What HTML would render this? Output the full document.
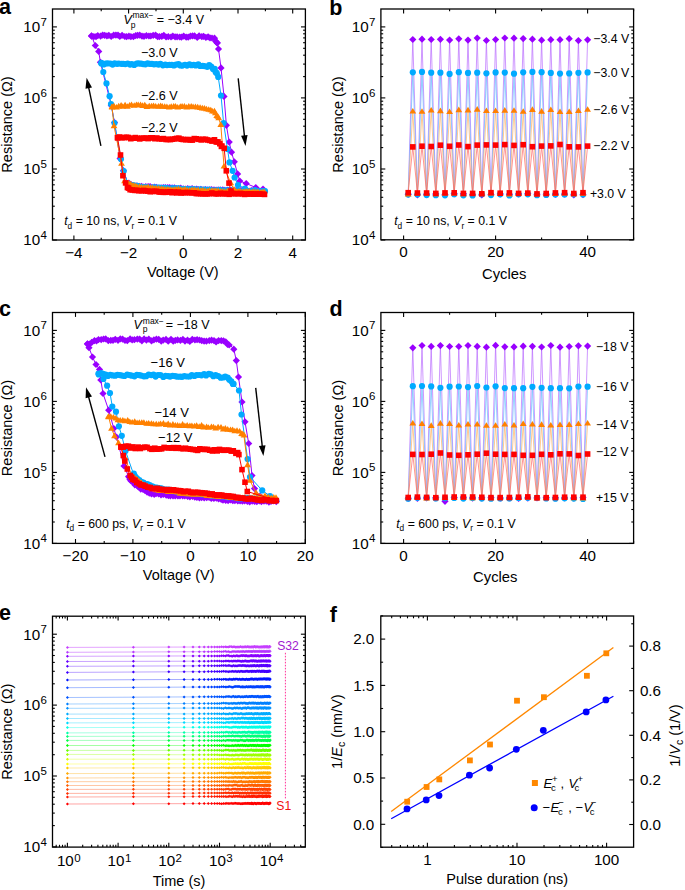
<!DOCTYPE html><html><head><meta charset="utf-8"><style>html,body{margin:0;padding:0;background:#fff;}svg{display:block;}</style></head><body>
<svg width="685" height="890" viewBox="0 0 685 890" style="font-family:'Liberation Sans', sans-serif">
<rect x="0" y="0" width="685" height="890" fill="#fff"/>
<rect x="52.5" y="9.0" width="252.9" height="231.0" fill="none" stroke="#000" stroke-width="1.3"/>
<line x1="73.9" y1="240.0" x2="73.9" y2="235.6" stroke="#000" stroke-width="1.1"/>
<line x1="73.9" y1="9.0" x2="73.9" y2="13.4" stroke="#000" stroke-width="1.1"/>
<line x1="128.6" y1="240.0" x2="128.6" y2="235.6" stroke="#000" stroke-width="1.1"/>
<line x1="128.6" y1="9.0" x2="128.6" y2="13.4" stroke="#000" stroke-width="1.1"/>
<line x1="183.3" y1="240.0" x2="183.3" y2="235.6" stroke="#000" stroke-width="1.1"/>
<line x1="183.3" y1="9.0" x2="183.3" y2="13.4" stroke="#000" stroke-width="1.1"/>
<line x1="238.0" y1="240.0" x2="238.0" y2="235.6" stroke="#000" stroke-width="1.1"/>
<line x1="238.0" y1="9.0" x2="238.0" y2="13.4" stroke="#000" stroke-width="1.1"/>
<line x1="292.7" y1="240.0" x2="292.7" y2="235.6" stroke="#000" stroke-width="1.1"/>
<line x1="292.7" y1="9.0" x2="292.7" y2="13.4" stroke="#000" stroke-width="1.1"/>
<line x1="101.2" y1="240.0" x2="101.2" y2="237.7" stroke="#000" stroke-width="1.1"/>
<line x1="101.2" y1="9.0" x2="101.2" y2="11.3" stroke="#000" stroke-width="1.1"/>
<line x1="156.0" y1="240.0" x2="156.0" y2="237.7" stroke="#000" stroke-width="1.1"/>
<line x1="156.0" y1="9.0" x2="156.0" y2="11.3" stroke="#000" stroke-width="1.1"/>
<line x1="210.7" y1="240.0" x2="210.7" y2="237.7" stroke="#000" stroke-width="1.1"/>
<line x1="210.7" y1="9.0" x2="210.7" y2="11.3" stroke="#000" stroke-width="1.1"/>
<line x1="265.4" y1="240.0" x2="265.4" y2="237.7" stroke="#000" stroke-width="1.1"/>
<line x1="265.4" y1="9.0" x2="265.4" y2="11.3" stroke="#000" stroke-width="1.1"/>
<line x1="52.5" y1="240.0" x2="56.9" y2="240.0" stroke="#000" stroke-width="1.1"/>
<line x1="305.4" y1="240.0" x2="301.0" y2="240.0" stroke="#000" stroke-width="1.1"/>
<line x1="52.5" y1="169.0" x2="56.9" y2="169.0" stroke="#000" stroke-width="1.1"/>
<line x1="305.4" y1="169.0" x2="301.0" y2="169.0" stroke="#000" stroke-width="1.1"/>
<line x1="52.5" y1="97.9" x2="56.9" y2="97.9" stroke="#000" stroke-width="1.1"/>
<line x1="305.4" y1="97.9" x2="301.0" y2="97.9" stroke="#000" stroke-width="1.1"/>
<line x1="52.5" y1="26.9" x2="56.9" y2="26.9" stroke="#000" stroke-width="1.1"/>
<line x1="305.4" y1="26.9" x2="301.0" y2="26.9" stroke="#000" stroke-width="1.1"/>
<line x1="52.5" y1="218.7" x2="54.8" y2="218.7" stroke="#000" stroke-width="1.1"/>
<line x1="305.4" y1="218.7" x2="303.1" y2="218.7" stroke="#000" stroke-width="1.1"/>
<line x1="52.5" y1="206.2" x2="54.8" y2="206.2" stroke="#000" stroke-width="1.1"/>
<line x1="305.4" y1="206.2" x2="303.1" y2="206.2" stroke="#000" stroke-width="1.1"/>
<line x1="52.5" y1="197.3" x2="54.8" y2="197.3" stroke="#000" stroke-width="1.1"/>
<line x1="305.4" y1="197.3" x2="303.1" y2="197.3" stroke="#000" stroke-width="1.1"/>
<line x1="52.5" y1="190.4" x2="54.8" y2="190.4" stroke="#000" stroke-width="1.1"/>
<line x1="305.4" y1="190.4" x2="303.1" y2="190.4" stroke="#000" stroke-width="1.1"/>
<line x1="52.5" y1="184.8" x2="54.8" y2="184.8" stroke="#000" stroke-width="1.1"/>
<line x1="305.4" y1="184.8" x2="303.1" y2="184.8" stroke="#000" stroke-width="1.1"/>
<line x1="52.5" y1="180.0" x2="54.8" y2="180.0" stroke="#000" stroke-width="1.1"/>
<line x1="305.4" y1="180.0" x2="303.1" y2="180.0" stroke="#000" stroke-width="1.1"/>
<line x1="52.5" y1="175.9" x2="54.8" y2="175.9" stroke="#000" stroke-width="1.1"/>
<line x1="305.4" y1="175.9" x2="303.1" y2="175.9" stroke="#000" stroke-width="1.1"/>
<line x1="52.5" y1="172.3" x2="54.8" y2="172.3" stroke="#000" stroke-width="1.1"/>
<line x1="305.4" y1="172.3" x2="303.1" y2="172.3" stroke="#000" stroke-width="1.1"/>
<line x1="52.5" y1="147.6" x2="54.8" y2="147.6" stroke="#000" stroke-width="1.1"/>
<line x1="305.4" y1="147.6" x2="303.1" y2="147.6" stroke="#000" stroke-width="1.1"/>
<line x1="52.5" y1="135.1" x2="54.8" y2="135.1" stroke="#000" stroke-width="1.1"/>
<line x1="305.4" y1="135.1" x2="303.1" y2="135.1" stroke="#000" stroke-width="1.1"/>
<line x1="52.5" y1="126.2" x2="54.8" y2="126.2" stroke="#000" stroke-width="1.1"/>
<line x1="305.4" y1="126.2" x2="303.1" y2="126.2" stroke="#000" stroke-width="1.1"/>
<line x1="52.5" y1="119.3" x2="54.8" y2="119.3" stroke="#000" stroke-width="1.1"/>
<line x1="305.4" y1="119.3" x2="303.1" y2="119.3" stroke="#000" stroke-width="1.1"/>
<line x1="52.5" y1="113.7" x2="54.8" y2="113.7" stroke="#000" stroke-width="1.1"/>
<line x1="305.4" y1="113.7" x2="303.1" y2="113.7" stroke="#000" stroke-width="1.1"/>
<line x1="52.5" y1="109.0" x2="54.8" y2="109.0" stroke="#000" stroke-width="1.1"/>
<line x1="305.4" y1="109.0" x2="303.1" y2="109.0" stroke="#000" stroke-width="1.1"/>
<line x1="52.5" y1="104.8" x2="54.8" y2="104.8" stroke="#000" stroke-width="1.1"/>
<line x1="305.4" y1="104.8" x2="303.1" y2="104.8" stroke="#000" stroke-width="1.1"/>
<line x1="52.5" y1="101.2" x2="54.8" y2="101.2" stroke="#000" stroke-width="1.1"/>
<line x1="305.4" y1="101.2" x2="303.1" y2="101.2" stroke="#000" stroke-width="1.1"/>
<line x1="52.5" y1="76.6" x2="54.8" y2="76.6" stroke="#000" stroke-width="1.1"/>
<line x1="305.4" y1="76.6" x2="303.1" y2="76.6" stroke="#000" stroke-width="1.1"/>
<line x1="52.5" y1="64.1" x2="54.8" y2="64.1" stroke="#000" stroke-width="1.1"/>
<line x1="305.4" y1="64.1" x2="303.1" y2="64.1" stroke="#000" stroke-width="1.1"/>
<line x1="52.5" y1="55.2" x2="54.8" y2="55.2" stroke="#000" stroke-width="1.1"/>
<line x1="305.4" y1="55.2" x2="303.1" y2="55.2" stroke="#000" stroke-width="1.1"/>
<line x1="52.5" y1="48.3" x2="54.8" y2="48.3" stroke="#000" stroke-width="1.1"/>
<line x1="305.4" y1="48.3" x2="303.1" y2="48.3" stroke="#000" stroke-width="1.1"/>
<line x1="52.5" y1="42.7" x2="54.8" y2="42.7" stroke="#000" stroke-width="1.1"/>
<line x1="305.4" y1="42.7" x2="303.1" y2="42.7" stroke="#000" stroke-width="1.1"/>
<line x1="52.5" y1="37.9" x2="54.8" y2="37.9" stroke="#000" stroke-width="1.1"/>
<line x1="305.4" y1="37.9" x2="303.1" y2="37.9" stroke="#000" stroke-width="1.1"/>
<line x1="52.5" y1="33.8" x2="54.8" y2="33.8" stroke="#000" stroke-width="1.1"/>
<line x1="305.4" y1="33.8" x2="303.1" y2="33.8" stroke="#000" stroke-width="1.1"/>
<line x1="52.5" y1="30.2" x2="54.8" y2="30.2" stroke="#000" stroke-width="1.1"/>
<line x1="305.4" y1="30.2" x2="303.1" y2="30.2" stroke="#000" stroke-width="1.1"/>
<text x="73.9" y="257.8" font-size="15.2" text-anchor="middle" fill="#000">−4</text>
<text x="128.6" y="257.8" font-size="15.2" text-anchor="middle" fill="#000">−2</text>
<text x="183.3" y="257.8" font-size="15.2" text-anchor="middle" fill="#000">0</text>
<text x="238.0" y="257.8" font-size="15.2" text-anchor="middle" fill="#000">2</text>
<text x="292.7" y="257.8" font-size="15.2" text-anchor="middle" fill="#000">4</text>
<text x="40.2" y="245.3" font-size="15.2" text-anchor="end" fill="#000">10</text>
<text x="40.6" y="238.8" font-size="11.5" text-anchor="start" fill="#000">4</text>
<text x="40.2" y="174.3" font-size="15.2" text-anchor="end" fill="#000">10</text>
<text x="40.6" y="167.8" font-size="11.5" text-anchor="start" fill="#000">5</text>
<text x="40.2" y="103.2" font-size="15.2" text-anchor="end" fill="#000">10</text>
<text x="40.6" y="96.7" font-size="11.5" text-anchor="start" fill="#000">6</text>
<text x="40.2" y="32.2" font-size="15.2" text-anchor="end" fill="#000">10</text>
<text x="40.6" y="25.7" font-size="11.5" text-anchor="start" fill="#000">7</text>
<text x="182.8" y="276.9" font-size="14.5" text-anchor="middle" fill="#000">Voltage (V)</text>
<text x="11.8" y="124.5" font-size="14.5" text-anchor="middle" fill="#000" transform="rotate(-90 11.8 124.5)">Resistance (Ω)</text>
<text x="-0.9" y="14.2" font-size="21.5" font-weight="bold">a</text>
<polyline points="91.5,35.8 120.0,35.8 160.0,36.1 200.0,36.6 210.0,37.0 214.5,39.0 217.5,43.0 218.5,49.0 221.0,67.9 224.0,96.4 226.4,125.3 229.2,142.1 231.5,152.2 234.3,161.8 237.6,173.9 239.8,181.0 246.2,183.5 255.8,187.5 263.0,189.0 264.5,191.5 240.0,190.3 200.0,189.3 160.0,187.7 135.0,186.0 128.0,183.5 123.4,170.7 120.1,158.6 114.5,122.5 111.3,105.6 100.4,62.3 98.7,51.4 95.3,45.5 91.5,35.8" fill="none" stroke="#9900ff" stroke-width="1.0" stroke-linejoin="round"/>
<path d="M91.6,32.6L95.2,36.2L91.6,39.8L88.0,36.2Z" fill="#9900ff"/>
<path d="M93.9,33.0L97.5,36.6L93.9,40.2L90.3,36.6Z" fill="#9900ff"/>
<path d="M96.0,33.0L99.6,36.6L96.0,40.2L92.4,36.6Z" fill="#9900ff"/>
<path d="M97.8,32.1L101.4,35.7L97.8,39.3L94.2,35.7Z" fill="#9900ff"/>
<path d="M100.6,32.5L104.2,36.1L100.6,39.7L97.0,36.1Z" fill="#9900ff"/>
<path d="M102.7,31.5L106.3,35.1L102.7,38.7L99.1,35.1Z" fill="#9900ff"/>
<path d="M104.7,31.7L108.3,35.3L104.7,38.9L101.1,35.3Z" fill="#9900ff"/>
<path d="M106.9,32.3L110.5,35.9L106.9,39.5L103.3,35.9Z" fill="#9900ff"/>
<path d="M108.8,31.7L112.4,35.3L108.8,38.9L105.2,35.3Z" fill="#9900ff"/>
<path d="M111.2,32.9L114.8,36.5L111.2,40.1L107.6,36.5Z" fill="#9900ff"/>
<path d="M113.7,31.6L117.3,35.2L113.7,38.8L110.1,35.2Z" fill="#9900ff"/>
<path d="M115.9,31.5L119.5,35.1L115.9,38.7L112.3,35.1Z" fill="#9900ff"/>
<path d="M118.0,31.5L121.6,35.1L118.0,38.7L114.4,35.1Z" fill="#9900ff"/>
<path d="M119.8,32.9L123.4,36.5L119.8,40.1L116.2,36.5Z" fill="#9900ff"/>
<path d="M122.1,31.7L125.7,35.3L122.1,38.9L118.5,35.3Z" fill="#9900ff"/>
<path d="M124.8,32.9L128.4,36.5L124.8,40.1L121.2,36.5Z" fill="#9900ff"/>
<path d="M126.6,33.1L130.2,36.7L126.6,40.3L123.0,36.7Z" fill="#9900ff"/>
<path d="M128.9,32.6L132.5,36.2L128.9,39.8L125.3,36.2Z" fill="#9900ff"/>
<path d="M130.9,33.1L134.5,36.7L130.9,40.3L127.3,36.7Z" fill="#9900ff"/>
<path d="M133.4,33.1L137.0,36.7L133.4,40.3L129.8,36.7Z" fill="#9900ff"/>
<path d="M135.7,32.0L139.3,35.6L135.7,39.2L132.1,35.6Z" fill="#9900ff"/>
<path d="M137.6,31.7L141.2,35.3L137.6,38.9L134.0,35.3Z" fill="#9900ff"/>
<path d="M139.7,31.6L143.3,35.2L139.7,38.8L136.1,35.2Z" fill="#9900ff"/>
<path d="M142.0,32.6L145.6,36.2L142.0,39.8L138.4,36.2Z" fill="#9900ff"/>
<path d="M144.0,32.7L147.6,36.3L144.0,39.9L140.4,36.3Z" fill="#9900ff"/>
<path d="M146.4,32.1L150.0,35.7L146.4,39.3L142.8,35.7Z" fill="#9900ff"/>
<path d="M148.9,32.4L152.5,36.0L148.9,39.6L145.3,36.0Z" fill="#9900ff"/>
<path d="M150.8,32.4L154.4,36.0L150.8,39.6L147.2,36.0Z" fill="#9900ff"/>
<path d="M153.2,31.7L156.8,35.3L153.2,38.9L149.6,35.3Z" fill="#9900ff"/>
<path d="M155.6,31.6L159.2,35.2L155.6,38.8L152.0,35.2Z" fill="#9900ff"/>
<path d="M157.6,33.1L161.2,36.7L157.6,40.3L154.0,36.7Z" fill="#9900ff"/>
<path d="M159.4,33.0L163.0,36.6L159.4,40.2L155.8,36.6Z" fill="#9900ff"/>
<path d="M161.8,32.7L165.4,36.3L161.8,39.9L158.2,36.3Z" fill="#9900ff"/>
<path d="M163.8,31.7L167.4,35.3L163.8,38.9L160.2,35.3Z" fill="#9900ff"/>
<path d="M166.1,33.4L169.7,37.0L166.1,40.6L162.5,37.0Z" fill="#9900ff"/>
<path d="M168.3,33.1L171.9,36.7L168.3,40.3L164.7,36.7Z" fill="#9900ff"/>
<path d="M171.0,33.4L174.6,37.0L171.0,40.6L167.4,37.0Z" fill="#9900ff"/>
<path d="M172.8,32.4L176.4,36.0L172.8,39.6L169.2,36.0Z" fill="#9900ff"/>
<path d="M175.1,33.2L178.7,36.8L175.1,40.4L171.5,36.8Z" fill="#9900ff"/>
<path d="M177.1,33.2L180.7,36.8L177.1,40.4L173.5,36.8Z" fill="#9900ff"/>
<path d="M179.7,33.4L183.3,37.0L179.7,40.6L176.1,37.0Z" fill="#9900ff"/>
<path d="M181.4,33.6L185.0,37.2L181.4,40.8L177.8,37.2Z" fill="#9900ff"/>
<path d="M183.7,32.5L187.3,36.1L183.7,39.7L180.1,36.1Z" fill="#9900ff"/>
<path d="M186.2,33.6L189.8,37.2L186.2,40.8L182.6,37.2Z" fill="#9900ff"/>
<path d="M188.2,33.6L191.8,37.2L188.2,40.8L184.6,37.2Z" fill="#9900ff"/>
<path d="M190.5,32.5L194.1,36.1L190.5,39.7L186.9,36.1Z" fill="#9900ff"/>
<path d="M192.6,32.3L196.2,35.9L192.6,39.5L189.0,35.9Z" fill="#9900ff"/>
<path d="M194.6,32.3L198.2,35.9L194.6,39.5L191.0,35.9Z" fill="#9900ff"/>
<path d="M197.2,33.9L200.8,37.5L197.2,41.1L193.6,37.5Z" fill="#9900ff"/>
<path d="M199.1,32.2L202.7,35.8L199.1,39.4L195.5,35.8Z" fill="#9900ff"/>
<path d="M201.8,33.1L205.4,36.7L201.8,40.3L198.2,36.7Z" fill="#9900ff"/>
<path d="M203.6,32.7L207.2,36.3L203.6,39.9L200.0,36.3Z" fill="#9900ff"/>
<path d="M205.9,33.8L209.5,37.4L205.9,41.0L202.3,37.4Z" fill="#9900ff"/>
<path d="M208.1,33.2L211.7,36.8L208.1,40.4L204.5,36.8Z" fill="#9900ff"/>
<path d="M210.0,34.3L213.6,37.9L210.0,41.5L206.4,37.9Z" fill="#9900ff"/>
<path d="M212.0,34.4L215.6,38.0L212.0,41.6L208.4,38.0Z" fill="#9900ff"/>
<path d="M214.5,34.6L218.1,38.2L214.5,41.8L210.9,38.2Z" fill="#9900ff"/>
<path d="M215.8,37.8L219.4,41.4L215.8,45.0L212.2,41.4Z" fill="#9900ff"/>
<path d="M217.1,39.2L220.7,42.8L217.1,46.4L213.5,42.8Z" fill="#9900ff"/>
<path d="M217.3,39.3L220.9,42.9L217.3,46.5L213.7,42.9Z" fill="#9900ff"/>
<path d="M218.5,45.4L222.1,49.0L218.5,52.6L214.9,49.0Z" fill="#9900ff"/>
<path d="M221.0,64.3L224.6,67.9L221.0,71.5L217.4,67.9Z" fill="#9900ff"/>
<path d="M224.0,92.8L227.6,96.4L224.0,100.0L220.4,96.4Z" fill="#9900ff"/>
<path d="M226.4,121.7L230.0,125.3L226.4,128.9L222.8,125.3Z" fill="#9900ff"/>
<path d="M229.2,138.5L232.8,142.1L229.2,145.7L225.6,142.1Z" fill="#9900ff"/>
<path d="M231.5,148.6L235.1,152.2L231.5,155.8L227.9,152.2Z" fill="#9900ff"/>
<path d="M234.3,158.2L237.9,161.8L234.3,165.4L230.7,161.8Z" fill="#9900ff"/>
<path d="M237.6,170.3L241.2,173.9L237.6,177.5L234.0,173.9Z" fill="#9900ff"/>
<path d="M239.8,177.4L243.4,181.0L239.8,184.6L236.2,181.0Z" fill="#9900ff"/>
<path d="M246.2,179.9L249.8,183.5L246.2,187.1L242.6,183.5Z" fill="#9900ff"/>
<path d="M255.8,183.9L259.4,187.5L255.8,191.1L252.2,187.5Z" fill="#9900ff"/>
<path d="M263.0,185.4L266.6,189.0L263.0,192.6L259.4,189.0Z" fill="#9900ff"/>
<path d="M264.3,188.2L267.9,191.8L264.3,195.4L260.7,191.8Z" fill="#9900ff"/>
<path d="M262.2,187.7L265.8,191.3L262.2,194.9L258.6,191.3Z" fill="#9900ff"/>
<path d="M260.4,188.0L264.0,191.6L260.4,195.2L256.8,191.6Z" fill="#9900ff"/>
<path d="M258.2,187.5L261.8,191.1L258.2,194.7L254.6,191.1Z" fill="#9900ff"/>
<path d="M255.7,187.7L259.3,191.3L255.7,194.9L252.1,191.3Z" fill="#9900ff"/>
<path d="M253.5,187.2L257.1,190.8L253.5,194.4L249.9,190.8Z" fill="#9900ff"/>
<path d="M251.3,186.9L254.9,190.5L251.3,194.1L247.7,190.5Z" fill="#9900ff"/>
<path d="M249.0,187.6L252.6,191.2L249.0,194.8L245.4,191.2Z" fill="#9900ff"/>
<path d="M247.2,187.2L250.8,190.8L247.2,194.4L243.6,190.8Z" fill="#9900ff"/>
<path d="M244.7,186.8L248.3,190.4L244.7,194.0L241.1,190.4Z" fill="#9900ff"/>
<path d="M242.3,186.6L245.9,190.2L242.3,193.8L238.7,190.2Z" fill="#9900ff"/>
<path d="M240.5,187.1L244.1,190.7L240.5,194.3L236.9,190.7Z" fill="#9900ff"/>
<path d="M238.0,186.9L241.6,190.5L238.0,194.1L234.4,190.5Z" fill="#9900ff"/>
<path d="M236.1,186.8L239.7,190.4L236.1,194.0L232.5,190.4Z" fill="#9900ff"/>
<path d="M233.8,186.8L237.4,190.4L233.8,194.0L230.2,190.4Z" fill="#9900ff"/>
<path d="M231.5,186.7L235.1,190.3L231.5,193.9L227.9,190.3Z" fill="#9900ff"/>
<path d="M229.2,186.4L232.8,190.0L229.2,193.6L225.6,190.0Z" fill="#9900ff"/>
<path d="M227.3,186.6L230.9,190.2L227.3,193.8L223.7,190.2Z" fill="#9900ff"/>
<path d="M224.8,186.8L228.4,190.4L224.8,194.0L221.2,190.4Z" fill="#9900ff"/>
<path d="M222.8,186.3L226.4,189.9L222.8,193.5L219.2,189.9Z" fill="#9900ff"/>
<path d="M220.2,186.3L223.8,189.9L220.2,193.5L216.6,189.9Z" fill="#9900ff"/>
<path d="M218.2,186.3L221.8,189.9L218.2,193.5L214.6,189.9Z" fill="#9900ff"/>
<path d="M216.1,186.4L219.7,190.0L216.1,193.6L212.5,190.0Z" fill="#9900ff"/>
<path d="M214.0,186.3L217.6,189.9L214.0,193.5L210.4,189.9Z" fill="#9900ff"/>
<path d="M211.6,186.1L215.2,189.7L211.6,193.3L208.0,189.7Z" fill="#9900ff"/>
<path d="M209.7,186.3L213.3,189.9L209.7,193.5L206.1,189.9Z" fill="#9900ff"/>
<path d="M207.2,186.2L210.8,189.8L207.2,193.4L203.6,189.8Z" fill="#9900ff"/>
<path d="M205.4,186.0L209.0,189.6L205.4,193.2L201.8,189.6Z" fill="#9900ff"/>
<path d="M203.2,186.2L206.8,189.8L203.2,193.4L199.6,189.8Z" fill="#9900ff"/>
<path d="M200.8,185.7L204.4,189.3L200.8,192.9L197.2,189.3Z" fill="#9900ff"/>
<path d="M198.3,186.0L201.9,189.6L198.3,193.2L194.7,189.6Z" fill="#9900ff"/>
<path d="M196.6,185.5L200.2,189.1L196.6,192.7L193.0,189.1Z" fill="#9900ff"/>
<path d="M194.3,185.7L197.9,189.3L194.3,192.9L190.7,189.3Z" fill="#9900ff"/>
<path d="M192.1,185.1L195.7,188.7L192.1,192.3L188.5,188.7Z" fill="#9900ff"/>
<path d="M189.9,185.4L193.5,189.0L189.9,192.6L186.3,189.0Z" fill="#9900ff"/>
<path d="M187.7,185.1L191.3,188.7L187.7,192.3L184.1,188.7Z" fill="#9900ff"/>
<path d="M185.4,185.4L189.0,189.0L185.4,192.6L181.8,189.0Z" fill="#9900ff"/>
<path d="M183.2,185.2L186.8,188.8L183.2,192.4L179.6,188.8Z" fill="#9900ff"/>
<path d="M180.7,184.6L184.3,188.2L180.7,191.8L177.1,188.2Z" fill="#9900ff"/>
<path d="M178.7,185.0L182.3,188.6L178.7,192.2L175.1,188.6Z" fill="#9900ff"/>
<path d="M176.4,184.9L180.0,188.5L176.4,192.1L172.8,188.5Z" fill="#9900ff"/>
<path d="M174.4,184.2L178.0,187.8L174.4,191.4L170.8,187.8Z" fill="#9900ff"/>
<path d="M172.1,184.3L175.7,187.9L172.1,191.5L168.5,187.9Z" fill="#9900ff"/>
<path d="M169.7,184.1L173.3,187.7L169.7,191.3L166.1,187.7Z" fill="#9900ff"/>
<path d="M167.7,184.1L171.3,187.7L167.7,191.3L164.1,187.7Z" fill="#9900ff"/>
<path d="M165.4,183.9L169.0,187.5L165.4,191.1L161.8,187.5Z" fill="#9900ff"/>
<path d="M163.4,184.1L167.0,187.7L163.4,191.3L159.8,187.7Z" fill="#9900ff"/>
<path d="M161.2,184.2L164.8,187.8L161.2,191.4L157.6,187.8Z" fill="#9900ff"/>
<path d="M158.8,184.4L162.4,188.0L158.8,191.6L155.2,188.0Z" fill="#9900ff"/>
<path d="M156.5,183.8L160.1,187.4L156.5,191.0L152.9,187.4Z" fill="#9900ff"/>
<path d="M154.5,183.6L158.1,187.2L154.5,190.8L150.9,187.2Z" fill="#9900ff"/>
<path d="M152.2,183.9L155.8,187.5L152.2,191.1L148.6,187.5Z" fill="#9900ff"/>
<path d="M150.1,183.0L153.7,186.6L150.1,190.2L146.5,186.6Z" fill="#9900ff"/>
<path d="M148.1,182.9L151.7,186.5L148.1,190.1L144.5,186.5Z" fill="#9900ff"/>
<path d="M145.8,183.0L149.4,186.6L145.8,190.2L142.2,186.6Z" fill="#9900ff"/>
<path d="M143.7,183.4L147.3,187.0L143.7,190.6L140.1,187.0Z" fill="#9900ff"/>
<path d="M141.6,182.8L145.2,186.4L141.6,190.0L138.0,186.4Z" fill="#9900ff"/>
<path d="M139.4,182.8L143.0,186.4L139.4,190.0L135.8,186.4Z" fill="#9900ff"/>
<path d="M136.9,182.2L140.5,185.8L136.9,189.4L133.3,185.8Z" fill="#9900ff"/>
<path d="M134.9,182.4L138.5,186.0L134.9,189.6L131.3,186.0Z" fill="#9900ff"/>
<path d="M133.0,182.1L136.6,185.7L133.0,189.3L129.4,185.7Z" fill="#9900ff"/>
<path d="M130.8,180.7L134.4,184.3L130.8,187.9L127.2,184.3Z" fill="#9900ff"/>
<path d="M128.9,179.6L132.5,183.2L128.9,186.8L125.3,183.2Z" fill="#9900ff"/>
<path d="M127.8,180.0L131.4,183.6L127.8,187.2L124.2,183.6Z" fill="#9900ff"/>
<path d="M123.4,167.1L127.0,170.7L123.4,174.3L119.8,170.7Z" fill="#9900ff"/>
<path d="M120.1,155.0L123.7,158.6L120.1,162.2L116.5,158.6Z" fill="#9900ff"/>
<path d="M114.5,118.9L118.1,122.5L114.5,126.1L110.9,122.5Z" fill="#9900ff"/>
<path d="M111.3,102.0L114.9,105.6L111.3,109.2L107.7,105.6Z" fill="#9900ff"/>
<path d="M100.4,58.7L104.0,62.3L100.4,65.9L96.8,62.3Z" fill="#9900ff"/>
<path d="M98.7,47.8L102.3,51.4L98.7,55.0L95.1,51.4Z" fill="#9900ff"/>
<path d="M95.3,41.9L98.9,45.5L95.3,49.1L91.7,45.5Z" fill="#9900ff"/>
<path d="M91.5,32.2L95.1,35.8L91.5,39.4L87.9,35.8Z" fill="#9900ff"/>
<polyline points="101.3,63.6 150.0,64.2 200.0,65.3 209.0,66.0 214.0,68.8 217.0,73.0 218.2,76.9 221.0,95.5 223.6,123.0 227.5,149.0 229.5,162.4 232.6,170.8 234.6,177.5 238.0,185.0 245.0,188.5 255.0,190.0 265.0,191.0 264.5,191.8 200.0,189.8 160.0,188.1 135.0,186.1 128.0,184.0 123.7,171.0 121.0,159.0 114.5,123.0 111.0,104.0 109.6,96.2 106.5,83.4 103.3,72.0 101.3,63.6" fill="none" stroke="#00aaff" stroke-width="1.0" stroke-linejoin="round"/>
<circle cx="101.4" cy="62.9" r="3.1" fill="#00aaff"/>
<circle cx="103.6" cy="64.4" r="3.1" fill="#00aaff"/>
<circle cx="105.6" cy="63.5" r="3.1" fill="#00aaff"/>
<circle cx="107.7" cy="63.3" r="3.1" fill="#00aaff"/>
<circle cx="110.4" cy="63.5" r="3.1" fill="#00aaff"/>
<circle cx="112.6" cy="64.6" r="3.1" fill="#00aaff"/>
<circle cx="114.6" cy="63.3" r="3.1" fill="#00aaff"/>
<circle cx="117.0" cy="63.8" r="3.1" fill="#00aaff"/>
<circle cx="118.8" cy="63.5" r="3.1" fill="#00aaff"/>
<circle cx="121.4" cy="63.8" r="3.1" fill="#00aaff"/>
<circle cx="123.2" cy="63.8" r="3.1" fill="#00aaff"/>
<circle cx="125.3" cy="64.1" r="3.1" fill="#00aaff"/>
<circle cx="127.7" cy="63.5" r="3.1" fill="#00aaff"/>
<circle cx="130.1" cy="64.6" r="3.1" fill="#00aaff"/>
<circle cx="131.8" cy="64.0" r="3.1" fill="#00aaff"/>
<circle cx="134.2" cy="64.9" r="3.1" fill="#00aaff"/>
<circle cx="136.7" cy="63.5" r="3.1" fill="#00aaff"/>
<circle cx="138.6" cy="63.4" r="3.1" fill="#00aaff"/>
<circle cx="141.2" cy="63.7" r="3.1" fill="#00aaff"/>
<circle cx="143.2" cy="64.1" r="3.1" fill="#00aaff"/>
<circle cx="145.4" cy="64.3" r="3.1" fill="#00aaff"/>
<circle cx="147.6" cy="63.4" r="3.1" fill="#00aaff"/>
<circle cx="149.9" cy="63.8" r="3.1" fill="#00aaff"/>
<circle cx="151.9" cy="63.9" r="3.1" fill="#00aaff"/>
<circle cx="154.0" cy="64.3" r="3.1" fill="#00aaff"/>
<circle cx="156.3" cy="64.1" r="3.1" fill="#00aaff"/>
<circle cx="158.6" cy="64.6" r="3.1" fill="#00aaff"/>
<circle cx="160.4" cy="63.9" r="3.1" fill="#00aaff"/>
<circle cx="162.9" cy="65.3" r="3.1" fill="#00aaff"/>
<circle cx="165.3" cy="64.6" r="3.1" fill="#00aaff"/>
<circle cx="167.0" cy="65.1" r="3.1" fill="#00aaff"/>
<circle cx="169.4" cy="64.8" r="3.1" fill="#00aaff"/>
<circle cx="171.8" cy="64.9" r="3.1" fill="#00aaff"/>
<circle cx="173.9" cy="65.5" r="3.1" fill="#00aaff"/>
<circle cx="176.0" cy="64.6" r="3.1" fill="#00aaff"/>
<circle cx="178.5" cy="64.2" r="3.1" fill="#00aaff"/>
<circle cx="180.4" cy="65.5" r="3.1" fill="#00aaff"/>
<circle cx="182.4" cy="65.6" r="3.1" fill="#00aaff"/>
<circle cx="185.0" cy="64.8" r="3.1" fill="#00aaff"/>
<circle cx="187.0" cy="65.6" r="3.1" fill="#00aaff"/>
<circle cx="189.5" cy="64.3" r="3.1" fill="#00aaff"/>
<circle cx="191.5" cy="65.2" r="3.1" fill="#00aaff"/>
<circle cx="193.7" cy="64.8" r="3.1" fill="#00aaff"/>
<circle cx="195.7" cy="65.4" r="3.1" fill="#00aaff"/>
<circle cx="198.3" cy="64.4" r="3.1" fill="#00aaff"/>
<circle cx="200.1" cy="66.0" r="3.1" fill="#00aaff"/>
<circle cx="202.7" cy="65.8" r="3.1" fill="#00aaff"/>
<circle cx="204.4" cy="66.1" r="3.1" fill="#00aaff"/>
<circle cx="207.2" cy="66.8" r="3.1" fill="#00aaff"/>
<circle cx="209.2" cy="65.1" r="3.1" fill="#00aaff"/>
<circle cx="211.2" cy="66.5" r="3.1" fill="#00aaff"/>
<circle cx="213.0" cy="69.1" r="3.1" fill="#00aaff"/>
<circle cx="214.7" cy="68.8" r="3.1" fill="#00aaff"/>
<circle cx="215.7" cy="72.2" r="3.1" fill="#00aaff"/>
<circle cx="216.8" cy="73.2" r="3.1" fill="#00aaff"/>
<circle cx="218.2" cy="76.9" r="3.1" fill="#00aaff"/>
<circle cx="221.0" cy="95.5" r="3.1" fill="#00aaff"/>
<circle cx="223.6" cy="123.0" r="3.1" fill="#00aaff"/>
<circle cx="227.5" cy="149.0" r="3.1" fill="#00aaff"/>
<circle cx="229.5" cy="162.4" r="3.1" fill="#00aaff"/>
<circle cx="232.6" cy="170.8" r="3.1" fill="#00aaff"/>
<circle cx="234.6" cy="177.5" r="3.1" fill="#00aaff"/>
<circle cx="238.0" cy="185.0" r="3.1" fill="#00aaff"/>
<circle cx="245.0" cy="188.5" r="3.1" fill="#00aaff"/>
<circle cx="255.0" cy="190.0" r="3.1" fill="#00aaff"/>
<circle cx="265.0" cy="191.0" r="3.1" fill="#00aaff"/>
<circle cx="264.4" cy="191.4" r="3.1" fill="#00aaff"/>
<circle cx="262.4" cy="191.2" r="3.1" fill="#00aaff"/>
<circle cx="259.9" cy="191.5" r="3.1" fill="#00aaff"/>
<circle cx="257.6" cy="191.1" r="3.1" fill="#00aaff"/>
<circle cx="255.7" cy="191.8" r="3.1" fill="#00aaff"/>
<circle cx="253.7" cy="191.1" r="3.1" fill="#00aaff"/>
<circle cx="251.3" cy="191.2" r="3.1" fill="#00aaff"/>
<circle cx="249.2" cy="191.3" r="3.1" fill="#00aaff"/>
<circle cx="247.2" cy="191.1" r="3.1" fill="#00aaff"/>
<circle cx="244.4" cy="191.4" r="3.1" fill="#00aaff"/>
<circle cx="242.3" cy="191.3" r="3.1" fill="#00aaff"/>
<circle cx="240.3" cy="191.5" r="3.1" fill="#00aaff"/>
<circle cx="238.1" cy="191.1" r="3.1" fill="#00aaff"/>
<circle cx="235.8" cy="191.0" r="3.1" fill="#00aaff"/>
<circle cx="233.6" cy="191.1" r="3.1" fill="#00aaff"/>
<circle cx="231.5" cy="190.4" r="3.1" fill="#00aaff"/>
<circle cx="229.2" cy="190.6" r="3.1" fill="#00aaff"/>
<circle cx="227.3" cy="190.3" r="3.1" fill="#00aaff"/>
<circle cx="225.0" cy="190.7" r="3.1" fill="#00aaff"/>
<circle cx="222.5" cy="190.7" r="3.1" fill="#00aaff"/>
<circle cx="220.3" cy="190.0" r="3.1" fill="#00aaff"/>
<circle cx="218.4" cy="190.1" r="3.1" fill="#00aaff"/>
<circle cx="216.3" cy="190.3" r="3.1" fill="#00aaff"/>
<circle cx="213.8" cy="190.6" r="3.1" fill="#00aaff"/>
<circle cx="211.4" cy="190.4" r="3.1" fill="#00aaff"/>
<circle cx="209.3" cy="189.7" r="3.1" fill="#00aaff"/>
<circle cx="207.6" cy="190.2" r="3.1" fill="#00aaff"/>
<circle cx="205.0" cy="189.5" r="3.1" fill="#00aaff"/>
<circle cx="203.2" cy="190.1" r="3.1" fill="#00aaff"/>
<circle cx="200.9" cy="189.4" r="3.1" fill="#00aaff"/>
<circle cx="198.6" cy="189.6" r="3.1" fill="#00aaff"/>
<circle cx="196.2" cy="189.5" r="3.1" fill="#00aaff"/>
<circle cx="194.2" cy="189.4" r="3.1" fill="#00aaff"/>
<circle cx="191.9" cy="189.1" r="3.1" fill="#00aaff"/>
<circle cx="189.9" cy="189.5" r="3.1" fill="#00aaff"/>
<circle cx="187.7" cy="189.2" r="3.1" fill="#00aaff"/>
<circle cx="185.6" cy="189.2" r="3.1" fill="#00aaff"/>
<circle cx="183.2" cy="189.2" r="3.1" fill="#00aaff"/>
<circle cx="181.1" cy="188.9" r="3.1" fill="#00aaff"/>
<circle cx="178.5" cy="188.4" r="3.1" fill="#00aaff"/>
<circle cx="176.4" cy="188.3" r="3.1" fill="#00aaff"/>
<circle cx="174.6" cy="188.7" r="3.1" fill="#00aaff"/>
<circle cx="172.3" cy="188.1" r="3.1" fill="#00aaff"/>
<circle cx="169.9" cy="189.0" r="3.1" fill="#00aaff"/>
<circle cx="167.8" cy="188.4" r="3.1" fill="#00aaff"/>
<circle cx="165.5" cy="187.9" r="3.1" fill="#00aaff"/>
<circle cx="163.2" cy="187.9" r="3.1" fill="#00aaff"/>
<circle cx="161.1" cy="188.0" r="3.1" fill="#00aaff"/>
<circle cx="159.2" cy="187.6" r="3.1" fill="#00aaff"/>
<circle cx="156.6" cy="187.6" r="3.1" fill="#00aaff"/>
<circle cx="154.4" cy="187.4" r="3.1" fill="#00aaff"/>
<circle cx="152.2" cy="187.5" r="3.1" fill="#00aaff"/>
<circle cx="149.9" cy="187.8" r="3.1" fill="#00aaff"/>
<circle cx="147.9" cy="187.6" r="3.1" fill="#00aaff"/>
<circle cx="145.9" cy="187.2" r="3.1" fill="#00aaff"/>
<circle cx="143.6" cy="187.3" r="3.1" fill="#00aaff"/>
<circle cx="141.2" cy="186.8" r="3.1" fill="#00aaff"/>
<circle cx="139.1" cy="186.6" r="3.1" fill="#00aaff"/>
<circle cx="137.2" cy="185.9" r="3.1" fill="#00aaff"/>
<circle cx="134.7" cy="185.5" r="3.1" fill="#00aaff"/>
<circle cx="132.6" cy="185.0" r="3.1" fill="#00aaff"/>
<circle cx="130.6" cy="185.3" r="3.1" fill="#00aaff"/>
<circle cx="128.5" cy="184.0" r="3.1" fill="#00aaff"/>
<circle cx="128.0" cy="183.8" r="3.1" fill="#00aaff"/>
<circle cx="123.7" cy="171.0" r="3.1" fill="#00aaff"/>
<circle cx="121.0" cy="159.0" r="3.1" fill="#00aaff"/>
<circle cx="114.5" cy="123.0" r="3.1" fill="#00aaff"/>
<circle cx="111.0" cy="104.0" r="3.1" fill="#00aaff"/>
<circle cx="109.6" cy="96.2" r="3.1" fill="#00aaff"/>
<circle cx="106.5" cy="83.4" r="3.1" fill="#00aaff"/>
<circle cx="103.3" cy="72.0" r="3.1" fill="#00aaff"/>
<circle cx="101.3" cy="63.6" r="3.1" fill="#00aaff"/>
<polyline points="112.0,106.8 130.0,105.5 160.0,106.3 200.0,107.6 209.0,108.8 214.5,111.8 218.5,118.0 220.8,124.7 224.0,166.3 230.7,183.0 234.0,189.5 264.5,192.3 200.0,190.5 160.0,188.8 135.0,186.3 128.0,183.5 124.6,181.0 121.5,163.6 114.0,126.0 112.0,106.8" fill="none" stroke="#ff8000" stroke-width="1.0" stroke-linejoin="round"/>
<path d="M112.1,103.8L115.5,109.4L108.7,109.4Z" fill="#ff8000"/>
<path d="M114.0,102.8L117.4,108.4L110.6,108.4Z" fill="#ff8000"/>
<path d="M116.5,103.9L119.9,109.5L113.1,109.5Z" fill="#ff8000"/>
<path d="M118.7,102.8L122.1,108.4L115.3,108.4Z" fill="#ff8000"/>
<path d="M121.1,101.9L124.5,107.5L117.7,107.5Z" fill="#ff8000"/>
<path d="M122.7,103.2L126.1,108.8L119.3,108.8Z" fill="#ff8000"/>
<path d="M125.1,101.7L128.5,107.3L121.7,107.3Z" fill="#ff8000"/>
<path d="M127.4,103.2L130.8,108.8L124.0,108.8Z" fill="#ff8000"/>
<path d="M129.6,101.9L133.0,107.5L126.2,107.5Z" fill="#ff8000"/>
<path d="M131.5,101.4L134.9,107.0L128.1,107.0Z" fill="#ff8000"/>
<path d="M134.2,102.2L137.6,107.8L130.8,107.8Z" fill="#ff8000"/>
<path d="M136.4,101.5L139.8,107.1L133.0,107.1Z" fill="#ff8000"/>
<path d="M138.2,101.6L141.6,107.2L134.8,107.2Z" fill="#ff8000"/>
<path d="M140.5,101.6L143.9,107.2L137.1,107.2Z" fill="#ff8000"/>
<path d="M142.6,102.3L146.0,107.9L139.2,107.9Z" fill="#ff8000"/>
<path d="M144.8,101.7L148.2,107.3L141.4,107.3Z" fill="#ff8000"/>
<path d="M146.9,103.4L150.3,109.0L143.5,109.0Z" fill="#ff8000"/>
<path d="M149.2,102.7L152.6,108.3L145.8,108.3Z" fill="#ff8000"/>
<path d="M151.5,102.8L154.9,108.4L148.1,108.4Z" fill="#ff8000"/>
<path d="M153.5,102.4L156.9,108.0L150.1,108.0Z" fill="#ff8000"/>
<path d="M155.7,102.9L159.1,108.5L152.3,108.5Z" fill="#ff8000"/>
<path d="M158.4,103.1L161.8,108.7L155.0,108.7Z" fill="#ff8000"/>
<path d="M160.6,102.4L164.0,108.0L157.2,108.0Z" fill="#ff8000"/>
<path d="M162.3,103.1L165.7,108.7L158.9,108.7Z" fill="#ff8000"/>
<path d="M164.7,103.2L168.1,108.8L161.3,108.8Z" fill="#ff8000"/>
<path d="M166.9,103.4L170.3,109.0L163.5,109.0Z" fill="#ff8000"/>
<path d="M169.3,104.0L172.7,109.6L165.9,109.6Z" fill="#ff8000"/>
<path d="M171.2,103.2L174.6,108.8L167.8,108.8Z" fill="#ff8000"/>
<path d="M173.7,102.9L177.1,108.5L170.3,108.5Z" fill="#ff8000"/>
<path d="M175.5,103.1L178.9,108.7L172.1,108.7Z" fill="#ff8000"/>
<path d="M177.7,104.0L181.1,109.6L174.3,109.6Z" fill="#ff8000"/>
<path d="M180.3,103.3L183.7,108.9L176.9,108.9Z" fill="#ff8000"/>
<path d="M182.1,102.9L185.5,108.5L178.7,108.5Z" fill="#ff8000"/>
<path d="M184.4,103.0L187.8,108.6L181.0,108.6Z" fill="#ff8000"/>
<path d="M186.7,103.9L190.1,109.5L183.3,109.5Z" fill="#ff8000"/>
<path d="M188.8,103.1L192.2,108.7L185.4,108.7Z" fill="#ff8000"/>
<path d="M191.2,103.1L194.6,108.7L187.8,108.7Z" fill="#ff8000"/>
<path d="M193.1,103.6L196.5,109.2L189.7,109.2Z" fill="#ff8000"/>
<path d="M195.4,103.4L198.8,109.0L192.0,109.0Z" fill="#ff8000"/>
<path d="M197.7,103.8L201.1,109.4L194.3,109.4Z" fill="#ff8000"/>
<path d="M200.1,104.3L203.5,109.9L196.7,109.9Z" fill="#ff8000"/>
<path d="M202.3,104.8L205.7,110.4L198.9,110.4Z" fill="#ff8000"/>
<path d="M204.4,104.9L207.8,110.5L201.0,110.5Z" fill="#ff8000"/>
<path d="M206.4,105.7L209.8,111.3L203.0,111.3Z" fill="#ff8000"/>
<path d="M208.7,106.2L212.1,111.8L205.3,111.8Z" fill="#ff8000"/>
<path d="M210.8,106.7L214.2,112.3L207.4,112.3Z" fill="#ff8000"/>
<path d="M212.4,107.9L215.8,113.5L209.0,113.5Z" fill="#ff8000"/>
<path d="M214.4,107.8L217.8,113.4L211.0,113.4Z" fill="#ff8000"/>
<path d="M215.4,109.7L218.8,115.3L212.0,115.3Z" fill="#ff8000"/>
<path d="M216.7,112.4L220.1,118.0L213.3,118.0Z" fill="#ff8000"/>
<path d="M217.9,113.2L221.3,118.8L214.5,118.8Z" fill="#ff8000"/>
<path d="M218.7,114.7L222.1,120.3L215.3,120.3Z" fill="#ff8000"/>
<path d="M220.8,121.3L224.2,126.9L217.4,126.9Z" fill="#ff8000"/>
<path d="M224.0,162.9L227.4,168.5L220.6,168.5Z" fill="#ff8000"/>
<path d="M230.7,179.6L234.1,185.2L227.3,185.2Z" fill="#ff8000"/>
<path d="M234.0,186.1L237.4,191.7L230.6,191.7Z" fill="#ff8000"/>
<path d="M264.2,188.5L267.6,194.1L260.8,194.1Z" fill="#ff8000"/>
<path d="M262.1,188.7L265.5,194.3L258.7,194.3Z" fill="#ff8000"/>
<path d="M260.3,189.3L263.7,194.9L256.9,194.9Z" fill="#ff8000"/>
<path d="M258.0,188.5L261.4,194.1L254.6,194.1Z" fill="#ff8000"/>
<path d="M255.7,188.6L259.1,194.2L252.3,194.2Z" fill="#ff8000"/>
<path d="M253.4,188.2L256.8,193.8L250.0,193.8Z" fill="#ff8000"/>
<path d="M251.4,188.9L254.8,194.5L248.0,194.5Z" fill="#ff8000"/>
<path d="M249.2,188.1L252.6,193.7L245.8,193.7Z" fill="#ff8000"/>
<path d="M246.9,188.1L250.3,193.7L243.5,193.7Z" fill="#ff8000"/>
<path d="M244.8,188.3L248.2,193.9L241.4,193.9Z" fill="#ff8000"/>
<path d="M242.8,188.6L246.2,194.2L239.4,194.2Z" fill="#ff8000"/>
<path d="M240.1,188.1L243.5,193.7L236.7,193.7Z" fill="#ff8000"/>
<path d="M238.4,188.2L241.8,193.8L235.0,193.8Z" fill="#ff8000"/>
<path d="M235.9,188.1L239.3,193.7L232.5,193.7Z" fill="#ff8000"/>
<path d="M233.9,188.5L237.3,194.1L230.5,194.1Z" fill="#ff8000"/>
<path d="M231.5,188.5L234.9,194.1L228.1,194.1Z" fill="#ff8000"/>
<path d="M229.4,187.6L232.8,193.2L226.0,193.2Z" fill="#ff8000"/>
<path d="M227.3,187.8L230.7,193.4L223.9,193.4Z" fill="#ff8000"/>
<path d="M224.6,188.3L228.0,193.9L221.2,193.9Z" fill="#ff8000"/>
<path d="M222.4,187.9L225.8,193.5L219.0,193.5Z" fill="#ff8000"/>
<path d="M220.5,188.1L223.9,193.7L217.1,193.7Z" fill="#ff8000"/>
<path d="M218.3,187.4L221.7,193.0L214.9,193.0Z" fill="#ff8000"/>
<path d="M216.0,187.3L219.4,192.9L212.6,192.9Z" fill="#ff8000"/>
<path d="M214.0,187.4L217.4,193.0L210.6,193.0Z" fill="#ff8000"/>
<path d="M211.9,187.2L215.3,192.8L208.5,192.8Z" fill="#ff8000"/>
<path d="M209.4,187.2L212.8,192.8L206.0,192.8Z" fill="#ff8000"/>
<path d="M207.6,187.7L211.0,193.3L204.2,193.3Z" fill="#ff8000"/>
<path d="M205.3,187.4L208.7,193.0L201.9,193.0Z" fill="#ff8000"/>
<path d="M202.9,186.9L206.3,192.5L199.5,192.5Z" fill="#ff8000"/>
<path d="M200.9,187.2L204.3,192.8L197.5,192.8Z" fill="#ff8000"/>
<path d="M198.2,186.8L201.6,192.4L194.8,192.4Z" fill="#ff8000"/>
<path d="M196.1,187.2L199.5,192.8L192.7,192.8Z" fill="#ff8000"/>
<path d="M194.4,186.6L197.8,192.2L191.0,192.2Z" fill="#ff8000"/>
<path d="M192.1,186.6L195.5,192.2L188.7,192.2Z" fill="#ff8000"/>
<path d="M189.8,187.1L193.2,192.7L186.4,192.7Z" fill="#ff8000"/>
<path d="M187.6,186.9L191.0,192.5L184.2,192.5Z" fill="#ff8000"/>
<path d="M185.3,186.0L188.7,191.6L181.9,191.6Z" fill="#ff8000"/>
<path d="M183.1,186.5L186.5,192.1L179.7,192.1Z" fill="#ff8000"/>
<path d="M180.8,186.2L184.2,191.8L177.4,191.8Z" fill="#ff8000"/>
<path d="M178.6,185.8L182.0,191.4L175.2,191.4Z" fill="#ff8000"/>
<path d="M176.4,186.0L179.8,191.6L173.0,191.6Z" fill="#ff8000"/>
<path d="M174.3,186.3L177.7,191.9L170.9,191.9Z" fill="#ff8000"/>
<path d="M172.1,186.4L175.5,192.0L168.7,192.0Z" fill="#ff8000"/>
<path d="M170.1,186.3L173.5,191.9L166.7,191.9Z" fill="#ff8000"/>
<path d="M167.9,185.9L171.3,191.5L164.5,191.5Z" fill="#ff8000"/>
<path d="M165.6,186.0L169.0,191.6L162.2,191.6Z" fill="#ff8000"/>
<path d="M163.3,185.7L166.7,191.3L159.9,191.3Z" fill="#ff8000"/>
<path d="M161.3,185.5L164.7,191.1L157.9,191.1Z" fill="#ff8000"/>
<path d="M158.8,184.9L162.2,190.5L155.4,190.5Z" fill="#ff8000"/>
<path d="M156.5,185.0L159.9,190.6L153.1,190.6Z" fill="#ff8000"/>
<path d="M154.6,185.2L158.0,190.8L151.2,190.8Z" fill="#ff8000"/>
<path d="M152.5,184.5L155.9,190.1L149.1,190.1Z" fill="#ff8000"/>
<path d="M150.5,184.2L153.9,189.8L147.1,189.8Z" fill="#ff8000"/>
<path d="M148.2,183.8L151.6,189.4L144.8,189.4Z" fill="#ff8000"/>
<path d="M146.0,184.2L149.4,189.8L142.6,189.8Z" fill="#ff8000"/>
<path d="M143.9,184.2L147.3,189.8L140.5,189.8Z" fill="#ff8000"/>
<path d="M141.6,183.9L145.0,189.5L138.2,189.5Z" fill="#ff8000"/>
<path d="M139.4,183.5L142.8,189.1L136.0,189.1Z" fill="#ff8000"/>
<path d="M136.9,183.2L140.3,188.8L133.5,188.8Z" fill="#ff8000"/>
<path d="M135.1,182.6L138.5,188.2L131.7,188.2Z" fill="#ff8000"/>
<path d="M133.1,182.1L136.5,187.7L129.7,187.7Z" fill="#ff8000"/>
<path d="M130.7,180.8L134.1,186.4L127.3,186.4Z" fill="#ff8000"/>
<path d="M128.7,180.1L132.1,185.7L125.3,185.7Z" fill="#ff8000"/>
<path d="M128.1,180.5L131.5,186.1L124.7,186.1Z" fill="#ff8000"/>
<path d="M124.6,177.6L128.0,183.2L121.2,183.2Z" fill="#ff8000"/>
<path d="M121.5,160.2L124.9,165.8L118.1,165.8Z" fill="#ff8000"/>
<path d="M114.0,122.6L117.4,128.2L110.6,128.2Z" fill="#ff8000"/>
<path d="M112.0,103.4L115.4,109.0L108.6,109.0Z" fill="#ff8000"/>
<polyline points="117.5,137.6 140.0,138.2 180.0,139.0 205.0,139.5 214.0,140.5 219.0,143.0 222.0,146.5 224.2,148.3 226.3,170.8 229.0,183.1 231.0,191.0 264.5,194.2 230.0,193.8 200.0,193.3 160.0,191.9 130.0,189.8 127.5,187.5 125.6,182.9 122.9,175.7 120.5,155.0 117.5,137.6" fill="none" stroke="#ff0000" stroke-width="1.0" stroke-linejoin="round"/>
<rect x="114.9" y="135.0" width="5.6" height="5.6" fill="#ff0000"/>
<rect x="116.8" y="134.2" width="5.6" height="5.6" fill="#ff0000"/>
<rect x="119.2" y="135.0" width="5.6" height="5.6" fill="#ff0000"/>
<rect x="121.4" y="134.7" width="5.6" height="5.6" fill="#ff0000"/>
<rect x="123.7" y="134.5" width="5.6" height="5.6" fill="#ff0000"/>
<rect x="125.6" y="134.7" width="5.6" height="5.6" fill="#ff0000"/>
<rect x="128.0" y="135.9" width="5.6" height="5.6" fill="#ff0000"/>
<rect x="129.9" y="135.4" width="5.6" height="5.6" fill="#ff0000"/>
<rect x="132.5" y="134.8" width="5.6" height="5.6" fill="#ff0000"/>
<rect x="134.2" y="135.4" width="5.6" height="5.6" fill="#ff0000"/>
<rect x="136.9" y="136.1" width="5.6" height="5.6" fill="#ff0000"/>
<rect x="139.0" y="135.3" width="5.6" height="5.6" fill="#ff0000"/>
<rect x="141.0" y="135.5" width="5.6" height="5.6" fill="#ff0000"/>
<rect x="143.5" y="135.2" width="5.6" height="5.6" fill="#ff0000"/>
<rect x="145.4" y="135.8" width="5.6" height="5.6" fill="#ff0000"/>
<rect x="148.0" y="135.0" width="5.6" height="5.6" fill="#ff0000"/>
<rect x="149.6" y="135.0" width="5.6" height="5.6" fill="#ff0000"/>
<rect x="152.1" y="135.9" width="5.6" height="5.6" fill="#ff0000"/>
<rect x="154.1" y="135.2" width="5.6" height="5.6" fill="#ff0000"/>
<rect x="156.5" y="136.0" width="5.6" height="5.6" fill="#ff0000"/>
<rect x="158.8" y="136.2" width="5.6" height="5.6" fill="#ff0000"/>
<rect x="160.6" y="135.8" width="5.6" height="5.6" fill="#ff0000"/>
<rect x="163.3" y="136.7" width="5.6" height="5.6" fill="#ff0000"/>
<rect x="165.2" y="136.6" width="5.6" height="5.6" fill="#ff0000"/>
<rect x="167.6" y="136.8" width="5.6" height="5.6" fill="#ff0000"/>
<rect x="169.5" y="136.4" width="5.6" height="5.6" fill="#ff0000"/>
<rect x="172.1" y="136.1" width="5.6" height="5.6" fill="#ff0000"/>
<rect x="173.8" y="135.6" width="5.6" height="5.6" fill="#ff0000"/>
<rect x="176.1" y="135.4" width="5.6" height="5.6" fill="#ff0000"/>
<rect x="178.3" y="136.4" width="5.6" height="5.6" fill="#ff0000"/>
<rect x="180.4" y="136.7" width="5.6" height="5.6" fill="#ff0000"/>
<rect x="183.0" y="136.9" width="5.6" height="5.6" fill="#ff0000"/>
<rect x="185.3" y="136.7" width="5.6" height="5.6" fill="#ff0000"/>
<rect x="187.5" y="137.2" width="5.6" height="5.6" fill="#ff0000"/>
<rect x="189.6" y="137.3" width="5.6" height="5.6" fill="#ff0000"/>
<rect x="191.4" y="135.8" width="5.6" height="5.6" fill="#ff0000"/>
<rect x="193.6" y="136.0" width="5.6" height="5.6" fill="#ff0000"/>
<rect x="196.0" y="136.5" width="5.6" height="5.6" fill="#ff0000"/>
<rect x="198.4" y="137.1" width="5.6" height="5.6" fill="#ff0000"/>
<rect x="200.2" y="136.5" width="5.6" height="5.6" fill="#ff0000"/>
<rect x="202.7" y="136.5" width="5.6" height="5.6" fill="#ff0000"/>
<rect x="204.6" y="137.2" width="5.6" height="5.6" fill="#ff0000"/>
<rect x="207.0" y="137.6" width="5.6" height="5.6" fill="#ff0000"/>
<rect x="209.2" y="138.3" width="5.6" height="5.6" fill="#ff0000"/>
<rect x="211.7" y="137.0" width="5.6" height="5.6" fill="#ff0000"/>
<rect x="213.5" y="139.2" width="5.6" height="5.6" fill="#ff0000"/>
<rect x="215.2" y="139.1" width="5.6" height="5.6" fill="#ff0000"/>
<rect x="217.0" y="140.9" width="5.6" height="5.6" fill="#ff0000"/>
<rect x="218.6" y="143.6" width="5.6" height="5.6" fill="#ff0000"/>
<rect x="219.1" y="143.3" width="5.6" height="5.6" fill="#ff0000"/>
<rect x="221.4" y="145.5" width="5.6" height="5.6" fill="#ff0000"/>
<rect x="223.5" y="168.0" width="5.6" height="5.6" fill="#ff0000"/>
<rect x="226.2" y="180.3" width="5.6" height="5.6" fill="#ff0000"/>
<rect x="228.2" y="188.2" width="5.6" height="5.6" fill="#ff0000"/>
<rect x="261.7" y="191.6" width="5.6" height="5.6" fill="#ff0000"/>
<rect x="259.7" y="191.4" width="5.6" height="5.6" fill="#ff0000"/>
<rect x="257.2" y="191.2" width="5.6" height="5.6" fill="#ff0000"/>
<rect x="255.3" y="191.3" width="5.6" height="5.6" fill="#ff0000"/>
<rect x="252.6" y="191.2" width="5.6" height="5.6" fill="#ff0000"/>
<rect x="250.5" y="191.4" width="5.6" height="5.6" fill="#ff0000"/>
<rect x="248.2" y="191.0" width="5.6" height="5.6" fill="#ff0000"/>
<rect x="246.1" y="191.2" width="5.6" height="5.6" fill="#ff0000"/>
<rect x="244.4" y="191.2" width="5.6" height="5.6" fill="#ff0000"/>
<rect x="241.8" y="191.6" width="5.6" height="5.6" fill="#ff0000"/>
<rect x="239.5" y="191.0" width="5.6" height="5.6" fill="#ff0000"/>
<rect x="237.7" y="190.6" width="5.6" height="5.6" fill="#ff0000"/>
<rect x="235.5" y="191.0" width="5.6" height="5.6" fill="#ff0000"/>
<rect x="232.8" y="190.8" width="5.6" height="5.6" fill="#ff0000"/>
<rect x="230.9" y="190.9" width="5.6" height="5.6" fill="#ff0000"/>
<rect x="228.7" y="190.6" width="5.6" height="5.6" fill="#ff0000"/>
<rect x="226.3" y="191.5" width="5.6" height="5.6" fill="#ff0000"/>
<rect x="224.3" y="190.9" width="5.6" height="5.6" fill="#ff0000"/>
<rect x="221.9" y="190.7" width="5.6" height="5.6" fill="#ff0000"/>
<rect x="220.2" y="191.1" width="5.6" height="5.6" fill="#ff0000"/>
<rect x="217.7" y="190.4" width="5.6" height="5.6" fill="#ff0000"/>
<rect x="215.4" y="191.1" width="5.6" height="5.6" fill="#ff0000"/>
<rect x="213.3" y="190.9" width="5.6" height="5.6" fill="#ff0000"/>
<rect x="211.3" y="190.9" width="5.6" height="5.6" fill="#ff0000"/>
<rect x="209.0" y="190.2" width="5.6" height="5.6" fill="#ff0000"/>
<rect x="206.4" y="190.9" width="5.6" height="5.6" fill="#ff0000"/>
<rect x="204.5" y="191.0" width="5.6" height="5.6" fill="#ff0000"/>
<rect x="202.5" y="191.0" width="5.6" height="5.6" fill="#ff0000"/>
<rect x="200.0" y="191.0" width="5.6" height="5.6" fill="#ff0000"/>
<rect x="198.1" y="190.9" width="5.6" height="5.6" fill="#ff0000"/>
<rect x="195.5" y="190.7" width="5.6" height="5.6" fill="#ff0000"/>
<rect x="193.5" y="190.8" width="5.6" height="5.6" fill="#ff0000"/>
<rect x="191.6" y="190.0" width="5.6" height="5.6" fill="#ff0000"/>
<rect x="189.1" y="190.0" width="5.6" height="5.6" fill="#ff0000"/>
<rect x="186.9" y="189.9" width="5.6" height="5.6" fill="#ff0000"/>
<rect x="184.8" y="189.7" width="5.6" height="5.6" fill="#ff0000"/>
<rect x="182.3" y="189.9" width="5.6" height="5.6" fill="#ff0000"/>
<rect x="180.1" y="189.8" width="5.6" height="5.6" fill="#ff0000"/>
<rect x="178.4" y="190.2" width="5.6" height="5.6" fill="#ff0000"/>
<rect x="175.7" y="189.3" width="5.6" height="5.6" fill="#ff0000"/>
<rect x="173.9" y="190.1" width="5.6" height="5.6" fill="#ff0000"/>
<rect x="171.6" y="189.2" width="5.6" height="5.6" fill="#ff0000"/>
<rect x="169.2" y="189.9" width="5.6" height="5.6" fill="#ff0000"/>
<rect x="167.4" y="189.0" width="5.6" height="5.6" fill="#ff0000"/>
<rect x="164.7" y="189.3" width="5.6" height="5.6" fill="#ff0000"/>
<rect x="162.6" y="189.5" width="5.6" height="5.6" fill="#ff0000"/>
<rect x="160.5" y="189.5" width="5.6" height="5.6" fill="#ff0000"/>
<rect x="158.1" y="189.2" width="5.6" height="5.6" fill="#ff0000"/>
<rect x="156.4" y="189.2" width="5.6" height="5.6" fill="#ff0000"/>
<rect x="153.7" y="188.5" width="5.6" height="5.6" fill="#ff0000"/>
<rect x="151.8" y="188.6" width="5.6" height="5.6" fill="#ff0000"/>
<rect x="149.5" y="188.5" width="5.6" height="5.6" fill="#ff0000"/>
<rect x="147.4" y="188.9" width="5.6" height="5.6" fill="#ff0000"/>
<rect x="145.0" y="188.3" width="5.6" height="5.6" fill="#ff0000"/>
<rect x="142.8" y="188.1" width="5.6" height="5.6" fill="#ff0000"/>
<rect x="140.9" y="187.6" width="5.6" height="5.6" fill="#ff0000"/>
<rect x="138.6" y="188.0" width="5.6" height="5.6" fill="#ff0000"/>
<rect x="136.1" y="187.9" width="5.6" height="5.6" fill="#ff0000"/>
<rect x="134.1" y="187.5" width="5.6" height="5.6" fill="#ff0000"/>
<rect x="132.1" y="187.6" width="5.6" height="5.6" fill="#ff0000"/>
<rect x="129.5" y="187.2" width="5.6" height="5.6" fill="#ff0000"/>
<rect x="127.3" y="186.9" width="5.6" height="5.6" fill="#ff0000"/>
<rect x="125.8" y="185.3" width="5.6" height="5.6" fill="#ff0000"/>
<rect x="124.6" y="184.7" width="5.6" height="5.6" fill="#ff0000"/>
<rect x="122.8" y="180.1" width="5.6" height="5.6" fill="#ff0000"/>
<rect x="120.1" y="172.9" width="5.6" height="5.6" fill="#ff0000"/>
<rect x="117.7" y="152.2" width="5.6" height="5.6" fill="#ff0000"/>
<rect x="114.7" y="134.8" width="5.6" height="5.6" fill="#ff0000"/>
<line x1="100.9" y1="145.8" x2="88.6" y2="87.1" stroke="#000" stroke-width="1.4"/>
<path d="M86.6,77.7L92.0,87.4L85.5,88.8Z" fill="#000"/>
<line x1="238.2" y1="78.4" x2="244.5" y2="136.5" stroke="#000" stroke-width="1.4"/>
<path d="M245.5,146.0L241.1,135.8L247.6,135.1Z" fill="#000"/>
<text x="141.0" y="56.5" font-size="12.6" text-anchor="start" fill="#000">−3.0 V</text>
<text x="141.0" y="99.6" font-size="12.6" text-anchor="start" fill="#000">−2.6 V</text>
<text x="141.0" y="131.8" font-size="12.6" text-anchor="start" fill="#000">−2.2 V</text>
<text x="123.6" y="23.8" font-size="12.5" text-anchor="start" fill="#000" style="font-style:italic;">V</text>
<text x="130.8" y="28.2" font-size="8.5" text-anchor="start" fill="#000">p</text>
<text x="132.5" y="18.1" font-size="8.5" text-anchor="start" fill="#000">max−</text>
<text x="156.8" y="23.8" font-size="12.5" text-anchor="start" fill="#000">= −3.4 V</text>
<text x="64.2" y="225.4" font-size="12.3"><tspan font-style="italic">t</tspan><tspan font-size="8.3" dy="3.3">d</tspan><tspan dy="-3.3"> = 10 ns, </tspan><tspan font-style="italic">V</tspan><tspan font-size="8.3" dy="3.3">r</tspan><tspan dy="-3.3"> = 0.1 V</tspan></text>
<rect x="380.9" y="9.0" width="252.7" height="230.8" fill="none" stroke="#000" stroke-width="1.3"/>
<line x1="403.6" y1="239.8" x2="403.6" y2="235.4" stroke="#000" stroke-width="1.1"/>
<line x1="403.6" y1="9.0" x2="403.6" y2="13.4" stroke="#000" stroke-width="1.1"/>
<line x1="495.6" y1="239.8" x2="495.6" y2="235.4" stroke="#000" stroke-width="1.1"/>
<line x1="495.6" y1="9.0" x2="495.6" y2="13.4" stroke="#000" stroke-width="1.1"/>
<line x1="587.6" y1="239.8" x2="587.6" y2="235.4" stroke="#000" stroke-width="1.1"/>
<line x1="587.6" y1="9.0" x2="587.6" y2="13.4" stroke="#000" stroke-width="1.1"/>
<line x1="449.6" y1="239.8" x2="449.6" y2="237.5" stroke="#000" stroke-width="1.1"/>
<line x1="449.6" y1="9.0" x2="449.6" y2="11.3" stroke="#000" stroke-width="1.1"/>
<line x1="541.6" y1="239.8" x2="541.6" y2="237.5" stroke="#000" stroke-width="1.1"/>
<line x1="541.6" y1="9.0" x2="541.6" y2="11.3" stroke="#000" stroke-width="1.1"/>
<line x1="633.6" y1="239.8" x2="633.6" y2="237.5" stroke="#000" stroke-width="1.1"/>
<line x1="633.6" y1="9.0" x2="633.6" y2="11.3" stroke="#000" stroke-width="1.1"/>
<line x1="380.9" y1="240.0" x2="385.3" y2="240.0" stroke="#000" stroke-width="1.1"/>
<line x1="633.6" y1="240.0" x2="629.2" y2="240.0" stroke="#000" stroke-width="1.1"/>
<line x1="380.9" y1="169.0" x2="385.3" y2="169.0" stroke="#000" stroke-width="1.1"/>
<line x1="633.6" y1="169.0" x2="629.2" y2="169.0" stroke="#000" stroke-width="1.1"/>
<line x1="380.9" y1="97.9" x2="385.3" y2="97.9" stroke="#000" stroke-width="1.1"/>
<line x1="633.6" y1="97.9" x2="629.2" y2="97.9" stroke="#000" stroke-width="1.1"/>
<line x1="380.9" y1="26.9" x2="385.3" y2="26.9" stroke="#000" stroke-width="1.1"/>
<line x1="633.6" y1="26.9" x2="629.2" y2="26.9" stroke="#000" stroke-width="1.1"/>
<line x1="380.9" y1="218.7" x2="383.2" y2="218.7" stroke="#000" stroke-width="1.1"/>
<line x1="633.6" y1="218.7" x2="631.3" y2="218.7" stroke="#000" stroke-width="1.1"/>
<line x1="380.9" y1="206.2" x2="383.2" y2="206.2" stroke="#000" stroke-width="1.1"/>
<line x1="633.6" y1="206.2" x2="631.3" y2="206.2" stroke="#000" stroke-width="1.1"/>
<line x1="380.9" y1="197.3" x2="383.2" y2="197.3" stroke="#000" stroke-width="1.1"/>
<line x1="633.6" y1="197.3" x2="631.3" y2="197.3" stroke="#000" stroke-width="1.1"/>
<line x1="380.9" y1="190.4" x2="383.2" y2="190.4" stroke="#000" stroke-width="1.1"/>
<line x1="633.6" y1="190.4" x2="631.3" y2="190.4" stroke="#000" stroke-width="1.1"/>
<line x1="380.9" y1="184.8" x2="383.2" y2="184.8" stroke="#000" stroke-width="1.1"/>
<line x1="633.6" y1="184.8" x2="631.3" y2="184.8" stroke="#000" stroke-width="1.1"/>
<line x1="380.9" y1="180.0" x2="383.2" y2="180.0" stroke="#000" stroke-width="1.1"/>
<line x1="633.6" y1="180.0" x2="631.3" y2="180.0" stroke="#000" stroke-width="1.1"/>
<line x1="380.9" y1="175.9" x2="383.2" y2="175.9" stroke="#000" stroke-width="1.1"/>
<line x1="633.6" y1="175.9" x2="631.3" y2="175.9" stroke="#000" stroke-width="1.1"/>
<line x1="380.9" y1="172.3" x2="383.2" y2="172.3" stroke="#000" stroke-width="1.1"/>
<line x1="633.6" y1="172.3" x2="631.3" y2="172.3" stroke="#000" stroke-width="1.1"/>
<line x1="380.9" y1="147.6" x2="383.2" y2="147.6" stroke="#000" stroke-width="1.1"/>
<line x1="633.6" y1="147.6" x2="631.3" y2="147.6" stroke="#000" stroke-width="1.1"/>
<line x1="380.9" y1="135.1" x2="383.2" y2="135.1" stroke="#000" stroke-width="1.1"/>
<line x1="633.6" y1="135.1" x2="631.3" y2="135.1" stroke="#000" stroke-width="1.1"/>
<line x1="380.9" y1="126.2" x2="383.2" y2="126.2" stroke="#000" stroke-width="1.1"/>
<line x1="633.6" y1="126.2" x2="631.3" y2="126.2" stroke="#000" stroke-width="1.1"/>
<line x1="380.9" y1="119.3" x2="383.2" y2="119.3" stroke="#000" stroke-width="1.1"/>
<line x1="633.6" y1="119.3" x2="631.3" y2="119.3" stroke="#000" stroke-width="1.1"/>
<line x1="380.9" y1="113.7" x2="383.2" y2="113.7" stroke="#000" stroke-width="1.1"/>
<line x1="633.6" y1="113.7" x2="631.3" y2="113.7" stroke="#000" stroke-width="1.1"/>
<line x1="380.9" y1="109.0" x2="383.2" y2="109.0" stroke="#000" stroke-width="1.1"/>
<line x1="633.6" y1="109.0" x2="631.3" y2="109.0" stroke="#000" stroke-width="1.1"/>
<line x1="380.9" y1="104.8" x2="383.2" y2="104.8" stroke="#000" stroke-width="1.1"/>
<line x1="633.6" y1="104.8" x2="631.3" y2="104.8" stroke="#000" stroke-width="1.1"/>
<line x1="380.9" y1="101.2" x2="383.2" y2="101.2" stroke="#000" stroke-width="1.1"/>
<line x1="633.6" y1="101.2" x2="631.3" y2="101.2" stroke="#000" stroke-width="1.1"/>
<line x1="380.9" y1="76.6" x2="383.2" y2="76.6" stroke="#000" stroke-width="1.1"/>
<line x1="633.6" y1="76.6" x2="631.3" y2="76.6" stroke="#000" stroke-width="1.1"/>
<line x1="380.9" y1="64.1" x2="383.2" y2="64.1" stroke="#000" stroke-width="1.1"/>
<line x1="633.6" y1="64.1" x2="631.3" y2="64.1" stroke="#000" stroke-width="1.1"/>
<line x1="380.9" y1="55.2" x2="383.2" y2="55.2" stroke="#000" stroke-width="1.1"/>
<line x1="633.6" y1="55.2" x2="631.3" y2="55.2" stroke="#000" stroke-width="1.1"/>
<line x1="380.9" y1="48.3" x2="383.2" y2="48.3" stroke="#000" stroke-width="1.1"/>
<line x1="633.6" y1="48.3" x2="631.3" y2="48.3" stroke="#000" stroke-width="1.1"/>
<line x1="380.9" y1="42.7" x2="383.2" y2="42.7" stroke="#000" stroke-width="1.1"/>
<line x1="633.6" y1="42.7" x2="631.3" y2="42.7" stroke="#000" stroke-width="1.1"/>
<line x1="380.9" y1="37.9" x2="383.2" y2="37.9" stroke="#000" stroke-width="1.1"/>
<line x1="633.6" y1="37.9" x2="631.3" y2="37.9" stroke="#000" stroke-width="1.1"/>
<line x1="380.9" y1="33.8" x2="383.2" y2="33.8" stroke="#000" stroke-width="1.1"/>
<line x1="633.6" y1="33.8" x2="631.3" y2="33.8" stroke="#000" stroke-width="1.1"/>
<line x1="380.9" y1="30.2" x2="383.2" y2="30.2" stroke="#000" stroke-width="1.1"/>
<line x1="633.6" y1="30.2" x2="631.3" y2="30.2" stroke="#000" stroke-width="1.1"/>
<text x="403.6" y="257.2" font-size="15.2" text-anchor="middle" fill="#000">0</text>
<text x="495.6" y="257.2" font-size="15.2" text-anchor="middle" fill="#000">20</text>
<text x="587.6" y="257.2" font-size="15.2" text-anchor="middle" fill="#000">40</text>
<text x="368.6" y="245.3" font-size="15.2" text-anchor="end" fill="#000">10</text>
<text x="369.0" y="238.8" font-size="11.5" text-anchor="start" fill="#000">4</text>
<text x="368.6" y="174.3" font-size="15.2" text-anchor="end" fill="#000">10</text>
<text x="369.0" y="167.8" font-size="11.5" text-anchor="start" fill="#000">5</text>
<text x="368.6" y="103.2" font-size="15.2" text-anchor="end" fill="#000">10</text>
<text x="369.0" y="96.7" font-size="11.5" text-anchor="start" fill="#000">6</text>
<text x="368.6" y="32.2" font-size="15.2" text-anchor="end" fill="#000">10</text>
<text x="369.0" y="25.7" font-size="11.5" text-anchor="start" fill="#000">7</text>
<text x="504.2" y="279.4" font-size="14.8" text-anchor="middle" fill="#000">Cycles</text>
<text x="342.7" y="124.5" font-size="14.5" text-anchor="middle" fill="#000" transform="rotate(-90 342.7 124.5)">Resistance (Ω)</text>
<text x="329.3" y="15.0" font-size="21.5" font-weight="bold">b</text>
<polyline points="408.2,194.2 412.8,39.5 417.4,194.8 422.0,39.2 426.6,194.3 431.2,39.5 435.8,193.9 440.4,39.3 445.0,194.5 449.6,40.1 454.2,193.8 458.8,38.8 463.4,193.8 468.0,40.1 472.6,194.5 477.2,38.1 481.8,194.9 486.4,40.5 491.0,194.5 495.6,39.6 500.2,193.9 504.8,38.0 509.4,194.3 514.0,38.2 518.6,193.9 523.2,38.6 527.8,193.7 532.4,39.2 537.0,194.2 541.6,40.2 546.2,194.3 550.8,39.7 555.4,194.3 560.0,39.7 564.6,194.2 569.2,38.7 573.8,194.9 578.4,40.6 583.0,194.7 587.6,39.8" fill="none" stroke="#b766ff" stroke-width="0.8" stroke-linejoin="round" stroke-opacity="0.85"/>
<path d="M408.2,190.6L411.8,194.2L408.2,197.8L404.6,194.2Z" fill="#9900ff"/>
<path d="M412.8,35.9L416.4,39.5L412.8,43.1L409.2,39.5Z" fill="#9900ff"/>
<path d="M417.4,191.2L421.0,194.8L417.4,198.4L413.8,194.8Z" fill="#9900ff"/>
<path d="M422.0,35.6L425.6,39.2L422.0,42.8L418.4,39.2Z" fill="#9900ff"/>
<path d="M426.6,190.7L430.2,194.3L426.6,197.9L423.0,194.3Z" fill="#9900ff"/>
<path d="M431.2,35.9L434.8,39.5L431.2,43.1L427.6,39.5Z" fill="#9900ff"/>
<path d="M435.8,190.3L439.4,193.9L435.8,197.5L432.2,193.9Z" fill="#9900ff"/>
<path d="M440.4,35.7L444.0,39.3L440.4,42.9L436.8,39.3Z" fill="#9900ff"/>
<path d="M445.0,190.9L448.6,194.5L445.0,198.1L441.4,194.5Z" fill="#9900ff"/>
<path d="M449.6,36.5L453.2,40.1L449.6,43.7L446.0,40.1Z" fill="#9900ff"/>
<path d="M454.2,190.2L457.8,193.8L454.2,197.4L450.6,193.8Z" fill="#9900ff"/>
<path d="M458.8,35.2L462.4,38.8L458.8,42.4L455.2,38.8Z" fill="#9900ff"/>
<path d="M463.4,190.2L467.0,193.8L463.4,197.4L459.8,193.8Z" fill="#9900ff"/>
<path d="M468.0,36.5L471.6,40.1L468.0,43.7L464.4,40.1Z" fill="#9900ff"/>
<path d="M472.6,190.9L476.2,194.5L472.6,198.1L469.0,194.5Z" fill="#9900ff"/>
<path d="M477.2,34.5L480.8,38.1L477.2,41.7L473.6,38.1Z" fill="#9900ff"/>
<path d="M481.8,191.3L485.4,194.9L481.8,198.5L478.2,194.9Z" fill="#9900ff"/>
<path d="M486.4,36.9L490.0,40.5L486.4,44.1L482.8,40.5Z" fill="#9900ff"/>
<path d="M491.0,190.9L494.6,194.5L491.0,198.1L487.4,194.5Z" fill="#9900ff"/>
<path d="M495.6,36.0L499.2,39.6L495.6,43.2L492.0,39.6Z" fill="#9900ff"/>
<path d="M500.2,190.3L503.8,193.9L500.2,197.5L496.6,193.9Z" fill="#9900ff"/>
<path d="M504.8,34.4L508.4,38.0L504.8,41.6L501.2,38.0Z" fill="#9900ff"/>
<path d="M509.4,190.7L513.0,194.3L509.4,197.9L505.8,194.3Z" fill="#9900ff"/>
<path d="M514.0,34.6L517.6,38.2L514.0,41.8L510.4,38.2Z" fill="#9900ff"/>
<path d="M518.6,190.3L522.2,193.9L518.6,197.5L515.0,193.9Z" fill="#9900ff"/>
<path d="M523.2,35.0L526.8,38.6L523.2,42.2L519.6,38.6Z" fill="#9900ff"/>
<path d="M527.8,190.1L531.4,193.7L527.8,197.3L524.2,193.7Z" fill="#9900ff"/>
<path d="M532.4,35.6L536.0,39.2L532.4,42.8L528.8,39.2Z" fill="#9900ff"/>
<path d="M537.0,190.6L540.6,194.2L537.0,197.8L533.4,194.2Z" fill="#9900ff"/>
<path d="M541.6,36.6L545.2,40.2L541.6,43.8L538.0,40.2Z" fill="#9900ff"/>
<path d="M546.2,190.7L549.8,194.3L546.2,197.9L542.6,194.3Z" fill="#9900ff"/>
<path d="M550.8,36.1L554.4,39.7L550.8,43.3L547.2,39.7Z" fill="#9900ff"/>
<path d="M555.4,190.7L559.0,194.3L555.4,197.9L551.8,194.3Z" fill="#9900ff"/>
<path d="M560.0,36.1L563.6,39.7L560.0,43.3L556.4,39.7Z" fill="#9900ff"/>
<path d="M564.6,190.6L568.2,194.2L564.6,197.8L561.0,194.2Z" fill="#9900ff"/>
<path d="M569.2,35.1L572.8,38.7L569.2,42.3L565.6,38.7Z" fill="#9900ff"/>
<path d="M573.8,191.3L577.4,194.9L573.8,198.5L570.2,194.9Z" fill="#9900ff"/>
<path d="M578.4,37.0L582.0,40.6L578.4,44.2L574.8,40.6Z" fill="#9900ff"/>
<path d="M583.0,191.1L586.6,194.7L583.0,198.3L579.4,194.7Z" fill="#9900ff"/>
<path d="M587.6,36.2L591.2,39.8L587.6,43.4L584.0,39.8Z" fill="#9900ff"/>
<polyline points="408.2,194.6 412.8,72.3 417.4,194.5 422.0,71.9 426.6,195.1 431.2,72.7 435.8,195.2 440.4,72.7 445.0,195.3 449.6,73.9 454.2,194.2 458.8,72.2 463.4,195.3 468.0,72.9 472.6,195.4 477.2,72.7 481.8,194.3 486.4,73.3 491.0,195.1 495.6,72.4 500.2,194.3 504.8,72.6 509.4,195.4 514.0,73.7 518.6,194.3 523.2,72.3 527.8,194.3 532.4,71.9 537.0,195.2 541.6,72.2 546.2,194.9 550.8,72.9 555.4,194.4 560.0,73.6 564.6,194.4 569.2,73.4 573.8,194.3 578.4,72.8 583.0,194.5 587.6,72.4" fill="none" stroke="#66bbff" stroke-width="0.8" stroke-linejoin="round" stroke-opacity="0.85"/>
<circle cx="408.2" cy="194.6" r="3.1" fill="#00aaff"/>
<circle cx="412.8" cy="72.3" r="3.1" fill="#00aaff"/>
<circle cx="417.4" cy="194.5" r="3.1" fill="#00aaff"/>
<circle cx="422.0" cy="71.9" r="3.1" fill="#00aaff"/>
<circle cx="426.6" cy="195.1" r="3.1" fill="#00aaff"/>
<circle cx="431.2" cy="72.7" r="3.1" fill="#00aaff"/>
<circle cx="435.8" cy="195.2" r="3.1" fill="#00aaff"/>
<circle cx="440.4" cy="72.7" r="3.1" fill="#00aaff"/>
<circle cx="445.0" cy="195.3" r="3.1" fill="#00aaff"/>
<circle cx="449.6" cy="73.9" r="3.1" fill="#00aaff"/>
<circle cx="454.2" cy="194.2" r="3.1" fill="#00aaff"/>
<circle cx="458.8" cy="72.2" r="3.1" fill="#00aaff"/>
<circle cx="463.4" cy="195.3" r="3.1" fill="#00aaff"/>
<circle cx="468.0" cy="72.9" r="3.1" fill="#00aaff"/>
<circle cx="472.6" cy="195.4" r="3.1" fill="#00aaff"/>
<circle cx="477.2" cy="72.7" r="3.1" fill="#00aaff"/>
<circle cx="481.8" cy="194.3" r="3.1" fill="#00aaff"/>
<circle cx="486.4" cy="73.3" r="3.1" fill="#00aaff"/>
<circle cx="491.0" cy="195.1" r="3.1" fill="#00aaff"/>
<circle cx="495.6" cy="72.4" r="3.1" fill="#00aaff"/>
<circle cx="500.2" cy="194.3" r="3.1" fill="#00aaff"/>
<circle cx="504.8" cy="72.6" r="3.1" fill="#00aaff"/>
<circle cx="509.4" cy="195.4" r="3.1" fill="#00aaff"/>
<circle cx="514.0" cy="73.7" r="3.1" fill="#00aaff"/>
<circle cx="518.6" cy="194.3" r="3.1" fill="#00aaff"/>
<circle cx="523.2" cy="72.3" r="3.1" fill="#00aaff"/>
<circle cx="527.8" cy="194.3" r="3.1" fill="#00aaff"/>
<circle cx="532.4" cy="71.9" r="3.1" fill="#00aaff"/>
<circle cx="537.0" cy="195.2" r="3.1" fill="#00aaff"/>
<circle cx="541.6" cy="72.2" r="3.1" fill="#00aaff"/>
<circle cx="546.2" cy="194.9" r="3.1" fill="#00aaff"/>
<circle cx="550.8" cy="72.9" r="3.1" fill="#00aaff"/>
<circle cx="555.4" cy="194.4" r="3.1" fill="#00aaff"/>
<circle cx="560.0" cy="73.6" r="3.1" fill="#00aaff"/>
<circle cx="564.6" cy="194.4" r="3.1" fill="#00aaff"/>
<circle cx="569.2" cy="73.4" r="3.1" fill="#00aaff"/>
<circle cx="573.8" cy="194.3" r="3.1" fill="#00aaff"/>
<circle cx="578.4" cy="72.8" r="3.1" fill="#00aaff"/>
<circle cx="583.0" cy="194.5" r="3.1" fill="#00aaff"/>
<circle cx="587.6" cy="72.4" r="3.1" fill="#00aaff"/>
<polyline points="408.2,194.2 412.8,111.4 417.4,193.4 422.0,111.6 426.6,193.3 431.2,110.3 435.8,194.0 440.4,111.0 445.0,193.1 449.6,111.9 454.2,193.3 458.8,110.0 463.4,193.9 468.0,110.2 472.6,193.4 477.2,109.5 481.8,193.1 486.4,110.8 491.0,193.3 495.6,110.9 500.2,193.4 504.8,110.5 509.4,194.2 514.0,110.6 518.6,193.7 523.2,111.6 527.8,193.2 532.4,109.7 537.0,194.1 541.6,111.4 546.2,193.3 550.8,109.8 555.4,193.9 560.0,111.7 564.6,193.2 569.2,111.8 573.8,194.1 578.4,110.9 583.0,193.5 587.6,109.6" fill="none" stroke="#ffb060" stroke-width="0.8" stroke-linejoin="round" stroke-opacity="0.85"/>
<path d="M408.2,190.8L411.6,196.4L404.8,196.4Z" fill="#ff8000"/>
<path d="M412.8,108.0L416.2,113.6L409.4,113.6Z" fill="#ff8000"/>
<path d="M417.4,190.0L420.8,195.6L414.0,195.6Z" fill="#ff8000"/>
<path d="M422.0,108.2L425.4,113.8L418.6,113.8Z" fill="#ff8000"/>
<path d="M426.6,189.9L430.0,195.5L423.2,195.5Z" fill="#ff8000"/>
<path d="M431.2,107.0L434.6,112.6L427.8,112.6Z" fill="#ff8000"/>
<path d="M435.8,190.7L439.2,196.3L432.4,196.3Z" fill="#ff8000"/>
<path d="M440.4,107.6L443.8,113.2L437.0,113.2Z" fill="#ff8000"/>
<path d="M445.0,189.8L448.4,195.4L441.6,195.4Z" fill="#ff8000"/>
<path d="M449.6,108.5L453.0,114.1L446.2,114.1Z" fill="#ff8000"/>
<path d="M454.2,189.9L457.6,195.5L450.8,195.5Z" fill="#ff8000"/>
<path d="M458.8,106.6L462.2,112.2L455.4,112.2Z" fill="#ff8000"/>
<path d="M463.4,190.6L466.8,196.2L460.0,196.2Z" fill="#ff8000"/>
<path d="M468.0,106.8L471.4,112.4L464.6,112.4Z" fill="#ff8000"/>
<path d="M472.6,190.0L476.0,195.6L469.2,195.6Z" fill="#ff8000"/>
<path d="M477.2,106.1L480.6,111.7L473.8,111.7Z" fill="#ff8000"/>
<path d="M481.8,189.7L485.2,195.3L478.4,195.3Z" fill="#ff8000"/>
<path d="M486.4,107.5L489.8,113.1L483.0,113.1Z" fill="#ff8000"/>
<path d="M491.0,189.9L494.4,195.5L487.6,195.5Z" fill="#ff8000"/>
<path d="M495.6,107.5L499.0,113.1L492.2,113.1Z" fill="#ff8000"/>
<path d="M500.2,190.1L503.6,195.7L496.8,195.7Z" fill="#ff8000"/>
<path d="M504.8,107.1L508.2,112.7L501.4,112.7Z" fill="#ff8000"/>
<path d="M509.4,190.8L512.8,196.4L506.0,196.4Z" fill="#ff8000"/>
<path d="M514.0,107.2L517.4,112.8L510.6,112.8Z" fill="#ff8000"/>
<path d="M518.6,190.3L522.0,195.9L515.2,195.9Z" fill="#ff8000"/>
<path d="M523.2,108.2L526.6,113.8L519.8,113.8Z" fill="#ff8000"/>
<path d="M527.8,189.9L531.2,195.5L524.4,195.5Z" fill="#ff8000"/>
<path d="M532.4,106.3L535.8,111.9L529.0,111.9Z" fill="#ff8000"/>
<path d="M537.0,190.7L540.4,196.3L533.6,196.3Z" fill="#ff8000"/>
<path d="M541.6,108.1L545.0,113.7L538.2,113.7Z" fill="#ff8000"/>
<path d="M546.2,189.9L549.6,195.5L542.8,195.5Z" fill="#ff8000"/>
<path d="M550.8,106.4L554.2,112.0L547.4,112.0Z" fill="#ff8000"/>
<path d="M555.4,190.5L558.8,196.1L552.0,196.1Z" fill="#ff8000"/>
<path d="M560.0,108.4L563.4,114.0L556.6,114.0Z" fill="#ff8000"/>
<path d="M564.6,189.9L568.0,195.5L561.2,195.5Z" fill="#ff8000"/>
<path d="M569.2,108.4L572.6,114.0L565.8,114.0Z" fill="#ff8000"/>
<path d="M573.8,190.7L577.2,196.3L570.4,196.3Z" fill="#ff8000"/>
<path d="M578.4,107.5L581.8,113.1L575.0,113.1Z" fill="#ff8000"/>
<path d="M583.0,190.1L586.4,195.7L579.6,195.7Z" fill="#ff8000"/>
<path d="M587.6,106.2L591.0,111.8L584.2,111.8Z" fill="#ff8000"/>
<polyline points="408.2,192.7 412.8,146.9 417.4,193.0 422.0,146.2 426.6,193.0 431.2,146.5 435.8,193.4 440.4,145.2 445.0,192.9 449.6,146.3 454.2,192.8 458.8,145.0 463.4,193.4 468.0,146.6 472.6,193.4 477.2,145.1 481.8,193.8 486.4,144.9 491.0,192.7 495.6,145.1 500.2,193.2 504.8,144.6 509.4,192.9 514.0,145.4 518.6,193.4 523.2,144.7 527.8,193.1 532.4,146.7 537.0,193.9 541.6,146.1 546.2,193.5 550.8,145.9 555.4,192.9 560.0,144.5 564.6,192.7 569.2,146.8 573.8,193.5 578.4,146.9 583.0,192.7 587.6,146.1" fill="none" stroke="#ff6060" stroke-width="0.8" stroke-linejoin="round" stroke-opacity="0.85"/>
<rect x="405.4" y="189.9" width="5.6" height="5.6" fill="#ff0000"/>
<rect x="410.0" y="144.1" width="5.6" height="5.6" fill="#ff0000"/>
<rect x="414.6" y="190.2" width="5.6" height="5.6" fill="#ff0000"/>
<rect x="419.2" y="143.4" width="5.6" height="5.6" fill="#ff0000"/>
<rect x="423.8" y="190.2" width="5.6" height="5.6" fill="#ff0000"/>
<rect x="428.4" y="143.7" width="5.6" height="5.6" fill="#ff0000"/>
<rect x="433.0" y="190.6" width="5.6" height="5.6" fill="#ff0000"/>
<rect x="437.6" y="142.4" width="5.6" height="5.6" fill="#ff0000"/>
<rect x="442.2" y="190.1" width="5.6" height="5.6" fill="#ff0000"/>
<rect x="446.8" y="143.5" width="5.6" height="5.6" fill="#ff0000"/>
<rect x="451.4" y="190.0" width="5.6" height="5.6" fill="#ff0000"/>
<rect x="456.0" y="142.2" width="5.6" height="5.6" fill="#ff0000"/>
<rect x="460.6" y="190.6" width="5.6" height="5.6" fill="#ff0000"/>
<rect x="465.2" y="143.8" width="5.6" height="5.6" fill="#ff0000"/>
<rect x="469.8" y="190.6" width="5.6" height="5.6" fill="#ff0000"/>
<rect x="474.4" y="142.3" width="5.6" height="5.6" fill="#ff0000"/>
<rect x="479.0" y="191.0" width="5.6" height="5.6" fill="#ff0000"/>
<rect x="483.6" y="142.1" width="5.6" height="5.6" fill="#ff0000"/>
<rect x="488.2" y="189.9" width="5.6" height="5.6" fill="#ff0000"/>
<rect x="492.8" y="142.3" width="5.6" height="5.6" fill="#ff0000"/>
<rect x="497.4" y="190.4" width="5.6" height="5.6" fill="#ff0000"/>
<rect x="502.0" y="141.8" width="5.6" height="5.6" fill="#ff0000"/>
<rect x="506.6" y="190.1" width="5.6" height="5.6" fill="#ff0000"/>
<rect x="511.2" y="142.6" width="5.6" height="5.6" fill="#ff0000"/>
<rect x="515.8" y="190.6" width="5.6" height="5.6" fill="#ff0000"/>
<rect x="520.4" y="141.9" width="5.6" height="5.6" fill="#ff0000"/>
<rect x="525.0" y="190.3" width="5.6" height="5.6" fill="#ff0000"/>
<rect x="529.6" y="143.9" width="5.6" height="5.6" fill="#ff0000"/>
<rect x="534.2" y="191.1" width="5.6" height="5.6" fill="#ff0000"/>
<rect x="538.8" y="143.3" width="5.6" height="5.6" fill="#ff0000"/>
<rect x="543.4" y="190.7" width="5.6" height="5.6" fill="#ff0000"/>
<rect x="548.0" y="143.1" width="5.6" height="5.6" fill="#ff0000"/>
<rect x="552.6" y="190.1" width="5.6" height="5.6" fill="#ff0000"/>
<rect x="557.2" y="141.7" width="5.6" height="5.6" fill="#ff0000"/>
<rect x="561.8" y="189.9" width="5.6" height="5.6" fill="#ff0000"/>
<rect x="566.4" y="144.0" width="5.6" height="5.6" fill="#ff0000"/>
<rect x="571.0" y="190.7" width="5.6" height="5.6" fill="#ff0000"/>
<rect x="575.6" y="144.1" width="5.6" height="5.6" fill="#ff0000"/>
<rect x="580.2" y="189.9" width="5.6" height="5.6" fill="#ff0000"/>
<rect x="584.8" y="143.3" width="5.6" height="5.6" fill="#ff0000"/>
<text x="593.3" y="42.8" font-size="12.3" text-anchor="start" fill="#000">−3.4 V</text>
<text x="593.3" y="76.6" font-size="12.3" text-anchor="start" fill="#000">−3.0 V</text>
<text x="593.3" y="114.3" font-size="12.3" text-anchor="start" fill="#000">−2.6 V</text>
<text x="593.3" y="149.7" font-size="12.3" text-anchor="start" fill="#000">−2.2 V</text>
<text x="589.9" y="197.9" font-size="12.3" text-anchor="start" fill="#000">+3.0 V</text>
<text x="394.2" y="225.4" font-size="12.3"><tspan font-style="italic">t</tspan><tspan font-size="8.3" dy="3.3">d</tspan><tspan dy="-3.3"> = 10 ns, </tspan><tspan font-style="italic">V</tspan><tspan font-size="8.3" dy="3.3">r</tspan><tspan dy="-3.3"> = 0.1 V</tspan></text>
<rect x="52.5" y="312.5" width="252.8" height="230.9" fill="none" stroke="#000" stroke-width="1.3"/>
<line x1="75.5" y1="543.4" x2="75.5" y2="539.0" stroke="#000" stroke-width="1.1"/>
<line x1="75.5" y1="312.5" x2="75.5" y2="316.9" stroke="#000" stroke-width="1.1"/>
<line x1="132.9" y1="543.4" x2="132.9" y2="539.0" stroke="#000" stroke-width="1.1"/>
<line x1="132.9" y1="312.5" x2="132.9" y2="316.9" stroke="#000" stroke-width="1.1"/>
<line x1="190.4" y1="543.4" x2="190.4" y2="539.0" stroke="#000" stroke-width="1.1"/>
<line x1="190.4" y1="312.5" x2="190.4" y2="316.9" stroke="#000" stroke-width="1.1"/>
<line x1="247.9" y1="543.4" x2="247.9" y2="539.0" stroke="#000" stroke-width="1.1"/>
<line x1="247.9" y1="312.5" x2="247.9" y2="316.9" stroke="#000" stroke-width="1.1"/>
<line x1="305.3" y1="543.4" x2="305.3" y2="539.0" stroke="#000" stroke-width="1.1"/>
<line x1="305.3" y1="312.5" x2="305.3" y2="316.9" stroke="#000" stroke-width="1.1"/>
<line x1="104.2" y1="543.4" x2="104.2" y2="541.1" stroke="#000" stroke-width="1.1"/>
<line x1="104.2" y1="312.5" x2="104.2" y2="314.8" stroke="#000" stroke-width="1.1"/>
<line x1="161.7" y1="543.4" x2="161.7" y2="541.1" stroke="#000" stroke-width="1.1"/>
<line x1="161.7" y1="312.5" x2="161.7" y2="314.8" stroke="#000" stroke-width="1.1"/>
<line x1="219.1" y1="543.4" x2="219.1" y2="541.1" stroke="#000" stroke-width="1.1"/>
<line x1="219.1" y1="312.5" x2="219.1" y2="314.8" stroke="#000" stroke-width="1.1"/>
<line x1="276.6" y1="543.4" x2="276.6" y2="541.1" stroke="#000" stroke-width="1.1"/>
<line x1="276.6" y1="312.5" x2="276.6" y2="314.8" stroke="#000" stroke-width="1.1"/>
<line x1="52.5" y1="543.4" x2="56.9" y2="543.4" stroke="#000" stroke-width="1.1"/>
<line x1="305.3" y1="543.4" x2="300.9" y2="543.4" stroke="#000" stroke-width="1.1"/>
<line x1="52.5" y1="472.4" x2="56.9" y2="472.4" stroke="#000" stroke-width="1.1"/>
<line x1="305.3" y1="472.4" x2="300.9" y2="472.4" stroke="#000" stroke-width="1.1"/>
<line x1="52.5" y1="401.4" x2="56.9" y2="401.4" stroke="#000" stroke-width="1.1"/>
<line x1="305.3" y1="401.4" x2="300.9" y2="401.4" stroke="#000" stroke-width="1.1"/>
<line x1="52.5" y1="330.4" x2="56.9" y2="330.4" stroke="#000" stroke-width="1.1"/>
<line x1="305.3" y1="330.4" x2="300.9" y2="330.4" stroke="#000" stroke-width="1.1"/>
<line x1="52.5" y1="522.0" x2="54.8" y2="522.0" stroke="#000" stroke-width="1.1"/>
<line x1="305.3" y1="522.0" x2="303.0" y2="522.0" stroke="#000" stroke-width="1.1"/>
<line x1="52.5" y1="509.5" x2="54.8" y2="509.5" stroke="#000" stroke-width="1.1"/>
<line x1="305.3" y1="509.5" x2="303.0" y2="509.5" stroke="#000" stroke-width="1.1"/>
<line x1="52.5" y1="500.7" x2="54.8" y2="500.7" stroke="#000" stroke-width="1.1"/>
<line x1="305.3" y1="500.7" x2="303.0" y2="500.7" stroke="#000" stroke-width="1.1"/>
<line x1="52.5" y1="493.8" x2="54.8" y2="493.8" stroke="#000" stroke-width="1.1"/>
<line x1="305.3" y1="493.8" x2="303.0" y2="493.8" stroke="#000" stroke-width="1.1"/>
<line x1="52.5" y1="488.2" x2="54.8" y2="488.2" stroke="#000" stroke-width="1.1"/>
<line x1="305.3" y1="488.2" x2="303.0" y2="488.2" stroke="#000" stroke-width="1.1"/>
<line x1="52.5" y1="483.4" x2="54.8" y2="483.4" stroke="#000" stroke-width="1.1"/>
<line x1="305.3" y1="483.4" x2="303.0" y2="483.4" stroke="#000" stroke-width="1.1"/>
<line x1="52.5" y1="479.3" x2="54.8" y2="479.3" stroke="#000" stroke-width="1.1"/>
<line x1="305.3" y1="479.3" x2="303.0" y2="479.3" stroke="#000" stroke-width="1.1"/>
<line x1="52.5" y1="475.6" x2="54.8" y2="475.6" stroke="#000" stroke-width="1.1"/>
<line x1="305.3" y1="475.6" x2="303.0" y2="475.6" stroke="#000" stroke-width="1.1"/>
<line x1="52.5" y1="451.0" x2="54.8" y2="451.0" stroke="#000" stroke-width="1.1"/>
<line x1="305.3" y1="451.0" x2="303.0" y2="451.0" stroke="#000" stroke-width="1.1"/>
<line x1="52.5" y1="438.5" x2="54.8" y2="438.5" stroke="#000" stroke-width="1.1"/>
<line x1="305.3" y1="438.5" x2="303.0" y2="438.5" stroke="#000" stroke-width="1.1"/>
<line x1="52.5" y1="429.7" x2="54.8" y2="429.7" stroke="#000" stroke-width="1.1"/>
<line x1="305.3" y1="429.7" x2="303.0" y2="429.7" stroke="#000" stroke-width="1.1"/>
<line x1="52.5" y1="422.8" x2="54.8" y2="422.8" stroke="#000" stroke-width="1.1"/>
<line x1="305.3" y1="422.8" x2="303.0" y2="422.8" stroke="#000" stroke-width="1.1"/>
<line x1="52.5" y1="417.2" x2="54.8" y2="417.2" stroke="#000" stroke-width="1.1"/>
<line x1="305.3" y1="417.2" x2="303.0" y2="417.2" stroke="#000" stroke-width="1.1"/>
<line x1="52.5" y1="412.4" x2="54.8" y2="412.4" stroke="#000" stroke-width="1.1"/>
<line x1="305.3" y1="412.4" x2="303.0" y2="412.4" stroke="#000" stroke-width="1.1"/>
<line x1="52.5" y1="408.3" x2="54.8" y2="408.3" stroke="#000" stroke-width="1.1"/>
<line x1="305.3" y1="408.3" x2="303.0" y2="408.3" stroke="#000" stroke-width="1.1"/>
<line x1="52.5" y1="404.6" x2="54.8" y2="404.6" stroke="#000" stroke-width="1.1"/>
<line x1="305.3" y1="404.6" x2="303.0" y2="404.6" stroke="#000" stroke-width="1.1"/>
<line x1="52.5" y1="380.0" x2="54.8" y2="380.0" stroke="#000" stroke-width="1.1"/>
<line x1="305.3" y1="380.0" x2="303.0" y2="380.0" stroke="#000" stroke-width="1.1"/>
<line x1="52.5" y1="367.5" x2="54.8" y2="367.5" stroke="#000" stroke-width="1.1"/>
<line x1="305.3" y1="367.5" x2="303.0" y2="367.5" stroke="#000" stroke-width="1.1"/>
<line x1="52.5" y1="358.7" x2="54.8" y2="358.7" stroke="#000" stroke-width="1.1"/>
<line x1="305.3" y1="358.7" x2="303.0" y2="358.7" stroke="#000" stroke-width="1.1"/>
<line x1="52.5" y1="351.8" x2="54.8" y2="351.8" stroke="#000" stroke-width="1.1"/>
<line x1="305.3" y1="351.8" x2="303.0" y2="351.8" stroke="#000" stroke-width="1.1"/>
<line x1="52.5" y1="346.2" x2="54.8" y2="346.2" stroke="#000" stroke-width="1.1"/>
<line x1="305.3" y1="346.2" x2="303.0" y2="346.2" stroke="#000" stroke-width="1.1"/>
<line x1="52.5" y1="341.4" x2="54.8" y2="341.4" stroke="#000" stroke-width="1.1"/>
<line x1="305.3" y1="341.4" x2="303.0" y2="341.4" stroke="#000" stroke-width="1.1"/>
<line x1="52.5" y1="337.3" x2="54.8" y2="337.3" stroke="#000" stroke-width="1.1"/>
<line x1="305.3" y1="337.3" x2="303.0" y2="337.3" stroke="#000" stroke-width="1.1"/>
<line x1="52.5" y1="333.6" x2="54.8" y2="333.6" stroke="#000" stroke-width="1.1"/>
<line x1="305.3" y1="333.6" x2="303.0" y2="333.6" stroke="#000" stroke-width="1.1"/>
<text x="75.5" y="561.2" font-size="15.2" text-anchor="middle" fill="#000">−20</text>
<text x="132.9" y="561.2" font-size="15.2" text-anchor="middle" fill="#000">−10</text>
<text x="190.4" y="561.2" font-size="15.2" text-anchor="middle" fill="#000">0</text>
<text x="247.9" y="561.2" font-size="15.2" text-anchor="middle" fill="#000">10</text>
<text x="305.3" y="561.2" font-size="15.2" text-anchor="middle" fill="#000">20</text>
<text x="40.2" y="548.7" font-size="15.2" text-anchor="end" fill="#000">10</text>
<text x="40.6" y="542.2" font-size="11.5" text-anchor="start" fill="#000">4</text>
<text x="40.2" y="477.7" font-size="15.2" text-anchor="end" fill="#000">10</text>
<text x="40.6" y="471.2" font-size="11.5" text-anchor="start" fill="#000">5</text>
<text x="40.2" y="406.7" font-size="15.2" text-anchor="end" fill="#000">10</text>
<text x="40.6" y="400.2" font-size="11.5" text-anchor="start" fill="#000">6</text>
<text x="40.2" y="335.7" font-size="15.2" text-anchor="end" fill="#000">10</text>
<text x="40.6" y="329.2" font-size="11.5" text-anchor="start" fill="#000">7</text>
<text x="178.7" y="580.4" font-size="14.5" text-anchor="middle" fill="#000">Voltage (V)</text>
<text x="11.8" y="428.0" font-size="14.5" text-anchor="middle" fill="#000" transform="rotate(-90 11.8 428.0)">Resistance (Ω)</text>
<text x="-0.9" y="316.4" font-size="21.5" font-weight="bold">c</text>
<polyline points="87.5,344.1 99.2,339.7 150.0,340.0 200.0,340.4 222.0,341.0 229.4,344.0 233.8,349.2 236.3,360.6 238.5,377.0 242.0,402.0 245.0,421.8 248.7,443.5 252.0,475.6 254.5,488.6 260.0,496.0 270.0,500.0 276.0,501.0 276.0,501.5 240.0,501.5 210.0,498.0 180.0,496.0 150.0,493.5 138.0,487.0 131.0,481.0 128.4,476.0 124.0,466.0 116.5,437.0 113.8,428.5 108.7,410.2 103.0,393.5 100.8,380.0 99.5,369.4 96.0,364.5 92.5,357.0 89.0,347.7 87.5,344.1" fill="none" stroke="#9900ff" stroke-width="1.0" stroke-linejoin="round"/>
<path d="M87.5,340.2L91.1,343.8L87.5,347.4L83.9,343.8Z" fill="#9900ff"/>
<path d="M89.5,340.5L93.1,344.1L89.5,347.7L85.9,344.1Z" fill="#9900ff"/>
<path d="M91.7,338.8L95.3,342.4L91.7,346.0L88.1,342.4Z" fill="#9900ff"/>
<path d="M94.5,337.0L98.1,340.6L94.5,344.2L90.9,340.6Z" fill="#9900ff"/>
<path d="M96.5,337.4L100.1,341.0L96.5,344.6L92.9,341.0Z" fill="#9900ff"/>
<path d="M98.5,336.0L102.1,339.6L98.5,343.2L94.9,339.6Z" fill="#9900ff"/>
<path d="M101.2,336.0L104.8,339.6L101.2,343.2L97.6,339.6Z" fill="#9900ff"/>
<path d="M103.6,335.4L107.2,339.0L103.6,342.6L100.0,339.0Z" fill="#9900ff"/>
<path d="M105.7,335.3L109.3,338.9L105.7,342.5L102.1,338.9Z" fill="#9900ff"/>
<path d="M108.3,337.1L111.9,340.7L108.3,344.3L104.7,340.7Z" fill="#9900ff"/>
<path d="M110.8,336.8L114.4,340.4L110.8,344.0L107.2,340.4Z" fill="#9900ff"/>
<path d="M113.0,336.7L116.6,340.3L113.0,343.9L109.4,340.3Z" fill="#9900ff"/>
<path d="M115.3,335.7L118.9,339.3L115.3,342.9L111.7,339.3Z" fill="#9900ff"/>
<path d="M118.0,336.7L121.6,340.3L118.0,343.9L114.4,340.3Z" fill="#9900ff"/>
<path d="M120.3,335.3L123.9,338.9L120.3,342.5L116.7,338.9Z" fill="#9900ff"/>
<path d="M122.6,335.6L126.2,339.2L122.6,342.8L119.0,339.2Z" fill="#9900ff"/>
<path d="M125.0,336.9L128.6,340.5L125.0,344.1L121.4,340.5Z" fill="#9900ff"/>
<path d="M127.3,337.1L130.9,340.7L127.3,344.3L123.7,340.7Z" fill="#9900ff"/>
<path d="M130.1,335.3L133.7,338.9L130.1,342.5L126.5,338.9Z" fill="#9900ff"/>
<path d="M132.2,336.3L135.8,339.9L132.2,343.5L128.6,339.9Z" fill="#9900ff"/>
<path d="M134.4,336.1L138.0,339.7L134.4,343.3L130.8,339.7Z" fill="#9900ff"/>
<path d="M137.3,335.5L140.9,339.1L137.3,342.7L133.7,339.1Z" fill="#9900ff"/>
<path d="M139.6,335.5L143.2,339.1L139.6,342.7L136.0,339.1Z" fill="#9900ff"/>
<path d="M141.9,337.2L145.5,340.8L141.9,344.4L138.3,340.8Z" fill="#9900ff"/>
<path d="M144.1,335.3L147.7,338.9L144.1,342.5L140.5,338.9Z" fill="#9900ff"/>
<path d="M146.4,336.5L150.0,340.1L146.4,343.7L142.8,340.1Z" fill="#9900ff"/>
<path d="M148.8,335.5L152.4,339.1L148.8,342.7L145.2,339.1Z" fill="#9900ff"/>
<path d="M151.5,337.3L155.1,340.9L151.5,344.5L147.9,340.9Z" fill="#9900ff"/>
<path d="M153.9,336.2L157.5,339.8L153.9,343.4L150.3,339.8Z" fill="#9900ff"/>
<path d="M156.4,335.6L160.0,339.2L156.4,342.8L152.8,339.2Z" fill="#9900ff"/>
<path d="M158.7,335.7L162.3,339.3L158.7,342.9L155.1,339.3Z" fill="#9900ff"/>
<path d="M161.2,337.5L164.8,341.1L161.2,344.7L157.6,341.1Z" fill="#9900ff"/>
<path d="M163.2,336.6L166.8,340.2L163.2,343.8L159.6,340.2Z" fill="#9900ff"/>
<path d="M166.0,335.8L169.6,339.4L166.0,343.0L162.4,339.4Z" fill="#9900ff"/>
<path d="M168.2,337.6L171.8,341.2L168.2,344.8L164.6,341.2Z" fill="#9900ff"/>
<path d="M171.0,335.7L174.6,339.3L171.0,342.9L167.4,339.3Z" fill="#9900ff"/>
<path d="M173.2,337.6L176.8,341.2L173.2,344.8L169.6,341.2Z" fill="#9900ff"/>
<path d="M175.3,336.8L178.9,340.4L175.3,344.0L171.7,340.4Z" fill="#9900ff"/>
<path d="M177.6,336.3L181.2,339.9L177.6,343.5L174.0,339.9Z" fill="#9900ff"/>
<path d="M180.4,336.8L184.0,340.4L180.4,344.0L176.8,340.4Z" fill="#9900ff"/>
<path d="M182.9,335.8L186.5,339.4L182.9,343.0L179.3,339.4Z" fill="#9900ff"/>
<path d="M185.0,337.5L188.6,341.1L185.0,344.7L181.4,341.1Z" fill="#9900ff"/>
<path d="M187.5,336.6L191.1,340.2L187.5,343.8L183.9,340.2Z" fill="#9900ff"/>
<path d="M189.8,337.8L193.4,341.4L189.8,345.0L186.2,341.4Z" fill="#9900ff"/>
<path d="M192.3,335.7L195.9,339.3L192.3,342.9L188.7,339.3Z" fill="#9900ff"/>
<path d="M194.9,336.4L198.5,340.0L194.9,343.6L191.3,340.0Z" fill="#9900ff"/>
<path d="M197.1,336.1L200.7,339.7L197.1,343.3L193.5,339.7Z" fill="#9900ff"/>
<path d="M199.5,336.4L203.1,340.0L199.5,343.6L195.9,340.0Z" fill="#9900ff"/>
<path d="M201.7,337.1L205.3,340.7L201.7,344.3L198.1,340.7Z" fill="#9900ff"/>
<path d="M204.1,337.5L207.7,341.1L204.1,344.7L200.5,341.1Z" fill="#9900ff"/>
<path d="M206.4,337.6L210.0,341.2L206.4,344.8L202.8,341.2Z" fill="#9900ff"/>
<path d="M209.3,337.0L212.9,340.6L209.3,344.2L205.7,340.6Z" fill="#9900ff"/>
<path d="M211.6,336.6L215.2,340.2L211.6,343.8L208.0,340.2Z" fill="#9900ff"/>
<path d="M214.0,337.0L217.6,340.6L214.0,344.2L210.4,340.6Z" fill="#9900ff"/>
<path d="M216.1,338.3L219.7,341.9L216.1,345.5L212.5,341.9Z" fill="#9900ff"/>
<path d="M218.6,337.0L222.2,340.6L218.6,344.2L215.0,340.6Z" fill="#9900ff"/>
<path d="M221.3,337.1L224.9,340.7L221.3,344.3L217.7,340.7Z" fill="#9900ff"/>
<path d="M223.5,337.2L227.1,340.8L223.5,344.4L219.9,340.8Z" fill="#9900ff"/>
<path d="M225.8,338.3L229.4,341.9L225.8,345.5L222.2,341.9Z" fill="#9900ff"/>
<path d="M227.6,340.8L231.2,344.4L227.6,348.0L224.0,344.4Z" fill="#9900ff"/>
<path d="M229.2,341.4L232.8,345.0L229.2,348.6L225.6,345.0Z" fill="#9900ff"/>
<path d="M233.8,345.6L237.4,349.2L233.8,352.8L230.2,349.2Z" fill="#9900ff"/>
<path d="M236.3,357.0L239.9,360.6L236.3,364.2L232.7,360.6Z" fill="#9900ff"/>
<path d="M238.5,373.4L242.1,377.0L238.5,380.6L234.9,377.0Z" fill="#9900ff"/>
<path d="M242.0,398.4L245.6,402.0L242.0,405.6L238.4,402.0Z" fill="#9900ff"/>
<path d="M245.0,418.2L248.6,421.8L245.0,425.4L241.4,421.8Z" fill="#9900ff"/>
<path d="M248.7,439.9L252.3,443.5L248.7,447.1L245.1,443.5Z" fill="#9900ff"/>
<path d="M252.0,472.0L255.6,475.6L252.0,479.2L248.4,475.6Z" fill="#9900ff"/>
<path d="M254.5,485.0L258.1,488.6L254.5,492.2L250.9,488.6Z" fill="#9900ff"/>
<path d="M260.0,492.4L263.6,496.0L260.0,499.6L256.4,496.0Z" fill="#9900ff"/>
<path d="M270.0,496.4L273.6,500.0L270.0,503.6L266.4,500.0Z" fill="#9900ff"/>
<path d="M276.0,497.4L279.6,501.0L276.0,504.6L272.4,501.0Z" fill="#9900ff"/>
<path d="M276.3,498.0L279.9,501.6L276.3,505.2L272.7,501.6Z" fill="#9900ff"/>
<path d="M273.3,497.4L276.9,501.0L273.3,504.6L269.7,501.0Z" fill="#9900ff"/>
<path d="M271.0,497.8L274.6,501.4L271.0,505.0L267.4,501.4Z" fill="#9900ff"/>
<path d="M268.9,498.5L272.5,502.1L268.9,505.7L265.3,502.1Z" fill="#9900ff"/>
<path d="M266.3,497.5L269.9,501.1L266.3,504.7L262.7,501.1Z" fill="#9900ff"/>
<path d="M264.0,497.5L267.6,501.1L264.0,504.7L260.4,501.1Z" fill="#9900ff"/>
<path d="M261.4,498.0L265.0,501.6L261.4,505.2L257.8,501.6Z" fill="#9900ff"/>
<path d="M259.3,497.4L262.9,501.0L259.3,504.6L255.7,501.0Z" fill="#9900ff"/>
<path d="M256.8,498.1L260.4,501.7L256.8,505.3L253.2,501.7Z" fill="#9900ff"/>
<path d="M254.6,497.8L258.2,501.4L254.6,505.0L251.0,501.4Z" fill="#9900ff"/>
<path d="M252.2,497.5L255.8,501.1L252.2,504.7L248.6,501.1Z" fill="#9900ff"/>
<path d="M249.7,498.2L253.3,501.8L249.7,505.4L246.1,501.8Z" fill="#9900ff"/>
<path d="M247.4,497.9L251.0,501.5L247.4,505.1L243.8,501.5Z" fill="#9900ff"/>
<path d="M244.6,497.4L248.2,501.0L244.6,504.6L241.0,501.0Z" fill="#9900ff"/>
<path d="M242.4,497.5L246.0,501.1L242.4,504.7L238.8,501.1Z" fill="#9900ff"/>
<path d="M240.1,497.4L243.7,501.0L240.1,504.6L236.5,501.0Z" fill="#9900ff"/>
<path d="M237.8,497.3L241.4,500.9L237.8,504.5L234.2,500.9Z" fill="#9900ff"/>
<path d="M234.9,497.0L238.5,500.6L234.9,504.2L231.3,500.6Z" fill="#9900ff"/>
<path d="M232.8,497.1L236.4,500.7L232.8,504.3L229.2,500.7Z" fill="#9900ff"/>
<path d="M230.4,496.4L234.0,500.0L230.4,503.6L226.8,500.0Z" fill="#9900ff"/>
<path d="M228.1,497.0L231.7,500.6L228.1,504.2L224.5,500.6Z" fill="#9900ff"/>
<path d="M225.7,496.8L229.3,500.4L225.7,504.0L222.1,500.4Z" fill="#9900ff"/>
<path d="M223.0,496.5L226.6,500.1L223.0,503.7L219.4,500.1Z" fill="#9900ff"/>
<path d="M221.2,495.7L224.8,499.3L221.2,502.9L217.6,499.3Z" fill="#9900ff"/>
<path d="M218.6,495.4L222.2,499.0L218.6,502.6L215.0,499.0Z" fill="#9900ff"/>
<path d="M216.4,494.6L220.0,498.2L216.4,501.8L212.8,498.2Z" fill="#9900ff"/>
<path d="M213.9,494.9L217.5,498.5L213.9,502.1L210.3,498.5Z" fill="#9900ff"/>
<path d="M211.3,494.8L214.9,498.4L211.3,502.0L207.7,498.4Z" fill="#9900ff"/>
<path d="M209.1,493.9L212.7,497.5L209.1,501.1L205.5,497.5Z" fill="#9900ff"/>
<path d="M206.7,494.1L210.3,497.7L206.7,501.3L203.1,497.7Z" fill="#9900ff"/>
<path d="M204.2,494.2L207.8,497.8L204.2,501.4L200.6,497.8Z" fill="#9900ff"/>
<path d="M201.6,494.0L205.2,497.6L201.6,501.2L198.0,497.6Z" fill="#9900ff"/>
<path d="M199.4,494.2L203.0,497.8L199.4,501.4L195.8,497.8Z" fill="#9900ff"/>
<path d="M196.9,493.9L200.5,497.5L196.9,501.1L193.3,497.5Z" fill="#9900ff"/>
<path d="M194.8,493.5L198.4,497.1L194.8,500.7L191.2,497.1Z" fill="#9900ff"/>
<path d="M192.5,492.7L196.1,496.3L192.5,499.9L188.9,496.3Z" fill="#9900ff"/>
<path d="M189.9,493.2L193.5,496.8L189.9,500.4L186.3,496.8Z" fill="#9900ff"/>
<path d="M187.6,492.8L191.2,496.4L187.6,500.0L184.0,496.4Z" fill="#9900ff"/>
<path d="M184.8,492.4L188.4,496.0L184.8,499.6L181.2,496.0Z" fill="#9900ff"/>
<path d="M182.7,492.2L186.3,495.8L182.7,499.4L179.1,495.8Z" fill="#9900ff"/>
<path d="M180.0,492.2L183.6,495.8L180.0,499.4L176.4,495.8Z" fill="#9900ff"/>
<path d="M177.9,492.3L181.5,495.9L177.9,499.5L174.3,495.9Z" fill="#9900ff"/>
<path d="M175.2,492.4L178.8,496.0L175.2,499.6L171.6,496.0Z" fill="#9900ff"/>
<path d="M173.0,492.2L176.6,495.8L173.0,499.4L169.4,495.8Z" fill="#9900ff"/>
<path d="M170.4,492.2L174.0,495.8L170.4,499.4L166.8,495.8Z" fill="#9900ff"/>
<path d="M168.4,492.0L172.0,495.6L168.4,499.2L164.8,495.6Z" fill="#9900ff"/>
<path d="M166.2,491.6L169.8,495.2L166.2,498.8L162.6,495.2Z" fill="#9900ff"/>
<path d="M163.3,490.8L166.9,494.4L163.3,498.0L159.7,494.4Z" fill="#9900ff"/>
<path d="M161.0,491.2L164.6,494.8L161.0,498.4L157.4,494.8Z" fill="#9900ff"/>
<path d="M158.6,490.3L162.2,493.9L158.6,497.5L155.0,493.9Z" fill="#9900ff"/>
<path d="M156.1,490.0L159.7,493.6L156.1,497.2L152.5,493.6Z" fill="#9900ff"/>
<path d="M154.2,490.8L157.8,494.4L154.2,498.0L150.6,494.4Z" fill="#9900ff"/>
<path d="M151.5,490.3L155.1,493.9L151.5,497.5L147.9,493.9Z" fill="#9900ff"/>
<path d="M149.3,489.5L152.9,493.1L149.3,496.7L145.7,493.1Z" fill="#9900ff"/>
<path d="M147.1,488.5L150.7,492.1L147.1,495.7L143.5,492.1Z" fill="#9900ff"/>
<path d="M144.9,486.9L148.5,490.5L144.9,494.1L141.3,490.5Z" fill="#9900ff"/>
<path d="M143.0,485.7L146.6,489.3L143.0,492.9L139.4,489.3Z" fill="#9900ff"/>
<path d="M140.8,485.5L144.4,489.1L140.8,492.7L137.2,489.1Z" fill="#9900ff"/>
<path d="M138.4,483.3L142.0,486.9L138.4,490.5L134.8,486.9Z" fill="#9900ff"/>
<path d="M137.0,481.8L140.6,485.4L137.0,489.0L133.4,485.4Z" fill="#9900ff"/>
<path d="M134.8,481.2L138.4,484.8L134.8,488.4L131.2,484.8Z" fill="#9900ff"/>
<path d="M133.2,478.9L136.8,482.5L133.2,486.1L129.6,482.5Z" fill="#9900ff"/>
<path d="M131.1,477.4L134.7,481.0L131.1,484.6L127.5,481.0Z" fill="#9900ff"/>
<path d="M130.0,476.0L133.6,479.6L130.0,483.2L126.4,479.6Z" fill="#9900ff"/>
<path d="M129.3,473.9L132.9,477.5L129.3,481.1L125.7,477.5Z" fill="#9900ff"/>
<path d="M128.6,472.9L132.2,476.5L128.6,480.1L125.0,476.5Z" fill="#9900ff"/>
<path d="M124.0,462.4L127.6,466.0L124.0,469.6L120.4,466.0Z" fill="#9900ff"/>
<path d="M116.5,433.4L120.1,437.0L116.5,440.6L112.9,437.0Z" fill="#9900ff"/>
<path d="M113.8,424.9L117.4,428.5L113.8,432.1L110.2,428.5Z" fill="#9900ff"/>
<path d="M108.7,406.6L112.3,410.2L108.7,413.8L105.1,410.2Z" fill="#9900ff"/>
<path d="M103.0,389.9L106.6,393.5L103.0,397.1L99.4,393.5Z" fill="#9900ff"/>
<path d="M100.8,376.4L104.4,380.0L100.8,383.6L97.2,380.0Z" fill="#9900ff"/>
<path d="M99.5,365.8L103.1,369.4L99.5,373.0L95.9,369.4Z" fill="#9900ff"/>
<path d="M96.0,360.9L99.6,364.5L96.0,368.1L92.4,364.5Z" fill="#9900ff"/>
<path d="M92.5,353.4L96.1,357.0L92.5,360.6L88.9,357.0Z" fill="#9900ff"/>
<path d="M89.0,344.1L92.6,347.7L89.0,351.3L85.4,347.7Z" fill="#9900ff"/>
<path d="M87.5,340.5L91.1,344.1L87.5,347.7L83.9,344.1Z" fill="#9900ff"/>
<polyline points="98.5,373.5 110.0,375.5 150.0,375.5 180.0,376.5 210.0,374.7 228.0,378.0 233.8,384.2 239.0,390.5 241.5,414.5 247.6,459.0 250.0,477.0 262.2,490.4 270.0,496.0 276.0,500.0 240.0,498.0 210.0,495.0 180.0,492.0 155.0,487.0 145.0,484.0 138.0,479.5 133.5,474.0 125.5,451.0 121.8,435.8 118.9,426.3 116.0,411.7 112.3,406.6 110.0,393.0 107.1,385.7 103.4,379.0 98.5,373.5" fill="none" stroke="#00aaff" stroke-width="1.0" stroke-linejoin="round"/>
<circle cx="98.7" cy="374.4" r="3.1" fill="#00aaff"/>
<circle cx="101.1" cy="373.0" r="3.1" fill="#00aaff"/>
<circle cx="103.1" cy="373.8" r="3.1" fill="#00aaff"/>
<circle cx="105.7" cy="374.7" r="3.1" fill="#00aaff"/>
<circle cx="107.9" cy="375.9" r="3.1" fill="#00aaff"/>
<circle cx="110.3" cy="374.9" r="3.1" fill="#00aaff"/>
<circle cx="112.6" cy="375.4" r="3.1" fill="#00aaff"/>
<circle cx="115.2" cy="375.7" r="3.1" fill="#00aaff"/>
<circle cx="117.5" cy="374.8" r="3.1" fill="#00aaff"/>
<circle cx="119.9" cy="375.1" r="3.1" fill="#00aaff"/>
<circle cx="122.1" cy="375.6" r="3.1" fill="#00aaff"/>
<circle cx="124.5" cy="376.0" r="3.1" fill="#00aaff"/>
<circle cx="127.2" cy="374.7" r="3.1" fill="#00aaff"/>
<circle cx="129.6" cy="375.1" r="3.1" fill="#00aaff"/>
<circle cx="131.9" cy="375.7" r="3.1" fill="#00aaff"/>
<circle cx="134.5" cy="376.3" r="3.1" fill="#00aaff"/>
<circle cx="136.9" cy="374.9" r="3.1" fill="#00aaff"/>
<circle cx="139.2" cy="375.1" r="3.1" fill="#00aaff"/>
<circle cx="141.2" cy="375.6" r="3.1" fill="#00aaff"/>
<circle cx="143.9" cy="376.3" r="3.1" fill="#00aaff"/>
<circle cx="146.2" cy="376.2" r="3.1" fill="#00aaff"/>
<circle cx="148.7" cy="374.6" r="3.1" fill="#00aaff"/>
<circle cx="151.3" cy="375.1" r="3.1" fill="#00aaff"/>
<circle cx="153.5" cy="374.7" r="3.1" fill="#00aaff"/>
<circle cx="155.6" cy="376.6" r="3.1" fill="#00aaff"/>
<circle cx="158.0" cy="375.0" r="3.1" fill="#00aaff"/>
<circle cx="160.5" cy="375.0" r="3.1" fill="#00aaff"/>
<circle cx="163.3" cy="377.0" r="3.1" fill="#00aaff"/>
<circle cx="165.6" cy="375.8" r="3.1" fill="#00aaff"/>
<circle cx="168.2" cy="376.1" r="3.1" fill="#00aaff"/>
<circle cx="170.1" cy="376.6" r="3.1" fill="#00aaff"/>
<circle cx="172.6" cy="375.8" r="3.1" fill="#00aaff"/>
<circle cx="175.0" cy="376.1" r="3.1" fill="#00aaff"/>
<circle cx="177.3" cy="376.7" r="3.1" fill="#00aaff"/>
<circle cx="180.1" cy="376.7" r="3.1" fill="#00aaff"/>
<circle cx="182.0" cy="376.8" r="3.1" fill="#00aaff"/>
<circle cx="184.4" cy="376.2" r="3.1" fill="#00aaff"/>
<circle cx="187.3" cy="376.5" r="3.1" fill="#00aaff"/>
<circle cx="189.7" cy="376.5" r="3.1" fill="#00aaff"/>
<circle cx="191.8" cy="375.0" r="3.1" fill="#00aaff"/>
<circle cx="194.3" cy="376.0" r="3.1" fill="#00aaff"/>
<circle cx="196.5" cy="375.1" r="3.1" fill="#00aaff"/>
<circle cx="199.2" cy="375.0" r="3.1" fill="#00aaff"/>
<circle cx="201.5" cy="375.3" r="3.1" fill="#00aaff"/>
<circle cx="204.1" cy="374.0" r="3.1" fill="#00aaff"/>
<circle cx="206.1" cy="375.5" r="3.1" fill="#00aaff"/>
<circle cx="208.8" cy="373.9" r="3.1" fill="#00aaff"/>
<circle cx="210.8" cy="374.3" r="3.1" fill="#00aaff"/>
<circle cx="213.4" cy="376.2" r="3.1" fill="#00aaff"/>
<circle cx="215.6" cy="375.1" r="3.1" fill="#00aaff"/>
<circle cx="218.2" cy="376.0" r="3.1" fill="#00aaff"/>
<circle cx="220.7" cy="377.7" r="3.1" fill="#00aaff"/>
<circle cx="223.1" cy="377.5" r="3.1" fill="#00aaff"/>
<circle cx="225.2" cy="376.5" r="3.1" fill="#00aaff"/>
<circle cx="227.7" cy="377.7" r="3.1" fill="#00aaff"/>
<circle cx="229.3" cy="379.7" r="3.1" fill="#00aaff"/>
<circle cx="231.3" cy="381.3" r="3.1" fill="#00aaff"/>
<circle cx="232.9" cy="384.0" r="3.1" fill="#00aaff"/>
<circle cx="233.6" cy="383.9" r="3.1" fill="#00aaff"/>
<circle cx="239.0" cy="390.5" r="3.1" fill="#00aaff"/>
<circle cx="241.5" cy="414.5" r="3.1" fill="#00aaff"/>
<circle cx="247.6" cy="459.0" r="3.1" fill="#00aaff"/>
<circle cx="250.0" cy="477.0" r="3.1" fill="#00aaff"/>
<circle cx="262.2" cy="490.4" r="3.1" fill="#00aaff"/>
<circle cx="270.0" cy="496.0" r="3.1" fill="#00aaff"/>
<circle cx="276.2" cy="500.3" r="3.1" fill="#00aaff"/>
<circle cx="273.9" cy="499.5" r="3.1" fill="#00aaff"/>
<circle cx="271.2" cy="500.3" r="3.1" fill="#00aaff"/>
<circle cx="268.8" cy="499.8" r="3.1" fill="#00aaff"/>
<circle cx="266.7" cy="499.1" r="3.1" fill="#00aaff"/>
<circle cx="263.8" cy="499.8" r="3.1" fill="#00aaff"/>
<circle cx="261.7" cy="498.8" r="3.1" fill="#00aaff"/>
<circle cx="259.4" cy="498.8" r="3.1" fill="#00aaff"/>
<circle cx="256.6" cy="498.7" r="3.1" fill="#00aaff"/>
<circle cx="254.2" cy="498.7" r="3.1" fill="#00aaff"/>
<circle cx="252.2" cy="498.6" r="3.1" fill="#00aaff"/>
<circle cx="249.9" cy="498.0" r="3.1" fill="#00aaff"/>
<circle cx="247.0" cy="498.0" r="3.1" fill="#00aaff"/>
<circle cx="244.9" cy="497.9" r="3.1" fill="#00aaff"/>
<circle cx="242.6" cy="498.2" r="3.1" fill="#00aaff"/>
<circle cx="240.1" cy="498.4" r="3.1" fill="#00aaff"/>
<circle cx="237.8" cy="498.3" r="3.1" fill="#00aaff"/>
<circle cx="235.1" cy="497.4" r="3.1" fill="#00aaff"/>
<circle cx="233.2" cy="497.2" r="3.1" fill="#00aaff"/>
<circle cx="230.4" cy="497.0" r="3.1" fill="#00aaff"/>
<circle cx="227.9" cy="497.2" r="3.1" fill="#00aaff"/>
<circle cx="225.8" cy="496.1" r="3.1" fill="#00aaff"/>
<circle cx="223.6" cy="496.4" r="3.1" fill="#00aaff"/>
<circle cx="220.8" cy="496.2" r="3.1" fill="#00aaff"/>
<circle cx="218.8" cy="495.7" r="3.1" fill="#00aaff"/>
<circle cx="215.9" cy="495.3" r="3.1" fill="#00aaff"/>
<circle cx="213.5" cy="495.4" r="3.1" fill="#00aaff"/>
<circle cx="211.3" cy="495.6" r="3.1" fill="#00aaff"/>
<circle cx="208.8" cy="494.3" r="3.1" fill="#00aaff"/>
<circle cx="206.6" cy="494.2" r="3.1" fill="#00aaff"/>
<circle cx="204.1" cy="494.1" r="3.1" fill="#00aaff"/>
<circle cx="201.7" cy="494.3" r="3.1" fill="#00aaff"/>
<circle cx="199.7" cy="493.8" r="3.1" fill="#00aaff"/>
<circle cx="197.2" cy="493.5" r="3.1" fill="#00aaff"/>
<circle cx="194.9" cy="493.5" r="3.1" fill="#00aaff"/>
<circle cx="192.0" cy="493.5" r="3.1" fill="#00aaff"/>
<circle cx="189.7" cy="492.4" r="3.1" fill="#00aaff"/>
<circle cx="187.2" cy="493.2" r="3.1" fill="#00aaff"/>
<circle cx="185.3" cy="492.3" r="3.1" fill="#00aaff"/>
<circle cx="182.8" cy="492.5" r="3.1" fill="#00aaff"/>
<circle cx="180.1" cy="492.3" r="3.1" fill="#00aaff"/>
<circle cx="178.1" cy="492.1" r="3.1" fill="#00aaff"/>
<circle cx="175.4" cy="491.2" r="3.1" fill="#00aaff"/>
<circle cx="173.3" cy="491.1" r="3.1" fill="#00aaff"/>
<circle cx="170.9" cy="490.4" r="3.1" fill="#00aaff"/>
<circle cx="168.8" cy="489.5" r="3.1" fill="#00aaff"/>
<circle cx="166.2" cy="489.7" r="3.1" fill="#00aaff"/>
<circle cx="163.6" cy="489.3" r="3.1" fill="#00aaff"/>
<circle cx="161.4" cy="488.3" r="3.1" fill="#00aaff"/>
<circle cx="159.0" cy="488.2" r="3.1" fill="#00aaff"/>
<circle cx="156.8" cy="487.7" r="3.1" fill="#00aaff"/>
<circle cx="154.2" cy="487.3" r="3.1" fill="#00aaff"/>
<circle cx="152.4" cy="486.4" r="3.1" fill="#00aaff"/>
<circle cx="149.7" cy="485.2" r="3.1" fill="#00aaff"/>
<circle cx="147.5" cy="484.2" r="3.1" fill="#00aaff"/>
<circle cx="145.6" cy="484.0" r="3.1" fill="#00aaff"/>
<circle cx="143.5" cy="482.5" r="3.1" fill="#00aaff"/>
<circle cx="141.3" cy="481.9" r="3.1" fill="#00aaff"/>
<circle cx="139.3" cy="480.2" r="3.1" fill="#00aaff"/>
<circle cx="137.1" cy="478.7" r="3.1" fill="#00aaff"/>
<circle cx="135.8" cy="477.4" r="3.1" fill="#00aaff"/>
<circle cx="134.6" cy="475.6" r="3.1" fill="#00aaff"/>
<circle cx="133.8" cy="473.6" r="3.1" fill="#00aaff"/>
<circle cx="125.5" cy="451.0" r="3.1" fill="#00aaff"/>
<circle cx="121.8" cy="435.8" r="3.1" fill="#00aaff"/>
<circle cx="118.9" cy="426.3" r="3.1" fill="#00aaff"/>
<circle cx="116.0" cy="411.7" r="3.1" fill="#00aaff"/>
<circle cx="112.3" cy="406.6" r="3.1" fill="#00aaff"/>
<circle cx="110.0" cy="393.0" r="3.1" fill="#00aaff"/>
<circle cx="107.1" cy="385.7" r="3.1" fill="#00aaff"/>
<circle cx="103.4" cy="379.0" r="3.1" fill="#00aaff"/>
<circle cx="98.5" cy="373.5" r="3.1" fill="#00aaff"/>
<polyline points="108.7,417.0 130.0,421.6 160.0,424.3 190.0,425.0 230.0,429.2 240.0,432.0 244.0,436.0 247.6,465.0 250.0,480.6 256.0,493.0 265.0,496.0 276.0,497.5 240.0,498.5 210.0,495.5 180.0,493.0 160.0,490.5 145.0,486.0 132.0,476.0 125.0,458.0 118.5,443.0 114.5,436.0 111.5,428.5 108.7,417.0" fill="none" stroke="#ff8000" stroke-width="1.0" stroke-linejoin="round"/>
<path d="M108.4,413.2L111.8,418.8L105.0,418.8Z" fill="#ff8000"/>
<path d="M110.8,413.3L114.2,418.9L107.4,418.9Z" fill="#ff8000"/>
<path d="M113.4,414.0L116.8,419.6L110.0,419.6Z" fill="#ff8000"/>
<path d="M115.8,414.9L119.2,420.5L112.4,420.5Z" fill="#ff8000"/>
<path d="M117.9,416.7L121.3,422.3L114.5,422.3Z" fill="#ff8000"/>
<path d="M120.2,417.0L123.6,422.6L116.8,422.6Z" fill="#ff8000"/>
<path d="M122.8,417.0L126.2,422.6L119.4,422.6Z" fill="#ff8000"/>
<path d="M124.9,417.7L128.3,423.3L121.5,423.3Z" fill="#ff8000"/>
<path d="M127.7,417.0L131.1,422.6L124.3,422.6Z" fill="#ff8000"/>
<path d="M129.8,418.5L133.2,424.1L126.4,424.1Z" fill="#ff8000"/>
<path d="M132.2,419.0L135.6,424.6L128.8,424.6Z" fill="#ff8000"/>
<path d="M134.7,418.2L138.1,423.8L131.3,423.8Z" fill="#ff8000"/>
<path d="M137.1,419.5L140.5,425.1L133.7,425.1Z" fill="#ff8000"/>
<path d="M139.3,419.3L142.7,424.9L135.9,424.9Z" fill="#ff8000"/>
<path d="M141.8,419.2L145.2,424.8L138.4,424.8Z" fill="#ff8000"/>
<path d="M143.9,419.3L147.3,424.9L140.5,424.9Z" fill="#ff8000"/>
<path d="M146.7,420.2L150.1,425.8L143.3,425.8Z" fill="#ff8000"/>
<path d="M148.7,419.9L152.1,425.5L145.3,425.5Z" fill="#ff8000"/>
<path d="M151.4,420.2L154.8,425.8L148.0,425.8Z" fill="#ff8000"/>
<path d="M153.5,420.7L156.9,426.3L150.1,426.3Z" fill="#ff8000"/>
<path d="M156.2,420.7L159.6,426.3L152.8,426.3Z" fill="#ff8000"/>
<path d="M158.8,421.0L162.2,426.6L155.4,426.6Z" fill="#ff8000"/>
<path d="M160.6,420.5L164.0,426.1L157.2,426.1Z" fill="#ff8000"/>
<path d="M163.4,420.1L166.8,425.7L160.0,425.7Z" fill="#ff8000"/>
<path d="M166.0,421.5L169.4,427.1L162.6,427.1Z" fill="#ff8000"/>
<path d="M168.2,420.4L171.6,426.0L164.8,426.0Z" fill="#ff8000"/>
<path d="M170.2,422.0L173.6,427.6L166.8,427.6Z" fill="#ff8000"/>
<path d="M172.9,421.1L176.3,426.7L169.5,426.7Z" fill="#ff8000"/>
<path d="M175.3,421.9L178.7,427.5L171.9,427.5Z" fill="#ff8000"/>
<path d="M177.6,422.0L181.0,427.6L174.2,427.6Z" fill="#ff8000"/>
<path d="M179.9,422.5L183.3,428.1L176.5,428.1Z" fill="#ff8000"/>
<path d="M182.6,421.1L186.0,426.7L179.2,426.7Z" fill="#ff8000"/>
<path d="M184.9,422.4L188.3,428.0L181.5,428.0Z" fill="#ff8000"/>
<path d="M187.2,422.0L190.6,427.6L183.8,427.6Z" fill="#ff8000"/>
<path d="M189.9,422.6L193.3,428.2L186.5,428.2Z" fill="#ff8000"/>
<path d="M191.9,422.5L195.3,428.1L188.5,428.1Z" fill="#ff8000"/>
<path d="M194.5,422.8L197.9,428.4L191.1,428.4Z" fill="#ff8000"/>
<path d="M196.6,422.2L200.0,427.8L193.2,427.8Z" fill="#ff8000"/>
<path d="M199.2,423.3L202.6,428.9L195.8,428.9Z" fill="#ff8000"/>
<path d="M201.6,421.9L205.0,427.5L198.2,427.5Z" fill="#ff8000"/>
<path d="M203.8,423.8L207.2,429.4L200.4,429.4Z" fill="#ff8000"/>
<path d="M206.6,423.5L210.0,429.1L203.2,429.1Z" fill="#ff8000"/>
<path d="M208.5,424.2L211.9,429.8L205.1,429.8Z" fill="#ff8000"/>
<path d="M211.4,423.4L214.8,429.0L208.0,429.0Z" fill="#ff8000"/>
<path d="M213.5,423.7L216.9,429.3L210.1,429.3Z" fill="#ff8000"/>
<path d="M215.7,424.9L219.1,430.5L212.3,430.5Z" fill="#ff8000"/>
<path d="M218.1,423.7L221.5,429.3L214.7,429.3Z" fill="#ff8000"/>
<path d="M221.0,424.0L224.4,429.6L217.6,429.6Z" fill="#ff8000"/>
<path d="M223.3,425.8L226.7,431.4L219.9,431.4Z" fill="#ff8000"/>
<path d="M225.3,425.1L228.7,430.7L221.9,430.7Z" fill="#ff8000"/>
<path d="M227.7,426.1L231.1,431.7L224.3,431.7Z" fill="#ff8000"/>
<path d="M230.5,426.4L233.9,432.0L227.1,432.0Z" fill="#ff8000"/>
<path d="M232.6,426.6L236.0,432.2L229.2,432.2Z" fill="#ff8000"/>
<path d="M234.8,427.7L238.2,433.3L231.4,433.3Z" fill="#ff8000"/>
<path d="M237.0,427.3L240.4,432.9L233.6,432.9Z" fill="#ff8000"/>
<path d="M239.6,428.0L243.0,433.6L236.2,433.6Z" fill="#ff8000"/>
<path d="M241.6,430.5L245.0,436.1L238.2,436.1Z" fill="#ff8000"/>
<path d="M242.8,430.6L246.2,436.2L239.4,436.2Z" fill="#ff8000"/>
<path d="M244.1,431.8L247.5,437.4L240.7,437.4Z" fill="#ff8000"/>
<path d="M247.6,461.6L251.0,467.2L244.2,467.2Z" fill="#ff8000"/>
<path d="M250.0,477.2L253.4,482.8L246.6,482.8Z" fill="#ff8000"/>
<path d="M256.0,489.6L259.4,495.2L252.6,495.2Z" fill="#ff8000"/>
<path d="M265.0,492.6L268.4,498.2L261.6,498.2Z" fill="#ff8000"/>
<path d="M276.0,494.3L279.4,499.9L272.6,499.9Z" fill="#ff8000"/>
<path d="M273.8,494.1L277.2,499.7L270.4,499.7Z" fill="#ff8000"/>
<path d="M271.2,494.7L274.6,500.3L267.8,500.3Z" fill="#ff8000"/>
<path d="M268.6,494.1L272.0,499.7L265.2,499.7Z" fill="#ff8000"/>
<path d="M266.6,494.2L270.0,499.8L263.2,499.8Z" fill="#ff8000"/>
<path d="M264.3,494.0L267.7,499.6L260.9,499.6Z" fill="#ff8000"/>
<path d="M261.4,494.4L264.8,500.0L258.0,500.0Z" fill="#ff8000"/>
<path d="M259.2,494.4L262.6,500.0L255.8,500.0Z" fill="#ff8000"/>
<path d="M256.6,494.6L260.0,500.2L253.2,500.2Z" fill="#ff8000"/>
<path d="M254.6,495.3L258.0,500.9L251.2,500.9Z" fill="#ff8000"/>
<path d="M252.1,494.5L255.5,500.1L248.7,500.1Z" fill="#ff8000"/>
<path d="M249.7,494.5L253.1,500.1L246.3,500.1Z" fill="#ff8000"/>
<path d="M246.9,495.3L250.3,500.9L243.5,500.9Z" fill="#ff8000"/>
<path d="M244.7,494.6L248.1,500.2L241.3,500.2Z" fill="#ff8000"/>
<path d="M242.6,494.6L246.0,500.2L239.2,500.2Z" fill="#ff8000"/>
<path d="M239.9,494.7L243.3,500.3L236.5,500.3Z" fill="#ff8000"/>
<path d="M237.9,495.1L241.3,500.7L234.5,500.7Z" fill="#ff8000"/>
<path d="M235.0,494.1L238.4,499.7L231.6,499.7Z" fill="#ff8000"/>
<path d="M233.1,494.0L236.5,499.6L229.7,499.6Z" fill="#ff8000"/>
<path d="M230.6,494.4L234.0,500.0L227.2,500.0Z" fill="#ff8000"/>
<path d="M228.1,493.9L231.5,499.5L224.7,499.5Z" fill="#ff8000"/>
<path d="M225.6,493.4L229.0,499.0L222.2,499.0Z" fill="#ff8000"/>
<path d="M223.4,493.0L226.8,498.6L220.0,498.6Z" fill="#ff8000"/>
<path d="M220.9,492.9L224.3,498.5L217.5,498.5Z" fill="#ff8000"/>
<path d="M218.4,493.5L221.8,499.1L215.0,499.1Z" fill="#ff8000"/>
<path d="M216.2,492.9L219.6,498.5L212.8,498.5Z" fill="#ff8000"/>
<path d="M213.8,491.9L217.2,497.5L210.4,497.5Z" fill="#ff8000"/>
<path d="M211.5,492.7L214.9,498.3L208.1,498.3Z" fill="#ff8000"/>
<path d="M209.1,492.1L212.5,497.7L205.7,497.7Z" fill="#ff8000"/>
<path d="M206.8,492.4L210.2,498.0L203.4,498.0Z" fill="#ff8000"/>
<path d="M204.0,491.2L207.4,496.8L200.6,496.8Z" fill="#ff8000"/>
<path d="M201.7,490.9L205.1,496.5L198.3,496.5Z" fill="#ff8000"/>
<path d="M199.2,490.8L202.6,496.4L195.8,496.4Z" fill="#ff8000"/>
<path d="M196.7,490.9L200.1,496.5L193.3,496.5Z" fill="#ff8000"/>
<path d="M194.3,490.8L197.7,496.4L190.9,496.4Z" fill="#ff8000"/>
<path d="M192.4,490.9L195.8,496.5L189.0,496.5Z" fill="#ff8000"/>
<path d="M189.6,490.7L193.0,496.3L186.2,496.3Z" fill="#ff8000"/>
<path d="M187.3,490.6L190.7,496.2L183.9,496.2Z" fill="#ff8000"/>
<path d="M185.1,490.1L188.5,495.7L181.7,495.7Z" fill="#ff8000"/>
<path d="M182.6,490.4L186.0,496.0L179.2,496.0Z" fill="#ff8000"/>
<path d="M180.1,490.1L183.5,495.7L176.7,495.7Z" fill="#ff8000"/>
<path d="M177.7,488.9L181.1,494.5L174.3,494.5Z" fill="#ff8000"/>
<path d="M175.3,488.5L178.7,494.1L171.9,494.1Z" fill="#ff8000"/>
<path d="M173.3,488.4L176.7,494.0L169.9,494.0Z" fill="#ff8000"/>
<path d="M170.8,488.2L174.2,493.8L167.4,493.8Z" fill="#ff8000"/>
<path d="M168.3,488.5L171.7,494.1L164.9,494.1Z" fill="#ff8000"/>
<path d="M166.0,487.6L169.4,493.2L162.6,493.2Z" fill="#ff8000"/>
<path d="M163.7,487.2L167.1,492.8L160.3,492.8Z" fill="#ff8000"/>
<path d="M160.9,487.5L164.3,493.1L157.5,493.1Z" fill="#ff8000"/>
<path d="M159.1,487.1L162.5,492.7L155.7,492.7Z" fill="#ff8000"/>
<path d="M156.7,486.6L160.1,492.2L153.3,492.2Z" fill="#ff8000"/>
<path d="M154.5,485.5L157.9,491.1L151.1,491.1Z" fill="#ff8000"/>
<path d="M151.8,484.8L155.2,490.4L148.4,490.4Z" fill="#ff8000"/>
<path d="M149.6,484.3L153.0,489.9L146.2,489.9Z" fill="#ff8000"/>
<path d="M147.3,482.8L150.7,488.4L143.9,488.4Z" fill="#ff8000"/>
<path d="M144.9,482.2L148.3,487.8L141.5,487.8Z" fill="#ff8000"/>
<path d="M143.3,481.5L146.7,487.1L139.9,487.1Z" fill="#ff8000"/>
<path d="M141.3,479.5L144.7,485.1L137.9,485.1Z" fill="#ff8000"/>
<path d="M139.5,478.2L142.9,483.8L136.1,483.8Z" fill="#ff8000"/>
<path d="M137.5,476.5L140.9,482.1L134.1,482.1Z" fill="#ff8000"/>
<path d="M135.9,475.3L139.3,480.9L132.5,480.9Z" fill="#ff8000"/>
<path d="M133.6,473.6L137.0,479.2L130.2,479.2Z" fill="#ff8000"/>
<path d="M132.0,472.6L135.4,478.2L128.6,478.2Z" fill="#ff8000"/>
<path d="M125.0,454.6L128.4,460.2L121.6,460.2Z" fill="#ff8000"/>
<path d="M118.5,439.6L121.9,445.2L115.1,445.2Z" fill="#ff8000"/>
<path d="M114.5,432.6L117.9,438.2L111.1,438.2Z" fill="#ff8000"/>
<path d="M111.5,425.1L114.9,430.7L108.1,430.7Z" fill="#ff8000"/>
<path d="M108.7,413.6L112.1,419.2L105.3,419.2Z" fill="#ff8000"/>
<polyline points="121.0,446.7 150.0,448.4 170.0,448.3 200.0,449.5 230.0,450.6 237.8,453.3 238.9,454.6 242.0,469.6 245.0,482.2 247.3,491.5 276.5,500.5 260.0,500.0 240.0,497.8 210.0,494.2 180.0,491.0 150.0,488.0 140.0,484.0 133.0,479.0 130.2,475.5 127.3,469.0 124.8,461.0 123.3,455.5 121.0,446.7" fill="none" stroke="#ff0000" stroke-width="1.0" stroke-linejoin="round"/>
<rect x="118.2" y="444.4" width="5.6" height="5.6" fill="#ff0000"/>
<rect x="120.5" y="444.3" width="5.6" height="5.6" fill="#ff0000"/>
<rect x="123.1" y="443.4" width="5.6" height="5.6" fill="#ff0000"/>
<rect x="125.6" y="443.4" width="5.6" height="5.6" fill="#ff0000"/>
<rect x="127.6" y="445.2" width="5.6" height="5.6" fill="#ff0000"/>
<rect x="130.0" y="444.1" width="5.6" height="5.6" fill="#ff0000"/>
<rect x="132.5" y="445.7" width="5.6" height="5.6" fill="#ff0000"/>
<rect x="135.3" y="444.3" width="5.6" height="5.6" fill="#ff0000"/>
<rect x="137.5" y="445.7" width="5.6" height="5.6" fill="#ff0000"/>
<rect x="139.8" y="444.8" width="5.6" height="5.6" fill="#ff0000"/>
<rect x="142.0" y="444.4" width="5.6" height="5.6" fill="#ff0000"/>
<rect x="144.3" y="444.5" width="5.6" height="5.6" fill="#ff0000"/>
<rect x="147.1" y="445.8" width="5.6" height="5.6" fill="#ff0000"/>
<rect x="149.1" y="446.5" width="5.6" height="5.6" fill="#ff0000"/>
<rect x="152.0" y="445.4" width="5.6" height="5.6" fill="#ff0000"/>
<rect x="154.1" y="446.4" width="5.6" height="5.6" fill="#ff0000"/>
<rect x="156.6" y="446.1" width="5.6" height="5.6" fill="#ff0000"/>
<rect x="158.8" y="446.0" width="5.6" height="5.6" fill="#ff0000"/>
<rect x="161.3" y="444.6" width="5.6" height="5.6" fill="#ff0000"/>
<rect x="163.5" y="445.0" width="5.6" height="5.6" fill="#ff0000"/>
<rect x="166.0" y="445.0" width="5.6" height="5.6" fill="#ff0000"/>
<rect x="168.8" y="445.3" width="5.6" height="5.6" fill="#ff0000"/>
<rect x="170.8" y="444.8" width="5.6" height="5.6" fill="#ff0000"/>
<rect x="173.1" y="445.5" width="5.6" height="5.6" fill="#ff0000"/>
<rect x="175.7" y="444.9" width="5.6" height="5.6" fill="#ff0000"/>
<rect x="178.2" y="445.6" width="5.6" height="5.6" fill="#ff0000"/>
<rect x="180.3" y="446.0" width="5.6" height="5.6" fill="#ff0000"/>
<rect x="182.7" y="445.4" width="5.6" height="5.6" fill="#ff0000"/>
<rect x="185.5" y="446.1" width="5.6" height="5.6" fill="#ff0000"/>
<rect x="187.6" y="446.4" width="5.6" height="5.6" fill="#ff0000"/>
<rect x="190.3" y="446.7" width="5.6" height="5.6" fill="#ff0000"/>
<rect x="192.8" y="447.0" width="5.6" height="5.6" fill="#ff0000"/>
<rect x="194.8" y="447.6" width="5.6" height="5.6" fill="#ff0000"/>
<rect x="197.0" y="446.0" width="5.6" height="5.6" fill="#ff0000"/>
<rect x="199.5" y="446.5" width="5.6" height="5.6" fill="#ff0000"/>
<rect x="202.0" y="446.6" width="5.6" height="5.6" fill="#ff0000"/>
<rect x="204.6" y="446.6" width="5.6" height="5.6" fill="#ff0000"/>
<rect x="206.9" y="447.4" width="5.6" height="5.6" fill="#ff0000"/>
<rect x="209.6" y="448.2" width="5.6" height="5.6" fill="#ff0000"/>
<rect x="211.6" y="447.0" width="5.6" height="5.6" fill="#ff0000"/>
<rect x="214.4" y="448.1" width="5.6" height="5.6" fill="#ff0000"/>
<rect x="216.7" y="446.6" width="5.6" height="5.6" fill="#ff0000"/>
<rect x="218.8" y="447.3" width="5.6" height="5.6" fill="#ff0000"/>
<rect x="221.2" y="447.5" width="5.6" height="5.6" fill="#ff0000"/>
<rect x="224.0" y="447.4" width="5.6" height="5.6" fill="#ff0000"/>
<rect x="226.1" y="447.4" width="5.6" height="5.6" fill="#ff0000"/>
<rect x="228.5" y="448.3" width="5.6" height="5.6" fill="#ff0000"/>
<rect x="230.5" y="448.0" width="5.6" height="5.6" fill="#ff0000"/>
<rect x="233.1" y="450.5" width="5.6" height="5.6" fill="#ff0000"/>
<rect x="234.9" y="449.8" width="5.6" height="5.6" fill="#ff0000"/>
<rect x="236.1" y="451.8" width="5.6" height="5.6" fill="#ff0000"/>
<rect x="239.2" y="466.8" width="5.6" height="5.6" fill="#ff0000"/>
<rect x="242.2" y="479.4" width="5.6" height="5.6" fill="#ff0000"/>
<rect x="244.5" y="488.7" width="5.6" height="5.6" fill="#ff0000"/>
<rect x="273.5" y="497.8" width="5.6" height="5.6" fill="#ff0000"/>
<rect x="271.3" y="498.2" width="5.6" height="5.6" fill="#ff0000"/>
<rect x="269.0" y="497.6" width="5.6" height="5.6" fill="#ff0000"/>
<rect x="266.6" y="498.0" width="5.6" height="5.6" fill="#ff0000"/>
<rect x="264.4" y="497.0" width="5.6" height="5.6" fill="#ff0000"/>
<rect x="261.5" y="496.9" width="5.6" height="5.6" fill="#ff0000"/>
<rect x="259.0" y="497.7" width="5.6" height="5.6" fill="#ff0000"/>
<rect x="257.2" y="497.2" width="5.6" height="5.6" fill="#ff0000"/>
<rect x="254.7" y="497.1" width="5.6" height="5.6" fill="#ff0000"/>
<rect x="252.2" y="496.5" width="5.6" height="5.6" fill="#ff0000"/>
<rect x="250.0" y="496.1" width="5.6" height="5.6" fill="#ff0000"/>
<rect x="247.1" y="495.6" width="5.6" height="5.6" fill="#ff0000"/>
<rect x="245.2" y="496.2" width="5.6" height="5.6" fill="#ff0000"/>
<rect x="242.8" y="496.0" width="5.6" height="5.6" fill="#ff0000"/>
<rect x="240.0" y="495.2" width="5.6" height="5.6" fill="#ff0000"/>
<rect x="237.7" y="495.5" width="5.6" height="5.6" fill="#ff0000"/>
<rect x="235.1" y="494.6" width="5.6" height="5.6" fill="#ff0000"/>
<rect x="233.1" y="494.7" width="5.6" height="5.6" fill="#ff0000"/>
<rect x="230.4" y="493.7" width="5.6" height="5.6" fill="#ff0000"/>
<rect x="228.1" y="493.6" width="5.6" height="5.6" fill="#ff0000"/>
<rect x="225.9" y="493.1" width="5.6" height="5.6" fill="#ff0000"/>
<rect x="223.7" y="493.3" width="5.6" height="5.6" fill="#ff0000"/>
<rect x="221.2" y="492.9" width="5.6" height="5.6" fill="#ff0000"/>
<rect x="219.0" y="492.3" width="5.6" height="5.6" fill="#ff0000"/>
<rect x="216.6" y="492.2" width="5.6" height="5.6" fill="#ff0000"/>
<rect x="214.0" y="492.3" width="5.6" height="5.6" fill="#ff0000"/>
<rect x="211.7" y="492.0" width="5.6" height="5.6" fill="#ff0000"/>
<rect x="209.4" y="491.1" width="5.6" height="5.6" fill="#ff0000"/>
<rect x="206.9" y="491.4" width="5.6" height="5.6" fill="#ff0000"/>
<rect x="204.5" y="490.6" width="5.6" height="5.6" fill="#ff0000"/>
<rect x="202.2" y="490.3" width="5.6" height="5.6" fill="#ff0000"/>
<rect x="199.4" y="490.1" width="5.6" height="5.6" fill="#ff0000"/>
<rect x="197.6" y="489.9" width="5.6" height="5.6" fill="#ff0000"/>
<rect x="195.0" y="489.6" width="5.6" height="5.6" fill="#ff0000"/>
<rect x="192.6" y="489.5" width="5.6" height="5.6" fill="#ff0000"/>
<rect x="190.2" y="489.9" width="5.6" height="5.6" fill="#ff0000"/>
<rect x="187.9" y="489.4" width="5.6" height="5.6" fill="#ff0000"/>
<rect x="185.5" y="488.5" width="5.6" height="5.6" fill="#ff0000"/>
<rect x="182.7" y="488.5" width="5.6" height="5.6" fill="#ff0000"/>
<rect x="180.6" y="488.9" width="5.6" height="5.6" fill="#ff0000"/>
<rect x="177.9" y="488.0" width="5.6" height="5.6" fill="#ff0000"/>
<rect x="175.8" y="487.8" width="5.6" height="5.6" fill="#ff0000"/>
<rect x="173.2" y="487.6" width="5.6" height="5.6" fill="#ff0000"/>
<rect x="170.8" y="487.0" width="5.6" height="5.6" fill="#ff0000"/>
<rect x="168.9" y="487.1" width="5.6" height="5.6" fill="#ff0000"/>
<rect x="166.4" y="486.8" width="5.6" height="5.6" fill="#ff0000"/>
<rect x="164.0" y="487.3" width="5.6" height="5.6" fill="#ff0000"/>
<rect x="161.2" y="486.8" width="5.6" height="5.6" fill="#ff0000"/>
<rect x="159.3" y="486.7" width="5.6" height="5.6" fill="#ff0000"/>
<rect x="156.5" y="486.4" width="5.6" height="5.6" fill="#ff0000"/>
<rect x="154.5" y="485.5" width="5.6" height="5.6" fill="#ff0000"/>
<rect x="152.0" y="485.8" width="5.6" height="5.6" fill="#ff0000"/>
<rect x="149.4" y="485.8" width="5.6" height="5.6" fill="#ff0000"/>
<rect x="147.4" y="484.7" width="5.6" height="5.6" fill="#ff0000"/>
<rect x="144.9" y="484.4" width="5.6" height="5.6" fill="#ff0000"/>
<rect x="142.4" y="483.4" width="5.6" height="5.6" fill="#ff0000"/>
<rect x="140.7" y="482.3" width="5.6" height="5.6" fill="#ff0000"/>
<rect x="138.2" y="482.2" width="5.6" height="5.6" fill="#ff0000"/>
<rect x="136.4" y="481.0" width="5.6" height="5.6" fill="#ff0000"/>
<rect x="134.0" y="479.7" width="5.6" height="5.6" fill="#ff0000"/>
<rect x="132.2" y="477.5" width="5.6" height="5.6" fill="#ff0000"/>
<rect x="130.1" y="476.6" width="5.6" height="5.6" fill="#ff0000"/>
<rect x="128.8" y="474.4" width="5.6" height="5.6" fill="#ff0000"/>
<rect x="127.4" y="472.7" width="5.6" height="5.6" fill="#ff0000"/>
<rect x="124.5" y="466.2" width="5.6" height="5.6" fill="#ff0000"/>
<rect x="122.0" y="458.2" width="5.6" height="5.6" fill="#ff0000"/>
<rect x="120.5" y="452.7" width="5.6" height="5.6" fill="#ff0000"/>
<rect x="118.2" y="443.9" width="5.6" height="5.6" fill="#ff0000"/>
<line x1="105.0" y1="456.9" x2="88.5" y2="396.5" stroke="#000" stroke-width="1.4"/>
<path d="M86.0,387.2L92.0,396.6L85.6,398.3Z" fill="#000"/>
<line x1="255.7" y1="387.9" x2="262.3" y2="446.6" stroke="#000" stroke-width="1.4"/>
<path d="M263.4,456.1L258.9,445.9L265.5,445.2Z" fill="#000"/>
<text x="133.6" y="328.8" font-size="12.5" text-anchor="start" fill="#000" style="font-style:italic;">V</text>
<text x="142.8" y="331.9" font-size="8.5" text-anchor="start" fill="#000">p</text>
<text x="142.8" y="323.5" font-size="8.5" text-anchor="start" fill="#000">max−</text>
<text x="165.8" y="328.8" font-size="12.5" text-anchor="start" fill="#000">= −18 V</text>
<text x="150.6" y="366.8" font-size="13.0" text-anchor="start" fill="#000">−16 V</text>
<text x="154.5" y="416.9" font-size="13.0" text-anchor="start" fill="#000">−14 V</text>
<text x="158.1" y="441.9" font-size="13.0" text-anchor="start" fill="#000">−12 V</text>
<text x="66.2" y="527.5" font-size="12.3"><tspan font-style="italic">t</tspan><tspan font-size="8.3" dy="3.3">d</tspan><tspan dy="-3.3"> = 600 ps, </tspan><tspan font-style="italic">V</tspan><tspan font-size="8.3" dy="3.3">r</tspan><tspan dy="-3.3"> = 0.1 V</tspan></text>
<text x="396.2" y="527.5" font-size="12.3"><tspan font-style="italic">t</tspan><tspan font-size="8.3" dy="3.3">d</tspan><tspan dy="-3.3"> = 600 ps, </tspan><tspan font-style="italic">V</tspan><tspan font-size="8.3" dy="3.3">r</tspan><tspan dy="-3.3"> = 0.1 V</tspan></text>
<rect x="380.9" y="312.5" width="252.7" height="230.9" fill="none" stroke="#000" stroke-width="1.3"/>
<line x1="403.6" y1="543.4" x2="403.6" y2="539.0" stroke="#000" stroke-width="1.1"/>
<line x1="403.6" y1="312.5" x2="403.6" y2="316.9" stroke="#000" stroke-width="1.1"/>
<line x1="495.6" y1="543.4" x2="495.6" y2="539.0" stroke="#000" stroke-width="1.1"/>
<line x1="495.6" y1="312.5" x2="495.6" y2="316.9" stroke="#000" stroke-width="1.1"/>
<line x1="587.6" y1="543.4" x2="587.6" y2="539.0" stroke="#000" stroke-width="1.1"/>
<line x1="587.6" y1="312.5" x2="587.6" y2="316.9" stroke="#000" stroke-width="1.1"/>
<line x1="449.6" y1="543.4" x2="449.6" y2="541.1" stroke="#000" stroke-width="1.1"/>
<line x1="449.6" y1="312.5" x2="449.6" y2="314.8" stroke="#000" stroke-width="1.1"/>
<line x1="541.6" y1="543.4" x2="541.6" y2="541.1" stroke="#000" stroke-width="1.1"/>
<line x1="541.6" y1="312.5" x2="541.6" y2="314.8" stroke="#000" stroke-width="1.1"/>
<line x1="633.6" y1="543.4" x2="633.6" y2="541.1" stroke="#000" stroke-width="1.1"/>
<line x1="633.6" y1="312.5" x2="633.6" y2="314.8" stroke="#000" stroke-width="1.1"/>
<line x1="380.9" y1="543.4" x2="385.3" y2="543.4" stroke="#000" stroke-width="1.1"/>
<line x1="633.6" y1="543.4" x2="629.2" y2="543.4" stroke="#000" stroke-width="1.1"/>
<line x1="380.9" y1="472.4" x2="385.3" y2="472.4" stroke="#000" stroke-width="1.1"/>
<line x1="633.6" y1="472.4" x2="629.2" y2="472.4" stroke="#000" stroke-width="1.1"/>
<line x1="380.9" y1="401.4" x2="385.3" y2="401.4" stroke="#000" stroke-width="1.1"/>
<line x1="633.6" y1="401.4" x2="629.2" y2="401.4" stroke="#000" stroke-width="1.1"/>
<line x1="380.9" y1="330.4" x2="385.3" y2="330.4" stroke="#000" stroke-width="1.1"/>
<line x1="633.6" y1="330.4" x2="629.2" y2="330.4" stroke="#000" stroke-width="1.1"/>
<line x1="380.9" y1="522.0" x2="383.2" y2="522.0" stroke="#000" stroke-width="1.1"/>
<line x1="633.6" y1="522.0" x2="631.3" y2="522.0" stroke="#000" stroke-width="1.1"/>
<line x1="380.9" y1="509.5" x2="383.2" y2="509.5" stroke="#000" stroke-width="1.1"/>
<line x1="633.6" y1="509.5" x2="631.3" y2="509.5" stroke="#000" stroke-width="1.1"/>
<line x1="380.9" y1="500.7" x2="383.2" y2="500.7" stroke="#000" stroke-width="1.1"/>
<line x1="633.6" y1="500.7" x2="631.3" y2="500.7" stroke="#000" stroke-width="1.1"/>
<line x1="380.9" y1="493.8" x2="383.2" y2="493.8" stroke="#000" stroke-width="1.1"/>
<line x1="633.6" y1="493.8" x2="631.3" y2="493.8" stroke="#000" stroke-width="1.1"/>
<line x1="380.9" y1="488.2" x2="383.2" y2="488.2" stroke="#000" stroke-width="1.1"/>
<line x1="633.6" y1="488.2" x2="631.3" y2="488.2" stroke="#000" stroke-width="1.1"/>
<line x1="380.9" y1="483.4" x2="383.2" y2="483.4" stroke="#000" stroke-width="1.1"/>
<line x1="633.6" y1="483.4" x2="631.3" y2="483.4" stroke="#000" stroke-width="1.1"/>
<line x1="380.9" y1="479.3" x2="383.2" y2="479.3" stroke="#000" stroke-width="1.1"/>
<line x1="633.6" y1="479.3" x2="631.3" y2="479.3" stroke="#000" stroke-width="1.1"/>
<line x1="380.9" y1="475.6" x2="383.2" y2="475.6" stroke="#000" stroke-width="1.1"/>
<line x1="633.6" y1="475.6" x2="631.3" y2="475.6" stroke="#000" stroke-width="1.1"/>
<line x1="380.9" y1="451.0" x2="383.2" y2="451.0" stroke="#000" stroke-width="1.1"/>
<line x1="633.6" y1="451.0" x2="631.3" y2="451.0" stroke="#000" stroke-width="1.1"/>
<line x1="380.9" y1="438.5" x2="383.2" y2="438.5" stroke="#000" stroke-width="1.1"/>
<line x1="633.6" y1="438.5" x2="631.3" y2="438.5" stroke="#000" stroke-width="1.1"/>
<line x1="380.9" y1="429.7" x2="383.2" y2="429.7" stroke="#000" stroke-width="1.1"/>
<line x1="633.6" y1="429.7" x2="631.3" y2="429.7" stroke="#000" stroke-width="1.1"/>
<line x1="380.9" y1="422.8" x2="383.2" y2="422.8" stroke="#000" stroke-width="1.1"/>
<line x1="633.6" y1="422.8" x2="631.3" y2="422.8" stroke="#000" stroke-width="1.1"/>
<line x1="380.9" y1="417.2" x2="383.2" y2="417.2" stroke="#000" stroke-width="1.1"/>
<line x1="633.6" y1="417.2" x2="631.3" y2="417.2" stroke="#000" stroke-width="1.1"/>
<line x1="380.9" y1="412.4" x2="383.2" y2="412.4" stroke="#000" stroke-width="1.1"/>
<line x1="633.6" y1="412.4" x2="631.3" y2="412.4" stroke="#000" stroke-width="1.1"/>
<line x1="380.9" y1="408.3" x2="383.2" y2="408.3" stroke="#000" stroke-width="1.1"/>
<line x1="633.6" y1="408.3" x2="631.3" y2="408.3" stroke="#000" stroke-width="1.1"/>
<line x1="380.9" y1="404.6" x2="383.2" y2="404.6" stroke="#000" stroke-width="1.1"/>
<line x1="633.6" y1="404.6" x2="631.3" y2="404.6" stroke="#000" stroke-width="1.1"/>
<line x1="380.9" y1="380.0" x2="383.2" y2="380.0" stroke="#000" stroke-width="1.1"/>
<line x1="633.6" y1="380.0" x2="631.3" y2="380.0" stroke="#000" stroke-width="1.1"/>
<line x1="380.9" y1="367.5" x2="383.2" y2="367.5" stroke="#000" stroke-width="1.1"/>
<line x1="633.6" y1="367.5" x2="631.3" y2="367.5" stroke="#000" stroke-width="1.1"/>
<line x1="380.9" y1="358.7" x2="383.2" y2="358.7" stroke="#000" stroke-width="1.1"/>
<line x1="633.6" y1="358.7" x2="631.3" y2="358.7" stroke="#000" stroke-width="1.1"/>
<line x1="380.9" y1="351.8" x2="383.2" y2="351.8" stroke="#000" stroke-width="1.1"/>
<line x1="633.6" y1="351.8" x2="631.3" y2="351.8" stroke="#000" stroke-width="1.1"/>
<line x1="380.9" y1="346.2" x2="383.2" y2="346.2" stroke="#000" stroke-width="1.1"/>
<line x1="633.6" y1="346.2" x2="631.3" y2="346.2" stroke="#000" stroke-width="1.1"/>
<line x1="380.9" y1="341.4" x2="383.2" y2="341.4" stroke="#000" stroke-width="1.1"/>
<line x1="633.6" y1="341.4" x2="631.3" y2="341.4" stroke="#000" stroke-width="1.1"/>
<line x1="380.9" y1="337.3" x2="383.2" y2="337.3" stroke="#000" stroke-width="1.1"/>
<line x1="633.6" y1="337.3" x2="631.3" y2="337.3" stroke="#000" stroke-width="1.1"/>
<line x1="380.9" y1="333.6" x2="383.2" y2="333.6" stroke="#000" stroke-width="1.1"/>
<line x1="633.6" y1="333.6" x2="631.3" y2="333.6" stroke="#000" stroke-width="1.1"/>
<text x="403.6" y="560.8" font-size="15.2" text-anchor="middle" fill="#000">0</text>
<text x="495.6" y="560.8" font-size="15.2" text-anchor="middle" fill="#000">20</text>
<text x="587.6" y="560.8" font-size="15.2" text-anchor="middle" fill="#000">40</text>
<text x="368.6" y="548.7" font-size="15.2" text-anchor="end" fill="#000">10</text>
<text x="369.0" y="542.2" font-size="11.5" text-anchor="start" fill="#000">4</text>
<text x="368.6" y="477.7" font-size="15.2" text-anchor="end" fill="#000">10</text>
<text x="369.0" y="471.2" font-size="11.5" text-anchor="start" fill="#000">5</text>
<text x="368.6" y="406.7" font-size="15.2" text-anchor="end" fill="#000">10</text>
<text x="369.0" y="400.2" font-size="11.5" text-anchor="start" fill="#000">6</text>
<text x="368.6" y="335.7" font-size="15.2" text-anchor="end" fill="#000">10</text>
<text x="369.0" y="329.2" font-size="11.5" text-anchor="start" fill="#000">7</text>
<text x="495.3" y="582.3" font-size="14.8" text-anchor="middle" fill="#000">Cycles</text>
<text x="342.7" y="428.0" font-size="14.5" text-anchor="middle" fill="#000" transform="rotate(-90 342.7 428.0)">Resistance (Ω)</text>
<text x="329.4" y="316.0" font-size="21.5" font-weight="bold">d</text>
<polyline points="408.2,498.3 412.8,347.8 417.4,498.3 422.0,345.5 426.6,497.9 431.2,346.4 435.8,497.8 440.4,345.6 445.0,501.3 449.6,346.5 454.2,497.5 458.8,346.5 463.4,497.2 468.0,345.5 472.6,498.1 477.2,346.4 481.8,497.8 486.4,347.2 491.0,497.6 495.6,345.4 500.2,498.1 504.8,346.8 509.4,498.0 514.0,346.9 518.6,498.4 523.2,346.2 527.8,498.1 532.4,346.3 537.0,497.9 541.6,347.0 546.2,497.6 550.8,345.5 555.4,497.8 560.0,347.2 564.6,497.9 569.2,346.5 573.8,498.0 578.4,345.8 583.0,497.4 587.6,346.1" fill="none" stroke="#b766ff" stroke-width="0.8" stroke-linejoin="round" stroke-opacity="0.85"/>
<path d="M408.2,494.7L411.8,498.3L408.2,501.9L404.6,498.3Z" fill="#9900ff"/>
<path d="M412.8,344.2L416.4,347.8L412.8,351.4L409.2,347.8Z" fill="#9900ff"/>
<path d="M417.4,494.7L421.0,498.3L417.4,501.9L413.8,498.3Z" fill="#9900ff"/>
<path d="M422.0,341.9L425.6,345.5L422.0,349.1L418.4,345.5Z" fill="#9900ff"/>
<path d="M426.6,494.3L430.2,497.9L426.6,501.5L423.0,497.9Z" fill="#9900ff"/>
<path d="M431.2,342.8L434.8,346.4L431.2,350.0L427.6,346.4Z" fill="#9900ff"/>
<path d="M435.8,494.2L439.4,497.8L435.8,501.4L432.2,497.8Z" fill="#9900ff"/>
<path d="M440.4,342.0L444.0,345.6L440.4,349.2L436.8,345.6Z" fill="#9900ff"/>
<path d="M445.0,497.7L448.6,501.3L445.0,504.9L441.4,501.3Z" fill="#9900ff"/>
<path d="M449.6,342.9L453.2,346.5L449.6,350.1L446.0,346.5Z" fill="#9900ff"/>
<path d="M454.2,493.9L457.8,497.5L454.2,501.1L450.6,497.5Z" fill="#9900ff"/>
<path d="M458.8,342.9L462.4,346.5L458.8,350.1L455.2,346.5Z" fill="#9900ff"/>
<path d="M463.4,493.6L467.0,497.2L463.4,500.8L459.8,497.2Z" fill="#9900ff"/>
<path d="M468.0,341.9L471.6,345.5L468.0,349.1L464.4,345.5Z" fill="#9900ff"/>
<path d="M472.6,494.5L476.2,498.1L472.6,501.7L469.0,498.1Z" fill="#9900ff"/>
<path d="M477.2,342.8L480.8,346.4L477.2,350.0L473.6,346.4Z" fill="#9900ff"/>
<path d="M481.8,494.2L485.4,497.8L481.8,501.4L478.2,497.8Z" fill="#9900ff"/>
<path d="M486.4,343.6L490.0,347.2L486.4,350.8L482.8,347.2Z" fill="#9900ff"/>
<path d="M491.0,494.0L494.6,497.6L491.0,501.2L487.4,497.6Z" fill="#9900ff"/>
<path d="M495.6,341.8L499.2,345.4L495.6,349.0L492.0,345.4Z" fill="#9900ff"/>
<path d="M500.2,494.5L503.8,498.1L500.2,501.7L496.6,498.1Z" fill="#9900ff"/>
<path d="M504.8,343.2L508.4,346.8L504.8,350.4L501.2,346.8Z" fill="#9900ff"/>
<path d="M509.4,494.4L513.0,498.0L509.4,501.6L505.8,498.0Z" fill="#9900ff"/>
<path d="M514.0,343.3L517.6,346.9L514.0,350.5L510.4,346.9Z" fill="#9900ff"/>
<path d="M518.6,494.8L522.2,498.4L518.6,502.0L515.0,498.4Z" fill="#9900ff"/>
<path d="M523.2,342.6L526.8,346.2L523.2,349.8L519.6,346.2Z" fill="#9900ff"/>
<path d="M527.8,494.5L531.4,498.1L527.8,501.7L524.2,498.1Z" fill="#9900ff"/>
<path d="M532.4,342.7L536.0,346.3L532.4,349.9L528.8,346.3Z" fill="#9900ff"/>
<path d="M537.0,494.3L540.6,497.9L537.0,501.5L533.4,497.9Z" fill="#9900ff"/>
<path d="M541.6,343.4L545.2,347.0L541.6,350.6L538.0,347.0Z" fill="#9900ff"/>
<path d="M546.2,494.0L549.8,497.6L546.2,501.2L542.6,497.6Z" fill="#9900ff"/>
<path d="M550.8,341.9L554.4,345.5L550.8,349.1L547.2,345.5Z" fill="#9900ff"/>
<path d="M555.4,494.2L559.0,497.8L555.4,501.4L551.8,497.8Z" fill="#9900ff"/>
<path d="M560.0,343.6L563.6,347.2L560.0,350.8L556.4,347.2Z" fill="#9900ff"/>
<path d="M564.6,494.3L568.2,497.9L564.6,501.5L561.0,497.9Z" fill="#9900ff"/>
<path d="M569.2,342.9L572.8,346.5L569.2,350.1L565.6,346.5Z" fill="#9900ff"/>
<path d="M573.8,494.4L577.4,498.0L573.8,501.6L570.2,498.0Z" fill="#9900ff"/>
<path d="M578.4,342.2L582.0,345.8L578.4,349.4L574.8,345.8Z" fill="#9900ff"/>
<path d="M583.0,493.8L586.6,497.4L583.0,501.0L579.4,497.4Z" fill="#9900ff"/>
<path d="M587.6,342.5L591.2,346.1L587.6,349.7L584.0,346.1Z" fill="#9900ff"/>
<polyline points="408.2,498.7 412.8,386.2 417.4,497.8 422.0,386.0 426.6,497.7 431.2,386.4 435.8,498.4 440.4,387.8 445.0,498.1 449.6,386.7 454.2,498.0 458.8,386.5 463.4,498.6 468.0,387.1 472.6,498.0 477.2,386.0 481.8,498.6 486.4,387.5 491.0,498.7 495.6,386.3 500.2,498.4 504.8,388.1 509.4,498.4 514.0,388.2 518.6,497.9 523.2,388.2 527.8,497.8 532.4,386.8 537.0,497.7 541.6,387.8 546.2,498.5 550.8,388.2 555.4,498.7 560.0,388.2 564.6,498.3 569.2,388.3 573.8,498.6 578.4,386.6 583.0,498.9 587.6,386.7" fill="none" stroke="#66bbff" stroke-width="0.8" stroke-linejoin="round" stroke-opacity="0.85"/>
<circle cx="408.2" cy="498.7" r="3.1" fill="#00aaff"/>
<circle cx="412.8" cy="386.2" r="3.1" fill="#00aaff"/>
<circle cx="417.4" cy="497.8" r="3.1" fill="#00aaff"/>
<circle cx="422.0" cy="386.0" r="3.1" fill="#00aaff"/>
<circle cx="426.6" cy="497.7" r="3.1" fill="#00aaff"/>
<circle cx="431.2" cy="386.4" r="3.1" fill="#00aaff"/>
<circle cx="435.8" cy="498.4" r="3.1" fill="#00aaff"/>
<circle cx="440.4" cy="387.8" r="3.1" fill="#00aaff"/>
<circle cx="445.0" cy="498.1" r="3.1" fill="#00aaff"/>
<circle cx="449.6" cy="386.7" r="3.1" fill="#00aaff"/>
<circle cx="454.2" cy="498.0" r="3.1" fill="#00aaff"/>
<circle cx="458.8" cy="386.5" r="3.1" fill="#00aaff"/>
<circle cx="463.4" cy="498.6" r="3.1" fill="#00aaff"/>
<circle cx="468.0" cy="387.1" r="3.1" fill="#00aaff"/>
<circle cx="472.6" cy="498.0" r="3.1" fill="#00aaff"/>
<circle cx="477.2" cy="386.0" r="3.1" fill="#00aaff"/>
<circle cx="481.8" cy="498.6" r="3.1" fill="#00aaff"/>
<circle cx="486.4" cy="387.5" r="3.1" fill="#00aaff"/>
<circle cx="491.0" cy="498.7" r="3.1" fill="#00aaff"/>
<circle cx="495.6" cy="386.3" r="3.1" fill="#00aaff"/>
<circle cx="500.2" cy="498.4" r="3.1" fill="#00aaff"/>
<circle cx="504.8" cy="388.1" r="3.1" fill="#00aaff"/>
<circle cx="509.4" cy="498.4" r="3.1" fill="#00aaff"/>
<circle cx="514.0" cy="388.2" r="3.1" fill="#00aaff"/>
<circle cx="518.6" cy="497.9" r="3.1" fill="#00aaff"/>
<circle cx="523.2" cy="388.2" r="3.1" fill="#00aaff"/>
<circle cx="527.8" cy="497.8" r="3.1" fill="#00aaff"/>
<circle cx="532.4" cy="386.8" r="3.1" fill="#00aaff"/>
<circle cx="537.0" cy="497.7" r="3.1" fill="#00aaff"/>
<circle cx="541.6" cy="387.8" r="3.1" fill="#00aaff"/>
<circle cx="546.2" cy="498.5" r="3.1" fill="#00aaff"/>
<circle cx="550.8" cy="388.2" r="3.1" fill="#00aaff"/>
<circle cx="555.4" cy="498.7" r="3.1" fill="#00aaff"/>
<circle cx="560.0" cy="388.2" r="3.1" fill="#00aaff"/>
<circle cx="564.6" cy="498.3" r="3.1" fill="#00aaff"/>
<circle cx="569.2" cy="388.3" r="3.1" fill="#00aaff"/>
<circle cx="573.8" cy="498.6" r="3.1" fill="#00aaff"/>
<circle cx="578.4" cy="386.6" r="3.1" fill="#00aaff"/>
<circle cx="583.0" cy="498.9" r="3.1" fill="#00aaff"/>
<circle cx="587.6" cy="386.7" r="3.1" fill="#00aaff"/>
<polyline points="408.2,497.2 412.8,423.4 417.4,497.6 422.0,423.7 426.6,498.1 431.2,425.7 435.8,497.3 440.4,423.5 445.0,497.6 449.6,423.6 454.2,497.7 458.8,425.3 463.4,497.3 468.0,424.3 472.6,498.1 477.2,424.4 481.8,497.4 486.4,425.5 491.0,498.0 495.6,425.5 500.2,497.8 504.8,424.3 509.4,497.8 514.0,425.4 518.6,497.8 523.2,423.8 527.8,497.4 532.4,424.3 537.0,497.9 541.6,424.6 546.2,497.7 550.8,425.3 555.4,497.1 560.0,424.8 564.6,497.4 569.2,424.7 573.8,498.0 578.4,423.8 583.0,498.1 587.6,423.4" fill="none" stroke="#ffb060" stroke-width="0.8" stroke-linejoin="round" stroke-opacity="0.85"/>
<path d="M408.2,493.9L411.6,499.5L404.8,499.5Z" fill="#ff8000"/>
<path d="M412.8,420.0L416.2,425.6L409.4,425.6Z" fill="#ff8000"/>
<path d="M417.4,494.2L420.8,499.8L414.0,499.8Z" fill="#ff8000"/>
<path d="M422.0,420.4L425.4,426.0L418.6,426.0Z" fill="#ff8000"/>
<path d="M426.6,494.8L430.0,500.4L423.2,500.4Z" fill="#ff8000"/>
<path d="M431.2,422.3L434.6,427.9L427.8,427.9Z" fill="#ff8000"/>
<path d="M435.8,493.9L439.2,499.5L432.4,499.5Z" fill="#ff8000"/>
<path d="M440.4,420.1L443.8,425.7L437.0,425.7Z" fill="#ff8000"/>
<path d="M445.0,494.3L448.4,499.9L441.6,499.9Z" fill="#ff8000"/>
<path d="M449.6,420.3L453.0,425.9L446.2,425.9Z" fill="#ff8000"/>
<path d="M454.2,494.3L457.6,499.9L450.8,499.9Z" fill="#ff8000"/>
<path d="M458.8,422.0L462.2,427.6L455.4,427.6Z" fill="#ff8000"/>
<path d="M463.4,493.9L466.8,499.5L460.0,499.5Z" fill="#ff8000"/>
<path d="M468.0,420.9L471.4,426.5L464.6,426.5Z" fill="#ff8000"/>
<path d="M472.6,494.7L476.0,500.3L469.2,500.3Z" fill="#ff8000"/>
<path d="M477.2,421.0L480.6,426.6L473.8,426.6Z" fill="#ff8000"/>
<path d="M481.8,494.1L485.2,499.7L478.4,499.7Z" fill="#ff8000"/>
<path d="M486.4,422.2L489.8,427.8L483.0,427.8Z" fill="#ff8000"/>
<path d="M491.0,494.6L494.4,500.2L487.6,500.2Z" fill="#ff8000"/>
<path d="M495.6,422.2L499.0,427.8L492.2,427.8Z" fill="#ff8000"/>
<path d="M500.2,494.5L503.6,500.1L496.8,500.1Z" fill="#ff8000"/>
<path d="M504.8,420.9L508.2,426.5L501.4,426.5Z" fill="#ff8000"/>
<path d="M509.4,494.5L512.8,500.1L506.0,500.1Z" fill="#ff8000"/>
<path d="M514.0,422.0L517.4,427.6L510.6,427.6Z" fill="#ff8000"/>
<path d="M518.6,494.4L522.0,500.0L515.2,500.0Z" fill="#ff8000"/>
<path d="M523.2,420.5L526.6,426.1L519.8,426.1Z" fill="#ff8000"/>
<path d="M527.8,494.0L531.2,499.6L524.4,499.6Z" fill="#ff8000"/>
<path d="M532.4,420.9L535.8,426.5L529.0,426.5Z" fill="#ff8000"/>
<path d="M537.0,494.6L540.4,500.2L533.6,500.2Z" fill="#ff8000"/>
<path d="M541.6,421.3L545.0,426.9L538.2,426.9Z" fill="#ff8000"/>
<path d="M546.2,494.3L549.6,499.9L542.8,499.9Z" fill="#ff8000"/>
<path d="M550.8,422.0L554.2,427.6L547.4,427.6Z" fill="#ff8000"/>
<path d="M555.4,493.8L558.8,499.4L552.0,499.4Z" fill="#ff8000"/>
<path d="M560.0,421.5L563.4,427.1L556.6,427.1Z" fill="#ff8000"/>
<path d="M564.6,494.0L568.0,499.6L561.2,499.6Z" fill="#ff8000"/>
<path d="M569.2,421.3L572.6,426.9L565.8,426.9Z" fill="#ff8000"/>
<path d="M573.8,494.6L577.2,500.2L570.4,500.2Z" fill="#ff8000"/>
<path d="M578.4,420.5L581.8,426.1L575.0,426.1Z" fill="#ff8000"/>
<path d="M583.0,494.8L586.4,500.4L579.6,500.4Z" fill="#ff8000"/>
<path d="M587.6,420.0L591.0,425.6L584.2,425.6Z" fill="#ff8000"/>
<polyline points="408.2,497.5 412.8,454.4 417.4,497.1 422.0,454.5 426.6,497.4 431.2,454.2 435.8,497.7 440.4,453.0 445.0,497.3 449.6,455.0 454.2,497.0 458.8,455.3 463.4,497.0 468.0,454.8 472.6,497.0 477.2,454.2 481.8,497.3 486.4,453.2 491.0,497.6 495.6,454.2 500.2,497.6 504.8,454.4 509.4,497.5 514.0,454.4 518.6,497.2 523.2,455.3 527.8,496.9 532.4,455.3 537.0,497.8 541.6,454.3 546.2,497.7 550.8,454.8 555.4,497.5 560.0,453.8 564.6,497.2 569.2,453.9 573.8,497.2 578.4,455.5 583.0,497.2 587.6,454.0" fill="none" stroke="#ff6060" stroke-width="0.8" stroke-linejoin="round" stroke-opacity="0.85"/>
<rect x="405.4" y="494.7" width="5.6" height="5.6" fill="#ff0000"/>
<rect x="410.0" y="451.6" width="5.6" height="5.6" fill="#ff0000"/>
<rect x="414.6" y="494.3" width="5.6" height="5.6" fill="#ff0000"/>
<rect x="419.2" y="451.7" width="5.6" height="5.6" fill="#ff0000"/>
<rect x="423.8" y="494.6" width="5.6" height="5.6" fill="#ff0000"/>
<rect x="428.4" y="451.4" width="5.6" height="5.6" fill="#ff0000"/>
<rect x="433.0" y="494.9" width="5.6" height="5.6" fill="#ff0000"/>
<rect x="437.6" y="450.2" width="5.6" height="5.6" fill="#ff0000"/>
<rect x="442.2" y="494.5" width="5.6" height="5.6" fill="#ff0000"/>
<rect x="446.8" y="452.2" width="5.6" height="5.6" fill="#ff0000"/>
<rect x="451.4" y="494.2" width="5.6" height="5.6" fill="#ff0000"/>
<rect x="456.0" y="452.5" width="5.6" height="5.6" fill="#ff0000"/>
<rect x="460.6" y="494.2" width="5.6" height="5.6" fill="#ff0000"/>
<rect x="465.2" y="452.0" width="5.6" height="5.6" fill="#ff0000"/>
<rect x="469.8" y="494.2" width="5.6" height="5.6" fill="#ff0000"/>
<rect x="474.4" y="451.4" width="5.6" height="5.6" fill="#ff0000"/>
<rect x="479.0" y="494.5" width="5.6" height="5.6" fill="#ff0000"/>
<rect x="483.6" y="450.4" width="5.6" height="5.6" fill="#ff0000"/>
<rect x="488.2" y="494.8" width="5.6" height="5.6" fill="#ff0000"/>
<rect x="492.8" y="451.4" width="5.6" height="5.6" fill="#ff0000"/>
<rect x="497.4" y="494.8" width="5.6" height="5.6" fill="#ff0000"/>
<rect x="502.0" y="451.6" width="5.6" height="5.6" fill="#ff0000"/>
<rect x="506.6" y="494.7" width="5.6" height="5.6" fill="#ff0000"/>
<rect x="511.2" y="451.6" width="5.6" height="5.6" fill="#ff0000"/>
<rect x="515.8" y="494.4" width="5.6" height="5.6" fill="#ff0000"/>
<rect x="520.4" y="452.5" width="5.6" height="5.6" fill="#ff0000"/>
<rect x="525.0" y="494.1" width="5.6" height="5.6" fill="#ff0000"/>
<rect x="529.6" y="452.5" width="5.6" height="5.6" fill="#ff0000"/>
<rect x="534.2" y="495.0" width="5.6" height="5.6" fill="#ff0000"/>
<rect x="538.8" y="451.5" width="5.6" height="5.6" fill="#ff0000"/>
<rect x="543.4" y="494.9" width="5.6" height="5.6" fill="#ff0000"/>
<rect x="548.0" y="452.0" width="5.6" height="5.6" fill="#ff0000"/>
<rect x="552.6" y="494.7" width="5.6" height="5.6" fill="#ff0000"/>
<rect x="557.2" y="451.0" width="5.6" height="5.6" fill="#ff0000"/>
<rect x="561.8" y="494.4" width="5.6" height="5.6" fill="#ff0000"/>
<rect x="566.4" y="451.1" width="5.6" height="5.6" fill="#ff0000"/>
<rect x="571.0" y="494.4" width="5.6" height="5.6" fill="#ff0000"/>
<rect x="575.6" y="452.7" width="5.6" height="5.6" fill="#ff0000"/>
<rect x="580.2" y="494.4" width="5.6" height="5.6" fill="#ff0000"/>
<rect x="584.8" y="451.2" width="5.6" height="5.6" fill="#ff0000"/>
<text x="595.9" y="350.7" font-size="12.3" text-anchor="start" fill="#000">−18 V</text>
<text x="595.9" y="390.8" font-size="12.3" text-anchor="start" fill="#000">−16 V</text>
<text x="595.9" y="429.2" font-size="12.3" text-anchor="start" fill="#000">−14 V</text>
<text x="595.9" y="456.2" font-size="12.3" text-anchor="start" fill="#000">−12 V</text>
<text x="595.9" y="502.3" font-size="12.3" text-anchor="start" fill="#000">+15 V</text>
<rect x="52.5" y="616.2" width="252.8" height="230.9" fill="none" stroke="#000" stroke-width="1.3"/>
<line x1="67.4" y1="847.1" x2="67.4" y2="842.7" stroke="#000" stroke-width="1.1"/>
<line x1="67.4" y1="616.2" x2="67.4" y2="620.6" stroke="#000" stroke-width="1.1"/>
<line x1="118.1" y1="847.1" x2="118.1" y2="842.7" stroke="#000" stroke-width="1.1"/>
<line x1="118.1" y1="616.2" x2="118.1" y2="620.6" stroke="#000" stroke-width="1.1"/>
<line x1="168.8" y1="847.1" x2="168.8" y2="842.7" stroke="#000" stroke-width="1.1"/>
<line x1="168.8" y1="616.2" x2="168.8" y2="620.6" stroke="#000" stroke-width="1.1"/>
<line x1="219.5" y1="847.1" x2="219.5" y2="842.7" stroke="#000" stroke-width="1.1"/>
<line x1="219.5" y1="616.2" x2="219.5" y2="620.6" stroke="#000" stroke-width="1.1"/>
<line x1="270.2" y1="847.1" x2="270.2" y2="842.7" stroke="#000" stroke-width="1.1"/>
<line x1="270.2" y1="616.2" x2="270.2" y2="620.6" stroke="#000" stroke-width="1.1"/>
<line x1="56.2" y1="847.1" x2="56.2" y2="844.8" stroke="#000" stroke-width="1.1"/>
<line x1="56.2" y1="616.2" x2="56.2" y2="618.5" stroke="#000" stroke-width="1.1"/>
<line x1="59.5" y1="847.1" x2="59.5" y2="844.8" stroke="#000" stroke-width="1.1"/>
<line x1="59.5" y1="616.2" x2="59.5" y2="618.5" stroke="#000" stroke-width="1.1"/>
<line x1="62.5" y1="847.1" x2="62.5" y2="844.8" stroke="#000" stroke-width="1.1"/>
<line x1="62.5" y1="616.2" x2="62.5" y2="618.5" stroke="#000" stroke-width="1.1"/>
<line x1="65.1" y1="847.1" x2="65.1" y2="844.8" stroke="#000" stroke-width="1.1"/>
<line x1="65.1" y1="616.2" x2="65.1" y2="618.5" stroke="#000" stroke-width="1.1"/>
<line x1="82.7" y1="847.1" x2="82.7" y2="844.8" stroke="#000" stroke-width="1.1"/>
<line x1="82.7" y1="616.2" x2="82.7" y2="618.5" stroke="#000" stroke-width="1.1"/>
<line x1="91.6" y1="847.1" x2="91.6" y2="844.8" stroke="#000" stroke-width="1.1"/>
<line x1="91.6" y1="616.2" x2="91.6" y2="618.5" stroke="#000" stroke-width="1.1"/>
<line x1="97.9" y1="847.1" x2="97.9" y2="844.8" stroke="#000" stroke-width="1.1"/>
<line x1="97.9" y1="616.2" x2="97.9" y2="618.5" stroke="#000" stroke-width="1.1"/>
<line x1="102.8" y1="847.1" x2="102.8" y2="844.8" stroke="#000" stroke-width="1.1"/>
<line x1="102.8" y1="616.2" x2="102.8" y2="618.5" stroke="#000" stroke-width="1.1"/>
<line x1="106.9" y1="847.1" x2="106.9" y2="844.8" stroke="#000" stroke-width="1.1"/>
<line x1="106.9" y1="616.2" x2="106.9" y2="618.5" stroke="#000" stroke-width="1.1"/>
<line x1="110.2" y1="847.1" x2="110.2" y2="844.8" stroke="#000" stroke-width="1.1"/>
<line x1="110.2" y1="616.2" x2="110.2" y2="618.5" stroke="#000" stroke-width="1.1"/>
<line x1="113.2" y1="847.1" x2="113.2" y2="844.8" stroke="#000" stroke-width="1.1"/>
<line x1="113.2" y1="616.2" x2="113.2" y2="618.5" stroke="#000" stroke-width="1.1"/>
<line x1="115.8" y1="847.1" x2="115.8" y2="844.8" stroke="#000" stroke-width="1.1"/>
<line x1="115.8" y1="616.2" x2="115.8" y2="618.5" stroke="#000" stroke-width="1.1"/>
<line x1="133.4" y1="847.1" x2="133.4" y2="844.8" stroke="#000" stroke-width="1.1"/>
<line x1="133.4" y1="616.2" x2="133.4" y2="618.5" stroke="#000" stroke-width="1.1"/>
<line x1="142.3" y1="847.1" x2="142.3" y2="844.8" stroke="#000" stroke-width="1.1"/>
<line x1="142.3" y1="616.2" x2="142.3" y2="618.5" stroke="#000" stroke-width="1.1"/>
<line x1="148.6" y1="847.1" x2="148.6" y2="844.8" stroke="#000" stroke-width="1.1"/>
<line x1="148.6" y1="616.2" x2="148.6" y2="618.5" stroke="#000" stroke-width="1.1"/>
<line x1="153.5" y1="847.1" x2="153.5" y2="844.8" stroke="#000" stroke-width="1.1"/>
<line x1="153.5" y1="616.2" x2="153.5" y2="618.5" stroke="#000" stroke-width="1.1"/>
<line x1="157.6" y1="847.1" x2="157.6" y2="844.8" stroke="#000" stroke-width="1.1"/>
<line x1="157.6" y1="616.2" x2="157.6" y2="618.5" stroke="#000" stroke-width="1.1"/>
<line x1="160.9" y1="847.1" x2="160.9" y2="844.8" stroke="#000" stroke-width="1.1"/>
<line x1="160.9" y1="616.2" x2="160.9" y2="618.5" stroke="#000" stroke-width="1.1"/>
<line x1="163.9" y1="847.1" x2="163.9" y2="844.8" stroke="#000" stroke-width="1.1"/>
<line x1="163.9" y1="616.2" x2="163.9" y2="618.5" stroke="#000" stroke-width="1.1"/>
<line x1="166.5" y1="847.1" x2="166.5" y2="844.8" stroke="#000" stroke-width="1.1"/>
<line x1="166.5" y1="616.2" x2="166.5" y2="618.5" stroke="#000" stroke-width="1.1"/>
<line x1="184.1" y1="847.1" x2="184.1" y2="844.8" stroke="#000" stroke-width="1.1"/>
<line x1="184.1" y1="616.2" x2="184.1" y2="618.5" stroke="#000" stroke-width="1.1"/>
<line x1="193.0" y1="847.1" x2="193.0" y2="844.8" stroke="#000" stroke-width="1.1"/>
<line x1="193.0" y1="616.2" x2="193.0" y2="618.5" stroke="#000" stroke-width="1.1"/>
<line x1="199.3" y1="847.1" x2="199.3" y2="844.8" stroke="#000" stroke-width="1.1"/>
<line x1="199.3" y1="616.2" x2="199.3" y2="618.5" stroke="#000" stroke-width="1.1"/>
<line x1="204.2" y1="847.1" x2="204.2" y2="844.8" stroke="#000" stroke-width="1.1"/>
<line x1="204.2" y1="616.2" x2="204.2" y2="618.5" stroke="#000" stroke-width="1.1"/>
<line x1="208.3" y1="847.1" x2="208.3" y2="844.8" stroke="#000" stroke-width="1.1"/>
<line x1="208.3" y1="616.2" x2="208.3" y2="618.5" stroke="#000" stroke-width="1.1"/>
<line x1="211.6" y1="847.1" x2="211.6" y2="844.8" stroke="#000" stroke-width="1.1"/>
<line x1="211.6" y1="616.2" x2="211.6" y2="618.5" stroke="#000" stroke-width="1.1"/>
<line x1="214.6" y1="847.1" x2="214.6" y2="844.8" stroke="#000" stroke-width="1.1"/>
<line x1="214.6" y1="616.2" x2="214.6" y2="618.5" stroke="#000" stroke-width="1.1"/>
<line x1="217.2" y1="847.1" x2="217.2" y2="844.8" stroke="#000" stroke-width="1.1"/>
<line x1="217.2" y1="616.2" x2="217.2" y2="618.5" stroke="#000" stroke-width="1.1"/>
<line x1="234.8" y1="847.1" x2="234.8" y2="844.8" stroke="#000" stroke-width="1.1"/>
<line x1="234.8" y1="616.2" x2="234.8" y2="618.5" stroke="#000" stroke-width="1.1"/>
<line x1="243.7" y1="847.1" x2="243.7" y2="844.8" stroke="#000" stroke-width="1.1"/>
<line x1="243.7" y1="616.2" x2="243.7" y2="618.5" stroke="#000" stroke-width="1.1"/>
<line x1="250.0" y1="847.1" x2="250.0" y2="844.8" stroke="#000" stroke-width="1.1"/>
<line x1="250.0" y1="616.2" x2="250.0" y2="618.5" stroke="#000" stroke-width="1.1"/>
<line x1="254.9" y1="847.1" x2="254.9" y2="844.8" stroke="#000" stroke-width="1.1"/>
<line x1="254.9" y1="616.2" x2="254.9" y2="618.5" stroke="#000" stroke-width="1.1"/>
<line x1="259.0" y1="847.1" x2="259.0" y2="844.8" stroke="#000" stroke-width="1.1"/>
<line x1="259.0" y1="616.2" x2="259.0" y2="618.5" stroke="#000" stroke-width="1.1"/>
<line x1="262.3" y1="847.1" x2="262.3" y2="844.8" stroke="#000" stroke-width="1.1"/>
<line x1="262.3" y1="616.2" x2="262.3" y2="618.5" stroke="#000" stroke-width="1.1"/>
<line x1="265.3" y1="847.1" x2="265.3" y2="844.8" stroke="#000" stroke-width="1.1"/>
<line x1="265.3" y1="616.2" x2="265.3" y2="618.5" stroke="#000" stroke-width="1.1"/>
<line x1="267.9" y1="847.1" x2="267.9" y2="844.8" stroke="#000" stroke-width="1.1"/>
<line x1="267.9" y1="616.2" x2="267.9" y2="618.5" stroke="#000" stroke-width="1.1"/>
<line x1="285.5" y1="847.1" x2="285.5" y2="844.8" stroke="#000" stroke-width="1.1"/>
<line x1="285.5" y1="616.2" x2="285.5" y2="618.5" stroke="#000" stroke-width="1.1"/>
<line x1="294.4" y1="847.1" x2="294.4" y2="844.8" stroke="#000" stroke-width="1.1"/>
<line x1="294.4" y1="616.2" x2="294.4" y2="618.5" stroke="#000" stroke-width="1.1"/>
<line x1="300.7" y1="847.1" x2="300.7" y2="844.8" stroke="#000" stroke-width="1.1"/>
<line x1="300.7" y1="616.2" x2="300.7" y2="618.5" stroke="#000" stroke-width="1.1"/>
<line x1="52.5" y1="846.9" x2="56.9" y2="846.9" stroke="#000" stroke-width="1.1"/>
<line x1="305.3" y1="846.9" x2="300.9" y2="846.9" stroke="#000" stroke-width="1.1"/>
<line x1="52.5" y1="776.0" x2="56.9" y2="776.0" stroke="#000" stroke-width="1.1"/>
<line x1="305.3" y1="776.0" x2="300.9" y2="776.0" stroke="#000" stroke-width="1.1"/>
<line x1="52.5" y1="705.1" x2="56.9" y2="705.1" stroke="#000" stroke-width="1.1"/>
<line x1="305.3" y1="705.1" x2="300.9" y2="705.1" stroke="#000" stroke-width="1.1"/>
<line x1="52.5" y1="634.2" x2="56.9" y2="634.2" stroke="#000" stroke-width="1.1"/>
<line x1="305.3" y1="634.2" x2="300.9" y2="634.2" stroke="#000" stroke-width="1.1"/>
<line x1="52.5" y1="825.6" x2="54.8" y2="825.6" stroke="#000" stroke-width="1.1"/>
<line x1="305.3" y1="825.6" x2="303.0" y2="825.6" stroke="#000" stroke-width="1.1"/>
<line x1="52.5" y1="813.1" x2="54.8" y2="813.1" stroke="#000" stroke-width="1.1"/>
<line x1="305.3" y1="813.1" x2="303.0" y2="813.1" stroke="#000" stroke-width="1.1"/>
<line x1="52.5" y1="804.2" x2="54.8" y2="804.2" stroke="#000" stroke-width="1.1"/>
<line x1="305.3" y1="804.2" x2="303.0" y2="804.2" stroke="#000" stroke-width="1.1"/>
<line x1="52.5" y1="797.3" x2="54.8" y2="797.3" stroke="#000" stroke-width="1.1"/>
<line x1="305.3" y1="797.3" x2="303.0" y2="797.3" stroke="#000" stroke-width="1.1"/>
<line x1="52.5" y1="791.7" x2="54.8" y2="791.7" stroke="#000" stroke-width="1.1"/>
<line x1="305.3" y1="791.7" x2="303.0" y2="791.7" stroke="#000" stroke-width="1.1"/>
<line x1="52.5" y1="787.0" x2="54.8" y2="787.0" stroke="#000" stroke-width="1.1"/>
<line x1="305.3" y1="787.0" x2="303.0" y2="787.0" stroke="#000" stroke-width="1.1"/>
<line x1="52.5" y1="782.9" x2="54.8" y2="782.9" stroke="#000" stroke-width="1.1"/>
<line x1="305.3" y1="782.9" x2="303.0" y2="782.9" stroke="#000" stroke-width="1.1"/>
<line x1="52.5" y1="779.2" x2="54.8" y2="779.2" stroke="#000" stroke-width="1.1"/>
<line x1="305.3" y1="779.2" x2="303.0" y2="779.2" stroke="#000" stroke-width="1.1"/>
<line x1="52.5" y1="754.7" x2="54.8" y2="754.7" stroke="#000" stroke-width="1.1"/>
<line x1="305.3" y1="754.7" x2="303.0" y2="754.7" stroke="#000" stroke-width="1.1"/>
<line x1="52.5" y1="742.2" x2="54.8" y2="742.2" stroke="#000" stroke-width="1.1"/>
<line x1="305.3" y1="742.2" x2="303.0" y2="742.2" stroke="#000" stroke-width="1.1"/>
<line x1="52.5" y1="733.3" x2="54.8" y2="733.3" stroke="#000" stroke-width="1.1"/>
<line x1="305.3" y1="733.3" x2="303.0" y2="733.3" stroke="#000" stroke-width="1.1"/>
<line x1="52.5" y1="726.4" x2="54.8" y2="726.4" stroke="#000" stroke-width="1.1"/>
<line x1="305.3" y1="726.4" x2="303.0" y2="726.4" stroke="#000" stroke-width="1.1"/>
<line x1="52.5" y1="720.8" x2="54.8" y2="720.8" stroke="#000" stroke-width="1.1"/>
<line x1="305.3" y1="720.8" x2="303.0" y2="720.8" stroke="#000" stroke-width="1.1"/>
<line x1="52.5" y1="716.1" x2="54.8" y2="716.1" stroke="#000" stroke-width="1.1"/>
<line x1="305.3" y1="716.1" x2="303.0" y2="716.1" stroke="#000" stroke-width="1.1"/>
<line x1="52.5" y1="712.0" x2="54.8" y2="712.0" stroke="#000" stroke-width="1.1"/>
<line x1="305.3" y1="712.0" x2="303.0" y2="712.0" stroke="#000" stroke-width="1.1"/>
<line x1="52.5" y1="708.3" x2="54.8" y2="708.3" stroke="#000" stroke-width="1.1"/>
<line x1="305.3" y1="708.3" x2="303.0" y2="708.3" stroke="#000" stroke-width="1.1"/>
<line x1="52.5" y1="683.8" x2="54.8" y2="683.8" stroke="#000" stroke-width="1.1"/>
<line x1="305.3" y1="683.8" x2="303.0" y2="683.8" stroke="#000" stroke-width="1.1"/>
<line x1="52.5" y1="671.3" x2="54.8" y2="671.3" stroke="#000" stroke-width="1.1"/>
<line x1="305.3" y1="671.3" x2="303.0" y2="671.3" stroke="#000" stroke-width="1.1"/>
<line x1="52.5" y1="662.4" x2="54.8" y2="662.4" stroke="#000" stroke-width="1.1"/>
<line x1="305.3" y1="662.4" x2="303.0" y2="662.4" stroke="#000" stroke-width="1.1"/>
<line x1="52.5" y1="655.5" x2="54.8" y2="655.5" stroke="#000" stroke-width="1.1"/>
<line x1="305.3" y1="655.5" x2="303.0" y2="655.5" stroke="#000" stroke-width="1.1"/>
<line x1="52.5" y1="649.9" x2="54.8" y2="649.9" stroke="#000" stroke-width="1.1"/>
<line x1="305.3" y1="649.9" x2="303.0" y2="649.9" stroke="#000" stroke-width="1.1"/>
<line x1="52.5" y1="645.2" x2="54.8" y2="645.2" stroke="#000" stroke-width="1.1"/>
<line x1="305.3" y1="645.2" x2="303.0" y2="645.2" stroke="#000" stroke-width="1.1"/>
<line x1="52.5" y1="641.1" x2="54.8" y2="641.1" stroke="#000" stroke-width="1.1"/>
<line x1="305.3" y1="641.1" x2="303.0" y2="641.1" stroke="#000" stroke-width="1.1"/>
<line x1="52.5" y1="637.4" x2="54.8" y2="637.4" stroke="#000" stroke-width="1.1"/>
<line x1="305.3" y1="637.4" x2="303.0" y2="637.4" stroke="#000" stroke-width="1.1"/>
<text x="40.2" y="852.2" font-size="15.2" text-anchor="end" fill="#000">10</text>
<text x="40.6" y="845.7" font-size="11.5" text-anchor="start" fill="#000">4</text>
<text x="40.2" y="781.3" font-size="15.2" text-anchor="end" fill="#000">10</text>
<text x="40.6" y="774.8" font-size="11.5" text-anchor="start" fill="#000">5</text>
<text x="40.2" y="710.4" font-size="15.2" text-anchor="end" fill="#000">10</text>
<text x="40.6" y="703.9" font-size="11.5" text-anchor="start" fill="#000">6</text>
<text x="40.2" y="639.5" font-size="15.2" text-anchor="end" fill="#000">10</text>
<text x="40.6" y="633.0" font-size="11.5" text-anchor="start" fill="#000">7</text>
<text x="73.8" y="866.4" font-size="15.2" text-anchor="end" fill="#000">10</text>
<text x="74.2" y="862.1" font-size="11.5" text-anchor="start" fill="#000">0</text>
<text x="124.5" y="866.4" font-size="15.2" text-anchor="end" fill="#000">10</text>
<text x="124.9" y="862.1" font-size="11.5" text-anchor="start" fill="#000">1</text>
<text x="175.2" y="866.4" font-size="15.2" text-anchor="end" fill="#000">10</text>
<text x="175.6" y="862.1" font-size="11.5" text-anchor="start" fill="#000">2</text>
<text x="225.9" y="866.4" font-size="15.2" text-anchor="end" fill="#000">10</text>
<text x="226.3" y="862.1" font-size="11.5" text-anchor="start" fill="#000">3</text>
<text x="276.6" y="866.4" font-size="15.2" text-anchor="end" fill="#000">10</text>
<text x="277.0" y="862.1" font-size="11.5" text-anchor="start" fill="#000">4</text>
<text x="179.0" y="885.8" font-size="14.5" text-anchor="middle" fill="#000">Time (s)</text>
<text x="11.8" y="731.7" font-size="14.5" text-anchor="middle" fill="#000" transform="rotate(-90 11.8 731.7)">Resistance (Ω)</text>
<text x="-0.9" y="620.3" font-size="21.5" font-weight="bold">e</text>
<line x1="67.4" y1="647.4" x2="270.2" y2="646.8" stroke="#b300ff" stroke-width="0.9" stroke-opacity="0.4"/>
<path d="M65.9 647.4l1.5-1.5 1.5 1.5-1.5 1.5zM131.9 647.2l1.5-1.5 1.5 1.5-1.5 1.5zM167.3 647.1l1.5-1.5 1.5 1.5-1.5 1.5zM182.6 647.1l1.5-1.5 1.5 1.5-1.5 1.5zM191.5 647.0l1.5-1.5 1.5 1.5-1.5 1.5zM197.8 647.0l1.5-1.5 1.5 1.5-1.5 1.5zM202.7 647.0l1.5-1.5 1.5 1.5-1.5 1.5zM206.8 647.0l1.5-1.5 1.5 1.5-1.5 1.5zM210.1 647.0l1.5-1.5 1.5 1.5-1.5 1.5zM213.1 647.0l1.5-1.5 1.5 1.5-1.5 1.5zM215.7 647.0l1.5-1.5 1.5 1.5-1.5 1.5zM218.0 646.9l1.5-1.5 1.5 1.5-1.5 1.5zM220.1 646.8l1.5-1.5 1.5 1.5-1.5 1.5zM222.0 647.0l1.5-1.5 1.5 1.5-1.5 1.5zM223.8 646.8l1.5-1.5 1.5 1.5-1.5 1.5zM225.4 647.0l1.5-1.5 1.5 1.5-1.5 1.5zM226.9 647.0l1.5-1.5 1.5 1.5-1.5 1.5zM228.3 646.6l1.5-1.5 1.5 1.5-1.5 1.5zM229.7 646.6l1.5-1.5 1.5 1.5-1.5 1.5zM230.9 647.1l1.5-1.5 1.5 1.5-1.5 1.5zM232.1 646.7l1.5-1.5 1.5 1.5-1.5 1.5zM233.3 646.7l1.5-1.5 1.5 1.5-1.5 1.5zM234.3 647.2l1.5-1.5 1.5 1.5-1.5 1.5zM235.4 646.9l1.5-1.5 1.5 1.5-1.5 1.5zM236.3 647.1l1.5-1.5 1.5 1.5-1.5 1.5zM237.3 646.9l1.5-1.5 1.5 1.5-1.5 1.5zM238.2 647.0l1.5-1.5 1.5 1.5-1.5 1.5zM239.0 646.6l1.5-1.5 1.5 1.5-1.5 1.5zM239.9 647.0l1.5-1.5 1.5 1.5-1.5 1.5zM240.7 647.1l1.5-1.5 1.5 1.5-1.5 1.5zM241.4 646.9l1.5-1.5 1.5 1.5-1.5 1.5zM242.2 647.0l1.5-1.5 1.5 1.5-1.5 1.5zM242.9 647.0l1.5-1.5 1.5 1.5-1.5 1.5zM243.6 646.6l1.5-1.5 1.5 1.5-1.5 1.5zM244.3 647.1l1.5-1.5 1.5 1.5-1.5 1.5zM244.9 646.9l1.5-1.5 1.5 1.5-1.5 1.5zM245.6 646.7l1.5-1.5 1.5 1.5-1.5 1.5zM246.2 646.5l1.5-1.5 1.5 1.5-1.5 1.5zM246.8 647.1l1.5-1.5 1.5 1.5-1.5 1.5zM247.4 646.8l1.5-1.5 1.5 1.5-1.5 1.5zM248.0 647.0l1.5-1.5 1.5 1.5-1.5 1.5zM248.5 647.1l1.5-1.5 1.5 1.5-1.5 1.5zM249.1 647.0l1.5-1.5 1.5 1.5-1.5 1.5zM249.6 647.2l1.5-1.5 1.5 1.5-1.5 1.5zM250.1 646.8l1.5-1.5 1.5 1.5-1.5 1.5zM250.6 647.1l1.5-1.5 1.5 1.5-1.5 1.5zM251.1 646.8l1.5-1.5 1.5 1.5-1.5 1.5zM251.6 647.2l1.5-1.5 1.5 1.5-1.5 1.5zM252.1 647.1l1.5-1.5 1.5 1.5-1.5 1.5zM252.5 646.6l1.5-1.5 1.5 1.5-1.5 1.5zM253.0 646.6l1.5-1.5 1.5 1.5-1.5 1.5zM253.4 646.6l1.5-1.5 1.5 1.5-1.5 1.5zM253.9 647.2l1.5-1.5 1.5 1.5-1.5 1.5zM254.3 646.8l1.5-1.5 1.5 1.5-1.5 1.5zM254.7 646.9l1.5-1.5 1.5 1.5-1.5 1.5zM255.1 646.7l1.5-1.5 1.5 1.5-1.5 1.5zM255.5 646.8l1.5-1.5 1.5 1.5-1.5 1.5zM255.9 646.8l1.5-1.5 1.5 1.5-1.5 1.5zM256.3 646.7l1.5-1.5 1.5 1.5-1.5 1.5zM256.7 646.9l1.5-1.5 1.5 1.5-1.5 1.5zM257.1 646.9l1.5-1.5 1.5 1.5-1.5 1.5zM257.5 647.1l1.5-1.5 1.5 1.5-1.5 1.5zM257.8 647.0l1.5-1.5 1.5 1.5-1.5 1.5zM258.2 647.1l1.5-1.5 1.5 1.5-1.5 1.5zM258.5 647.1l1.5-1.5 1.5 1.5-1.5 1.5zM258.9 647.2l1.5-1.5 1.5 1.5-1.5 1.5zM259.2 646.9l1.5-1.5 1.5 1.5-1.5 1.5zM259.6 646.6l1.5-1.5 1.5 1.5-1.5 1.5zM259.9 647.1l1.5-1.5 1.5 1.5-1.5 1.5zM260.2 647.2l1.5-1.5 1.5 1.5-1.5 1.5zM260.5 647.1l1.5-1.5 1.5 1.5-1.5 1.5zM260.8 646.9l1.5-1.5 1.5 1.5-1.5 1.5zM261.2 647.0l1.5-1.5 1.5 1.5-1.5 1.5zM261.5 646.6l1.5-1.5 1.5 1.5-1.5 1.5zM261.8 647.1l1.5-1.5 1.5 1.5-1.5 1.5zM262.1 646.9l1.5-1.5 1.5 1.5-1.5 1.5zM262.4 646.7l1.5-1.5 1.5 1.5-1.5 1.5zM262.7 646.5l1.5-1.5 1.5 1.5-1.5 1.5zM262.9 647.1l1.5-1.5 1.5 1.5-1.5 1.5zM263.2 647.2l1.5-1.5 1.5 1.5-1.5 1.5zM263.5 646.5l1.5-1.5 1.5 1.5-1.5 1.5zM263.8 647.0l1.5-1.5 1.5 1.5-1.5 1.5zM264.1 646.8l1.5-1.5 1.5 1.5-1.5 1.5zM264.3 646.6l1.5-1.5 1.5 1.5-1.5 1.5zM264.6 646.7l1.5-1.5 1.5 1.5-1.5 1.5zM264.9 647.0l1.5-1.5 1.5 1.5-1.5 1.5zM265.1 647.1l1.5-1.5 1.5 1.5-1.5 1.5zM265.4 646.5l1.5-1.5 1.5 1.5-1.5 1.5zM265.6 646.9l1.5-1.5 1.5 1.5-1.5 1.5zM265.9 646.5l1.5-1.5 1.5 1.5-1.5 1.5zM266.1 647.0l1.5-1.5 1.5 1.5-1.5 1.5zM266.4 646.7l1.5-1.5 1.5 1.5-1.5 1.5zM266.6 647.1l1.5-1.5 1.5 1.5-1.5 1.5zM266.9 647.1l1.5-1.5 1.5 1.5-1.5 1.5zM267.1 646.8l1.5-1.5 1.5 1.5-1.5 1.5zM267.3 647.2l1.5-1.5 1.5 1.5-1.5 1.5zM267.6 646.7l1.5-1.5 1.5 1.5-1.5 1.5zM267.8 646.5l1.5-1.5 1.5 1.5-1.5 1.5zM268.0 646.9l1.5-1.5 1.5 1.5-1.5 1.5zM268.3 646.5l1.5-1.5 1.5 1.5-1.5 1.5zM268.5 646.6l1.5-1.5 1.5 1.5-1.5 1.5zM268.7 646.7l1.5-1.5 1.5 1.5-1.5 1.5z" fill="#b300ff" fill-opacity="0.7"/>
<line x1="67.4" y1="652.3" x2="270.2" y2="651.4" stroke="#a200ff" stroke-width="0.9" stroke-opacity="0.4"/>
<path d="M65.9 652.3l1.5-1.5 1.5 1.5-1.5 1.5zM131.9 652.0l1.5-1.5 1.5 1.5-1.5 1.5zM167.3 651.8l1.5-1.5 1.5 1.5-1.5 1.5zM182.6 651.8l1.5-1.5 1.5 1.5-1.5 1.5zM191.5 651.7l1.5-1.5 1.5 1.5-1.5 1.5zM197.8 651.7l1.5-1.5 1.5 1.5-1.5 1.5zM202.7 651.7l1.5-1.5 1.5 1.5-1.5 1.5zM206.8 651.7l1.5-1.5 1.5 1.5-1.5 1.5zM210.1 651.7l1.5-1.5 1.5 1.5-1.5 1.5zM213.1 651.6l1.5-1.5 1.5 1.5-1.5 1.5zM215.7 651.6l1.5-1.5 1.5 1.5-1.5 1.5zM218.0 651.6l1.5-1.5 1.5 1.5-1.5 1.5zM220.1 651.7l1.5-1.5 1.5 1.5-1.5 1.5zM222.0 651.4l1.5-1.5 1.5 1.5-1.5 1.5zM223.8 651.3l1.5-1.5 1.5 1.5-1.5 1.5zM225.4 651.8l1.5-1.5 1.5 1.5-1.5 1.5zM226.9 651.5l1.5-1.5 1.5 1.5-1.5 1.5zM228.3 651.9l1.5-1.5 1.5 1.5-1.5 1.5zM229.7 651.9l1.5-1.5 1.5 1.5-1.5 1.5zM230.9 651.5l1.5-1.5 1.5 1.5-1.5 1.5zM232.1 651.5l1.5-1.5 1.5 1.5-1.5 1.5zM233.3 651.6l1.5-1.5 1.5 1.5-1.5 1.5zM234.3 651.7l1.5-1.5 1.5 1.5-1.5 1.5zM235.4 651.6l1.5-1.5 1.5 1.5-1.5 1.5zM236.3 651.6l1.5-1.5 1.5 1.5-1.5 1.5zM237.3 651.6l1.5-1.5 1.5 1.5-1.5 1.5zM238.2 651.8l1.5-1.5 1.5 1.5-1.5 1.5zM239.0 651.5l1.5-1.5 1.5 1.5-1.5 1.5zM239.9 651.5l1.5-1.5 1.5 1.5-1.5 1.5zM240.7 651.7l1.5-1.5 1.5 1.5-1.5 1.5zM241.4 651.3l1.5-1.5 1.5 1.5-1.5 1.5zM242.2 651.4l1.5-1.5 1.5 1.5-1.5 1.5zM242.9 651.8l1.5-1.5 1.5 1.5-1.5 1.5zM243.6 651.5l1.5-1.5 1.5 1.5-1.5 1.5zM244.3 651.5l1.5-1.5 1.5 1.5-1.5 1.5zM244.9 651.2l1.5-1.5 1.5 1.5-1.5 1.5zM245.6 651.4l1.5-1.5 1.5 1.5-1.5 1.5zM246.2 651.6l1.5-1.5 1.5 1.5-1.5 1.5zM246.8 651.2l1.5-1.5 1.5 1.5-1.5 1.5zM247.4 651.6l1.5-1.5 1.5 1.5-1.5 1.5zM248.0 651.6l1.5-1.5 1.5 1.5-1.5 1.5zM248.5 651.2l1.5-1.5 1.5 1.5-1.5 1.5zM249.1 651.6l1.5-1.5 1.5 1.5-1.5 1.5zM249.6 651.5l1.5-1.5 1.5 1.5-1.5 1.5zM250.1 651.6l1.5-1.5 1.5 1.5-1.5 1.5zM250.6 651.4l1.5-1.5 1.5 1.5-1.5 1.5zM251.1 651.6l1.5-1.5 1.5 1.5-1.5 1.5zM251.6 651.6l1.5-1.5 1.5 1.5-1.5 1.5zM252.1 651.1l1.5-1.5 1.5 1.5-1.5 1.5zM252.5 651.2l1.5-1.5 1.5 1.5-1.5 1.5zM253.0 651.6l1.5-1.5 1.5 1.5-1.5 1.5zM253.4 651.8l1.5-1.5 1.5 1.5-1.5 1.5zM253.9 651.3l1.5-1.5 1.5 1.5-1.5 1.5zM254.3 651.4l1.5-1.5 1.5 1.5-1.5 1.5zM254.7 651.5l1.5-1.5 1.5 1.5-1.5 1.5zM255.1 651.3l1.5-1.5 1.5 1.5-1.5 1.5zM255.5 651.4l1.5-1.5 1.5 1.5-1.5 1.5zM255.9 651.3l1.5-1.5 1.5 1.5-1.5 1.5zM256.3 651.4l1.5-1.5 1.5 1.5-1.5 1.5zM256.7 651.5l1.5-1.5 1.5 1.5-1.5 1.5zM257.1 651.3l1.5-1.5 1.5 1.5-1.5 1.5zM257.5 651.4l1.5-1.5 1.5 1.5-1.5 1.5zM257.8 651.6l1.5-1.5 1.5 1.5-1.5 1.5zM258.2 651.1l1.5-1.5 1.5 1.5-1.5 1.5zM258.5 651.5l1.5-1.5 1.5 1.5-1.5 1.5zM258.9 651.6l1.5-1.5 1.5 1.5-1.5 1.5zM259.2 651.3l1.5-1.5 1.5 1.5-1.5 1.5zM259.6 651.2l1.5-1.5 1.5 1.5-1.5 1.5zM259.9 651.7l1.5-1.5 1.5 1.5-1.5 1.5zM260.2 651.3l1.5-1.5 1.5 1.5-1.5 1.5zM260.5 651.2l1.5-1.5 1.5 1.5-1.5 1.5zM260.8 651.4l1.5-1.5 1.5 1.5-1.5 1.5zM261.2 651.6l1.5-1.5 1.5 1.5-1.5 1.5zM261.5 651.2l1.5-1.5 1.5 1.5-1.5 1.5zM261.8 651.3l1.5-1.5 1.5 1.5-1.5 1.5zM262.1 651.3l1.5-1.5 1.5 1.5-1.5 1.5zM262.4 651.7l1.5-1.5 1.5 1.5-1.5 1.5zM262.7 651.4l1.5-1.5 1.5 1.5-1.5 1.5zM262.9 651.7l1.5-1.5 1.5 1.5-1.5 1.5zM263.2 651.2l1.5-1.5 1.5 1.5-1.5 1.5zM263.5 651.3l1.5-1.5 1.5 1.5-1.5 1.5zM263.8 651.5l1.5-1.5 1.5 1.5-1.5 1.5zM264.1 651.7l1.5-1.5 1.5 1.5-1.5 1.5zM264.3 651.4l1.5-1.5 1.5 1.5-1.5 1.5zM264.6 651.2l1.5-1.5 1.5 1.5-1.5 1.5zM264.9 651.2l1.5-1.5 1.5 1.5-1.5 1.5zM265.1 651.4l1.5-1.5 1.5 1.5-1.5 1.5zM265.4 651.2l1.5-1.5 1.5 1.5-1.5 1.5zM265.6 651.6l1.5-1.5 1.5 1.5-1.5 1.5zM265.9 651.6l1.5-1.5 1.5 1.5-1.5 1.5zM266.1 651.2l1.5-1.5 1.5 1.5-1.5 1.5zM266.4 651.3l1.5-1.5 1.5 1.5-1.5 1.5zM266.6 651.6l1.5-1.5 1.5 1.5-1.5 1.5zM266.9 651.5l1.5-1.5 1.5 1.5-1.5 1.5zM267.1 651.6l1.5-1.5 1.5 1.5-1.5 1.5zM267.3 651.3l1.5-1.5 1.5 1.5-1.5 1.5zM267.6 651.1l1.5-1.5 1.5 1.5-1.5 1.5zM267.8 651.3l1.5-1.5 1.5 1.5-1.5 1.5zM268.0 651.6l1.5-1.5 1.5 1.5-1.5 1.5zM268.3 651.2l1.5-1.5 1.5 1.5-1.5 1.5zM268.5 651.3l1.5-1.5 1.5 1.5-1.5 1.5zM268.7 651.3l1.5-1.5 1.5 1.5-1.5 1.5z" fill="#a200ff" fill-opacity="0.7"/>
<line x1="67.4" y1="656.3" x2="270.2" y2="655.7" stroke="#8800ff" stroke-width="0.9" stroke-opacity="0.4"/>
<path d="M65.9 656.3l1.5-1.5 1.5 1.5-1.5 1.5zM131.9 656.1l1.5-1.5 1.5 1.5-1.5 1.5zM167.3 656.0l1.5-1.5 1.5 1.5-1.5 1.5zM182.6 656.0l1.5-1.5 1.5 1.5-1.5 1.5zM191.5 655.9l1.5-1.5 1.5 1.5-1.5 1.5zM197.8 655.9l1.5-1.5 1.5 1.5-1.5 1.5zM202.7 655.9l1.5-1.5 1.5 1.5-1.5 1.5zM206.8 655.9l1.5-1.5 1.5 1.5-1.5 1.5zM210.1 655.9l1.5-1.5 1.5 1.5-1.5 1.5zM213.1 655.9l1.5-1.5 1.5 1.5-1.5 1.5zM215.7 655.9l1.5-1.5 1.5 1.5-1.5 1.5zM218.0 655.9l1.5-1.5 1.5 1.5-1.5 1.5zM220.1 655.8l1.5-1.5 1.5 1.5-1.5 1.5zM222.0 655.8l1.5-1.5 1.5 1.5-1.5 1.5zM223.8 656.1l1.5-1.5 1.5 1.5-1.5 1.5zM225.4 655.6l1.5-1.5 1.5 1.5-1.5 1.5zM226.9 655.5l1.5-1.5 1.5 1.5-1.5 1.5zM228.3 656.1l1.5-1.5 1.5 1.5-1.5 1.5zM229.7 656.1l1.5-1.5 1.5 1.5-1.5 1.5zM230.9 656.2l1.5-1.5 1.5 1.5-1.5 1.5zM232.1 655.8l1.5-1.5 1.5 1.5-1.5 1.5zM233.3 656.1l1.5-1.5 1.5 1.5-1.5 1.5zM234.3 656.1l1.5-1.5 1.5 1.5-1.5 1.5zM235.4 655.6l1.5-1.5 1.5 1.5-1.5 1.5zM236.3 656.0l1.5-1.5 1.5 1.5-1.5 1.5zM237.3 656.0l1.5-1.5 1.5 1.5-1.5 1.5zM238.2 655.9l1.5-1.5 1.5 1.5-1.5 1.5zM239.0 655.8l1.5-1.5 1.5 1.5-1.5 1.5zM239.9 655.6l1.5-1.5 1.5 1.5-1.5 1.5zM240.7 655.7l1.5-1.5 1.5 1.5-1.5 1.5zM241.4 655.6l1.5-1.5 1.5 1.5-1.5 1.5zM242.2 655.5l1.5-1.5 1.5 1.5-1.5 1.5zM242.9 655.8l1.5-1.5 1.5 1.5-1.5 1.5zM243.6 655.6l1.5-1.5 1.5 1.5-1.5 1.5zM244.3 656.0l1.5-1.5 1.5 1.5-1.5 1.5zM244.9 655.5l1.5-1.5 1.5 1.5-1.5 1.5zM245.6 656.1l1.5-1.5 1.5 1.5-1.5 1.5zM246.2 655.9l1.5-1.5 1.5 1.5-1.5 1.5zM246.8 656.1l1.5-1.5 1.5 1.5-1.5 1.5zM247.4 656.0l1.5-1.5 1.5 1.5-1.5 1.5zM248.0 656.0l1.5-1.5 1.5 1.5-1.5 1.5zM248.5 655.8l1.5-1.5 1.5 1.5-1.5 1.5zM249.1 655.4l1.5-1.5 1.5 1.5-1.5 1.5zM249.6 655.9l1.5-1.5 1.5 1.5-1.5 1.5zM250.1 655.5l1.5-1.5 1.5 1.5-1.5 1.5zM250.6 655.6l1.5-1.5 1.5 1.5-1.5 1.5zM251.1 655.9l1.5-1.5 1.5 1.5-1.5 1.5zM251.6 655.8l1.5-1.5 1.5 1.5-1.5 1.5zM252.1 655.7l1.5-1.5 1.5 1.5-1.5 1.5zM252.5 656.1l1.5-1.5 1.5 1.5-1.5 1.5zM253.0 655.8l1.5-1.5 1.5 1.5-1.5 1.5zM253.4 655.6l1.5-1.5 1.5 1.5-1.5 1.5zM253.9 655.6l1.5-1.5 1.5 1.5-1.5 1.5zM254.3 656.0l1.5-1.5 1.5 1.5-1.5 1.5zM254.7 655.7l1.5-1.5 1.5 1.5-1.5 1.5zM255.1 655.9l1.5-1.5 1.5 1.5-1.5 1.5zM255.5 655.6l1.5-1.5 1.5 1.5-1.5 1.5zM255.9 655.5l1.5-1.5 1.5 1.5-1.5 1.5zM256.3 655.8l1.5-1.5 1.5 1.5-1.5 1.5zM256.7 656.0l1.5-1.5 1.5 1.5-1.5 1.5zM257.1 655.5l1.5-1.5 1.5 1.5-1.5 1.5zM257.5 655.9l1.5-1.5 1.5 1.5-1.5 1.5zM257.8 656.0l1.5-1.5 1.5 1.5-1.5 1.5zM258.2 655.9l1.5-1.5 1.5 1.5-1.5 1.5zM258.5 656.0l1.5-1.5 1.5 1.5-1.5 1.5zM258.9 655.4l1.5-1.5 1.5 1.5-1.5 1.5zM259.2 655.8l1.5-1.5 1.5 1.5-1.5 1.5zM259.6 656.0l1.5-1.5 1.5 1.5-1.5 1.5zM259.9 655.4l1.5-1.5 1.5 1.5-1.5 1.5zM260.2 655.6l1.5-1.5 1.5 1.5-1.5 1.5zM260.5 655.6l1.5-1.5 1.5 1.5-1.5 1.5zM260.8 655.7l1.5-1.5 1.5 1.5-1.5 1.5zM261.2 655.7l1.5-1.5 1.5 1.5-1.5 1.5zM261.5 655.7l1.5-1.5 1.5 1.5-1.5 1.5zM261.8 655.9l1.5-1.5 1.5 1.5-1.5 1.5zM262.1 655.4l1.5-1.5 1.5 1.5-1.5 1.5zM262.4 655.4l1.5-1.5 1.5 1.5-1.5 1.5zM262.7 655.5l1.5-1.5 1.5 1.5-1.5 1.5zM262.9 655.5l1.5-1.5 1.5 1.5-1.5 1.5zM263.2 655.4l1.5-1.5 1.5 1.5-1.5 1.5zM263.5 656.0l1.5-1.5 1.5 1.5-1.5 1.5zM263.8 656.0l1.5-1.5 1.5 1.5-1.5 1.5zM264.1 655.4l1.5-1.5 1.5 1.5-1.5 1.5zM264.3 655.7l1.5-1.5 1.5 1.5-1.5 1.5zM264.6 655.6l1.5-1.5 1.5 1.5-1.5 1.5zM264.9 655.6l1.5-1.5 1.5 1.5-1.5 1.5zM265.1 655.6l1.5-1.5 1.5 1.5-1.5 1.5zM265.4 655.8l1.5-1.5 1.5 1.5-1.5 1.5zM265.6 655.8l1.5-1.5 1.5 1.5-1.5 1.5zM265.9 655.6l1.5-1.5 1.5 1.5-1.5 1.5zM266.1 655.5l1.5-1.5 1.5 1.5-1.5 1.5zM266.4 655.6l1.5-1.5 1.5 1.5-1.5 1.5zM266.6 655.4l1.5-1.5 1.5 1.5-1.5 1.5zM266.9 655.7l1.5-1.5 1.5 1.5-1.5 1.5zM267.1 655.9l1.5-1.5 1.5 1.5-1.5 1.5zM267.3 655.6l1.5-1.5 1.5 1.5-1.5 1.5zM267.6 655.4l1.5-1.5 1.5 1.5-1.5 1.5zM267.8 655.5l1.5-1.5 1.5 1.5-1.5 1.5zM268.0 655.6l1.5-1.5 1.5 1.5-1.5 1.5zM268.3 655.8l1.5-1.5 1.5 1.5-1.5 1.5zM268.5 655.9l1.5-1.5 1.5 1.5-1.5 1.5zM268.7 655.6l1.5-1.5 1.5 1.5-1.5 1.5z" fill="#8800ff"/>
<line x1="67.4" y1="661.5" x2="270.2" y2="661.0" stroke="#6a00ff" stroke-width="0.9" stroke-opacity="0.4"/>
<path d="M65.9 661.5l1.5-1.5 1.5 1.5-1.5 1.5zM131.9 661.3l1.5-1.5 1.5 1.5-1.5 1.5zM167.3 661.2l1.5-1.5 1.5 1.5-1.5 1.5zM182.6 661.2l1.5-1.5 1.5 1.5-1.5 1.5zM191.5 661.2l1.5-1.5 1.5 1.5-1.5 1.5zM197.8 661.2l1.5-1.5 1.5 1.5-1.5 1.5zM202.7 661.2l1.5-1.5 1.5 1.5-1.5 1.5zM206.8 661.2l1.5-1.5 1.5 1.5-1.5 1.5zM210.1 661.1l1.5-1.5 1.5 1.5-1.5 1.5zM213.1 661.1l1.5-1.5 1.5 1.5-1.5 1.5zM215.7 661.1l1.5-1.5 1.5 1.5-1.5 1.5zM218.0 661.1l1.5-1.5 1.5 1.5-1.5 1.5zM220.1 661.3l1.5-1.5 1.5 1.5-1.5 1.5zM222.0 661.2l1.5-1.5 1.5 1.5-1.5 1.5zM223.8 661.1l1.5-1.5 1.5 1.5-1.5 1.5zM225.4 661.0l1.5-1.5 1.5 1.5-1.5 1.5zM226.9 661.1l1.5-1.5 1.5 1.5-1.5 1.5zM228.3 661.2l1.5-1.5 1.5 1.5-1.5 1.5zM229.7 661.0l1.5-1.5 1.5 1.5-1.5 1.5zM230.9 661.2l1.5-1.5 1.5 1.5-1.5 1.5zM232.1 661.1l1.5-1.5 1.5 1.5-1.5 1.5zM233.3 660.9l1.5-1.5 1.5 1.5-1.5 1.5zM234.3 661.1l1.5-1.5 1.5 1.5-1.5 1.5zM235.4 661.2l1.5-1.5 1.5 1.5-1.5 1.5zM236.3 660.8l1.5-1.5 1.5 1.5-1.5 1.5zM237.3 661.0l1.5-1.5 1.5 1.5-1.5 1.5zM238.2 661.0l1.5-1.5 1.5 1.5-1.5 1.5zM239.0 661.3l1.5-1.5 1.5 1.5-1.5 1.5zM239.9 661.4l1.5-1.5 1.5 1.5-1.5 1.5zM240.7 661.0l1.5-1.5 1.5 1.5-1.5 1.5zM241.4 661.3l1.5-1.5 1.5 1.5-1.5 1.5zM242.2 661.3l1.5-1.5 1.5 1.5-1.5 1.5zM242.9 660.9l1.5-1.5 1.5 1.5-1.5 1.5zM243.6 661.0l1.5-1.5 1.5 1.5-1.5 1.5zM244.3 660.8l1.5-1.5 1.5 1.5-1.5 1.5zM244.9 661.3l1.5-1.5 1.5 1.5-1.5 1.5zM245.6 661.2l1.5-1.5 1.5 1.5-1.5 1.5zM246.2 661.3l1.5-1.5 1.5 1.5-1.5 1.5zM246.8 661.3l1.5-1.5 1.5 1.5-1.5 1.5zM247.4 661.2l1.5-1.5 1.5 1.5-1.5 1.5zM248.0 661.2l1.5-1.5 1.5 1.5-1.5 1.5zM248.5 661.1l1.5-1.5 1.5 1.5-1.5 1.5zM249.1 660.8l1.5-1.5 1.5 1.5-1.5 1.5zM249.6 661.1l1.5-1.5 1.5 1.5-1.5 1.5zM250.1 660.7l1.5-1.5 1.5 1.5-1.5 1.5zM250.6 660.8l1.5-1.5 1.5 1.5-1.5 1.5zM251.1 661.2l1.5-1.5 1.5 1.5-1.5 1.5zM251.6 660.7l1.5-1.5 1.5 1.5-1.5 1.5zM252.1 660.8l1.5-1.5 1.5 1.5-1.5 1.5zM252.5 660.8l1.5-1.5 1.5 1.5-1.5 1.5zM253.0 661.3l1.5-1.5 1.5 1.5-1.5 1.5zM253.4 660.8l1.5-1.5 1.5 1.5-1.5 1.5zM253.9 660.7l1.5-1.5 1.5 1.5-1.5 1.5zM254.3 661.3l1.5-1.5 1.5 1.5-1.5 1.5zM254.7 660.8l1.5-1.5 1.5 1.5-1.5 1.5zM255.1 661.3l1.5-1.5 1.5 1.5-1.5 1.5zM255.5 661.2l1.5-1.5 1.5 1.5-1.5 1.5zM255.9 661.3l1.5-1.5 1.5 1.5-1.5 1.5zM256.3 661.3l1.5-1.5 1.5 1.5-1.5 1.5zM256.7 661.1l1.5-1.5 1.5 1.5-1.5 1.5zM257.1 661.2l1.5-1.5 1.5 1.5-1.5 1.5zM257.5 660.7l1.5-1.5 1.5 1.5-1.5 1.5zM257.8 661.2l1.5-1.5 1.5 1.5-1.5 1.5zM258.2 661.0l1.5-1.5 1.5 1.5-1.5 1.5zM258.5 661.2l1.5-1.5 1.5 1.5-1.5 1.5zM258.9 660.7l1.5-1.5 1.5 1.5-1.5 1.5zM259.2 661.2l1.5-1.5 1.5 1.5-1.5 1.5zM259.6 661.3l1.5-1.5 1.5 1.5-1.5 1.5zM259.9 660.7l1.5-1.5 1.5 1.5-1.5 1.5zM260.2 660.9l1.5-1.5 1.5 1.5-1.5 1.5zM260.5 661.1l1.5-1.5 1.5 1.5-1.5 1.5zM260.8 661.2l1.5-1.5 1.5 1.5-1.5 1.5zM261.2 660.8l1.5-1.5 1.5 1.5-1.5 1.5zM261.5 660.8l1.5-1.5 1.5 1.5-1.5 1.5zM261.8 660.8l1.5-1.5 1.5 1.5-1.5 1.5zM262.1 661.1l1.5-1.5 1.5 1.5-1.5 1.5zM262.4 661.2l1.5-1.5 1.5 1.5-1.5 1.5zM262.7 660.9l1.5-1.5 1.5 1.5-1.5 1.5zM262.9 660.9l1.5-1.5 1.5 1.5-1.5 1.5zM263.2 660.9l1.5-1.5 1.5 1.5-1.5 1.5zM263.5 660.9l1.5-1.5 1.5 1.5-1.5 1.5zM263.8 661.0l1.5-1.5 1.5 1.5-1.5 1.5zM264.1 660.7l1.5-1.5 1.5 1.5-1.5 1.5zM264.3 661.0l1.5-1.5 1.5 1.5-1.5 1.5zM264.6 661.3l1.5-1.5 1.5 1.5-1.5 1.5zM264.9 660.9l1.5-1.5 1.5 1.5-1.5 1.5zM265.1 661.2l1.5-1.5 1.5 1.5-1.5 1.5zM265.4 660.8l1.5-1.5 1.5 1.5-1.5 1.5zM265.6 661.1l1.5-1.5 1.5 1.5-1.5 1.5zM265.9 661.2l1.5-1.5 1.5 1.5-1.5 1.5zM266.1 661.1l1.5-1.5 1.5 1.5-1.5 1.5zM266.4 661.0l1.5-1.5 1.5 1.5-1.5 1.5zM266.6 661.0l1.5-1.5 1.5 1.5-1.5 1.5zM266.9 661.1l1.5-1.5 1.5 1.5-1.5 1.5zM267.1 661.3l1.5-1.5 1.5 1.5-1.5 1.5zM267.3 660.8l1.5-1.5 1.5 1.5-1.5 1.5zM267.6 660.7l1.5-1.5 1.5 1.5-1.5 1.5zM267.8 661.2l1.5-1.5 1.5 1.5-1.5 1.5zM268.0 661.3l1.5-1.5 1.5 1.5-1.5 1.5zM268.3 661.0l1.5-1.5 1.5 1.5-1.5 1.5zM268.5 661.0l1.5-1.5 1.5 1.5-1.5 1.5zM268.7 661.2l1.5-1.5 1.5 1.5-1.5 1.5z" fill="#6a00ff"/>
<line x1="67.4" y1="666.3" x2="270.2" y2="665.6" stroke="#5500ff" stroke-width="0.9" stroke-opacity="0.4"/>
<path d="M65.9 666.3l1.5-1.5 1.5 1.5-1.5 1.5zM131.9 666.1l1.5-1.5 1.5 1.5-1.5 1.5zM167.3 666.0l1.5-1.5 1.5 1.5-1.5 1.5zM182.6 665.9l1.5-1.5 1.5 1.5-1.5 1.5zM191.5 665.9l1.5-1.5 1.5 1.5-1.5 1.5zM197.8 665.8l1.5-1.5 1.5 1.5-1.5 1.5zM202.7 665.8l1.5-1.5 1.5 1.5-1.5 1.5zM206.8 665.8l1.5-1.5 1.5 1.5-1.5 1.5zM210.1 665.8l1.5-1.5 1.5 1.5-1.5 1.5zM213.1 665.8l1.5-1.5 1.5 1.5-1.5 1.5zM215.7 665.8l1.5-1.5 1.5 1.5-1.5 1.5zM218.0 665.8l1.5-1.5 1.5 1.5-1.5 1.5zM220.1 665.5l1.5-1.5 1.5 1.5-1.5 1.5zM222.0 665.6l1.5-1.5 1.5 1.5-1.5 1.5zM223.8 665.5l1.5-1.5 1.5 1.5-1.5 1.5zM225.4 665.8l1.5-1.5 1.5 1.5-1.5 1.5zM226.9 665.6l1.5-1.5 1.5 1.5-1.5 1.5zM228.3 665.6l1.5-1.5 1.5 1.5-1.5 1.5zM229.7 665.9l1.5-1.5 1.5 1.5-1.5 1.5zM230.9 666.0l1.5-1.5 1.5 1.5-1.5 1.5zM232.1 665.6l1.5-1.5 1.5 1.5-1.5 1.5zM233.3 665.9l1.5-1.5 1.5 1.5-1.5 1.5zM234.3 665.7l1.5-1.5 1.5 1.5-1.5 1.5zM235.4 666.0l1.5-1.5 1.5 1.5-1.5 1.5zM236.3 665.8l1.5-1.5 1.5 1.5-1.5 1.5zM237.3 665.5l1.5-1.5 1.5 1.5-1.5 1.5zM238.2 665.5l1.5-1.5 1.5 1.5-1.5 1.5zM239.0 665.4l1.5-1.5 1.5 1.5-1.5 1.5zM239.9 665.7l1.5-1.5 1.5 1.5-1.5 1.5zM240.7 665.6l1.5-1.5 1.5 1.5-1.5 1.5zM241.4 665.5l1.5-1.5 1.5 1.5-1.5 1.5zM242.2 665.6l1.5-1.5 1.5 1.5-1.5 1.5zM242.9 665.6l1.5-1.5 1.5 1.5-1.5 1.5zM243.6 665.9l1.5-1.5 1.5 1.5-1.5 1.5zM244.3 665.4l1.5-1.5 1.5 1.5-1.5 1.5zM244.9 666.0l1.5-1.5 1.5 1.5-1.5 1.5zM245.6 665.7l1.5-1.5 1.5 1.5-1.5 1.5zM246.2 665.7l1.5-1.5 1.5 1.5-1.5 1.5zM246.8 665.7l1.5-1.5 1.5 1.5-1.5 1.5zM247.4 665.9l1.5-1.5 1.5 1.5-1.5 1.5zM248.0 665.9l1.5-1.5 1.5 1.5-1.5 1.5zM248.5 665.7l1.5-1.5 1.5 1.5-1.5 1.5zM249.1 665.7l1.5-1.5 1.5 1.5-1.5 1.5zM249.6 665.8l1.5-1.5 1.5 1.5-1.5 1.5zM250.1 665.9l1.5-1.5 1.5 1.5-1.5 1.5zM250.6 665.6l1.5-1.5 1.5 1.5-1.5 1.5zM251.1 665.8l1.5-1.5 1.5 1.5-1.5 1.5zM251.6 666.0l1.5-1.5 1.5 1.5-1.5 1.5zM252.1 665.6l1.5-1.5 1.5 1.5-1.5 1.5zM252.5 665.5l1.5-1.5 1.5 1.5-1.5 1.5zM253.0 665.5l1.5-1.5 1.5 1.5-1.5 1.5zM253.4 665.8l1.5-1.5 1.5 1.5-1.5 1.5zM253.9 665.8l1.5-1.5 1.5 1.5-1.5 1.5zM254.3 666.0l1.5-1.5 1.5 1.5-1.5 1.5zM254.7 665.9l1.5-1.5 1.5 1.5-1.5 1.5zM255.1 665.5l1.5-1.5 1.5 1.5-1.5 1.5zM255.5 665.4l1.5-1.5 1.5 1.5-1.5 1.5zM255.9 665.5l1.5-1.5 1.5 1.5-1.5 1.5zM256.3 665.4l1.5-1.5 1.5 1.5-1.5 1.5zM256.7 665.8l1.5-1.5 1.5 1.5-1.5 1.5zM257.1 665.9l1.5-1.5 1.5 1.5-1.5 1.5zM257.5 665.9l1.5-1.5 1.5 1.5-1.5 1.5zM257.8 665.5l1.5-1.5 1.5 1.5-1.5 1.5zM258.2 665.9l1.5-1.5 1.5 1.5-1.5 1.5zM258.5 665.5l1.5-1.5 1.5 1.5-1.5 1.5zM258.9 665.6l1.5-1.5 1.5 1.5-1.5 1.5zM259.2 665.8l1.5-1.5 1.5 1.5-1.5 1.5zM259.6 665.3l1.5-1.5 1.5 1.5-1.5 1.5zM259.9 665.3l1.5-1.5 1.5 1.5-1.5 1.5zM260.2 665.9l1.5-1.5 1.5 1.5-1.5 1.5zM260.5 665.5l1.5-1.5 1.5 1.5-1.5 1.5zM260.8 665.5l1.5-1.5 1.5 1.5-1.5 1.5zM261.2 665.7l1.5-1.5 1.5 1.5-1.5 1.5zM261.5 665.7l1.5-1.5 1.5 1.5-1.5 1.5zM261.8 665.3l1.5-1.5 1.5 1.5-1.5 1.5zM262.1 665.5l1.5-1.5 1.5 1.5-1.5 1.5zM262.4 665.6l1.5-1.5 1.5 1.5-1.5 1.5zM262.7 665.6l1.5-1.5 1.5 1.5-1.5 1.5zM262.9 665.4l1.5-1.5 1.5 1.5-1.5 1.5zM263.2 665.7l1.5-1.5 1.5 1.5-1.5 1.5zM263.5 665.9l1.5-1.5 1.5 1.5-1.5 1.5zM263.8 665.5l1.5-1.5 1.5 1.5-1.5 1.5zM264.1 665.6l1.5-1.5 1.5 1.5-1.5 1.5zM264.3 665.3l1.5-1.5 1.5 1.5-1.5 1.5zM264.6 665.5l1.5-1.5 1.5 1.5-1.5 1.5zM264.9 665.7l1.5-1.5 1.5 1.5-1.5 1.5zM265.1 665.3l1.5-1.5 1.5 1.5-1.5 1.5zM265.4 665.9l1.5-1.5 1.5 1.5-1.5 1.5zM265.6 665.9l1.5-1.5 1.5 1.5-1.5 1.5zM265.9 665.3l1.5-1.5 1.5 1.5-1.5 1.5zM266.1 665.9l1.5-1.5 1.5 1.5-1.5 1.5zM266.4 665.5l1.5-1.5 1.5 1.5-1.5 1.5zM266.6 665.8l1.5-1.5 1.5 1.5-1.5 1.5zM266.9 665.8l1.5-1.5 1.5 1.5-1.5 1.5zM267.1 665.5l1.5-1.5 1.5 1.5-1.5 1.5zM267.3 665.7l1.5-1.5 1.5 1.5-1.5 1.5zM267.6 665.7l1.5-1.5 1.5 1.5-1.5 1.5zM267.8 665.8l1.5-1.5 1.5 1.5-1.5 1.5zM268.0 665.4l1.5-1.5 1.5 1.5-1.5 1.5zM268.3 665.8l1.5-1.5 1.5 1.5-1.5 1.5zM268.5 665.9l1.5-1.5 1.5 1.5-1.5 1.5zM268.7 665.7l1.5-1.5 1.5 1.5-1.5 1.5z" fill="#5500ff"/>
<line x1="67.4" y1="672.4" x2="270.2" y2="671.3" stroke="#4000ff" stroke-width="0.9" stroke-opacity="0.4"/>
<path d="M65.9 672.4l1.5-1.5 1.5 1.5-1.5 1.5zM131.9 672.0l1.5-1.5 1.5 1.5-1.5 1.5zM167.3 671.8l1.5-1.5 1.5 1.5-1.5 1.5zM182.6 671.8l1.5-1.5 1.5 1.5-1.5 1.5zM191.5 671.7l1.5-1.5 1.5 1.5-1.5 1.5zM197.8 671.7l1.5-1.5 1.5 1.5-1.5 1.5zM202.7 671.7l1.5-1.5 1.5 1.5-1.5 1.5zM206.8 671.6l1.5-1.5 1.5 1.5-1.5 1.5zM210.1 671.6l1.5-1.5 1.5 1.5-1.5 1.5zM213.1 671.6l1.5-1.5 1.5 1.5-1.5 1.5zM215.7 671.6l1.5-1.5 1.5 1.5-1.5 1.5zM218.0 671.6l1.5-1.5 1.5 1.5-1.5 1.5zM220.1 671.6l1.5-1.5 1.5 1.5-1.5 1.5zM222.0 671.3l1.5-1.5 1.5 1.5-1.5 1.5zM223.8 671.5l1.5-1.5 1.5 1.5-1.5 1.5zM225.4 671.4l1.5-1.5 1.5 1.5-1.5 1.5zM226.9 671.7l1.5-1.5 1.5 1.5-1.5 1.5zM228.3 671.6l1.5-1.5 1.5 1.5-1.5 1.5zM229.7 671.6l1.5-1.5 1.5 1.5-1.5 1.5zM230.9 671.3l1.5-1.5 1.5 1.5-1.5 1.5zM232.1 671.6l1.5-1.5 1.5 1.5-1.5 1.5zM233.3 671.6l1.5-1.5 1.5 1.5-1.5 1.5zM234.3 671.3l1.5-1.5 1.5 1.5-1.5 1.5zM235.4 671.8l1.5-1.5 1.5 1.5-1.5 1.5zM236.3 671.6l1.5-1.5 1.5 1.5-1.5 1.5zM237.3 671.2l1.5-1.5 1.5 1.5-1.5 1.5zM238.2 671.8l1.5-1.5 1.5 1.5-1.5 1.5zM239.0 671.2l1.5-1.5 1.5 1.5-1.5 1.5zM239.9 671.3l1.5-1.5 1.5 1.5-1.5 1.5zM240.7 671.6l1.5-1.5 1.5 1.5-1.5 1.5zM241.4 671.5l1.5-1.5 1.5 1.5-1.5 1.5zM242.2 671.5l1.5-1.5 1.5 1.5-1.5 1.5zM242.9 671.5l1.5-1.5 1.5 1.5-1.5 1.5zM243.6 671.4l1.5-1.5 1.5 1.5-1.5 1.5zM244.3 671.3l1.5-1.5 1.5 1.5-1.5 1.5zM244.9 671.2l1.5-1.5 1.5 1.5-1.5 1.5zM245.6 671.1l1.5-1.5 1.5 1.5-1.5 1.5zM246.2 671.6l1.5-1.5 1.5 1.5-1.5 1.5zM246.8 671.6l1.5-1.5 1.5 1.5-1.5 1.5zM247.4 671.4l1.5-1.5 1.5 1.5-1.5 1.5zM248.0 671.6l1.5-1.5 1.5 1.5-1.5 1.5zM248.5 671.3l1.5-1.5 1.5 1.5-1.5 1.5zM249.1 671.2l1.5-1.5 1.5 1.5-1.5 1.5zM249.6 671.3l1.5-1.5 1.5 1.5-1.5 1.5zM250.1 671.7l1.5-1.5 1.5 1.5-1.5 1.5zM250.6 671.1l1.5-1.5 1.5 1.5-1.5 1.5zM251.1 671.4l1.5-1.5 1.5 1.5-1.5 1.5zM251.6 671.2l1.5-1.5 1.5 1.5-1.5 1.5zM252.1 671.6l1.5-1.5 1.5 1.5-1.5 1.5zM252.5 671.3l1.5-1.5 1.5 1.5-1.5 1.5zM253.0 671.3l1.5-1.5 1.5 1.5-1.5 1.5zM253.4 671.3l1.5-1.5 1.5 1.5-1.5 1.5zM253.9 671.4l1.5-1.5 1.5 1.5-1.5 1.5zM254.3 671.6l1.5-1.5 1.5 1.5-1.5 1.5zM254.7 671.3l1.5-1.5 1.5 1.5-1.5 1.5zM255.1 671.6l1.5-1.5 1.5 1.5-1.5 1.5zM255.5 671.1l1.5-1.5 1.5 1.5-1.5 1.5zM255.9 671.2l1.5-1.5 1.5 1.5-1.5 1.5zM256.3 671.1l1.5-1.5 1.5 1.5-1.5 1.5zM256.7 671.1l1.5-1.5 1.5 1.5-1.5 1.5zM257.1 671.6l1.5-1.5 1.5 1.5-1.5 1.5zM257.5 671.5l1.5-1.5 1.5 1.5-1.5 1.5zM257.8 671.1l1.5-1.5 1.5 1.5-1.5 1.5zM258.2 671.1l1.5-1.5 1.5 1.5-1.5 1.5zM258.5 671.3l1.5-1.5 1.5 1.5-1.5 1.5zM258.9 671.5l1.5-1.5 1.5 1.5-1.5 1.5zM259.2 671.6l1.5-1.5 1.5 1.5-1.5 1.5zM259.6 671.5l1.5-1.5 1.5 1.5-1.5 1.5zM259.9 671.4l1.5-1.5 1.5 1.5-1.5 1.5zM260.2 671.1l1.5-1.5 1.5 1.5-1.5 1.5zM260.5 671.3l1.5-1.5 1.5 1.5-1.5 1.5zM260.8 671.1l1.5-1.5 1.5 1.5-1.5 1.5zM261.2 671.4l1.5-1.5 1.5 1.5-1.5 1.5zM261.5 671.4l1.5-1.5 1.5 1.5-1.5 1.5zM261.8 671.1l1.5-1.5 1.5 1.5-1.5 1.5zM262.1 671.2l1.5-1.5 1.5 1.5-1.5 1.5zM262.4 671.5l1.5-1.5 1.5 1.5-1.5 1.5zM262.7 671.0l1.5-1.5 1.5 1.5-1.5 1.5zM262.9 671.5l1.5-1.5 1.5 1.5-1.5 1.5zM263.2 671.6l1.5-1.5 1.5 1.5-1.5 1.5zM263.5 671.6l1.5-1.5 1.5 1.5-1.5 1.5zM263.8 671.2l1.5-1.5 1.5 1.5-1.5 1.5zM264.1 671.4l1.5-1.5 1.5 1.5-1.5 1.5zM264.3 671.4l1.5-1.5 1.5 1.5-1.5 1.5zM264.6 671.4l1.5-1.5 1.5 1.5-1.5 1.5zM264.9 671.7l1.5-1.5 1.5 1.5-1.5 1.5zM265.1 671.5l1.5-1.5 1.5 1.5-1.5 1.5zM265.4 671.2l1.5-1.5 1.5 1.5-1.5 1.5zM265.6 671.6l1.5-1.5 1.5 1.5-1.5 1.5zM265.9 671.3l1.5-1.5 1.5 1.5-1.5 1.5zM266.1 671.4l1.5-1.5 1.5 1.5-1.5 1.5zM266.4 671.5l1.5-1.5 1.5 1.5-1.5 1.5zM266.6 671.0l1.5-1.5 1.5 1.5-1.5 1.5zM266.9 671.5l1.5-1.5 1.5 1.5-1.5 1.5zM267.1 671.4l1.5-1.5 1.5 1.5-1.5 1.5zM267.3 671.3l1.5-1.5 1.5 1.5-1.5 1.5zM267.6 671.3l1.5-1.5 1.5 1.5-1.5 1.5zM267.8 671.3l1.5-1.5 1.5 1.5-1.5 1.5zM268.0 671.1l1.5-1.5 1.5 1.5-1.5 1.5zM268.3 671.3l1.5-1.5 1.5 1.5-1.5 1.5zM268.5 671.0l1.5-1.5 1.5 1.5-1.5 1.5zM268.7 671.3l1.5-1.5 1.5 1.5-1.5 1.5z" fill="#4000ff"/>
<line x1="67.4" y1="680.0" x2="270.2" y2="679.1" stroke="#0015ff" stroke-width="0.9" stroke-opacity="0.4"/>
<path d="M65.9 680.0l1.5-1.5 1.5 1.5-1.5 1.5zM131.9 679.7l1.5-1.5 1.5 1.5-1.5 1.5zM167.3 679.5l1.5-1.5 1.5 1.5-1.5 1.5zM182.6 679.5l1.5-1.5 1.5 1.5-1.5 1.5zM191.5 679.4l1.5-1.5 1.5 1.5-1.5 1.5zM197.8 679.4l1.5-1.5 1.5 1.5-1.5 1.5zM202.7 679.4l1.5-1.5 1.5 1.5-1.5 1.5zM206.8 679.4l1.5-1.5 1.5 1.5-1.5 1.5zM210.1 679.4l1.5-1.5 1.5 1.5-1.5 1.5zM213.1 679.3l1.5-1.5 1.5 1.5-1.5 1.5zM215.7 679.3l1.5-1.5 1.5 1.5-1.5 1.5zM218.0 679.3l1.5-1.5 1.5 1.5-1.5 1.5zM220.1 679.4l1.5-1.5 1.5 1.5-1.5 1.5zM222.0 679.3l1.5-1.5 1.5 1.5-1.5 1.5zM223.8 679.3l1.5-1.5 1.5 1.5-1.5 1.5zM225.4 679.6l1.5-1.5 1.5 1.5-1.5 1.5zM226.9 679.6l1.5-1.5 1.5 1.5-1.5 1.5zM228.3 679.0l1.5-1.5 1.5 1.5-1.5 1.5zM229.7 679.5l1.5-1.5 1.5 1.5-1.5 1.5zM230.9 679.4l1.5-1.5 1.5 1.5-1.5 1.5zM232.1 678.9l1.5-1.5 1.5 1.5-1.5 1.5zM233.3 679.2l1.5-1.5 1.5 1.5-1.5 1.5zM234.3 679.1l1.5-1.5 1.5 1.5-1.5 1.5zM235.4 679.0l1.5-1.5 1.5 1.5-1.5 1.5zM236.3 679.3l1.5-1.5 1.5 1.5-1.5 1.5zM237.3 679.5l1.5-1.5 1.5 1.5-1.5 1.5zM238.2 679.1l1.5-1.5 1.5 1.5-1.5 1.5zM239.0 679.5l1.5-1.5 1.5 1.5-1.5 1.5zM239.9 679.4l1.5-1.5 1.5 1.5-1.5 1.5zM240.7 679.0l1.5-1.5 1.5 1.5-1.5 1.5zM241.4 679.5l1.5-1.5 1.5 1.5-1.5 1.5zM242.2 679.3l1.5-1.5 1.5 1.5-1.5 1.5zM242.9 679.5l1.5-1.5 1.5 1.5-1.5 1.5zM243.6 679.4l1.5-1.5 1.5 1.5-1.5 1.5zM244.3 679.4l1.5-1.5 1.5 1.5-1.5 1.5zM244.9 679.1l1.5-1.5 1.5 1.5-1.5 1.5zM245.6 679.4l1.5-1.5 1.5 1.5-1.5 1.5zM246.2 679.5l1.5-1.5 1.5 1.5-1.5 1.5zM246.8 679.5l1.5-1.5 1.5 1.5-1.5 1.5zM247.4 679.2l1.5-1.5 1.5 1.5-1.5 1.5zM248.0 679.4l1.5-1.5 1.5 1.5-1.5 1.5zM248.5 679.2l1.5-1.5 1.5 1.5-1.5 1.5zM249.1 678.9l1.5-1.5 1.5 1.5-1.5 1.5zM249.6 678.9l1.5-1.5 1.5 1.5-1.5 1.5zM250.1 678.9l1.5-1.5 1.5 1.5-1.5 1.5zM250.6 679.0l1.5-1.5 1.5 1.5-1.5 1.5zM251.1 678.9l1.5-1.5 1.5 1.5-1.5 1.5zM251.6 679.2l1.5-1.5 1.5 1.5-1.5 1.5zM252.1 679.3l1.5-1.5 1.5 1.5-1.5 1.5zM252.5 679.2l1.5-1.5 1.5 1.5-1.5 1.5zM253.0 679.1l1.5-1.5 1.5 1.5-1.5 1.5zM253.4 679.3l1.5-1.5 1.5 1.5-1.5 1.5zM253.9 679.0l1.5-1.5 1.5 1.5-1.5 1.5zM254.3 679.1l1.5-1.5 1.5 1.5-1.5 1.5zM254.7 679.3l1.5-1.5 1.5 1.5-1.5 1.5zM255.1 679.1l1.5-1.5 1.5 1.5-1.5 1.5zM255.5 678.9l1.5-1.5 1.5 1.5-1.5 1.5zM255.9 679.4l1.5-1.5 1.5 1.5-1.5 1.5zM256.3 679.3l1.5-1.5 1.5 1.5-1.5 1.5zM256.7 679.1l1.5-1.5 1.5 1.5-1.5 1.5zM257.1 679.1l1.5-1.5 1.5 1.5-1.5 1.5zM257.5 679.2l1.5-1.5 1.5 1.5-1.5 1.5zM257.8 679.2l1.5-1.5 1.5 1.5-1.5 1.5zM258.2 679.0l1.5-1.5 1.5 1.5-1.5 1.5zM258.5 678.8l1.5-1.5 1.5 1.5-1.5 1.5zM258.9 678.9l1.5-1.5 1.5 1.5-1.5 1.5zM259.2 679.3l1.5-1.5 1.5 1.5-1.5 1.5zM259.6 678.9l1.5-1.5 1.5 1.5-1.5 1.5zM259.9 679.1l1.5-1.5 1.5 1.5-1.5 1.5zM260.2 678.9l1.5-1.5 1.5 1.5-1.5 1.5zM260.5 678.9l1.5-1.5 1.5 1.5-1.5 1.5zM260.8 678.9l1.5-1.5 1.5 1.5-1.5 1.5zM261.2 679.1l1.5-1.5 1.5 1.5-1.5 1.5zM261.5 678.9l1.5-1.5 1.5 1.5-1.5 1.5zM261.8 678.8l1.5-1.5 1.5 1.5-1.5 1.5zM262.1 678.9l1.5-1.5 1.5 1.5-1.5 1.5zM262.4 678.9l1.5-1.5 1.5 1.5-1.5 1.5zM262.7 679.1l1.5-1.5 1.5 1.5-1.5 1.5zM262.9 678.8l1.5-1.5 1.5 1.5-1.5 1.5zM263.2 678.8l1.5-1.5 1.5 1.5-1.5 1.5zM263.5 679.1l1.5-1.5 1.5 1.5-1.5 1.5zM263.8 679.1l1.5-1.5 1.5 1.5-1.5 1.5zM264.1 679.3l1.5-1.5 1.5 1.5-1.5 1.5zM264.3 678.8l1.5-1.5 1.5 1.5-1.5 1.5zM264.6 679.1l1.5-1.5 1.5 1.5-1.5 1.5zM264.9 679.0l1.5-1.5 1.5 1.5-1.5 1.5zM265.1 678.8l1.5-1.5 1.5 1.5-1.5 1.5zM265.4 679.4l1.5-1.5 1.5 1.5-1.5 1.5zM265.6 678.9l1.5-1.5 1.5 1.5-1.5 1.5zM265.9 678.8l1.5-1.5 1.5 1.5-1.5 1.5zM266.1 679.1l1.5-1.5 1.5 1.5-1.5 1.5zM266.4 678.9l1.5-1.5 1.5 1.5-1.5 1.5zM266.6 679.2l1.5-1.5 1.5 1.5-1.5 1.5zM266.9 679.0l1.5-1.5 1.5 1.5-1.5 1.5zM267.1 678.8l1.5-1.5 1.5 1.5-1.5 1.5zM267.3 678.8l1.5-1.5 1.5 1.5-1.5 1.5zM267.6 679.3l1.5-1.5 1.5 1.5-1.5 1.5zM267.8 678.9l1.5-1.5 1.5 1.5-1.5 1.5zM268.0 679.3l1.5-1.5 1.5 1.5-1.5 1.5zM268.3 679.1l1.5-1.5 1.5 1.5-1.5 1.5zM268.5 679.4l1.5-1.5 1.5 1.5-1.5 1.5zM268.7 679.0l1.5-1.5 1.5 1.5-1.5 1.5z" fill="#0015ff"/>
<line x1="67.4" y1="687.7" x2="270.2" y2="686.7" stroke="#0040ff" stroke-width="0.9" stroke-opacity="0.4"/>
<path d="M65.9 687.7l1.5-1.5 1.5 1.5-1.5 1.5zM131.9 687.4l1.5-1.5 1.5 1.5-1.5 1.5zM167.3 687.2l1.5-1.5 1.5 1.5-1.5 1.5zM182.6 687.1l1.5-1.5 1.5 1.5-1.5 1.5zM191.5 687.1l1.5-1.5 1.5 1.5-1.5 1.5zM197.8 687.0l1.5-1.5 1.5 1.5-1.5 1.5zM202.7 687.0l1.5-1.5 1.5 1.5-1.5 1.5zM206.8 687.0l1.5-1.5 1.5 1.5-1.5 1.5zM210.1 687.0l1.5-1.5 1.5 1.5-1.5 1.5zM213.1 687.0l1.5-1.5 1.5 1.5-1.5 1.5zM215.7 687.0l1.5-1.5 1.5 1.5-1.5 1.5zM218.0 687.0l1.5-1.5 1.5 1.5-1.5 1.5zM220.1 686.8l1.5-1.5 1.5 1.5-1.5 1.5zM222.0 686.8l1.5-1.5 1.5 1.5-1.5 1.5zM223.8 687.1l1.5-1.5 1.5 1.5-1.5 1.5zM225.4 687.0l1.5-1.5 1.5 1.5-1.5 1.5zM226.9 686.8l1.5-1.5 1.5 1.5-1.5 1.5zM228.3 686.6l1.5-1.5 1.5 1.5-1.5 1.5zM229.7 687.0l1.5-1.5 1.5 1.5-1.5 1.5zM230.9 687.2l1.5-1.5 1.5 1.5-1.5 1.5zM232.1 686.9l1.5-1.5 1.5 1.5-1.5 1.5zM233.3 686.5l1.5-1.5 1.5 1.5-1.5 1.5zM234.3 686.5l1.5-1.5 1.5 1.5-1.5 1.5zM235.4 686.6l1.5-1.5 1.5 1.5-1.5 1.5zM236.3 686.6l1.5-1.5 1.5 1.5-1.5 1.5zM237.3 686.5l1.5-1.5 1.5 1.5-1.5 1.5zM238.2 686.5l1.5-1.5 1.5 1.5-1.5 1.5zM239.0 687.0l1.5-1.5 1.5 1.5-1.5 1.5zM239.9 687.1l1.5-1.5 1.5 1.5-1.5 1.5zM240.7 686.6l1.5-1.5 1.5 1.5-1.5 1.5zM241.4 687.2l1.5-1.5 1.5 1.5-1.5 1.5zM242.2 686.8l1.5-1.5 1.5 1.5-1.5 1.5zM242.9 687.0l1.5-1.5 1.5 1.5-1.5 1.5zM243.6 687.1l1.5-1.5 1.5 1.5-1.5 1.5zM244.3 687.1l1.5-1.5 1.5 1.5-1.5 1.5zM244.9 686.5l1.5-1.5 1.5 1.5-1.5 1.5zM245.6 686.7l1.5-1.5 1.5 1.5-1.5 1.5zM246.2 686.9l1.5-1.5 1.5 1.5-1.5 1.5zM246.8 687.1l1.5-1.5 1.5 1.5-1.5 1.5zM247.4 686.5l1.5-1.5 1.5 1.5-1.5 1.5zM248.0 686.7l1.5-1.5 1.5 1.5-1.5 1.5zM248.5 687.0l1.5-1.5 1.5 1.5-1.5 1.5zM249.1 686.5l1.5-1.5 1.5 1.5-1.5 1.5zM249.6 686.7l1.5-1.5 1.5 1.5-1.5 1.5zM250.1 686.7l1.5-1.5 1.5 1.5-1.5 1.5zM250.6 686.9l1.5-1.5 1.5 1.5-1.5 1.5zM251.1 687.1l1.5-1.5 1.5 1.5-1.5 1.5zM251.6 686.6l1.5-1.5 1.5 1.5-1.5 1.5zM252.1 686.9l1.5-1.5 1.5 1.5-1.5 1.5zM252.5 686.9l1.5-1.5 1.5 1.5-1.5 1.5zM253.0 687.0l1.5-1.5 1.5 1.5-1.5 1.5zM253.4 686.8l1.5-1.5 1.5 1.5-1.5 1.5zM253.9 687.1l1.5-1.5 1.5 1.5-1.5 1.5zM254.3 686.7l1.5-1.5 1.5 1.5-1.5 1.5zM254.7 686.7l1.5-1.5 1.5 1.5-1.5 1.5zM255.1 686.6l1.5-1.5 1.5 1.5-1.5 1.5zM255.5 687.0l1.5-1.5 1.5 1.5-1.5 1.5zM255.9 686.7l1.5-1.5 1.5 1.5-1.5 1.5zM256.3 686.6l1.5-1.5 1.5 1.5-1.5 1.5zM256.7 686.5l1.5-1.5 1.5 1.5-1.5 1.5zM257.1 686.9l1.5-1.5 1.5 1.5-1.5 1.5zM257.5 686.8l1.5-1.5 1.5 1.5-1.5 1.5zM257.8 686.9l1.5-1.5 1.5 1.5-1.5 1.5zM258.2 686.7l1.5-1.5 1.5 1.5-1.5 1.5zM258.5 686.7l1.5-1.5 1.5 1.5-1.5 1.5zM258.9 686.5l1.5-1.5 1.5 1.5-1.5 1.5zM259.2 686.9l1.5-1.5 1.5 1.5-1.5 1.5zM259.6 686.4l1.5-1.5 1.5 1.5-1.5 1.5zM259.9 686.7l1.5-1.5 1.5 1.5-1.5 1.5zM260.2 686.9l1.5-1.5 1.5 1.5-1.5 1.5zM260.5 686.9l1.5-1.5 1.5 1.5-1.5 1.5zM260.8 686.5l1.5-1.5 1.5 1.5-1.5 1.5zM261.2 686.6l1.5-1.5 1.5 1.5-1.5 1.5zM261.5 687.0l1.5-1.5 1.5 1.5-1.5 1.5zM261.8 686.8l1.5-1.5 1.5 1.5-1.5 1.5zM262.1 687.0l1.5-1.5 1.5 1.5-1.5 1.5zM262.4 687.0l1.5-1.5 1.5 1.5-1.5 1.5zM262.7 686.7l1.5-1.5 1.5 1.5-1.5 1.5zM262.9 687.0l1.5-1.5 1.5 1.5-1.5 1.5zM263.2 686.9l1.5-1.5 1.5 1.5-1.5 1.5zM263.5 686.6l1.5-1.5 1.5 1.5-1.5 1.5zM263.8 686.6l1.5-1.5 1.5 1.5-1.5 1.5zM264.1 686.4l1.5-1.5 1.5 1.5-1.5 1.5zM264.3 686.7l1.5-1.5 1.5 1.5-1.5 1.5zM264.6 687.0l1.5-1.5 1.5 1.5-1.5 1.5zM264.9 686.4l1.5-1.5 1.5 1.5-1.5 1.5zM265.1 686.8l1.5-1.5 1.5 1.5-1.5 1.5zM265.4 686.4l1.5-1.5 1.5 1.5-1.5 1.5zM265.6 686.4l1.5-1.5 1.5 1.5-1.5 1.5zM265.9 686.8l1.5-1.5 1.5 1.5-1.5 1.5zM266.1 686.5l1.5-1.5 1.5 1.5-1.5 1.5zM266.4 686.4l1.5-1.5 1.5 1.5-1.5 1.5zM266.6 686.5l1.5-1.5 1.5 1.5-1.5 1.5zM266.9 686.8l1.5-1.5 1.5 1.5-1.5 1.5zM267.1 686.8l1.5-1.5 1.5 1.5-1.5 1.5zM267.3 686.4l1.5-1.5 1.5 1.5-1.5 1.5zM267.6 686.5l1.5-1.5 1.5 1.5-1.5 1.5zM267.8 687.0l1.5-1.5 1.5 1.5-1.5 1.5zM268.0 686.5l1.5-1.5 1.5 1.5-1.5 1.5zM268.3 686.7l1.5-1.5 1.5 1.5-1.5 1.5zM268.5 686.6l1.5-1.5 1.5 1.5-1.5 1.5zM268.7 686.9l1.5-1.5 1.5 1.5-1.5 1.5z" fill="#0040ff"/>
<line x1="67.4" y1="697.5" x2="270.2" y2="696.5" stroke="#0055ff" stroke-width="0.9" stroke-opacity="0.4"/>
<path d="M65.9 697.5l1.5-1.5 1.5 1.5-1.5 1.5zM131.9 697.2l1.5-1.5 1.5 1.5-1.5 1.5zM167.3 697.0l1.5-1.5 1.5 1.5-1.5 1.5zM182.6 696.9l1.5-1.5 1.5 1.5-1.5 1.5zM191.5 696.9l1.5-1.5 1.5 1.5-1.5 1.5zM197.8 696.8l1.5-1.5 1.5 1.5-1.5 1.5zM202.7 696.8l1.5-1.5 1.5 1.5-1.5 1.5zM206.8 696.8l1.5-1.5 1.5 1.5-1.5 1.5zM210.1 696.8l1.5-1.5 1.5 1.5-1.5 1.5zM213.1 696.8l1.5-1.5 1.5 1.5-1.5 1.5zM215.7 696.8l1.5-1.5 1.5 1.5-1.5 1.5zM218.0 696.8l1.5-1.5 1.5 1.5-1.5 1.5zM220.1 696.8l1.5-1.5 1.5 1.5-1.5 1.5zM222.0 696.9l1.5-1.5 1.5 1.5-1.5 1.5zM223.8 696.7l1.5-1.5 1.5 1.5-1.5 1.5zM225.4 696.5l1.5-1.5 1.5 1.5-1.5 1.5zM226.9 696.5l1.5-1.5 1.5 1.5-1.5 1.5zM228.3 696.4l1.5-1.5 1.5 1.5-1.5 1.5zM229.7 696.9l1.5-1.5 1.5 1.5-1.5 1.5zM230.9 696.4l1.5-1.5 1.5 1.5-1.5 1.5zM232.1 696.3l1.5-1.5 1.5 1.5-1.5 1.5zM233.3 697.0l1.5-1.5 1.5 1.5-1.5 1.5zM234.3 696.5l1.5-1.5 1.5 1.5-1.5 1.5zM235.4 696.9l1.5-1.5 1.5 1.5-1.5 1.5zM236.3 696.4l1.5-1.5 1.5 1.5-1.5 1.5zM237.3 696.6l1.5-1.5 1.5 1.5-1.5 1.5zM238.2 696.5l1.5-1.5 1.5 1.5-1.5 1.5zM239.0 696.9l1.5-1.5 1.5 1.5-1.5 1.5zM239.9 696.7l1.5-1.5 1.5 1.5-1.5 1.5zM240.7 696.7l1.5-1.5 1.5 1.5-1.5 1.5zM241.4 696.8l1.5-1.5 1.5 1.5-1.5 1.5zM242.2 696.9l1.5-1.5 1.5 1.5-1.5 1.5zM242.9 696.5l1.5-1.5 1.5 1.5-1.5 1.5zM243.6 696.7l1.5-1.5 1.5 1.5-1.5 1.5zM244.3 696.6l1.5-1.5 1.5 1.5-1.5 1.5zM244.9 696.3l1.5-1.5 1.5 1.5-1.5 1.5zM245.6 696.8l1.5-1.5 1.5 1.5-1.5 1.5zM246.2 696.7l1.5-1.5 1.5 1.5-1.5 1.5zM246.8 696.8l1.5-1.5 1.5 1.5-1.5 1.5zM247.4 696.4l1.5-1.5 1.5 1.5-1.5 1.5zM248.0 696.6l1.5-1.5 1.5 1.5-1.5 1.5zM248.5 696.6l1.5-1.5 1.5 1.5-1.5 1.5zM249.1 696.8l1.5-1.5 1.5 1.5-1.5 1.5zM249.6 696.3l1.5-1.5 1.5 1.5-1.5 1.5zM250.1 696.5l1.5-1.5 1.5 1.5-1.5 1.5zM250.6 696.6l1.5-1.5 1.5 1.5-1.5 1.5zM251.1 696.3l1.5-1.5 1.5 1.5-1.5 1.5zM251.6 696.6l1.5-1.5 1.5 1.5-1.5 1.5zM252.1 696.7l1.5-1.5 1.5 1.5-1.5 1.5zM252.5 696.5l1.5-1.5 1.5 1.5-1.5 1.5zM253.0 696.7l1.5-1.5 1.5 1.5-1.5 1.5zM253.4 696.6l1.5-1.5 1.5 1.5-1.5 1.5zM253.9 696.4l1.5-1.5 1.5 1.5-1.5 1.5zM254.3 696.5l1.5-1.5 1.5 1.5-1.5 1.5zM254.7 696.9l1.5-1.5 1.5 1.5-1.5 1.5zM255.1 696.5l1.5-1.5 1.5 1.5-1.5 1.5zM255.5 696.5l1.5-1.5 1.5 1.5-1.5 1.5zM255.9 696.3l1.5-1.5 1.5 1.5-1.5 1.5zM256.3 696.4l1.5-1.5 1.5 1.5-1.5 1.5zM256.7 696.3l1.5-1.5 1.5 1.5-1.5 1.5zM257.1 696.9l1.5-1.5 1.5 1.5-1.5 1.5zM257.5 696.7l1.5-1.5 1.5 1.5-1.5 1.5zM257.8 696.8l1.5-1.5 1.5 1.5-1.5 1.5zM258.2 696.9l1.5-1.5 1.5 1.5-1.5 1.5zM258.5 696.6l1.5-1.5 1.5 1.5-1.5 1.5zM258.9 696.9l1.5-1.5 1.5 1.5-1.5 1.5zM259.2 696.6l1.5-1.5 1.5 1.5-1.5 1.5zM259.6 696.5l1.5-1.5 1.5 1.5-1.5 1.5zM259.9 696.9l1.5-1.5 1.5 1.5-1.5 1.5zM260.2 696.8l1.5-1.5 1.5 1.5-1.5 1.5zM260.5 696.9l1.5-1.5 1.5 1.5-1.5 1.5zM260.8 696.5l1.5-1.5 1.5 1.5-1.5 1.5zM261.2 696.7l1.5-1.5 1.5 1.5-1.5 1.5zM261.5 696.5l1.5-1.5 1.5 1.5-1.5 1.5zM261.8 696.9l1.5-1.5 1.5 1.5-1.5 1.5zM262.1 696.8l1.5-1.5 1.5 1.5-1.5 1.5zM262.4 696.4l1.5-1.5 1.5 1.5-1.5 1.5zM262.7 696.8l1.5-1.5 1.5 1.5-1.5 1.5zM262.9 696.3l1.5-1.5 1.5 1.5-1.5 1.5zM263.2 696.2l1.5-1.5 1.5 1.5-1.5 1.5zM263.5 696.7l1.5-1.5 1.5 1.5-1.5 1.5zM263.8 696.4l1.5-1.5 1.5 1.5-1.5 1.5zM264.1 696.5l1.5-1.5 1.5 1.5-1.5 1.5zM264.3 696.6l1.5-1.5 1.5 1.5-1.5 1.5zM264.6 696.2l1.5-1.5 1.5 1.5-1.5 1.5zM264.9 696.7l1.5-1.5 1.5 1.5-1.5 1.5zM265.1 696.4l1.5-1.5 1.5 1.5-1.5 1.5zM265.4 696.5l1.5-1.5 1.5 1.5-1.5 1.5zM265.6 696.4l1.5-1.5 1.5 1.5-1.5 1.5zM265.9 696.7l1.5-1.5 1.5 1.5-1.5 1.5zM266.1 696.7l1.5-1.5 1.5 1.5-1.5 1.5zM266.4 696.4l1.5-1.5 1.5 1.5-1.5 1.5zM266.6 696.2l1.5-1.5 1.5 1.5-1.5 1.5zM266.9 696.4l1.5-1.5 1.5 1.5-1.5 1.5zM267.1 696.4l1.5-1.5 1.5 1.5-1.5 1.5zM267.3 696.2l1.5-1.5 1.5 1.5-1.5 1.5zM267.6 696.3l1.5-1.5 1.5 1.5-1.5 1.5zM267.8 696.7l1.5-1.5 1.5 1.5-1.5 1.5zM268.0 696.6l1.5-1.5 1.5 1.5-1.5 1.5zM268.3 696.8l1.5-1.5 1.5 1.5-1.5 1.5zM268.5 696.8l1.5-1.5 1.5 1.5-1.5 1.5zM268.7 696.8l1.5-1.5 1.5 1.5-1.5 1.5z" fill="#0055ff"/>
<line x1="67.4" y1="704.0" x2="270.2" y2="703.2" stroke="#0080ff" stroke-width="0.9" stroke-opacity="0.4"/>
<path d="M65.9 704.0l1.5-1.5 1.5 1.5-1.5 1.5zM131.9 703.7l1.5-1.5 1.5 1.5-1.5 1.5zM167.3 703.6l1.5-1.5 1.5 1.5-1.5 1.5zM182.6 703.5l1.5-1.5 1.5 1.5-1.5 1.5zM191.5 703.5l1.5-1.5 1.5 1.5-1.5 1.5zM197.8 703.5l1.5-1.5 1.5 1.5-1.5 1.5zM202.7 703.5l1.5-1.5 1.5 1.5-1.5 1.5zM206.8 703.4l1.5-1.5 1.5 1.5-1.5 1.5zM210.1 703.4l1.5-1.5 1.5 1.5-1.5 1.5zM213.1 703.4l1.5-1.5 1.5 1.5-1.5 1.5zM215.7 703.4l1.5-1.5 1.5 1.5-1.5 1.5zM218.0 703.4l1.5-1.5 1.5 1.5-1.5 1.5zM220.1 703.3l1.5-1.5 1.5 1.5-1.5 1.5zM222.0 703.1l1.5-1.5 1.5 1.5-1.5 1.5zM223.8 703.2l1.5-1.5 1.5 1.5-1.5 1.5zM225.4 703.3l1.5-1.5 1.5 1.5-1.5 1.5zM226.9 703.4l1.5-1.5 1.5 1.5-1.5 1.5zM228.3 703.4l1.5-1.5 1.5 1.5-1.5 1.5zM229.7 703.3l1.5-1.5 1.5 1.5-1.5 1.5zM230.9 703.6l1.5-1.5 1.5 1.5-1.5 1.5zM232.1 703.2l1.5-1.5 1.5 1.5-1.5 1.5zM233.3 703.3l1.5-1.5 1.5 1.5-1.5 1.5zM234.3 703.6l1.5-1.5 1.5 1.5-1.5 1.5zM235.4 703.5l1.5-1.5 1.5 1.5-1.5 1.5zM236.3 703.2l1.5-1.5 1.5 1.5-1.5 1.5zM237.3 703.1l1.5-1.5 1.5 1.5-1.5 1.5zM238.2 703.5l1.5-1.5 1.5 1.5-1.5 1.5zM239.0 703.0l1.5-1.5 1.5 1.5-1.5 1.5zM239.9 703.1l1.5-1.5 1.5 1.5-1.5 1.5zM240.7 703.3l1.5-1.5 1.5 1.5-1.5 1.5zM241.4 703.3l1.5-1.5 1.5 1.5-1.5 1.5zM242.2 703.1l1.5-1.5 1.5 1.5-1.5 1.5zM242.9 703.0l1.5-1.5 1.5 1.5-1.5 1.5zM243.6 703.1l1.5-1.5 1.5 1.5-1.5 1.5zM244.3 703.5l1.5-1.5 1.5 1.5-1.5 1.5zM244.9 703.3l1.5-1.5 1.5 1.5-1.5 1.5zM245.6 703.6l1.5-1.5 1.5 1.5-1.5 1.5zM246.2 703.5l1.5-1.5 1.5 1.5-1.5 1.5zM246.8 703.6l1.5-1.5 1.5 1.5-1.5 1.5zM247.4 703.0l1.5-1.5 1.5 1.5-1.5 1.5zM248.0 703.1l1.5-1.5 1.5 1.5-1.5 1.5zM248.5 702.9l1.5-1.5 1.5 1.5-1.5 1.5zM249.1 703.2l1.5-1.5 1.5 1.5-1.5 1.5zM249.6 703.2l1.5-1.5 1.5 1.5-1.5 1.5zM250.1 703.0l1.5-1.5 1.5 1.5-1.5 1.5zM250.6 703.3l1.5-1.5 1.5 1.5-1.5 1.5zM251.1 703.0l1.5-1.5 1.5 1.5-1.5 1.5zM251.6 703.1l1.5-1.5 1.5 1.5-1.5 1.5zM252.1 703.1l1.5-1.5 1.5 1.5-1.5 1.5zM252.5 703.5l1.5-1.5 1.5 1.5-1.5 1.5zM253.0 703.2l1.5-1.5 1.5 1.5-1.5 1.5zM253.4 703.1l1.5-1.5 1.5 1.5-1.5 1.5zM253.9 702.9l1.5-1.5 1.5 1.5-1.5 1.5zM254.3 703.2l1.5-1.5 1.5 1.5-1.5 1.5zM254.7 703.3l1.5-1.5 1.5 1.5-1.5 1.5zM255.1 703.4l1.5-1.5 1.5 1.5-1.5 1.5zM255.5 703.5l1.5-1.5 1.5 1.5-1.5 1.5zM255.9 703.5l1.5-1.5 1.5 1.5-1.5 1.5zM256.3 703.1l1.5-1.5 1.5 1.5-1.5 1.5zM256.7 703.0l1.5-1.5 1.5 1.5-1.5 1.5zM257.1 703.4l1.5-1.5 1.5 1.5-1.5 1.5zM257.5 703.4l1.5-1.5 1.5 1.5-1.5 1.5zM257.8 703.2l1.5-1.5 1.5 1.5-1.5 1.5zM258.2 703.5l1.5-1.5 1.5 1.5-1.5 1.5zM258.5 703.3l1.5-1.5 1.5 1.5-1.5 1.5zM258.9 703.1l1.5-1.5 1.5 1.5-1.5 1.5zM259.2 703.0l1.5-1.5 1.5 1.5-1.5 1.5zM259.6 702.9l1.5-1.5 1.5 1.5-1.5 1.5zM259.9 703.3l1.5-1.5 1.5 1.5-1.5 1.5zM260.2 703.5l1.5-1.5 1.5 1.5-1.5 1.5zM260.5 703.5l1.5-1.5 1.5 1.5-1.5 1.5zM260.8 703.2l1.5-1.5 1.5 1.5-1.5 1.5zM261.2 703.3l1.5-1.5 1.5 1.5-1.5 1.5zM261.5 703.5l1.5-1.5 1.5 1.5-1.5 1.5zM261.8 703.4l1.5-1.5 1.5 1.5-1.5 1.5zM262.1 703.3l1.5-1.5 1.5 1.5-1.5 1.5zM262.4 703.2l1.5-1.5 1.5 1.5-1.5 1.5zM262.7 703.2l1.5-1.5 1.5 1.5-1.5 1.5zM262.9 703.0l1.5-1.5 1.5 1.5-1.5 1.5zM263.2 703.0l1.5-1.5 1.5 1.5-1.5 1.5zM263.5 703.3l1.5-1.5 1.5 1.5-1.5 1.5zM263.8 703.6l1.5-1.5 1.5 1.5-1.5 1.5zM264.1 703.3l1.5-1.5 1.5 1.5-1.5 1.5zM264.3 703.2l1.5-1.5 1.5 1.5-1.5 1.5zM264.6 703.1l1.5-1.5 1.5 1.5-1.5 1.5zM264.9 703.2l1.5-1.5 1.5 1.5-1.5 1.5zM265.1 703.4l1.5-1.5 1.5 1.5-1.5 1.5zM265.4 703.2l1.5-1.5 1.5 1.5-1.5 1.5zM265.6 703.5l1.5-1.5 1.5 1.5-1.5 1.5zM265.9 703.0l1.5-1.5 1.5 1.5-1.5 1.5zM266.1 703.1l1.5-1.5 1.5 1.5-1.5 1.5zM266.4 703.2l1.5-1.5 1.5 1.5-1.5 1.5zM266.6 703.1l1.5-1.5 1.5 1.5-1.5 1.5zM266.9 703.5l1.5-1.5 1.5 1.5-1.5 1.5zM267.1 703.4l1.5-1.5 1.5 1.5-1.5 1.5zM267.3 703.5l1.5-1.5 1.5 1.5-1.5 1.5zM267.6 703.3l1.5-1.5 1.5 1.5-1.5 1.5zM267.8 702.9l1.5-1.5 1.5 1.5-1.5 1.5zM268.0 703.3l1.5-1.5 1.5 1.5-1.5 1.5zM268.3 703.2l1.5-1.5 1.5 1.5-1.5 1.5zM268.5 703.2l1.5-1.5 1.5 1.5-1.5 1.5zM268.7 703.0l1.5-1.5 1.5 1.5-1.5 1.5z" fill="#0080ff"/>
<line x1="67.4" y1="708.3" x2="270.2" y2="708.0" stroke="#0091ff" stroke-width="0.9" stroke-opacity="0.4"/>
<path d="M65.9 708.3l1.5-1.5 1.5 1.5-1.5 1.5zM131.9 708.2l1.5-1.5 1.5 1.5-1.5 1.5zM167.3 708.1l1.5-1.5 1.5 1.5-1.5 1.5zM182.6 708.1l1.5-1.5 1.5 1.5-1.5 1.5zM191.5 708.1l1.5-1.5 1.5 1.5-1.5 1.5zM197.8 708.1l1.5-1.5 1.5 1.5-1.5 1.5zM202.7 708.1l1.5-1.5 1.5 1.5-1.5 1.5zM206.8 708.1l1.5-1.5 1.5 1.5-1.5 1.5zM210.1 708.1l1.5-1.5 1.5 1.5-1.5 1.5zM213.1 708.1l1.5-1.5 1.5 1.5-1.5 1.5zM215.7 708.1l1.5-1.5 1.5 1.5-1.5 1.5zM218.0 708.1l1.5-1.5 1.5 1.5-1.5 1.5zM220.1 708.2l1.5-1.5 1.5 1.5-1.5 1.5zM222.0 708.4l1.5-1.5 1.5 1.5-1.5 1.5zM223.8 707.8l1.5-1.5 1.5 1.5-1.5 1.5zM225.4 708.2l1.5-1.5 1.5 1.5-1.5 1.5zM226.9 708.0l1.5-1.5 1.5 1.5-1.5 1.5zM228.3 708.1l1.5-1.5 1.5 1.5-1.5 1.5zM229.7 708.3l1.5-1.5 1.5 1.5-1.5 1.5zM230.9 708.4l1.5-1.5 1.5 1.5-1.5 1.5zM232.1 708.2l1.5-1.5 1.5 1.5-1.5 1.5zM233.3 707.8l1.5-1.5 1.5 1.5-1.5 1.5zM234.3 708.3l1.5-1.5 1.5 1.5-1.5 1.5zM235.4 707.8l1.5-1.5 1.5 1.5-1.5 1.5zM236.3 708.0l1.5-1.5 1.5 1.5-1.5 1.5zM237.3 708.3l1.5-1.5 1.5 1.5-1.5 1.5zM238.2 707.9l1.5-1.5 1.5 1.5-1.5 1.5zM239.0 707.9l1.5-1.5 1.5 1.5-1.5 1.5zM239.9 708.4l1.5-1.5 1.5 1.5-1.5 1.5zM240.7 708.4l1.5-1.5 1.5 1.5-1.5 1.5zM241.4 707.9l1.5-1.5 1.5 1.5-1.5 1.5zM242.2 708.0l1.5-1.5 1.5 1.5-1.5 1.5zM242.9 707.9l1.5-1.5 1.5 1.5-1.5 1.5zM243.6 707.8l1.5-1.5 1.5 1.5-1.5 1.5zM244.3 707.9l1.5-1.5 1.5 1.5-1.5 1.5zM244.9 708.4l1.5-1.5 1.5 1.5-1.5 1.5zM245.6 707.7l1.5-1.5 1.5 1.5-1.5 1.5zM246.2 707.8l1.5-1.5 1.5 1.5-1.5 1.5zM246.8 707.8l1.5-1.5 1.5 1.5-1.5 1.5zM247.4 707.7l1.5-1.5 1.5 1.5-1.5 1.5zM248.0 708.0l1.5-1.5 1.5 1.5-1.5 1.5zM248.5 708.2l1.5-1.5 1.5 1.5-1.5 1.5zM249.1 708.3l1.5-1.5 1.5 1.5-1.5 1.5zM249.6 708.1l1.5-1.5 1.5 1.5-1.5 1.5zM250.1 708.2l1.5-1.5 1.5 1.5-1.5 1.5zM250.6 707.7l1.5-1.5 1.5 1.5-1.5 1.5zM251.1 707.9l1.5-1.5 1.5 1.5-1.5 1.5zM251.6 708.3l1.5-1.5 1.5 1.5-1.5 1.5zM252.1 707.7l1.5-1.5 1.5 1.5-1.5 1.5zM252.5 707.9l1.5-1.5 1.5 1.5-1.5 1.5zM253.0 708.0l1.5-1.5 1.5 1.5-1.5 1.5zM253.4 707.9l1.5-1.5 1.5 1.5-1.5 1.5zM253.9 708.1l1.5-1.5 1.5 1.5-1.5 1.5zM254.3 707.7l1.5-1.5 1.5 1.5-1.5 1.5zM254.7 707.8l1.5-1.5 1.5 1.5-1.5 1.5zM255.1 708.3l1.5-1.5 1.5 1.5-1.5 1.5zM255.5 707.8l1.5-1.5 1.5 1.5-1.5 1.5zM255.9 708.3l1.5-1.5 1.5 1.5-1.5 1.5zM256.3 707.8l1.5-1.5 1.5 1.5-1.5 1.5zM256.7 708.4l1.5-1.5 1.5 1.5-1.5 1.5zM257.1 708.1l1.5-1.5 1.5 1.5-1.5 1.5zM257.5 708.1l1.5-1.5 1.5 1.5-1.5 1.5zM257.8 707.8l1.5-1.5 1.5 1.5-1.5 1.5zM258.2 707.7l1.5-1.5 1.5 1.5-1.5 1.5zM258.5 708.2l1.5-1.5 1.5 1.5-1.5 1.5zM258.9 707.8l1.5-1.5 1.5 1.5-1.5 1.5zM259.2 707.8l1.5-1.5 1.5 1.5-1.5 1.5zM259.6 708.2l1.5-1.5 1.5 1.5-1.5 1.5zM259.9 708.3l1.5-1.5 1.5 1.5-1.5 1.5zM260.2 707.7l1.5-1.5 1.5 1.5-1.5 1.5zM260.5 708.3l1.5-1.5 1.5 1.5-1.5 1.5zM260.8 708.0l1.5-1.5 1.5 1.5-1.5 1.5zM261.2 707.9l1.5-1.5 1.5 1.5-1.5 1.5zM261.5 707.7l1.5-1.5 1.5 1.5-1.5 1.5zM261.8 707.9l1.5-1.5 1.5 1.5-1.5 1.5zM262.1 708.4l1.5-1.5 1.5 1.5-1.5 1.5zM262.4 707.9l1.5-1.5 1.5 1.5-1.5 1.5zM262.7 707.8l1.5-1.5 1.5 1.5-1.5 1.5zM262.9 707.8l1.5-1.5 1.5 1.5-1.5 1.5zM263.2 707.7l1.5-1.5 1.5 1.5-1.5 1.5zM263.5 707.9l1.5-1.5 1.5 1.5-1.5 1.5zM263.8 708.3l1.5-1.5 1.5 1.5-1.5 1.5zM264.1 707.7l1.5-1.5 1.5 1.5-1.5 1.5zM264.3 707.8l1.5-1.5 1.5 1.5-1.5 1.5zM264.6 708.3l1.5-1.5 1.5 1.5-1.5 1.5zM264.9 708.4l1.5-1.5 1.5 1.5-1.5 1.5zM265.1 708.3l1.5-1.5 1.5 1.5-1.5 1.5zM265.4 707.8l1.5-1.5 1.5 1.5-1.5 1.5zM265.6 707.9l1.5-1.5 1.5 1.5-1.5 1.5zM265.9 708.3l1.5-1.5 1.5 1.5-1.5 1.5zM266.1 708.0l1.5-1.5 1.5 1.5-1.5 1.5zM266.4 708.1l1.5-1.5 1.5 1.5-1.5 1.5zM266.6 707.9l1.5-1.5 1.5 1.5-1.5 1.5zM266.9 707.7l1.5-1.5 1.5 1.5-1.5 1.5zM267.1 707.9l1.5-1.5 1.5 1.5-1.5 1.5zM267.3 708.2l1.5-1.5 1.5 1.5-1.5 1.5zM267.6 708.2l1.5-1.5 1.5 1.5-1.5 1.5zM267.8 708.0l1.5-1.5 1.5 1.5-1.5 1.5zM268.0 708.0l1.5-1.5 1.5 1.5-1.5 1.5zM268.3 708.0l1.5-1.5 1.5 1.5-1.5 1.5zM268.5 708.0l1.5-1.5 1.5 1.5-1.5 1.5zM268.7 708.0l1.5-1.5 1.5 1.5-1.5 1.5z" fill="#0091ff"/>
<line x1="67.4" y1="714.1" x2="270.2" y2="713.7" stroke="#00aaff" stroke-width="0.9" stroke-opacity="0.4"/>
<path d="M65.9 714.1l1.5-1.5 1.5 1.5-1.5 1.5zM131.9 714.0l1.5-1.5 1.5 1.5-1.5 1.5zM167.3 713.9l1.5-1.5 1.5 1.5-1.5 1.5zM182.6 713.9l1.5-1.5 1.5 1.5-1.5 1.5zM191.5 713.9l1.5-1.5 1.5 1.5-1.5 1.5zM197.8 713.8l1.5-1.5 1.5 1.5-1.5 1.5zM202.7 713.8l1.5-1.5 1.5 1.5-1.5 1.5zM206.8 713.8l1.5-1.5 1.5 1.5-1.5 1.5zM210.1 713.8l1.5-1.5 1.5 1.5-1.5 1.5zM213.1 713.8l1.5-1.5 1.5 1.5-1.5 1.5zM215.7 713.8l1.5-1.5 1.5 1.5-1.5 1.5zM218.0 713.8l1.5-1.5 1.5 1.5-1.5 1.5zM220.1 714.0l1.5-1.5 1.5 1.5-1.5 1.5zM222.0 713.6l1.5-1.5 1.5 1.5-1.5 1.5zM223.8 713.9l1.5-1.5 1.5 1.5-1.5 1.5zM225.4 714.1l1.5-1.5 1.5 1.5-1.5 1.5zM226.9 714.0l1.5-1.5 1.5 1.5-1.5 1.5zM228.3 713.6l1.5-1.5 1.5 1.5-1.5 1.5zM229.7 714.1l1.5-1.5 1.5 1.5-1.5 1.5zM230.9 714.0l1.5-1.5 1.5 1.5-1.5 1.5zM232.1 713.5l1.5-1.5 1.5 1.5-1.5 1.5zM233.3 713.6l1.5-1.5 1.5 1.5-1.5 1.5zM234.3 713.6l1.5-1.5 1.5 1.5-1.5 1.5zM235.4 713.5l1.5-1.5 1.5 1.5-1.5 1.5zM236.3 714.1l1.5-1.5 1.5 1.5-1.5 1.5zM237.3 713.7l1.5-1.5 1.5 1.5-1.5 1.5zM238.2 714.0l1.5-1.5 1.5 1.5-1.5 1.5zM239.0 713.5l1.5-1.5 1.5 1.5-1.5 1.5zM239.9 713.4l1.5-1.5 1.5 1.5-1.5 1.5zM240.7 714.0l1.5-1.5 1.5 1.5-1.5 1.5zM241.4 714.0l1.5-1.5 1.5 1.5-1.5 1.5zM242.2 714.1l1.5-1.5 1.5 1.5-1.5 1.5zM242.9 713.9l1.5-1.5 1.5 1.5-1.5 1.5zM243.6 713.8l1.5-1.5 1.5 1.5-1.5 1.5zM244.3 713.9l1.5-1.5 1.5 1.5-1.5 1.5zM244.9 713.5l1.5-1.5 1.5 1.5-1.5 1.5zM245.6 713.8l1.5-1.5 1.5 1.5-1.5 1.5zM246.2 713.7l1.5-1.5 1.5 1.5-1.5 1.5zM246.8 713.5l1.5-1.5 1.5 1.5-1.5 1.5zM247.4 713.8l1.5-1.5 1.5 1.5-1.5 1.5zM248.0 713.6l1.5-1.5 1.5 1.5-1.5 1.5zM248.5 713.7l1.5-1.5 1.5 1.5-1.5 1.5zM249.1 713.7l1.5-1.5 1.5 1.5-1.5 1.5zM249.6 713.6l1.5-1.5 1.5 1.5-1.5 1.5zM250.1 713.6l1.5-1.5 1.5 1.5-1.5 1.5zM250.6 713.8l1.5-1.5 1.5 1.5-1.5 1.5zM251.1 714.1l1.5-1.5 1.5 1.5-1.5 1.5zM251.6 714.0l1.5-1.5 1.5 1.5-1.5 1.5zM252.1 714.0l1.5-1.5 1.5 1.5-1.5 1.5zM252.5 714.0l1.5-1.5 1.5 1.5-1.5 1.5zM253.0 713.6l1.5-1.5 1.5 1.5-1.5 1.5zM253.4 714.1l1.5-1.5 1.5 1.5-1.5 1.5zM253.9 713.6l1.5-1.5 1.5 1.5-1.5 1.5zM254.3 713.5l1.5-1.5 1.5 1.5-1.5 1.5zM254.7 713.7l1.5-1.5 1.5 1.5-1.5 1.5zM255.1 713.9l1.5-1.5 1.5 1.5-1.5 1.5zM255.5 713.6l1.5-1.5 1.5 1.5-1.5 1.5zM255.9 713.8l1.5-1.5 1.5 1.5-1.5 1.5zM256.3 713.6l1.5-1.5 1.5 1.5-1.5 1.5zM256.7 714.1l1.5-1.5 1.5 1.5-1.5 1.5zM257.1 713.7l1.5-1.5 1.5 1.5-1.5 1.5zM257.5 713.7l1.5-1.5 1.5 1.5-1.5 1.5zM257.8 713.7l1.5-1.5 1.5 1.5-1.5 1.5zM258.2 714.0l1.5-1.5 1.5 1.5-1.5 1.5zM258.5 714.1l1.5-1.5 1.5 1.5-1.5 1.5zM258.9 713.7l1.5-1.5 1.5 1.5-1.5 1.5zM259.2 713.7l1.5-1.5 1.5 1.5-1.5 1.5zM259.6 713.8l1.5-1.5 1.5 1.5-1.5 1.5zM259.9 713.4l1.5-1.5 1.5 1.5-1.5 1.5zM260.2 713.7l1.5-1.5 1.5 1.5-1.5 1.5zM260.5 714.0l1.5-1.5 1.5 1.5-1.5 1.5zM260.8 713.9l1.5-1.5 1.5 1.5-1.5 1.5zM261.2 713.4l1.5-1.5 1.5 1.5-1.5 1.5zM261.5 714.0l1.5-1.5 1.5 1.5-1.5 1.5zM261.8 713.6l1.5-1.5 1.5 1.5-1.5 1.5zM262.1 714.0l1.5-1.5 1.5 1.5-1.5 1.5zM262.4 713.6l1.5-1.5 1.5 1.5-1.5 1.5zM262.7 713.5l1.5-1.5 1.5 1.5-1.5 1.5zM262.9 713.7l1.5-1.5 1.5 1.5-1.5 1.5zM263.2 714.0l1.5-1.5 1.5 1.5-1.5 1.5zM263.5 713.7l1.5-1.5 1.5 1.5-1.5 1.5zM263.8 714.0l1.5-1.5 1.5 1.5-1.5 1.5zM264.1 713.9l1.5-1.5 1.5 1.5-1.5 1.5zM264.3 713.6l1.5-1.5 1.5 1.5-1.5 1.5zM264.6 713.6l1.5-1.5 1.5 1.5-1.5 1.5zM264.9 713.7l1.5-1.5 1.5 1.5-1.5 1.5zM265.1 713.6l1.5-1.5 1.5 1.5-1.5 1.5zM265.4 713.6l1.5-1.5 1.5 1.5-1.5 1.5zM265.6 713.8l1.5-1.5 1.5 1.5-1.5 1.5zM265.9 714.0l1.5-1.5 1.5 1.5-1.5 1.5zM266.1 713.8l1.5-1.5 1.5 1.5-1.5 1.5zM266.4 713.5l1.5-1.5 1.5 1.5-1.5 1.5zM266.6 713.5l1.5-1.5 1.5 1.5-1.5 1.5zM266.9 713.6l1.5-1.5 1.5 1.5-1.5 1.5zM267.1 713.8l1.5-1.5 1.5 1.5-1.5 1.5zM267.3 713.5l1.5-1.5 1.5 1.5-1.5 1.5zM267.6 713.4l1.5-1.5 1.5 1.5-1.5 1.5zM267.8 713.6l1.5-1.5 1.5 1.5-1.5 1.5zM268.0 713.5l1.5-1.5 1.5 1.5-1.5 1.5zM268.3 713.4l1.5-1.5 1.5 1.5-1.5 1.5zM268.5 713.7l1.5-1.5 1.5 1.5-1.5 1.5zM268.7 714.0l1.5-1.5 1.5 1.5-1.5 1.5z" fill="#00aaff"/>
<line x1="67.4" y1="718.5" x2="270.2" y2="718.4" stroke="#00bfff" stroke-width="0.9" stroke-opacity="0.4"/>
<path d="M65.9 718.5l1.5-1.5 1.5 1.5-1.5 1.5zM131.9 718.5l1.5-1.5 1.5 1.5-1.5 1.5zM167.3 718.5l1.5-1.5 1.5 1.5-1.5 1.5zM182.6 718.4l1.5-1.5 1.5 1.5-1.5 1.5zM191.5 718.4l1.5-1.5 1.5 1.5-1.5 1.5zM197.8 718.4l1.5-1.5 1.5 1.5-1.5 1.5zM202.7 718.4l1.5-1.5 1.5 1.5-1.5 1.5zM206.8 718.4l1.5-1.5 1.5 1.5-1.5 1.5zM210.1 718.4l1.5-1.5 1.5 1.5-1.5 1.5zM213.1 718.4l1.5-1.5 1.5 1.5-1.5 1.5zM215.7 718.4l1.5-1.5 1.5 1.5-1.5 1.5zM218.0 718.4l1.5-1.5 1.5 1.5-1.5 1.5zM220.1 718.4l1.5-1.5 1.5 1.5-1.5 1.5zM222.0 718.6l1.5-1.5 1.5 1.5-1.5 1.5zM223.8 718.7l1.5-1.5 1.5 1.5-1.5 1.5zM225.4 718.7l1.5-1.5 1.5 1.5-1.5 1.5zM226.9 718.7l1.5-1.5 1.5 1.5-1.5 1.5zM228.3 718.4l1.5-1.5 1.5 1.5-1.5 1.5zM229.7 718.5l1.5-1.5 1.5 1.5-1.5 1.5zM230.9 718.2l1.5-1.5 1.5 1.5-1.5 1.5zM232.1 718.7l1.5-1.5 1.5 1.5-1.5 1.5zM233.3 718.3l1.5-1.5 1.5 1.5-1.5 1.5zM234.3 718.4l1.5-1.5 1.5 1.5-1.5 1.5zM235.4 718.7l1.5-1.5 1.5 1.5-1.5 1.5zM236.3 718.3l1.5-1.5 1.5 1.5-1.5 1.5zM237.3 718.2l1.5-1.5 1.5 1.5-1.5 1.5zM238.2 718.6l1.5-1.5 1.5 1.5-1.5 1.5zM239.0 718.5l1.5-1.5 1.5 1.5-1.5 1.5zM239.9 718.1l1.5-1.5 1.5 1.5-1.5 1.5zM240.7 718.1l1.5-1.5 1.5 1.5-1.5 1.5zM241.4 718.3l1.5-1.5 1.5 1.5-1.5 1.5zM242.2 718.1l1.5-1.5 1.5 1.5-1.5 1.5zM242.9 718.6l1.5-1.5 1.5 1.5-1.5 1.5zM243.6 718.2l1.5-1.5 1.5 1.5-1.5 1.5zM244.3 718.3l1.5-1.5 1.5 1.5-1.5 1.5zM244.9 718.3l1.5-1.5 1.5 1.5-1.5 1.5zM245.6 718.4l1.5-1.5 1.5 1.5-1.5 1.5zM246.2 718.4l1.5-1.5 1.5 1.5-1.5 1.5zM246.8 718.5l1.5-1.5 1.5 1.5-1.5 1.5zM247.4 718.5l1.5-1.5 1.5 1.5-1.5 1.5zM248.0 718.4l1.5-1.5 1.5 1.5-1.5 1.5zM248.5 718.1l1.5-1.5 1.5 1.5-1.5 1.5zM249.1 718.7l1.5-1.5 1.5 1.5-1.5 1.5zM249.6 718.5l1.5-1.5 1.5 1.5-1.5 1.5zM250.1 718.1l1.5-1.5 1.5 1.5-1.5 1.5zM250.6 718.4l1.5-1.5 1.5 1.5-1.5 1.5zM251.1 718.6l1.5-1.5 1.5 1.5-1.5 1.5zM251.6 718.8l1.5-1.5 1.5 1.5-1.5 1.5zM252.1 718.1l1.5-1.5 1.5 1.5-1.5 1.5zM252.5 718.1l1.5-1.5 1.5 1.5-1.5 1.5zM253.0 718.4l1.5-1.5 1.5 1.5-1.5 1.5zM253.4 718.4l1.5-1.5 1.5 1.5-1.5 1.5zM253.9 718.7l1.5-1.5 1.5 1.5-1.5 1.5zM254.3 718.6l1.5-1.5 1.5 1.5-1.5 1.5zM254.7 718.3l1.5-1.5 1.5 1.5-1.5 1.5zM255.1 718.3l1.5-1.5 1.5 1.5-1.5 1.5zM255.5 718.5l1.5-1.5 1.5 1.5-1.5 1.5zM255.9 718.7l1.5-1.5 1.5 1.5-1.5 1.5zM256.3 718.2l1.5-1.5 1.5 1.5-1.5 1.5zM256.7 718.3l1.5-1.5 1.5 1.5-1.5 1.5zM257.1 718.1l1.5-1.5 1.5 1.5-1.5 1.5zM257.5 718.5l1.5-1.5 1.5 1.5-1.5 1.5zM257.8 718.1l1.5-1.5 1.5 1.5-1.5 1.5zM258.2 718.7l1.5-1.5 1.5 1.5-1.5 1.5zM258.5 718.4l1.5-1.5 1.5 1.5-1.5 1.5zM258.9 718.5l1.5-1.5 1.5 1.5-1.5 1.5zM259.2 718.1l1.5-1.5 1.5 1.5-1.5 1.5zM259.6 718.2l1.5-1.5 1.5 1.5-1.5 1.5zM259.9 718.4l1.5-1.5 1.5 1.5-1.5 1.5zM260.2 718.7l1.5-1.5 1.5 1.5-1.5 1.5zM260.5 718.4l1.5-1.5 1.5 1.5-1.5 1.5zM260.8 718.3l1.5-1.5 1.5 1.5-1.5 1.5zM261.2 718.7l1.5-1.5 1.5 1.5-1.5 1.5zM261.5 718.5l1.5-1.5 1.5 1.5-1.5 1.5zM261.8 718.4l1.5-1.5 1.5 1.5-1.5 1.5zM262.1 718.2l1.5-1.5 1.5 1.5-1.5 1.5zM262.4 718.3l1.5-1.5 1.5 1.5-1.5 1.5zM262.7 718.7l1.5-1.5 1.5 1.5-1.5 1.5zM262.9 718.1l1.5-1.5 1.5 1.5-1.5 1.5zM263.2 718.4l1.5-1.5 1.5 1.5-1.5 1.5zM263.5 718.5l1.5-1.5 1.5 1.5-1.5 1.5zM263.8 718.3l1.5-1.5 1.5 1.5-1.5 1.5zM264.1 718.6l1.5-1.5 1.5 1.5-1.5 1.5zM264.3 718.7l1.5-1.5 1.5 1.5-1.5 1.5zM264.6 718.7l1.5-1.5 1.5 1.5-1.5 1.5zM264.9 718.6l1.5-1.5 1.5 1.5-1.5 1.5zM265.1 718.2l1.5-1.5 1.5 1.5-1.5 1.5zM265.4 718.1l1.5-1.5 1.5 1.5-1.5 1.5zM265.6 718.4l1.5-1.5 1.5 1.5-1.5 1.5zM265.9 718.3l1.5-1.5 1.5 1.5-1.5 1.5zM266.1 718.2l1.5-1.5 1.5 1.5-1.5 1.5zM266.4 718.7l1.5-1.5 1.5 1.5-1.5 1.5zM266.6 718.2l1.5-1.5 1.5 1.5-1.5 1.5zM266.9 718.6l1.5-1.5 1.5 1.5-1.5 1.5zM267.1 718.7l1.5-1.5 1.5 1.5-1.5 1.5zM267.3 718.1l1.5-1.5 1.5 1.5-1.5 1.5zM267.6 718.7l1.5-1.5 1.5 1.5-1.5 1.5zM267.8 718.3l1.5-1.5 1.5 1.5-1.5 1.5zM268.0 718.2l1.5-1.5 1.5 1.5-1.5 1.5zM268.3 718.2l1.5-1.5 1.5 1.5-1.5 1.5zM268.5 718.1l1.5-1.5 1.5 1.5-1.5 1.5zM268.7 718.4l1.5-1.5 1.5 1.5-1.5 1.5z" fill="#00bfff"/>
<line x1="67.4" y1="722.9" x2="270.2" y2="722.4" stroke="#00d9ff" stroke-width="0.9" stroke-opacity="0.4"/>
<path d="M65.9 722.9l1.5-1.5 1.5 1.5-1.5 1.5zM131.9 722.7l1.5-1.5 1.5 1.5-1.5 1.5zM167.3 722.6l1.5-1.5 1.5 1.5-1.5 1.5zM182.6 722.6l1.5-1.5 1.5 1.5-1.5 1.5zM191.5 722.6l1.5-1.5 1.5 1.5-1.5 1.5zM197.8 722.6l1.5-1.5 1.5 1.5-1.5 1.5zM202.7 722.6l1.5-1.5 1.5 1.5-1.5 1.5zM206.8 722.6l1.5-1.5 1.5 1.5-1.5 1.5zM210.1 722.5l1.5-1.5 1.5 1.5-1.5 1.5zM213.1 722.5l1.5-1.5 1.5 1.5-1.5 1.5zM215.7 722.5l1.5-1.5 1.5 1.5-1.5 1.5zM218.0 722.5l1.5-1.5 1.5 1.5-1.5 1.5zM220.1 722.4l1.5-1.5 1.5 1.5-1.5 1.5zM222.0 722.8l1.5-1.5 1.5 1.5-1.5 1.5zM223.8 722.7l1.5-1.5 1.5 1.5-1.5 1.5zM225.4 722.2l1.5-1.5 1.5 1.5-1.5 1.5zM226.9 722.4l1.5-1.5 1.5 1.5-1.5 1.5zM228.3 722.4l1.5-1.5 1.5 1.5-1.5 1.5zM229.7 722.3l1.5-1.5 1.5 1.5-1.5 1.5zM230.9 722.3l1.5-1.5 1.5 1.5-1.5 1.5zM232.1 722.3l1.5-1.5 1.5 1.5-1.5 1.5zM233.3 722.6l1.5-1.5 1.5 1.5-1.5 1.5zM234.3 722.4l1.5-1.5 1.5 1.5-1.5 1.5zM235.4 722.2l1.5-1.5 1.5 1.5-1.5 1.5zM236.3 722.3l1.5-1.5 1.5 1.5-1.5 1.5zM237.3 722.4l1.5-1.5 1.5 1.5-1.5 1.5zM238.2 722.5l1.5-1.5 1.5 1.5-1.5 1.5zM239.0 722.3l1.5-1.5 1.5 1.5-1.5 1.5zM239.9 722.6l1.5-1.5 1.5 1.5-1.5 1.5zM240.7 722.3l1.5-1.5 1.5 1.5-1.5 1.5zM241.4 722.6l1.5-1.5 1.5 1.5-1.5 1.5zM242.2 722.5l1.5-1.5 1.5 1.5-1.5 1.5zM242.9 722.2l1.5-1.5 1.5 1.5-1.5 1.5zM243.6 722.6l1.5-1.5 1.5 1.5-1.5 1.5zM244.3 722.4l1.5-1.5 1.5 1.5-1.5 1.5zM244.9 722.5l1.5-1.5 1.5 1.5-1.5 1.5zM245.6 722.5l1.5-1.5 1.5 1.5-1.5 1.5zM246.2 722.5l1.5-1.5 1.5 1.5-1.5 1.5zM246.8 722.4l1.5-1.5 1.5 1.5-1.5 1.5zM247.4 722.1l1.5-1.5 1.5 1.5-1.5 1.5zM248.0 722.7l1.5-1.5 1.5 1.5-1.5 1.5zM248.5 722.7l1.5-1.5 1.5 1.5-1.5 1.5zM249.1 722.4l1.5-1.5 1.5 1.5-1.5 1.5zM249.6 722.5l1.5-1.5 1.5 1.5-1.5 1.5zM250.1 722.3l1.5-1.5 1.5 1.5-1.5 1.5zM250.6 722.7l1.5-1.5 1.5 1.5-1.5 1.5zM251.1 722.6l1.5-1.5 1.5 1.5-1.5 1.5zM251.6 722.2l1.5-1.5 1.5 1.5-1.5 1.5zM252.1 722.7l1.5-1.5 1.5 1.5-1.5 1.5zM252.5 722.8l1.5-1.5 1.5 1.5-1.5 1.5zM253.0 722.3l1.5-1.5 1.5 1.5-1.5 1.5zM253.4 722.8l1.5-1.5 1.5 1.5-1.5 1.5zM253.9 722.4l1.5-1.5 1.5 1.5-1.5 1.5zM254.3 722.2l1.5-1.5 1.5 1.5-1.5 1.5zM254.7 722.6l1.5-1.5 1.5 1.5-1.5 1.5zM255.1 722.3l1.5-1.5 1.5 1.5-1.5 1.5zM255.5 722.6l1.5-1.5 1.5 1.5-1.5 1.5zM255.9 722.5l1.5-1.5 1.5 1.5-1.5 1.5zM256.3 722.2l1.5-1.5 1.5 1.5-1.5 1.5zM256.7 722.4l1.5-1.5 1.5 1.5-1.5 1.5zM257.1 722.7l1.5-1.5 1.5 1.5-1.5 1.5zM257.5 722.4l1.5-1.5 1.5 1.5-1.5 1.5zM257.8 722.5l1.5-1.5 1.5 1.5-1.5 1.5zM258.2 722.7l1.5-1.5 1.5 1.5-1.5 1.5zM258.5 722.4l1.5-1.5 1.5 1.5-1.5 1.5zM258.9 722.4l1.5-1.5 1.5 1.5-1.5 1.5zM259.2 722.5l1.5-1.5 1.5 1.5-1.5 1.5zM259.6 722.6l1.5-1.5 1.5 1.5-1.5 1.5zM259.9 722.2l1.5-1.5 1.5 1.5-1.5 1.5zM260.2 722.1l1.5-1.5 1.5 1.5-1.5 1.5zM260.5 722.6l1.5-1.5 1.5 1.5-1.5 1.5zM260.8 722.5l1.5-1.5 1.5 1.5-1.5 1.5zM261.2 722.3l1.5-1.5 1.5 1.5-1.5 1.5zM261.5 722.7l1.5-1.5 1.5 1.5-1.5 1.5zM261.8 722.7l1.5-1.5 1.5 1.5-1.5 1.5zM262.1 722.4l1.5-1.5 1.5 1.5-1.5 1.5zM262.4 722.8l1.5-1.5 1.5 1.5-1.5 1.5zM262.7 722.7l1.5-1.5 1.5 1.5-1.5 1.5zM262.9 722.6l1.5-1.5 1.5 1.5-1.5 1.5zM263.2 722.3l1.5-1.5 1.5 1.5-1.5 1.5zM263.5 722.1l1.5-1.5 1.5 1.5-1.5 1.5zM263.8 722.5l1.5-1.5 1.5 1.5-1.5 1.5zM264.1 722.6l1.5-1.5 1.5 1.5-1.5 1.5zM264.3 722.3l1.5-1.5 1.5 1.5-1.5 1.5zM264.6 722.4l1.5-1.5 1.5 1.5-1.5 1.5zM264.9 722.5l1.5-1.5 1.5 1.5-1.5 1.5zM265.1 722.2l1.5-1.5 1.5 1.5-1.5 1.5zM265.4 722.5l1.5-1.5 1.5 1.5-1.5 1.5zM265.6 722.5l1.5-1.5 1.5 1.5-1.5 1.5zM265.9 722.3l1.5-1.5 1.5 1.5-1.5 1.5zM266.1 722.1l1.5-1.5 1.5 1.5-1.5 1.5zM266.4 722.4l1.5-1.5 1.5 1.5-1.5 1.5zM266.6 722.3l1.5-1.5 1.5 1.5-1.5 1.5zM266.9 722.6l1.5-1.5 1.5 1.5-1.5 1.5zM267.1 722.2l1.5-1.5 1.5 1.5-1.5 1.5zM267.3 722.3l1.5-1.5 1.5 1.5-1.5 1.5zM267.6 722.2l1.5-1.5 1.5 1.5-1.5 1.5zM267.8 722.3l1.5-1.5 1.5 1.5-1.5 1.5zM268.0 722.5l1.5-1.5 1.5 1.5-1.5 1.5zM268.3 722.1l1.5-1.5 1.5 1.5-1.5 1.5zM268.5 722.1l1.5-1.5 1.5 1.5-1.5 1.5zM268.7 722.4l1.5-1.5 1.5 1.5-1.5 1.5z" fill="#00d9ff"/>
<line x1="67.4" y1="727.6" x2="270.2" y2="727.1" stroke="#00ffe5" stroke-width="0.9" stroke-opacity="0.4"/>
<path d="M65.9 727.6l1.5-1.5 1.5 1.5-1.5 1.5zM131.9 727.4l1.5-1.5 1.5 1.5-1.5 1.5zM167.3 727.4l1.5-1.5 1.5 1.5-1.5 1.5zM182.6 727.3l1.5-1.5 1.5 1.5-1.5 1.5zM191.5 727.3l1.5-1.5 1.5 1.5-1.5 1.5zM197.8 727.3l1.5-1.5 1.5 1.5-1.5 1.5zM202.7 727.3l1.5-1.5 1.5 1.5-1.5 1.5zM206.8 727.3l1.5-1.5 1.5 1.5-1.5 1.5zM210.1 727.2l1.5-1.5 1.5 1.5-1.5 1.5zM213.1 727.2l1.5-1.5 1.5 1.5-1.5 1.5zM215.7 727.2l1.5-1.5 1.5 1.5-1.5 1.5zM218.0 727.2l1.5-1.5 1.5 1.5-1.5 1.5zM220.1 727.0l1.5-1.5 1.5 1.5-1.5 1.5zM222.0 727.2l1.5-1.5 1.5 1.5-1.5 1.5zM223.8 727.0l1.5-1.5 1.5 1.5-1.5 1.5zM225.4 726.9l1.5-1.5 1.5 1.5-1.5 1.5zM226.9 727.2l1.5-1.5 1.5 1.5-1.5 1.5zM228.3 727.5l1.5-1.5 1.5 1.5-1.5 1.5zM229.7 727.5l1.5-1.5 1.5 1.5-1.5 1.5zM230.9 727.2l1.5-1.5 1.5 1.5-1.5 1.5zM232.1 727.1l1.5-1.5 1.5 1.5-1.5 1.5zM233.3 726.9l1.5-1.5 1.5 1.5-1.5 1.5zM234.3 727.0l1.5-1.5 1.5 1.5-1.5 1.5zM235.4 727.1l1.5-1.5 1.5 1.5-1.5 1.5zM236.3 727.5l1.5-1.5 1.5 1.5-1.5 1.5zM237.3 726.9l1.5-1.5 1.5 1.5-1.5 1.5zM238.2 727.5l1.5-1.5 1.5 1.5-1.5 1.5zM239.0 727.2l1.5-1.5 1.5 1.5-1.5 1.5zM239.9 727.1l1.5-1.5 1.5 1.5-1.5 1.5zM240.7 727.0l1.5-1.5 1.5 1.5-1.5 1.5zM241.4 727.5l1.5-1.5 1.5 1.5-1.5 1.5zM242.2 726.9l1.5-1.5 1.5 1.5-1.5 1.5zM242.9 727.2l1.5-1.5 1.5 1.5-1.5 1.5zM243.6 727.2l1.5-1.5 1.5 1.5-1.5 1.5zM244.3 726.9l1.5-1.5 1.5 1.5-1.5 1.5zM244.9 727.0l1.5-1.5 1.5 1.5-1.5 1.5zM245.6 727.5l1.5-1.5 1.5 1.5-1.5 1.5zM246.2 727.4l1.5-1.5 1.5 1.5-1.5 1.5zM246.8 727.3l1.5-1.5 1.5 1.5-1.5 1.5zM247.4 727.4l1.5-1.5 1.5 1.5-1.5 1.5zM248.0 726.9l1.5-1.5 1.5 1.5-1.5 1.5zM248.5 727.3l1.5-1.5 1.5 1.5-1.5 1.5zM249.1 727.3l1.5-1.5 1.5 1.5-1.5 1.5zM249.6 727.0l1.5-1.5 1.5 1.5-1.5 1.5zM250.1 727.1l1.5-1.5 1.5 1.5-1.5 1.5zM250.6 727.5l1.5-1.5 1.5 1.5-1.5 1.5zM251.1 727.0l1.5-1.5 1.5 1.5-1.5 1.5zM251.6 727.3l1.5-1.5 1.5 1.5-1.5 1.5zM252.1 726.9l1.5-1.5 1.5 1.5-1.5 1.5zM252.5 727.3l1.5-1.5 1.5 1.5-1.5 1.5zM253.0 727.0l1.5-1.5 1.5 1.5-1.5 1.5zM253.4 727.1l1.5-1.5 1.5 1.5-1.5 1.5zM253.9 727.0l1.5-1.5 1.5 1.5-1.5 1.5zM254.3 727.4l1.5-1.5 1.5 1.5-1.5 1.5zM254.7 727.3l1.5-1.5 1.5 1.5-1.5 1.5zM255.1 727.1l1.5-1.5 1.5 1.5-1.5 1.5zM255.5 727.3l1.5-1.5 1.5 1.5-1.5 1.5zM255.9 727.1l1.5-1.5 1.5 1.5-1.5 1.5zM256.3 727.3l1.5-1.5 1.5 1.5-1.5 1.5zM256.7 727.0l1.5-1.5 1.5 1.5-1.5 1.5zM257.1 727.2l1.5-1.5 1.5 1.5-1.5 1.5zM257.5 727.2l1.5-1.5 1.5 1.5-1.5 1.5zM257.8 727.0l1.5-1.5 1.5 1.5-1.5 1.5zM258.2 726.8l1.5-1.5 1.5 1.5-1.5 1.5zM258.5 726.9l1.5-1.5 1.5 1.5-1.5 1.5zM258.9 727.2l1.5-1.5 1.5 1.5-1.5 1.5zM259.2 726.9l1.5-1.5 1.5 1.5-1.5 1.5zM259.6 727.3l1.5-1.5 1.5 1.5-1.5 1.5zM259.9 727.1l1.5-1.5 1.5 1.5-1.5 1.5zM260.2 727.4l1.5-1.5 1.5 1.5-1.5 1.5zM260.5 727.4l1.5-1.5 1.5 1.5-1.5 1.5zM260.8 727.3l1.5-1.5 1.5 1.5-1.5 1.5zM261.2 727.0l1.5-1.5 1.5 1.5-1.5 1.5zM261.5 726.8l1.5-1.5 1.5 1.5-1.5 1.5zM261.8 727.2l1.5-1.5 1.5 1.5-1.5 1.5zM262.1 727.3l1.5-1.5 1.5 1.5-1.5 1.5zM262.4 727.4l1.5-1.5 1.5 1.5-1.5 1.5zM262.7 726.9l1.5-1.5 1.5 1.5-1.5 1.5zM262.9 726.9l1.5-1.5 1.5 1.5-1.5 1.5zM263.2 727.4l1.5-1.5 1.5 1.5-1.5 1.5zM263.5 727.3l1.5-1.5 1.5 1.5-1.5 1.5zM263.8 727.1l1.5-1.5 1.5 1.5-1.5 1.5zM264.1 727.3l1.5-1.5 1.5 1.5-1.5 1.5zM264.3 726.9l1.5-1.5 1.5 1.5-1.5 1.5zM264.6 727.1l1.5-1.5 1.5 1.5-1.5 1.5zM264.9 727.2l1.5-1.5 1.5 1.5-1.5 1.5zM265.1 727.2l1.5-1.5 1.5 1.5-1.5 1.5zM265.4 726.9l1.5-1.5 1.5 1.5-1.5 1.5zM265.6 726.9l1.5-1.5 1.5 1.5-1.5 1.5zM265.9 727.2l1.5-1.5 1.5 1.5-1.5 1.5zM266.1 727.4l1.5-1.5 1.5 1.5-1.5 1.5zM266.4 726.9l1.5-1.5 1.5 1.5-1.5 1.5zM266.6 726.8l1.5-1.5 1.5 1.5-1.5 1.5zM266.9 726.8l1.5-1.5 1.5 1.5-1.5 1.5zM267.1 727.3l1.5-1.5 1.5 1.5-1.5 1.5zM267.3 727.0l1.5-1.5 1.5 1.5-1.5 1.5zM267.6 727.1l1.5-1.5 1.5 1.5-1.5 1.5zM267.8 727.4l1.5-1.5 1.5 1.5-1.5 1.5zM268.0 727.2l1.5-1.5 1.5 1.5-1.5 1.5zM268.3 726.9l1.5-1.5 1.5 1.5-1.5 1.5zM268.5 727.2l1.5-1.5 1.5 1.5-1.5 1.5zM268.7 726.8l1.5-1.5 1.5 1.5-1.5 1.5z" fill="#00ffe5"/>
<line x1="67.4" y1="732.9" x2="270.2" y2="732.3" stroke="#00ffaa" stroke-width="0.9" stroke-opacity="0.4"/>
<path d="M65.9 732.9l1.5-1.5 1.5 1.5-1.5 1.5zM131.9 732.7l1.5-1.5 1.5 1.5-1.5 1.5zM167.3 732.6l1.5-1.5 1.5 1.5-1.5 1.5zM182.6 732.6l1.5-1.5 1.5 1.5-1.5 1.5zM191.5 732.5l1.5-1.5 1.5 1.5-1.5 1.5zM197.8 732.5l1.5-1.5 1.5 1.5-1.5 1.5zM202.7 732.5l1.5-1.5 1.5 1.5-1.5 1.5zM206.8 732.5l1.5-1.5 1.5 1.5-1.5 1.5zM210.1 732.5l1.5-1.5 1.5 1.5-1.5 1.5zM213.1 732.5l1.5-1.5 1.5 1.5-1.5 1.5zM215.7 732.5l1.5-1.5 1.5 1.5-1.5 1.5zM218.0 732.4l1.5-1.5 1.5 1.5-1.5 1.5zM220.1 732.3l1.5-1.5 1.5 1.5-1.5 1.5zM222.0 732.6l1.5-1.5 1.5 1.5-1.5 1.5zM223.8 732.2l1.5-1.5 1.5 1.5-1.5 1.5zM225.4 732.1l1.5-1.5 1.5 1.5-1.5 1.5zM226.9 732.4l1.5-1.5 1.5 1.5-1.5 1.5zM228.3 732.3l1.5-1.5 1.5 1.5-1.5 1.5zM229.7 732.7l1.5-1.5 1.5 1.5-1.5 1.5zM230.9 732.1l1.5-1.5 1.5 1.5-1.5 1.5zM232.1 732.6l1.5-1.5 1.5 1.5-1.5 1.5zM233.3 732.3l1.5-1.5 1.5 1.5-1.5 1.5zM234.3 732.6l1.5-1.5 1.5 1.5-1.5 1.5zM235.4 732.4l1.5-1.5 1.5 1.5-1.5 1.5zM236.3 732.5l1.5-1.5 1.5 1.5-1.5 1.5zM237.3 732.3l1.5-1.5 1.5 1.5-1.5 1.5zM238.2 732.2l1.5-1.5 1.5 1.5-1.5 1.5zM239.0 732.4l1.5-1.5 1.5 1.5-1.5 1.5zM239.9 732.6l1.5-1.5 1.5 1.5-1.5 1.5zM240.7 732.3l1.5-1.5 1.5 1.5-1.5 1.5zM241.4 732.2l1.5-1.5 1.5 1.5-1.5 1.5zM242.2 732.3l1.5-1.5 1.5 1.5-1.5 1.5zM242.9 732.1l1.5-1.5 1.5 1.5-1.5 1.5zM243.6 732.2l1.5-1.5 1.5 1.5-1.5 1.5zM244.3 732.4l1.5-1.5 1.5 1.5-1.5 1.5zM244.9 732.4l1.5-1.5 1.5 1.5-1.5 1.5zM245.6 732.4l1.5-1.5 1.5 1.5-1.5 1.5zM246.2 732.2l1.5-1.5 1.5 1.5-1.5 1.5zM246.8 732.0l1.5-1.5 1.5 1.5-1.5 1.5zM247.4 732.0l1.5-1.5 1.5 1.5-1.5 1.5zM248.0 732.2l1.5-1.5 1.5 1.5-1.5 1.5zM248.5 732.1l1.5-1.5 1.5 1.5-1.5 1.5zM249.1 732.4l1.5-1.5 1.5 1.5-1.5 1.5zM249.6 732.2l1.5-1.5 1.5 1.5-1.5 1.5zM250.1 732.5l1.5-1.5 1.5 1.5-1.5 1.5zM250.6 732.4l1.5-1.5 1.5 1.5-1.5 1.5zM251.1 732.5l1.5-1.5 1.5 1.5-1.5 1.5zM251.6 732.5l1.5-1.5 1.5 1.5-1.5 1.5zM252.1 732.4l1.5-1.5 1.5 1.5-1.5 1.5zM252.5 732.3l1.5-1.5 1.5 1.5-1.5 1.5zM253.0 732.2l1.5-1.5 1.5 1.5-1.5 1.5zM253.4 732.0l1.5-1.5 1.5 1.5-1.5 1.5zM253.9 732.5l1.5-1.5 1.5 1.5-1.5 1.5zM254.3 732.3l1.5-1.5 1.5 1.5-1.5 1.5zM254.7 732.1l1.5-1.5 1.5 1.5-1.5 1.5zM255.1 732.6l1.5-1.5 1.5 1.5-1.5 1.5zM255.5 732.4l1.5-1.5 1.5 1.5-1.5 1.5zM255.9 732.4l1.5-1.5 1.5 1.5-1.5 1.5zM256.3 732.3l1.5-1.5 1.5 1.5-1.5 1.5zM256.7 732.1l1.5-1.5 1.5 1.5-1.5 1.5zM257.1 732.7l1.5-1.5 1.5 1.5-1.5 1.5zM257.5 732.1l1.5-1.5 1.5 1.5-1.5 1.5zM257.8 732.2l1.5-1.5 1.5 1.5-1.5 1.5zM258.2 732.7l1.5-1.5 1.5 1.5-1.5 1.5zM258.5 732.1l1.5-1.5 1.5 1.5-1.5 1.5zM258.9 732.3l1.5-1.5 1.5 1.5-1.5 1.5zM259.2 732.3l1.5-1.5 1.5 1.5-1.5 1.5zM259.6 732.2l1.5-1.5 1.5 1.5-1.5 1.5zM259.9 732.6l1.5-1.5 1.5 1.5-1.5 1.5zM260.2 732.3l1.5-1.5 1.5 1.5-1.5 1.5zM260.5 732.0l1.5-1.5 1.5 1.5-1.5 1.5zM260.8 732.3l1.5-1.5 1.5 1.5-1.5 1.5zM261.2 732.0l1.5-1.5 1.5 1.5-1.5 1.5zM261.5 732.5l1.5-1.5 1.5 1.5-1.5 1.5zM261.8 732.6l1.5-1.5 1.5 1.5-1.5 1.5zM262.1 732.6l1.5-1.5 1.5 1.5-1.5 1.5zM262.4 732.0l1.5-1.5 1.5 1.5-1.5 1.5zM262.7 732.4l1.5-1.5 1.5 1.5-1.5 1.5zM262.9 732.2l1.5-1.5 1.5 1.5-1.5 1.5zM263.2 732.3l1.5-1.5 1.5 1.5-1.5 1.5zM263.5 732.2l1.5-1.5 1.5 1.5-1.5 1.5zM263.8 732.2l1.5-1.5 1.5 1.5-1.5 1.5zM264.1 732.1l1.5-1.5 1.5 1.5-1.5 1.5zM264.3 732.4l1.5-1.5 1.5 1.5-1.5 1.5zM264.6 732.0l1.5-1.5 1.5 1.5-1.5 1.5zM264.9 732.6l1.5-1.5 1.5 1.5-1.5 1.5zM265.1 732.0l1.5-1.5 1.5 1.5-1.5 1.5zM265.4 732.6l1.5-1.5 1.5 1.5-1.5 1.5zM265.6 732.1l1.5-1.5 1.5 1.5-1.5 1.5zM265.9 732.0l1.5-1.5 1.5 1.5-1.5 1.5zM266.1 732.5l1.5-1.5 1.5 1.5-1.5 1.5zM266.4 732.3l1.5-1.5 1.5 1.5-1.5 1.5zM266.6 732.5l1.5-1.5 1.5 1.5-1.5 1.5zM266.9 732.3l1.5-1.5 1.5 1.5-1.5 1.5zM267.1 732.4l1.5-1.5 1.5 1.5-1.5 1.5zM267.3 732.0l1.5-1.5 1.5 1.5-1.5 1.5zM267.6 732.4l1.5-1.5 1.5 1.5-1.5 1.5zM267.8 732.3l1.5-1.5 1.5 1.5-1.5 1.5zM268.0 732.6l1.5-1.5 1.5 1.5-1.5 1.5zM268.3 732.0l1.5-1.5 1.5 1.5-1.5 1.5zM268.5 732.0l1.5-1.5 1.5 1.5-1.5 1.5zM268.7 732.4l1.5-1.5 1.5 1.5-1.5 1.5z" fill="#00ffaa"/>
<line x1="67.4" y1="736.4" x2="270.2" y2="736.1" stroke="#00ff77" stroke-width="0.9" stroke-opacity="0.4"/>
<path d="M65.9 736.4l1.5-1.5 1.5 1.5-1.5 1.5zM131.9 736.3l1.5-1.5 1.5 1.5-1.5 1.5zM167.3 736.2l1.5-1.5 1.5 1.5-1.5 1.5zM182.6 736.2l1.5-1.5 1.5 1.5-1.5 1.5zM191.5 736.2l1.5-1.5 1.5 1.5-1.5 1.5zM197.8 736.2l1.5-1.5 1.5 1.5-1.5 1.5zM202.7 736.2l1.5-1.5 1.5 1.5-1.5 1.5zM206.8 736.2l1.5-1.5 1.5 1.5-1.5 1.5zM210.1 736.2l1.5-1.5 1.5 1.5-1.5 1.5zM213.1 736.2l1.5-1.5 1.5 1.5-1.5 1.5zM215.7 736.2l1.5-1.5 1.5 1.5-1.5 1.5zM218.0 736.2l1.5-1.5 1.5 1.5-1.5 1.5zM220.1 736.5l1.5-1.5 1.5 1.5-1.5 1.5zM222.0 736.1l1.5-1.5 1.5 1.5-1.5 1.5zM223.8 736.3l1.5-1.5 1.5 1.5-1.5 1.5zM225.4 736.2l1.5-1.5 1.5 1.5-1.5 1.5zM226.9 736.1l1.5-1.5 1.5 1.5-1.5 1.5zM228.3 736.1l1.5-1.5 1.5 1.5-1.5 1.5zM229.7 736.2l1.5-1.5 1.5 1.5-1.5 1.5zM230.9 735.8l1.5-1.5 1.5 1.5-1.5 1.5zM232.1 736.0l1.5-1.5 1.5 1.5-1.5 1.5zM233.3 736.3l1.5-1.5 1.5 1.5-1.5 1.5zM234.3 736.0l1.5-1.5 1.5 1.5-1.5 1.5zM235.4 736.1l1.5-1.5 1.5 1.5-1.5 1.5zM236.3 736.0l1.5-1.5 1.5 1.5-1.5 1.5zM237.3 736.0l1.5-1.5 1.5 1.5-1.5 1.5zM238.2 736.3l1.5-1.5 1.5 1.5-1.5 1.5zM239.0 736.3l1.5-1.5 1.5 1.5-1.5 1.5zM239.9 736.5l1.5-1.5 1.5 1.5-1.5 1.5zM240.7 736.1l1.5-1.5 1.5 1.5-1.5 1.5zM241.4 735.9l1.5-1.5 1.5 1.5-1.5 1.5zM242.2 736.0l1.5-1.5 1.5 1.5-1.5 1.5zM242.9 735.8l1.5-1.5 1.5 1.5-1.5 1.5zM243.6 736.0l1.5-1.5 1.5 1.5-1.5 1.5zM244.3 736.2l1.5-1.5 1.5 1.5-1.5 1.5zM244.9 736.2l1.5-1.5 1.5 1.5-1.5 1.5zM245.6 736.0l1.5-1.5 1.5 1.5-1.5 1.5zM246.2 735.9l1.5-1.5 1.5 1.5-1.5 1.5zM246.8 735.9l1.5-1.5 1.5 1.5-1.5 1.5zM247.4 735.9l1.5-1.5 1.5 1.5-1.5 1.5zM248.0 736.1l1.5-1.5 1.5 1.5-1.5 1.5zM248.5 736.0l1.5-1.5 1.5 1.5-1.5 1.5zM249.1 736.4l1.5-1.5 1.5 1.5-1.5 1.5zM249.6 736.2l1.5-1.5 1.5 1.5-1.5 1.5zM250.1 736.0l1.5-1.5 1.5 1.5-1.5 1.5zM250.6 736.1l1.5-1.5 1.5 1.5-1.5 1.5zM251.1 735.8l1.5-1.5 1.5 1.5-1.5 1.5zM251.6 736.3l1.5-1.5 1.5 1.5-1.5 1.5zM252.1 736.3l1.5-1.5 1.5 1.5-1.5 1.5zM252.5 736.0l1.5-1.5 1.5 1.5-1.5 1.5zM253.0 736.3l1.5-1.5 1.5 1.5-1.5 1.5zM253.4 736.0l1.5-1.5 1.5 1.5-1.5 1.5zM253.9 735.9l1.5-1.5 1.5 1.5-1.5 1.5zM254.3 735.9l1.5-1.5 1.5 1.5-1.5 1.5zM254.7 735.9l1.5-1.5 1.5 1.5-1.5 1.5zM255.1 736.2l1.5-1.5 1.5 1.5-1.5 1.5zM255.5 736.2l1.5-1.5 1.5 1.5-1.5 1.5zM255.9 736.3l1.5-1.5 1.5 1.5-1.5 1.5zM256.3 735.8l1.5-1.5 1.5 1.5-1.5 1.5zM256.7 736.3l1.5-1.5 1.5 1.5-1.5 1.5zM257.1 736.1l1.5-1.5 1.5 1.5-1.5 1.5zM257.5 736.0l1.5-1.5 1.5 1.5-1.5 1.5zM257.8 736.1l1.5-1.5 1.5 1.5-1.5 1.5zM258.2 736.1l1.5-1.5 1.5 1.5-1.5 1.5zM258.5 735.9l1.5-1.5 1.5 1.5-1.5 1.5zM258.9 736.0l1.5-1.5 1.5 1.5-1.5 1.5zM259.2 736.2l1.5-1.5 1.5 1.5-1.5 1.5zM259.6 736.3l1.5-1.5 1.5 1.5-1.5 1.5zM259.9 736.4l1.5-1.5 1.5 1.5-1.5 1.5zM260.2 735.9l1.5-1.5 1.5 1.5-1.5 1.5zM260.5 736.4l1.5-1.5 1.5 1.5-1.5 1.5zM260.8 736.3l1.5-1.5 1.5 1.5-1.5 1.5zM261.2 736.3l1.5-1.5 1.5 1.5-1.5 1.5zM261.5 736.4l1.5-1.5 1.5 1.5-1.5 1.5zM261.8 735.9l1.5-1.5 1.5 1.5-1.5 1.5zM262.1 736.3l1.5-1.5 1.5 1.5-1.5 1.5zM262.4 736.4l1.5-1.5 1.5 1.5-1.5 1.5zM262.7 735.8l1.5-1.5 1.5 1.5-1.5 1.5zM262.9 736.2l1.5-1.5 1.5 1.5-1.5 1.5zM263.2 736.4l1.5-1.5 1.5 1.5-1.5 1.5zM263.5 736.0l1.5-1.5 1.5 1.5-1.5 1.5zM263.8 736.4l1.5-1.5 1.5 1.5-1.5 1.5zM264.1 736.4l1.5-1.5 1.5 1.5-1.5 1.5zM264.3 736.1l1.5-1.5 1.5 1.5-1.5 1.5zM264.6 735.9l1.5-1.5 1.5 1.5-1.5 1.5zM264.9 735.9l1.5-1.5 1.5 1.5-1.5 1.5zM265.1 736.3l1.5-1.5 1.5 1.5-1.5 1.5zM265.4 736.1l1.5-1.5 1.5 1.5-1.5 1.5zM265.6 736.0l1.5-1.5 1.5 1.5-1.5 1.5zM265.9 736.1l1.5-1.5 1.5 1.5-1.5 1.5zM266.1 736.4l1.5-1.5 1.5 1.5-1.5 1.5zM266.4 735.9l1.5-1.5 1.5 1.5-1.5 1.5zM266.6 735.8l1.5-1.5 1.5 1.5-1.5 1.5zM266.9 736.4l1.5-1.5 1.5 1.5-1.5 1.5zM267.1 736.0l1.5-1.5 1.5 1.5-1.5 1.5zM267.3 736.0l1.5-1.5 1.5 1.5-1.5 1.5zM267.6 736.4l1.5-1.5 1.5 1.5-1.5 1.5zM267.8 735.9l1.5-1.5 1.5 1.5-1.5 1.5zM268.0 735.8l1.5-1.5 1.5 1.5-1.5 1.5zM268.3 736.4l1.5-1.5 1.5 1.5-1.5 1.5zM268.5 735.9l1.5-1.5 1.5 1.5-1.5 1.5zM268.7 735.9l1.5-1.5 1.5 1.5-1.5 1.5z" fill="#00ff77"/>
<line x1="67.4" y1="740.4" x2="270.2" y2="740.4" stroke="#00ff44" stroke-width="0.9" stroke-opacity="0.4"/>
<path d="M65.9 740.4l1.5-1.5 1.5 1.5-1.5 1.5zM131.9 740.4l1.5-1.5 1.5 1.5-1.5 1.5zM167.3 740.4l1.5-1.5 1.5 1.5-1.5 1.5zM182.6 740.4l1.5-1.5 1.5 1.5-1.5 1.5zM191.5 740.4l1.5-1.5 1.5 1.5-1.5 1.5zM197.8 740.4l1.5-1.5 1.5 1.5-1.5 1.5zM202.7 740.4l1.5-1.5 1.5 1.5-1.5 1.5zM206.8 740.4l1.5-1.5 1.5 1.5-1.5 1.5zM210.1 740.4l1.5-1.5 1.5 1.5-1.5 1.5zM213.1 740.4l1.5-1.5 1.5 1.5-1.5 1.5zM215.7 740.4l1.5-1.5 1.5 1.5-1.5 1.5zM218.0 740.4l1.5-1.5 1.5 1.5-1.5 1.5zM220.1 740.7l1.5-1.5 1.5 1.5-1.5 1.5zM222.0 740.2l1.5-1.5 1.5 1.5-1.5 1.5zM223.8 740.7l1.5-1.5 1.5 1.5-1.5 1.5zM225.4 740.3l1.5-1.5 1.5 1.5-1.5 1.5zM226.9 740.3l1.5-1.5 1.5 1.5-1.5 1.5zM228.3 740.2l1.5-1.5 1.5 1.5-1.5 1.5zM229.7 740.4l1.5-1.5 1.5 1.5-1.5 1.5zM230.9 740.4l1.5-1.5 1.5 1.5-1.5 1.5zM232.1 740.3l1.5-1.5 1.5 1.5-1.5 1.5zM233.3 740.4l1.5-1.5 1.5 1.5-1.5 1.5zM234.3 740.3l1.5-1.5 1.5 1.5-1.5 1.5zM235.4 740.6l1.5-1.5 1.5 1.5-1.5 1.5zM236.3 740.7l1.5-1.5 1.5 1.5-1.5 1.5zM237.3 740.6l1.5-1.5 1.5 1.5-1.5 1.5zM238.2 740.6l1.5-1.5 1.5 1.5-1.5 1.5zM239.0 740.1l1.5-1.5 1.5 1.5-1.5 1.5zM239.9 740.2l1.5-1.5 1.5 1.5-1.5 1.5zM240.7 740.2l1.5-1.5 1.5 1.5-1.5 1.5zM241.4 740.2l1.5-1.5 1.5 1.5-1.5 1.5zM242.2 740.7l1.5-1.5 1.5 1.5-1.5 1.5zM242.9 740.7l1.5-1.5 1.5 1.5-1.5 1.5zM243.6 740.7l1.5-1.5 1.5 1.5-1.5 1.5zM244.3 740.4l1.5-1.5 1.5 1.5-1.5 1.5zM244.9 740.1l1.5-1.5 1.5 1.5-1.5 1.5zM245.6 740.3l1.5-1.5 1.5 1.5-1.5 1.5zM246.2 740.1l1.5-1.5 1.5 1.5-1.5 1.5zM246.8 740.7l1.5-1.5 1.5 1.5-1.5 1.5zM247.4 740.2l1.5-1.5 1.5 1.5-1.5 1.5zM248.0 740.3l1.5-1.5 1.5 1.5-1.5 1.5zM248.5 740.7l1.5-1.5 1.5 1.5-1.5 1.5zM249.1 740.2l1.5-1.5 1.5 1.5-1.5 1.5zM249.6 740.7l1.5-1.5 1.5 1.5-1.5 1.5zM250.1 740.3l1.5-1.5 1.5 1.5-1.5 1.5zM250.6 740.5l1.5-1.5 1.5 1.5-1.5 1.5zM251.1 740.1l1.5-1.5 1.5 1.5-1.5 1.5zM251.6 740.7l1.5-1.5 1.5 1.5-1.5 1.5zM252.1 740.3l1.5-1.5 1.5 1.5-1.5 1.5zM252.5 740.3l1.5-1.5 1.5 1.5-1.5 1.5zM253.0 740.5l1.5-1.5 1.5 1.5-1.5 1.5zM253.4 740.5l1.5-1.5 1.5 1.5-1.5 1.5zM253.9 740.2l1.5-1.5 1.5 1.5-1.5 1.5zM254.3 740.1l1.5-1.5 1.5 1.5-1.5 1.5zM254.7 740.5l1.5-1.5 1.5 1.5-1.5 1.5zM255.1 740.1l1.5-1.5 1.5 1.5-1.5 1.5zM255.5 740.7l1.5-1.5 1.5 1.5-1.5 1.5zM255.9 740.3l1.5-1.5 1.5 1.5-1.5 1.5zM256.3 740.2l1.5-1.5 1.5 1.5-1.5 1.5zM256.7 740.3l1.5-1.5 1.5 1.5-1.5 1.5zM257.1 740.1l1.5-1.5 1.5 1.5-1.5 1.5zM257.5 740.3l1.5-1.5 1.5 1.5-1.5 1.5zM257.8 740.4l1.5-1.5 1.5 1.5-1.5 1.5zM258.2 740.3l1.5-1.5 1.5 1.5-1.5 1.5zM258.5 740.3l1.5-1.5 1.5 1.5-1.5 1.5zM258.9 740.3l1.5-1.5 1.5 1.5-1.5 1.5zM259.2 740.4l1.5-1.5 1.5 1.5-1.5 1.5zM259.6 740.6l1.5-1.5 1.5 1.5-1.5 1.5zM259.9 740.4l1.5-1.5 1.5 1.5-1.5 1.5zM260.2 740.6l1.5-1.5 1.5 1.5-1.5 1.5zM260.5 740.4l1.5-1.5 1.5 1.5-1.5 1.5zM260.8 740.1l1.5-1.5 1.5 1.5-1.5 1.5zM261.2 740.2l1.5-1.5 1.5 1.5-1.5 1.5zM261.5 740.6l1.5-1.5 1.5 1.5-1.5 1.5zM261.8 740.4l1.5-1.5 1.5 1.5-1.5 1.5zM262.1 740.3l1.5-1.5 1.5 1.5-1.5 1.5zM262.4 740.4l1.5-1.5 1.5 1.5-1.5 1.5zM262.7 740.6l1.5-1.5 1.5 1.5-1.5 1.5zM262.9 740.3l1.5-1.5 1.5 1.5-1.5 1.5zM263.2 740.3l1.5-1.5 1.5 1.5-1.5 1.5zM263.5 740.3l1.5-1.5 1.5 1.5-1.5 1.5zM263.8 740.1l1.5-1.5 1.5 1.5-1.5 1.5zM264.1 740.4l1.5-1.5 1.5 1.5-1.5 1.5zM264.3 740.4l1.5-1.5 1.5 1.5-1.5 1.5zM264.6 740.4l1.5-1.5 1.5 1.5-1.5 1.5zM264.9 740.4l1.5-1.5 1.5 1.5-1.5 1.5zM265.1 740.4l1.5-1.5 1.5 1.5-1.5 1.5zM265.4 740.6l1.5-1.5 1.5 1.5-1.5 1.5zM265.6 740.2l1.5-1.5 1.5 1.5-1.5 1.5zM265.9 740.7l1.5-1.5 1.5 1.5-1.5 1.5zM266.1 740.1l1.5-1.5 1.5 1.5-1.5 1.5zM266.4 740.7l1.5-1.5 1.5 1.5-1.5 1.5zM266.6 740.2l1.5-1.5 1.5 1.5-1.5 1.5zM266.9 740.6l1.5-1.5 1.5 1.5-1.5 1.5zM267.1 740.2l1.5-1.5 1.5 1.5-1.5 1.5zM267.3 740.1l1.5-1.5 1.5 1.5-1.5 1.5zM267.6 740.4l1.5-1.5 1.5 1.5-1.5 1.5zM267.8 740.6l1.5-1.5 1.5 1.5-1.5 1.5zM268.0 740.6l1.5-1.5 1.5 1.5-1.5 1.5zM268.3 740.7l1.5-1.5 1.5 1.5-1.5 1.5zM268.5 740.7l1.5-1.5 1.5 1.5-1.5 1.5zM268.7 740.1l1.5-1.5 1.5 1.5-1.5 1.5z" fill="#00ff44"/>
<line x1="67.4" y1="745.5" x2="270.2" y2="745.5" stroke="#00ff00" stroke-width="0.9" stroke-opacity="0.4"/>
<path d="M65.9 745.5l1.5-1.5 1.5 1.5-1.5 1.5zM131.9 745.5l1.5-1.5 1.5 1.5-1.5 1.5zM167.3 745.5l1.5-1.5 1.5 1.5-1.5 1.5zM182.6 745.5l1.5-1.5 1.5 1.5-1.5 1.5zM191.5 745.5l1.5-1.5 1.5 1.5-1.5 1.5zM197.8 745.5l1.5-1.5 1.5 1.5-1.5 1.5zM202.7 745.5l1.5-1.5 1.5 1.5-1.5 1.5zM206.8 745.5l1.5-1.5 1.5 1.5-1.5 1.5zM210.1 745.5l1.5-1.5 1.5 1.5-1.5 1.5zM213.1 745.5l1.5-1.5 1.5 1.5-1.5 1.5zM215.7 745.5l1.5-1.5 1.5 1.5-1.5 1.5zM218.0 745.5l1.5-1.5 1.5 1.5-1.5 1.5zM220.1 745.4l1.5-1.5 1.5 1.5-1.5 1.5zM222.0 745.2l1.5-1.5 1.5 1.5-1.5 1.5zM223.8 745.7l1.5-1.5 1.5 1.5-1.5 1.5zM225.4 745.5l1.5-1.5 1.5 1.5-1.5 1.5zM226.9 745.7l1.5-1.5 1.5 1.5-1.5 1.5zM228.3 745.7l1.5-1.5 1.5 1.5-1.5 1.5zM229.7 745.8l1.5-1.5 1.5 1.5-1.5 1.5zM230.9 745.6l1.5-1.5 1.5 1.5-1.5 1.5zM232.1 745.8l1.5-1.5 1.5 1.5-1.5 1.5zM233.3 745.5l1.5-1.5 1.5 1.5-1.5 1.5zM234.3 745.2l1.5-1.5 1.5 1.5-1.5 1.5zM235.4 745.8l1.5-1.5 1.5 1.5-1.5 1.5zM236.3 745.2l1.5-1.5 1.5 1.5-1.5 1.5zM237.3 745.2l1.5-1.5 1.5 1.5-1.5 1.5zM238.2 745.7l1.5-1.5 1.5 1.5-1.5 1.5zM239.0 745.3l1.5-1.5 1.5 1.5-1.5 1.5zM239.9 745.6l1.5-1.5 1.5 1.5-1.5 1.5zM240.7 745.2l1.5-1.5 1.5 1.5-1.5 1.5zM241.4 745.3l1.5-1.5 1.5 1.5-1.5 1.5zM242.2 745.7l1.5-1.5 1.5 1.5-1.5 1.5zM242.9 745.2l1.5-1.5 1.5 1.5-1.5 1.5zM243.6 745.5l1.5-1.5 1.5 1.5-1.5 1.5zM244.3 745.8l1.5-1.5 1.5 1.5-1.5 1.5zM244.9 745.3l1.5-1.5 1.5 1.5-1.5 1.5zM245.6 745.6l1.5-1.5 1.5 1.5-1.5 1.5zM246.2 745.7l1.5-1.5 1.5 1.5-1.5 1.5zM246.8 745.6l1.5-1.5 1.5 1.5-1.5 1.5zM247.4 745.7l1.5-1.5 1.5 1.5-1.5 1.5zM248.0 745.6l1.5-1.5 1.5 1.5-1.5 1.5zM248.5 745.2l1.5-1.5 1.5 1.5-1.5 1.5zM249.1 745.3l1.5-1.5 1.5 1.5-1.5 1.5zM249.6 745.5l1.5-1.5 1.5 1.5-1.5 1.5zM250.1 745.8l1.5-1.5 1.5 1.5-1.5 1.5zM250.6 745.3l1.5-1.5 1.5 1.5-1.5 1.5zM251.1 745.6l1.5-1.5 1.5 1.5-1.5 1.5zM251.6 745.2l1.5-1.5 1.5 1.5-1.5 1.5zM252.1 745.7l1.5-1.5 1.5 1.5-1.5 1.5zM252.5 745.5l1.5-1.5 1.5 1.5-1.5 1.5zM253.0 745.5l1.5-1.5 1.5 1.5-1.5 1.5zM253.4 745.6l1.5-1.5 1.5 1.5-1.5 1.5zM253.9 745.2l1.5-1.5 1.5 1.5-1.5 1.5zM254.3 745.7l1.5-1.5 1.5 1.5-1.5 1.5zM254.7 745.7l1.5-1.5 1.5 1.5-1.5 1.5zM255.1 745.8l1.5-1.5 1.5 1.5-1.5 1.5zM255.5 745.3l1.5-1.5 1.5 1.5-1.5 1.5zM255.9 745.3l1.5-1.5 1.5 1.5-1.5 1.5zM256.3 745.3l1.5-1.5 1.5 1.5-1.5 1.5zM256.7 745.8l1.5-1.5 1.5 1.5-1.5 1.5zM257.1 745.5l1.5-1.5 1.5 1.5-1.5 1.5zM257.5 745.4l1.5-1.5 1.5 1.5-1.5 1.5zM257.8 745.5l1.5-1.5 1.5 1.5-1.5 1.5zM258.2 745.6l1.5-1.5 1.5 1.5-1.5 1.5zM258.5 745.4l1.5-1.5 1.5 1.5-1.5 1.5zM258.9 745.4l1.5-1.5 1.5 1.5-1.5 1.5zM259.2 745.7l1.5-1.5 1.5 1.5-1.5 1.5zM259.6 745.7l1.5-1.5 1.5 1.5-1.5 1.5zM259.9 745.4l1.5-1.5 1.5 1.5-1.5 1.5zM260.2 745.2l1.5-1.5 1.5 1.5-1.5 1.5zM260.5 745.8l1.5-1.5 1.5 1.5-1.5 1.5zM260.8 745.7l1.5-1.5 1.5 1.5-1.5 1.5zM261.2 745.6l1.5-1.5 1.5 1.5-1.5 1.5zM261.5 745.4l1.5-1.5 1.5 1.5-1.5 1.5zM261.8 745.8l1.5-1.5 1.5 1.5-1.5 1.5zM262.1 745.5l1.5-1.5 1.5 1.5-1.5 1.5zM262.4 745.3l1.5-1.5 1.5 1.5-1.5 1.5zM262.7 745.2l1.5-1.5 1.5 1.5-1.5 1.5zM262.9 745.4l1.5-1.5 1.5 1.5-1.5 1.5zM263.2 745.6l1.5-1.5 1.5 1.5-1.5 1.5zM263.5 745.4l1.5-1.5 1.5 1.5-1.5 1.5zM263.8 745.8l1.5-1.5 1.5 1.5-1.5 1.5zM264.1 745.6l1.5-1.5 1.5 1.5-1.5 1.5zM264.3 745.5l1.5-1.5 1.5 1.5-1.5 1.5zM264.6 745.6l1.5-1.5 1.5 1.5-1.5 1.5zM264.9 745.6l1.5-1.5 1.5 1.5-1.5 1.5zM265.1 745.6l1.5-1.5 1.5 1.5-1.5 1.5zM265.4 745.5l1.5-1.5 1.5 1.5-1.5 1.5zM265.6 745.5l1.5-1.5 1.5 1.5-1.5 1.5zM265.9 745.5l1.5-1.5 1.5 1.5-1.5 1.5zM266.1 745.7l1.5-1.5 1.5 1.5-1.5 1.5zM266.4 745.3l1.5-1.5 1.5 1.5-1.5 1.5zM266.6 745.7l1.5-1.5 1.5 1.5-1.5 1.5zM266.9 745.4l1.5-1.5 1.5 1.5-1.5 1.5zM267.1 745.7l1.5-1.5 1.5 1.5-1.5 1.5zM267.3 745.2l1.5-1.5 1.5 1.5-1.5 1.5zM267.6 745.5l1.5-1.5 1.5 1.5-1.5 1.5zM267.8 745.5l1.5-1.5 1.5 1.5-1.5 1.5zM268.0 745.6l1.5-1.5 1.5 1.5-1.5 1.5zM268.3 745.3l1.5-1.5 1.5 1.5-1.5 1.5zM268.5 745.3l1.5-1.5 1.5 1.5-1.5 1.5zM268.7 745.2l1.5-1.5 1.5 1.5-1.5 1.5z" fill="#00ff00"/>
<line x1="67.4" y1="750.4" x2="270.2" y2="750.3" stroke="#66ff00" stroke-width="0.9" stroke-opacity="0.4"/>
<path d="M65.9 750.4l1.5-1.5 1.5 1.5-1.5 1.5zM131.9 750.4l1.5-1.5 1.5 1.5-1.5 1.5zM167.3 750.3l1.5-1.5 1.5 1.5-1.5 1.5zM182.6 750.3l1.5-1.5 1.5 1.5-1.5 1.5zM191.5 750.3l1.5-1.5 1.5 1.5-1.5 1.5zM197.8 750.3l1.5-1.5 1.5 1.5-1.5 1.5zM202.7 750.3l1.5-1.5 1.5 1.5-1.5 1.5zM206.8 750.3l1.5-1.5 1.5 1.5-1.5 1.5zM210.1 750.3l1.5-1.5 1.5 1.5-1.5 1.5zM213.1 750.3l1.5-1.5 1.5 1.5-1.5 1.5zM215.7 750.3l1.5-1.5 1.5 1.5-1.5 1.5zM218.0 750.3l1.5-1.5 1.5 1.5-1.5 1.5zM220.1 750.4l1.5-1.5 1.5 1.5-1.5 1.5zM222.0 750.4l1.5-1.5 1.5 1.5-1.5 1.5zM223.8 750.0l1.5-1.5 1.5 1.5-1.5 1.5zM225.4 750.1l1.5-1.5 1.5 1.5-1.5 1.5zM226.9 750.1l1.5-1.5 1.5 1.5-1.5 1.5zM228.3 750.6l1.5-1.5 1.5 1.5-1.5 1.5zM229.7 750.3l1.5-1.5 1.5 1.5-1.5 1.5zM230.9 750.4l1.5-1.5 1.5 1.5-1.5 1.5zM232.1 750.2l1.5-1.5 1.5 1.5-1.5 1.5zM233.3 750.4l1.5-1.5 1.5 1.5-1.5 1.5zM234.3 750.5l1.5-1.5 1.5 1.5-1.5 1.5zM235.4 750.4l1.5-1.5 1.5 1.5-1.5 1.5zM236.3 750.0l1.5-1.5 1.5 1.5-1.5 1.5zM237.3 750.3l1.5-1.5 1.5 1.5-1.5 1.5zM238.2 750.3l1.5-1.5 1.5 1.5-1.5 1.5zM239.0 750.0l1.5-1.5 1.5 1.5-1.5 1.5zM239.9 750.5l1.5-1.5 1.5 1.5-1.5 1.5zM240.7 750.2l1.5-1.5 1.5 1.5-1.5 1.5zM241.4 750.2l1.5-1.5 1.5 1.5-1.5 1.5zM242.2 750.4l1.5-1.5 1.5 1.5-1.5 1.5zM242.9 750.4l1.5-1.5 1.5 1.5-1.5 1.5zM243.6 750.3l1.5-1.5 1.5 1.5-1.5 1.5zM244.3 750.6l1.5-1.5 1.5 1.5-1.5 1.5zM244.9 750.3l1.5-1.5 1.5 1.5-1.5 1.5zM245.6 750.2l1.5-1.5 1.5 1.5-1.5 1.5zM246.2 750.0l1.5-1.5 1.5 1.5-1.5 1.5zM246.8 750.3l1.5-1.5 1.5 1.5-1.5 1.5zM247.4 750.2l1.5-1.5 1.5 1.5-1.5 1.5zM248.0 750.3l1.5-1.5 1.5 1.5-1.5 1.5zM248.5 750.2l1.5-1.5 1.5 1.5-1.5 1.5zM249.1 750.0l1.5-1.5 1.5 1.5-1.5 1.5zM249.6 750.0l1.5-1.5 1.5 1.5-1.5 1.5zM250.1 750.1l1.5-1.5 1.5 1.5-1.5 1.5zM250.6 750.0l1.5-1.5 1.5 1.5-1.5 1.5zM251.1 750.6l1.5-1.5 1.5 1.5-1.5 1.5zM251.6 750.4l1.5-1.5 1.5 1.5-1.5 1.5zM252.1 750.1l1.5-1.5 1.5 1.5-1.5 1.5zM252.5 750.5l1.5-1.5 1.5 1.5-1.5 1.5zM253.0 750.4l1.5-1.5 1.5 1.5-1.5 1.5zM253.4 750.0l1.5-1.5 1.5 1.5-1.5 1.5zM253.9 750.5l1.5-1.5 1.5 1.5-1.5 1.5zM254.3 750.1l1.5-1.5 1.5 1.5-1.5 1.5zM254.7 750.7l1.5-1.5 1.5 1.5-1.5 1.5zM255.1 750.1l1.5-1.5 1.5 1.5-1.5 1.5zM255.5 750.2l1.5-1.5 1.5 1.5-1.5 1.5zM255.9 750.1l1.5-1.5 1.5 1.5-1.5 1.5zM256.3 750.6l1.5-1.5 1.5 1.5-1.5 1.5zM256.7 750.5l1.5-1.5 1.5 1.5-1.5 1.5zM257.1 750.4l1.5-1.5 1.5 1.5-1.5 1.5zM257.5 750.1l1.5-1.5 1.5 1.5-1.5 1.5zM257.8 750.3l1.5-1.5 1.5 1.5-1.5 1.5zM258.2 750.4l1.5-1.5 1.5 1.5-1.5 1.5zM258.5 750.0l1.5-1.5 1.5 1.5-1.5 1.5zM258.9 750.6l1.5-1.5 1.5 1.5-1.5 1.5zM259.2 750.5l1.5-1.5 1.5 1.5-1.5 1.5zM259.6 750.6l1.5-1.5 1.5 1.5-1.5 1.5zM259.9 750.4l1.5-1.5 1.5 1.5-1.5 1.5zM260.2 750.4l1.5-1.5 1.5 1.5-1.5 1.5zM260.5 750.6l1.5-1.5 1.5 1.5-1.5 1.5zM260.8 750.1l1.5-1.5 1.5 1.5-1.5 1.5zM261.2 750.2l1.5-1.5 1.5 1.5-1.5 1.5zM261.5 750.0l1.5-1.5 1.5 1.5-1.5 1.5zM261.8 750.1l1.5-1.5 1.5 1.5-1.5 1.5zM262.1 750.5l1.5-1.5 1.5 1.5-1.5 1.5zM262.4 750.0l1.5-1.5 1.5 1.5-1.5 1.5zM262.7 750.5l1.5-1.5 1.5 1.5-1.5 1.5zM262.9 750.2l1.5-1.5 1.5 1.5-1.5 1.5zM263.2 750.6l1.5-1.5 1.5 1.5-1.5 1.5zM263.5 750.5l1.5-1.5 1.5 1.5-1.5 1.5zM263.8 750.4l1.5-1.5 1.5 1.5-1.5 1.5zM264.1 750.5l1.5-1.5 1.5 1.5-1.5 1.5zM264.3 750.0l1.5-1.5 1.5 1.5-1.5 1.5zM264.6 750.1l1.5-1.5 1.5 1.5-1.5 1.5zM264.9 750.2l1.5-1.5 1.5 1.5-1.5 1.5zM265.1 750.3l1.5-1.5 1.5 1.5-1.5 1.5zM265.4 750.4l1.5-1.5 1.5 1.5-1.5 1.5zM265.6 750.6l1.5-1.5 1.5 1.5-1.5 1.5zM265.9 750.5l1.5-1.5 1.5 1.5-1.5 1.5zM266.1 750.6l1.5-1.5 1.5 1.5-1.5 1.5zM266.4 750.4l1.5-1.5 1.5 1.5-1.5 1.5zM266.6 750.2l1.5-1.5 1.5 1.5-1.5 1.5zM266.9 750.3l1.5-1.5 1.5 1.5-1.5 1.5zM267.1 750.5l1.5-1.5 1.5 1.5-1.5 1.5zM267.3 750.5l1.5-1.5 1.5 1.5-1.5 1.5zM267.6 750.2l1.5-1.5 1.5 1.5-1.5 1.5zM267.8 750.2l1.5-1.5 1.5 1.5-1.5 1.5zM268.0 750.4l1.5-1.5 1.5 1.5-1.5 1.5zM268.3 750.1l1.5-1.5 1.5 1.5-1.5 1.5zM268.5 750.6l1.5-1.5 1.5 1.5-1.5 1.5zM268.7 750.0l1.5-1.5 1.5 1.5-1.5 1.5z" fill="#66ff00"/>
<line x1="67.4" y1="754.4" x2="270.2" y2="755.0" stroke="#9dff00" stroke-width="0.9" stroke-opacity="0.4"/>
<path d="M65.9 754.4l1.5-1.5 1.5 1.5-1.5 1.5zM131.9 754.6l1.5-1.5 1.5 1.5-1.5 1.5zM167.3 754.7l1.5-1.5 1.5 1.5-1.5 1.5zM182.6 754.7l1.5-1.5 1.5 1.5-1.5 1.5zM191.5 754.8l1.5-1.5 1.5 1.5-1.5 1.5zM197.8 754.8l1.5-1.5 1.5 1.5-1.5 1.5zM202.7 754.8l1.5-1.5 1.5 1.5-1.5 1.5zM206.8 754.8l1.5-1.5 1.5 1.5-1.5 1.5zM210.1 754.8l1.5-1.5 1.5 1.5-1.5 1.5zM213.1 754.8l1.5-1.5 1.5 1.5-1.5 1.5zM215.7 754.8l1.5-1.5 1.5 1.5-1.5 1.5zM218.0 754.9l1.5-1.5 1.5 1.5-1.5 1.5zM220.1 755.0l1.5-1.5 1.5 1.5-1.5 1.5zM222.0 754.9l1.5-1.5 1.5 1.5-1.5 1.5zM223.8 754.7l1.5-1.5 1.5 1.5-1.5 1.5zM225.4 754.9l1.5-1.5 1.5 1.5-1.5 1.5zM226.9 754.9l1.5-1.5 1.5 1.5-1.5 1.5zM228.3 755.2l1.5-1.5 1.5 1.5-1.5 1.5zM229.7 755.2l1.5-1.5 1.5 1.5-1.5 1.5zM230.9 754.9l1.5-1.5 1.5 1.5-1.5 1.5zM232.1 755.2l1.5-1.5 1.5 1.5-1.5 1.5zM233.3 755.2l1.5-1.5 1.5 1.5-1.5 1.5zM234.3 754.7l1.5-1.5 1.5 1.5-1.5 1.5zM235.4 755.1l1.5-1.5 1.5 1.5-1.5 1.5zM236.3 755.1l1.5-1.5 1.5 1.5-1.5 1.5zM237.3 755.3l1.5-1.5 1.5 1.5-1.5 1.5zM238.2 755.1l1.5-1.5 1.5 1.5-1.5 1.5zM239.0 754.8l1.5-1.5 1.5 1.5-1.5 1.5zM239.9 754.7l1.5-1.5 1.5 1.5-1.5 1.5zM240.7 755.0l1.5-1.5 1.5 1.5-1.5 1.5zM241.4 754.7l1.5-1.5 1.5 1.5-1.5 1.5zM242.2 755.1l1.5-1.5 1.5 1.5-1.5 1.5zM242.9 755.0l1.5-1.5 1.5 1.5-1.5 1.5zM243.6 755.2l1.5-1.5 1.5 1.5-1.5 1.5zM244.3 754.8l1.5-1.5 1.5 1.5-1.5 1.5zM244.9 754.8l1.5-1.5 1.5 1.5-1.5 1.5zM245.6 755.2l1.5-1.5 1.5 1.5-1.5 1.5zM246.2 755.0l1.5-1.5 1.5 1.5-1.5 1.5zM246.8 754.8l1.5-1.5 1.5 1.5-1.5 1.5zM247.4 755.0l1.5-1.5 1.5 1.5-1.5 1.5zM248.0 754.9l1.5-1.5 1.5 1.5-1.5 1.5zM248.5 755.0l1.5-1.5 1.5 1.5-1.5 1.5zM249.1 755.0l1.5-1.5 1.5 1.5-1.5 1.5zM249.6 754.8l1.5-1.5 1.5 1.5-1.5 1.5zM250.1 755.3l1.5-1.5 1.5 1.5-1.5 1.5zM250.6 755.2l1.5-1.5 1.5 1.5-1.5 1.5zM251.1 755.1l1.5-1.5 1.5 1.5-1.5 1.5zM251.6 754.8l1.5-1.5 1.5 1.5-1.5 1.5zM252.1 754.7l1.5-1.5 1.5 1.5-1.5 1.5zM252.5 755.1l1.5-1.5 1.5 1.5-1.5 1.5zM253.0 755.2l1.5-1.5 1.5 1.5-1.5 1.5zM253.4 755.1l1.5-1.5 1.5 1.5-1.5 1.5zM253.9 754.8l1.5-1.5 1.5 1.5-1.5 1.5zM254.3 755.1l1.5-1.5 1.5 1.5-1.5 1.5zM254.7 755.0l1.5-1.5 1.5 1.5-1.5 1.5zM255.1 754.9l1.5-1.5 1.5 1.5-1.5 1.5zM255.5 755.0l1.5-1.5 1.5 1.5-1.5 1.5zM255.9 754.9l1.5-1.5 1.5 1.5-1.5 1.5zM256.3 755.1l1.5-1.5 1.5 1.5-1.5 1.5zM256.7 755.1l1.5-1.5 1.5 1.5-1.5 1.5zM257.1 755.3l1.5-1.5 1.5 1.5-1.5 1.5zM257.5 754.7l1.5-1.5 1.5 1.5-1.5 1.5zM257.8 755.0l1.5-1.5 1.5 1.5-1.5 1.5zM258.2 755.3l1.5-1.5 1.5 1.5-1.5 1.5zM258.5 755.1l1.5-1.5 1.5 1.5-1.5 1.5zM258.9 755.0l1.5-1.5 1.5 1.5-1.5 1.5zM259.2 755.2l1.5-1.5 1.5 1.5-1.5 1.5zM259.6 754.6l1.5-1.5 1.5 1.5-1.5 1.5zM259.9 755.2l1.5-1.5 1.5 1.5-1.5 1.5zM260.2 755.1l1.5-1.5 1.5 1.5-1.5 1.5zM260.5 755.0l1.5-1.5 1.5 1.5-1.5 1.5zM260.8 754.8l1.5-1.5 1.5 1.5-1.5 1.5zM261.2 755.1l1.5-1.5 1.5 1.5-1.5 1.5zM261.5 754.7l1.5-1.5 1.5 1.5-1.5 1.5zM261.8 755.0l1.5-1.5 1.5 1.5-1.5 1.5zM262.1 754.8l1.5-1.5 1.5 1.5-1.5 1.5zM262.4 755.3l1.5-1.5 1.5 1.5-1.5 1.5zM262.7 755.2l1.5-1.5 1.5 1.5-1.5 1.5zM262.9 755.0l1.5-1.5 1.5 1.5-1.5 1.5zM263.2 755.2l1.5-1.5 1.5 1.5-1.5 1.5zM263.5 754.9l1.5-1.5 1.5 1.5-1.5 1.5zM263.8 755.0l1.5-1.5 1.5 1.5-1.5 1.5zM264.1 754.7l1.5-1.5 1.5 1.5-1.5 1.5zM264.3 755.2l1.5-1.5 1.5 1.5-1.5 1.5zM264.6 755.2l1.5-1.5 1.5 1.5-1.5 1.5zM264.9 755.2l1.5-1.5 1.5 1.5-1.5 1.5zM265.1 754.7l1.5-1.5 1.5 1.5-1.5 1.5zM265.4 755.2l1.5-1.5 1.5 1.5-1.5 1.5zM265.6 754.6l1.5-1.5 1.5 1.5-1.5 1.5zM265.9 755.0l1.5-1.5 1.5 1.5-1.5 1.5zM266.1 755.0l1.5-1.5 1.5 1.5-1.5 1.5zM266.4 754.7l1.5-1.5 1.5 1.5-1.5 1.5zM266.6 754.9l1.5-1.5 1.5 1.5-1.5 1.5zM266.9 755.3l1.5-1.5 1.5 1.5-1.5 1.5zM267.1 755.1l1.5-1.5 1.5 1.5-1.5 1.5zM267.3 754.9l1.5-1.5 1.5 1.5-1.5 1.5zM267.6 755.2l1.5-1.5 1.5 1.5-1.5 1.5zM267.8 754.9l1.5-1.5 1.5 1.5-1.5 1.5zM268.0 755.3l1.5-1.5 1.5 1.5-1.5 1.5zM268.3 754.9l1.5-1.5 1.5 1.5-1.5 1.5zM268.5 754.7l1.5-1.5 1.5 1.5-1.5 1.5zM268.7 755.3l1.5-1.5 1.5 1.5-1.5 1.5z" fill="#9dff00"/>
<line x1="67.4" y1="759.2" x2="270.2" y2="759.2" stroke="#d4ff00" stroke-width="0.9" stroke-opacity="0.4"/>
<path d="M65.9 759.2l1.5-1.5 1.5 1.5-1.5 1.5zM131.9 759.2l1.5-1.5 1.5 1.5-1.5 1.5zM167.3 759.2l1.5-1.5 1.5 1.5-1.5 1.5zM182.6 759.2l1.5-1.5 1.5 1.5-1.5 1.5zM191.5 759.2l1.5-1.5 1.5 1.5-1.5 1.5zM197.8 759.2l1.5-1.5 1.5 1.5-1.5 1.5zM202.7 759.2l1.5-1.5 1.5 1.5-1.5 1.5zM206.8 759.2l1.5-1.5 1.5 1.5-1.5 1.5zM210.1 759.2l1.5-1.5 1.5 1.5-1.5 1.5zM213.1 759.2l1.5-1.5 1.5 1.5-1.5 1.5zM215.7 759.2l1.5-1.5 1.5 1.5-1.5 1.5zM218.0 759.2l1.5-1.5 1.5 1.5-1.5 1.5zM220.1 758.9l1.5-1.5 1.5 1.5-1.5 1.5zM222.0 759.0l1.5-1.5 1.5 1.5-1.5 1.5zM223.8 759.4l1.5-1.5 1.5 1.5-1.5 1.5zM225.4 758.9l1.5-1.5 1.5 1.5-1.5 1.5zM226.9 759.2l1.5-1.5 1.5 1.5-1.5 1.5zM228.3 759.5l1.5-1.5 1.5 1.5-1.5 1.5zM229.7 759.3l1.5-1.5 1.5 1.5-1.5 1.5zM230.9 759.1l1.5-1.5 1.5 1.5-1.5 1.5zM232.1 759.4l1.5-1.5 1.5 1.5-1.5 1.5zM233.3 759.4l1.5-1.5 1.5 1.5-1.5 1.5zM234.3 759.3l1.5-1.5 1.5 1.5-1.5 1.5zM235.4 759.3l1.5-1.5 1.5 1.5-1.5 1.5zM236.3 759.1l1.5-1.5 1.5 1.5-1.5 1.5zM237.3 759.1l1.5-1.5 1.5 1.5-1.5 1.5zM238.2 759.5l1.5-1.5 1.5 1.5-1.5 1.5zM239.0 759.5l1.5-1.5 1.5 1.5-1.5 1.5zM239.9 758.9l1.5-1.5 1.5 1.5-1.5 1.5zM240.7 759.0l1.5-1.5 1.5 1.5-1.5 1.5zM241.4 759.0l1.5-1.5 1.5 1.5-1.5 1.5zM242.2 759.4l1.5-1.5 1.5 1.5-1.5 1.5zM242.9 759.0l1.5-1.5 1.5 1.5-1.5 1.5zM243.6 759.0l1.5-1.5 1.5 1.5-1.5 1.5zM244.3 759.4l1.5-1.5 1.5 1.5-1.5 1.5zM244.9 759.0l1.5-1.5 1.5 1.5-1.5 1.5zM245.6 759.5l1.5-1.5 1.5 1.5-1.5 1.5zM246.2 759.2l1.5-1.5 1.5 1.5-1.5 1.5zM246.8 759.5l1.5-1.5 1.5 1.5-1.5 1.5zM247.4 759.4l1.5-1.5 1.5 1.5-1.5 1.5zM248.0 759.0l1.5-1.5 1.5 1.5-1.5 1.5zM248.5 759.4l1.5-1.5 1.5 1.5-1.5 1.5zM249.1 759.1l1.5-1.5 1.5 1.5-1.5 1.5zM249.6 759.0l1.5-1.5 1.5 1.5-1.5 1.5zM250.1 758.9l1.5-1.5 1.5 1.5-1.5 1.5zM250.6 759.3l1.5-1.5 1.5 1.5-1.5 1.5zM251.1 759.2l1.5-1.5 1.5 1.5-1.5 1.5zM251.6 759.1l1.5-1.5 1.5 1.5-1.5 1.5zM252.1 759.4l1.5-1.5 1.5 1.5-1.5 1.5zM252.5 759.0l1.5-1.5 1.5 1.5-1.5 1.5zM253.0 759.2l1.5-1.5 1.5 1.5-1.5 1.5zM253.4 758.9l1.5-1.5 1.5 1.5-1.5 1.5zM253.9 759.1l1.5-1.5 1.5 1.5-1.5 1.5zM254.3 759.5l1.5-1.5 1.5 1.5-1.5 1.5zM254.7 759.2l1.5-1.5 1.5 1.5-1.5 1.5zM255.1 759.0l1.5-1.5 1.5 1.5-1.5 1.5zM255.5 759.0l1.5-1.5 1.5 1.5-1.5 1.5zM255.9 759.3l1.5-1.5 1.5 1.5-1.5 1.5zM256.3 759.0l1.5-1.5 1.5 1.5-1.5 1.5zM256.7 759.5l1.5-1.5 1.5 1.5-1.5 1.5zM257.1 758.9l1.5-1.5 1.5 1.5-1.5 1.5zM257.5 759.5l1.5-1.5 1.5 1.5-1.5 1.5zM257.8 759.3l1.5-1.5 1.5 1.5-1.5 1.5zM258.2 759.4l1.5-1.5 1.5 1.5-1.5 1.5zM258.5 759.1l1.5-1.5 1.5 1.5-1.5 1.5zM258.9 758.9l1.5-1.5 1.5 1.5-1.5 1.5zM259.2 759.0l1.5-1.5 1.5 1.5-1.5 1.5zM259.6 759.3l1.5-1.5 1.5 1.5-1.5 1.5zM259.9 758.9l1.5-1.5 1.5 1.5-1.5 1.5zM260.2 758.9l1.5-1.5 1.5 1.5-1.5 1.5zM260.5 759.4l1.5-1.5 1.5 1.5-1.5 1.5zM260.8 759.5l1.5-1.5 1.5 1.5-1.5 1.5zM261.2 759.4l1.5-1.5 1.5 1.5-1.5 1.5zM261.5 759.4l1.5-1.5 1.5 1.5-1.5 1.5zM261.8 759.2l1.5-1.5 1.5 1.5-1.5 1.5zM262.1 759.5l1.5-1.5 1.5 1.5-1.5 1.5zM262.4 759.3l1.5-1.5 1.5 1.5-1.5 1.5zM262.7 759.2l1.5-1.5 1.5 1.5-1.5 1.5zM262.9 759.1l1.5-1.5 1.5 1.5-1.5 1.5zM263.2 758.9l1.5-1.5 1.5 1.5-1.5 1.5zM263.5 758.9l1.5-1.5 1.5 1.5-1.5 1.5zM263.8 759.0l1.5-1.5 1.5 1.5-1.5 1.5zM264.1 759.2l1.5-1.5 1.5 1.5-1.5 1.5zM264.3 758.9l1.5-1.5 1.5 1.5-1.5 1.5zM264.6 759.5l1.5-1.5 1.5 1.5-1.5 1.5zM264.9 759.3l1.5-1.5 1.5 1.5-1.5 1.5zM265.1 759.4l1.5-1.5 1.5 1.5-1.5 1.5zM265.4 759.5l1.5-1.5 1.5 1.5-1.5 1.5zM265.6 759.0l1.5-1.5 1.5 1.5-1.5 1.5zM265.9 759.5l1.5-1.5 1.5 1.5-1.5 1.5zM266.1 759.5l1.5-1.5 1.5 1.5-1.5 1.5zM266.4 759.0l1.5-1.5 1.5 1.5-1.5 1.5zM266.6 758.9l1.5-1.5 1.5 1.5-1.5 1.5zM266.9 759.4l1.5-1.5 1.5 1.5-1.5 1.5zM267.1 759.5l1.5-1.5 1.5 1.5-1.5 1.5zM267.3 759.4l1.5-1.5 1.5 1.5-1.5 1.5zM267.6 759.1l1.5-1.5 1.5 1.5-1.5 1.5zM267.8 759.3l1.5-1.5 1.5 1.5-1.5 1.5zM268.0 758.9l1.5-1.5 1.5 1.5-1.5 1.5zM268.3 759.0l1.5-1.5 1.5 1.5-1.5 1.5zM268.5 759.1l1.5-1.5 1.5 1.5-1.5 1.5zM268.7 759.4l1.5-1.5 1.5 1.5-1.5 1.5z" fill="#d4ff00"/>
<line x1="67.4" y1="764.0" x2="270.2" y2="763.6" stroke="#ffff00" stroke-width="0.9" stroke-opacity="0.4"/>
<path d="M65.9 764.0l1.5-1.5 1.5 1.5-1.5 1.5zM131.9 763.9l1.5-1.5 1.5 1.5-1.5 1.5zM167.3 763.8l1.5-1.5 1.5 1.5-1.5 1.5zM182.6 763.8l1.5-1.5 1.5 1.5-1.5 1.5zM191.5 763.8l1.5-1.5 1.5 1.5-1.5 1.5zM197.8 763.7l1.5-1.5 1.5 1.5-1.5 1.5zM202.7 763.7l1.5-1.5 1.5 1.5-1.5 1.5zM206.8 763.7l1.5-1.5 1.5 1.5-1.5 1.5zM210.1 763.7l1.5-1.5 1.5 1.5-1.5 1.5zM213.1 763.7l1.5-1.5 1.5 1.5-1.5 1.5zM215.7 763.7l1.5-1.5 1.5 1.5-1.5 1.5zM218.0 763.7l1.5-1.5 1.5 1.5-1.5 1.5zM220.1 763.4l1.5-1.5 1.5 1.5-1.5 1.5zM222.0 764.0l1.5-1.5 1.5 1.5-1.5 1.5zM223.8 763.4l1.5-1.5 1.5 1.5-1.5 1.5zM225.4 764.0l1.5-1.5 1.5 1.5-1.5 1.5zM226.9 763.5l1.5-1.5 1.5 1.5-1.5 1.5zM228.3 763.9l1.5-1.5 1.5 1.5-1.5 1.5zM229.7 763.9l1.5-1.5 1.5 1.5-1.5 1.5zM230.9 764.0l1.5-1.5 1.5 1.5-1.5 1.5zM232.1 763.7l1.5-1.5 1.5 1.5-1.5 1.5zM233.3 763.8l1.5-1.5 1.5 1.5-1.5 1.5zM234.3 763.5l1.5-1.5 1.5 1.5-1.5 1.5zM235.4 763.9l1.5-1.5 1.5 1.5-1.5 1.5zM236.3 763.4l1.5-1.5 1.5 1.5-1.5 1.5zM237.3 763.9l1.5-1.5 1.5 1.5-1.5 1.5zM238.2 763.7l1.5-1.5 1.5 1.5-1.5 1.5zM239.0 763.4l1.5-1.5 1.5 1.5-1.5 1.5zM239.9 764.0l1.5-1.5 1.5 1.5-1.5 1.5zM240.7 763.5l1.5-1.5 1.5 1.5-1.5 1.5zM241.4 763.4l1.5-1.5 1.5 1.5-1.5 1.5zM242.2 763.5l1.5-1.5 1.5 1.5-1.5 1.5zM242.9 763.3l1.5-1.5 1.5 1.5-1.5 1.5zM243.6 763.5l1.5-1.5 1.5 1.5-1.5 1.5zM244.3 763.8l1.5-1.5 1.5 1.5-1.5 1.5zM244.9 764.0l1.5-1.5 1.5 1.5-1.5 1.5zM245.6 763.7l1.5-1.5 1.5 1.5-1.5 1.5zM246.2 763.9l1.5-1.5 1.5 1.5-1.5 1.5zM246.8 763.9l1.5-1.5 1.5 1.5-1.5 1.5zM247.4 763.8l1.5-1.5 1.5 1.5-1.5 1.5zM248.0 763.6l1.5-1.5 1.5 1.5-1.5 1.5zM248.5 763.5l1.5-1.5 1.5 1.5-1.5 1.5zM249.1 763.4l1.5-1.5 1.5 1.5-1.5 1.5zM249.6 763.7l1.5-1.5 1.5 1.5-1.5 1.5zM250.1 763.4l1.5-1.5 1.5 1.5-1.5 1.5zM250.6 763.8l1.5-1.5 1.5 1.5-1.5 1.5zM251.1 763.5l1.5-1.5 1.5 1.5-1.5 1.5zM251.6 763.7l1.5-1.5 1.5 1.5-1.5 1.5zM252.1 763.7l1.5-1.5 1.5 1.5-1.5 1.5zM252.5 763.7l1.5-1.5 1.5 1.5-1.5 1.5zM253.0 763.4l1.5-1.5 1.5 1.5-1.5 1.5zM253.4 763.5l1.5-1.5 1.5 1.5-1.5 1.5zM253.9 763.8l1.5-1.5 1.5 1.5-1.5 1.5zM254.3 763.4l1.5-1.5 1.5 1.5-1.5 1.5zM254.7 763.7l1.5-1.5 1.5 1.5-1.5 1.5zM255.1 764.0l1.5-1.5 1.5 1.5-1.5 1.5zM255.5 763.5l1.5-1.5 1.5 1.5-1.5 1.5zM255.9 763.9l1.5-1.5 1.5 1.5-1.5 1.5zM256.3 763.7l1.5-1.5 1.5 1.5-1.5 1.5zM256.7 763.9l1.5-1.5 1.5 1.5-1.5 1.5zM257.1 763.6l1.5-1.5 1.5 1.5-1.5 1.5zM257.5 763.8l1.5-1.5 1.5 1.5-1.5 1.5zM257.8 763.7l1.5-1.5 1.5 1.5-1.5 1.5zM258.2 763.4l1.5-1.5 1.5 1.5-1.5 1.5zM258.5 763.6l1.5-1.5 1.5 1.5-1.5 1.5zM258.9 763.7l1.5-1.5 1.5 1.5-1.5 1.5zM259.2 763.6l1.5-1.5 1.5 1.5-1.5 1.5zM259.6 763.7l1.5-1.5 1.5 1.5-1.5 1.5zM259.9 763.9l1.5-1.5 1.5 1.5-1.5 1.5zM260.2 763.8l1.5-1.5 1.5 1.5-1.5 1.5zM260.5 763.8l1.5-1.5 1.5 1.5-1.5 1.5zM260.8 763.4l1.5-1.5 1.5 1.5-1.5 1.5zM261.2 763.8l1.5-1.5 1.5 1.5-1.5 1.5zM261.5 763.7l1.5-1.5 1.5 1.5-1.5 1.5zM261.8 763.9l1.5-1.5 1.5 1.5-1.5 1.5zM262.1 763.3l1.5-1.5 1.5 1.5-1.5 1.5zM262.4 763.4l1.5-1.5 1.5 1.5-1.5 1.5zM262.7 763.9l1.5-1.5 1.5 1.5-1.5 1.5zM262.9 763.5l1.5-1.5 1.5 1.5-1.5 1.5zM263.2 763.8l1.5-1.5 1.5 1.5-1.5 1.5zM263.5 763.7l1.5-1.5 1.5 1.5-1.5 1.5zM263.8 763.5l1.5-1.5 1.5 1.5-1.5 1.5zM264.1 763.6l1.5-1.5 1.5 1.5-1.5 1.5zM264.3 763.7l1.5-1.5 1.5 1.5-1.5 1.5zM264.6 763.9l1.5-1.5 1.5 1.5-1.5 1.5zM264.9 763.6l1.5-1.5 1.5 1.5-1.5 1.5zM265.1 763.8l1.5-1.5 1.5 1.5-1.5 1.5zM265.4 763.5l1.5-1.5 1.5 1.5-1.5 1.5zM265.6 763.8l1.5-1.5 1.5 1.5-1.5 1.5zM265.9 763.7l1.5-1.5 1.5 1.5-1.5 1.5zM266.1 763.8l1.5-1.5 1.5 1.5-1.5 1.5zM266.4 763.9l1.5-1.5 1.5 1.5-1.5 1.5zM266.6 763.3l1.5-1.5 1.5 1.5-1.5 1.5zM266.9 763.9l1.5-1.5 1.5 1.5-1.5 1.5zM267.1 763.7l1.5-1.5 1.5 1.5-1.5 1.5zM267.3 763.4l1.5-1.5 1.5 1.5-1.5 1.5zM267.6 763.6l1.5-1.5 1.5 1.5-1.5 1.5zM267.8 763.3l1.5-1.5 1.5 1.5-1.5 1.5zM268.0 763.4l1.5-1.5 1.5 1.5-1.5 1.5zM268.3 763.8l1.5-1.5 1.5 1.5-1.5 1.5zM268.5 763.7l1.5-1.5 1.5 1.5-1.5 1.5zM268.7 763.9l1.5-1.5 1.5 1.5-1.5 1.5z" fill="#ffff00"/>
<line x1="67.4" y1="768.0" x2="270.2" y2="767.7" stroke="#ffc800" stroke-width="0.9" stroke-opacity="0.4"/>
<path d="M65.9 768.0l1.5-1.5 1.5 1.5-1.5 1.5zM131.9 767.9l1.5-1.5 1.5 1.5-1.5 1.5zM167.3 767.9l1.5-1.5 1.5 1.5-1.5 1.5zM182.6 767.8l1.5-1.5 1.5 1.5-1.5 1.5zM191.5 767.8l1.5-1.5 1.5 1.5-1.5 1.5zM197.8 767.8l1.5-1.5 1.5 1.5-1.5 1.5zM202.7 767.8l1.5-1.5 1.5 1.5-1.5 1.5zM206.8 767.8l1.5-1.5 1.5 1.5-1.5 1.5zM210.1 767.8l1.5-1.5 1.5 1.5-1.5 1.5zM213.1 767.8l1.5-1.5 1.5 1.5-1.5 1.5zM215.7 767.8l1.5-1.5 1.5 1.5-1.5 1.5zM218.0 767.8l1.5-1.5 1.5 1.5-1.5 1.5zM220.1 767.5l1.5-1.5 1.5 1.5-1.5 1.5zM222.0 767.5l1.5-1.5 1.5 1.5-1.5 1.5zM223.8 767.7l1.5-1.5 1.5 1.5-1.5 1.5zM225.4 767.8l1.5-1.5 1.5 1.5-1.5 1.5zM226.9 767.9l1.5-1.5 1.5 1.5-1.5 1.5zM228.3 767.6l1.5-1.5 1.5 1.5-1.5 1.5zM229.7 767.9l1.5-1.5 1.5 1.5-1.5 1.5zM230.9 767.8l1.5-1.5 1.5 1.5-1.5 1.5zM232.1 767.6l1.5-1.5 1.5 1.5-1.5 1.5zM233.3 768.0l1.5-1.5 1.5 1.5-1.5 1.5zM234.3 767.5l1.5-1.5 1.5 1.5-1.5 1.5zM235.4 767.8l1.5-1.5 1.5 1.5-1.5 1.5zM236.3 767.5l1.5-1.5 1.5 1.5-1.5 1.5zM237.3 767.4l1.5-1.5 1.5 1.5-1.5 1.5zM238.2 767.7l1.5-1.5 1.5 1.5-1.5 1.5zM239.0 767.8l1.5-1.5 1.5 1.5-1.5 1.5zM239.9 767.8l1.5-1.5 1.5 1.5-1.5 1.5zM240.7 767.7l1.5-1.5 1.5 1.5-1.5 1.5zM241.4 768.0l1.5-1.5 1.5 1.5-1.5 1.5zM242.2 767.9l1.5-1.5 1.5 1.5-1.5 1.5zM242.9 767.5l1.5-1.5 1.5 1.5-1.5 1.5zM243.6 767.4l1.5-1.5 1.5 1.5-1.5 1.5zM244.3 768.1l1.5-1.5 1.5 1.5-1.5 1.5zM244.9 767.7l1.5-1.5 1.5 1.5-1.5 1.5zM245.6 767.5l1.5-1.5 1.5 1.5-1.5 1.5zM246.2 767.5l1.5-1.5 1.5 1.5-1.5 1.5zM246.8 767.9l1.5-1.5 1.5 1.5-1.5 1.5zM247.4 767.5l1.5-1.5 1.5 1.5-1.5 1.5zM248.0 767.6l1.5-1.5 1.5 1.5-1.5 1.5zM248.5 767.9l1.5-1.5 1.5 1.5-1.5 1.5zM249.1 767.6l1.5-1.5 1.5 1.5-1.5 1.5zM249.6 767.8l1.5-1.5 1.5 1.5-1.5 1.5zM250.1 768.0l1.5-1.5 1.5 1.5-1.5 1.5zM250.6 767.9l1.5-1.5 1.5 1.5-1.5 1.5zM251.1 767.8l1.5-1.5 1.5 1.5-1.5 1.5zM251.6 767.8l1.5-1.5 1.5 1.5-1.5 1.5zM252.1 767.6l1.5-1.5 1.5 1.5-1.5 1.5zM252.5 767.8l1.5-1.5 1.5 1.5-1.5 1.5zM253.0 767.8l1.5-1.5 1.5 1.5-1.5 1.5zM253.4 767.8l1.5-1.5 1.5 1.5-1.5 1.5zM253.9 767.7l1.5-1.5 1.5 1.5-1.5 1.5zM254.3 767.9l1.5-1.5 1.5 1.5-1.5 1.5zM254.7 767.5l1.5-1.5 1.5 1.5-1.5 1.5zM255.1 767.9l1.5-1.5 1.5 1.5-1.5 1.5zM255.5 768.1l1.5-1.5 1.5 1.5-1.5 1.5zM255.9 767.4l1.5-1.5 1.5 1.5-1.5 1.5zM256.3 767.5l1.5-1.5 1.5 1.5-1.5 1.5zM256.7 768.1l1.5-1.5 1.5 1.5-1.5 1.5zM257.1 767.4l1.5-1.5 1.5 1.5-1.5 1.5zM257.5 767.9l1.5-1.5 1.5 1.5-1.5 1.5zM257.8 767.8l1.5-1.5 1.5 1.5-1.5 1.5zM258.2 767.4l1.5-1.5 1.5 1.5-1.5 1.5zM258.5 767.8l1.5-1.5 1.5 1.5-1.5 1.5zM258.9 767.4l1.5-1.5 1.5 1.5-1.5 1.5zM259.2 768.0l1.5-1.5 1.5 1.5-1.5 1.5zM259.6 767.6l1.5-1.5 1.5 1.5-1.5 1.5zM259.9 768.0l1.5-1.5 1.5 1.5-1.5 1.5zM260.2 768.0l1.5-1.5 1.5 1.5-1.5 1.5zM260.5 767.5l1.5-1.5 1.5 1.5-1.5 1.5zM260.8 767.6l1.5-1.5 1.5 1.5-1.5 1.5zM261.2 767.5l1.5-1.5 1.5 1.5-1.5 1.5zM261.5 767.9l1.5-1.5 1.5 1.5-1.5 1.5zM261.8 767.4l1.5-1.5 1.5 1.5-1.5 1.5zM262.1 767.4l1.5-1.5 1.5 1.5-1.5 1.5zM262.4 767.4l1.5-1.5 1.5 1.5-1.5 1.5zM262.7 768.0l1.5-1.5 1.5 1.5-1.5 1.5zM262.9 767.5l1.5-1.5 1.5 1.5-1.5 1.5zM263.2 767.6l1.5-1.5 1.5 1.5-1.5 1.5zM263.5 767.7l1.5-1.5 1.5 1.5-1.5 1.5zM263.8 767.7l1.5-1.5 1.5 1.5-1.5 1.5zM264.1 767.6l1.5-1.5 1.5 1.5-1.5 1.5zM264.3 768.0l1.5-1.5 1.5 1.5-1.5 1.5zM264.6 767.6l1.5-1.5 1.5 1.5-1.5 1.5zM264.9 767.7l1.5-1.5 1.5 1.5-1.5 1.5zM265.1 768.0l1.5-1.5 1.5 1.5-1.5 1.5zM265.4 767.5l1.5-1.5 1.5 1.5-1.5 1.5zM265.6 767.5l1.5-1.5 1.5 1.5-1.5 1.5zM265.9 767.9l1.5-1.5 1.5 1.5-1.5 1.5zM266.1 767.6l1.5-1.5 1.5 1.5-1.5 1.5zM266.4 768.0l1.5-1.5 1.5 1.5-1.5 1.5zM266.6 767.9l1.5-1.5 1.5 1.5-1.5 1.5zM266.9 767.6l1.5-1.5 1.5 1.5-1.5 1.5zM267.1 767.6l1.5-1.5 1.5 1.5-1.5 1.5zM267.3 767.4l1.5-1.5 1.5 1.5-1.5 1.5zM267.6 768.0l1.5-1.5 1.5 1.5-1.5 1.5zM267.8 767.7l1.5-1.5 1.5 1.5-1.5 1.5zM268.0 767.6l1.5-1.5 1.5 1.5-1.5 1.5zM268.3 767.5l1.5-1.5 1.5 1.5-1.5 1.5zM268.5 767.5l1.5-1.5 1.5 1.5-1.5 1.5zM268.7 768.0l1.5-1.5 1.5 1.5-1.5 1.5z" fill="#ffc800"/>
<line x1="67.4" y1="773.6" x2="270.2" y2="773.0" stroke="#ffaa00" stroke-width="0.9" stroke-opacity="0.4"/>
<path d="M65.9 773.6l1.5-1.5 1.5 1.5-1.5 1.5zM131.9 773.4l1.5-1.5 1.5 1.5-1.5 1.5zM167.3 773.3l1.5-1.5 1.5 1.5-1.5 1.5zM182.6 773.3l1.5-1.5 1.5 1.5-1.5 1.5zM191.5 773.2l1.5-1.5 1.5 1.5-1.5 1.5zM197.8 773.2l1.5-1.5 1.5 1.5-1.5 1.5zM202.7 773.2l1.5-1.5 1.5 1.5-1.5 1.5zM206.8 773.2l1.5-1.5 1.5 1.5-1.5 1.5zM210.1 773.2l1.5-1.5 1.5 1.5-1.5 1.5zM213.1 773.2l1.5-1.5 1.5 1.5-1.5 1.5zM215.7 773.2l1.5-1.5 1.5 1.5-1.5 1.5zM218.0 773.1l1.5-1.5 1.5 1.5-1.5 1.5zM220.1 772.9l1.5-1.5 1.5 1.5-1.5 1.5zM222.0 773.2l1.5-1.5 1.5 1.5-1.5 1.5zM223.8 773.2l1.5-1.5 1.5 1.5-1.5 1.5zM225.4 773.1l1.5-1.5 1.5 1.5-1.5 1.5zM226.9 773.1l1.5-1.5 1.5 1.5-1.5 1.5zM228.3 773.0l1.5-1.5 1.5 1.5-1.5 1.5zM229.7 772.9l1.5-1.5 1.5 1.5-1.5 1.5zM230.9 773.3l1.5-1.5 1.5 1.5-1.5 1.5zM232.1 773.4l1.5-1.5 1.5 1.5-1.5 1.5zM233.3 773.1l1.5-1.5 1.5 1.5-1.5 1.5zM234.3 772.9l1.5-1.5 1.5 1.5-1.5 1.5zM235.4 773.4l1.5-1.5 1.5 1.5-1.5 1.5zM236.3 772.9l1.5-1.5 1.5 1.5-1.5 1.5zM237.3 772.9l1.5-1.5 1.5 1.5-1.5 1.5zM238.2 773.2l1.5-1.5 1.5 1.5-1.5 1.5zM239.0 773.3l1.5-1.5 1.5 1.5-1.5 1.5zM239.9 773.1l1.5-1.5 1.5 1.5-1.5 1.5zM240.7 772.8l1.5-1.5 1.5 1.5-1.5 1.5zM241.4 773.4l1.5-1.5 1.5 1.5-1.5 1.5zM242.2 772.8l1.5-1.5 1.5 1.5-1.5 1.5zM242.9 773.0l1.5-1.5 1.5 1.5-1.5 1.5zM243.6 773.4l1.5-1.5 1.5 1.5-1.5 1.5zM244.3 773.3l1.5-1.5 1.5 1.5-1.5 1.5zM244.9 773.2l1.5-1.5 1.5 1.5-1.5 1.5zM245.6 772.8l1.5-1.5 1.5 1.5-1.5 1.5zM246.2 773.3l1.5-1.5 1.5 1.5-1.5 1.5zM246.8 773.0l1.5-1.5 1.5 1.5-1.5 1.5zM247.4 772.7l1.5-1.5 1.5 1.5-1.5 1.5zM248.0 773.3l1.5-1.5 1.5 1.5-1.5 1.5zM248.5 773.4l1.5-1.5 1.5 1.5-1.5 1.5zM249.1 772.7l1.5-1.5 1.5 1.5-1.5 1.5zM249.6 773.0l1.5-1.5 1.5 1.5-1.5 1.5zM250.1 773.3l1.5-1.5 1.5 1.5-1.5 1.5zM250.6 772.9l1.5-1.5 1.5 1.5-1.5 1.5zM251.1 772.9l1.5-1.5 1.5 1.5-1.5 1.5zM251.6 773.2l1.5-1.5 1.5 1.5-1.5 1.5zM252.1 773.0l1.5-1.5 1.5 1.5-1.5 1.5zM252.5 773.4l1.5-1.5 1.5 1.5-1.5 1.5zM253.0 773.3l1.5-1.5 1.5 1.5-1.5 1.5zM253.4 773.3l1.5-1.5 1.5 1.5-1.5 1.5zM253.9 773.2l1.5-1.5 1.5 1.5-1.5 1.5zM254.3 772.8l1.5-1.5 1.5 1.5-1.5 1.5zM254.7 773.2l1.5-1.5 1.5 1.5-1.5 1.5zM255.1 773.1l1.5-1.5 1.5 1.5-1.5 1.5zM255.5 773.0l1.5-1.5 1.5 1.5-1.5 1.5zM255.9 773.1l1.5-1.5 1.5 1.5-1.5 1.5zM256.3 772.9l1.5-1.5 1.5 1.5-1.5 1.5zM256.7 772.8l1.5-1.5 1.5 1.5-1.5 1.5zM257.1 773.3l1.5-1.5 1.5 1.5-1.5 1.5zM257.5 772.9l1.5-1.5 1.5 1.5-1.5 1.5zM257.8 772.8l1.5-1.5 1.5 1.5-1.5 1.5zM258.2 773.4l1.5-1.5 1.5 1.5-1.5 1.5zM258.5 773.0l1.5-1.5 1.5 1.5-1.5 1.5zM258.9 773.2l1.5-1.5 1.5 1.5-1.5 1.5zM259.2 772.9l1.5-1.5 1.5 1.5-1.5 1.5zM259.6 772.8l1.5-1.5 1.5 1.5-1.5 1.5zM259.9 772.9l1.5-1.5 1.5 1.5-1.5 1.5zM260.2 773.3l1.5-1.5 1.5 1.5-1.5 1.5zM260.5 772.9l1.5-1.5 1.5 1.5-1.5 1.5zM260.8 773.3l1.5-1.5 1.5 1.5-1.5 1.5zM261.2 772.9l1.5-1.5 1.5 1.5-1.5 1.5zM261.5 773.3l1.5-1.5 1.5 1.5-1.5 1.5zM261.8 772.8l1.5-1.5 1.5 1.5-1.5 1.5zM262.1 773.0l1.5-1.5 1.5 1.5-1.5 1.5zM262.4 772.8l1.5-1.5 1.5 1.5-1.5 1.5zM262.7 772.8l1.5-1.5 1.5 1.5-1.5 1.5zM262.9 773.0l1.5-1.5 1.5 1.5-1.5 1.5zM263.2 772.9l1.5-1.5 1.5 1.5-1.5 1.5zM263.5 773.0l1.5-1.5 1.5 1.5-1.5 1.5zM263.8 772.8l1.5-1.5 1.5 1.5-1.5 1.5zM264.1 772.9l1.5-1.5 1.5 1.5-1.5 1.5zM264.3 772.9l1.5-1.5 1.5 1.5-1.5 1.5zM264.6 773.3l1.5-1.5 1.5 1.5-1.5 1.5zM264.9 772.7l1.5-1.5 1.5 1.5-1.5 1.5zM265.1 773.0l1.5-1.5 1.5 1.5-1.5 1.5zM265.4 773.3l1.5-1.5 1.5 1.5-1.5 1.5zM265.6 773.1l1.5-1.5 1.5 1.5-1.5 1.5zM265.9 772.8l1.5-1.5 1.5 1.5-1.5 1.5zM266.1 773.4l1.5-1.5 1.5 1.5-1.5 1.5zM266.4 772.7l1.5-1.5 1.5 1.5-1.5 1.5zM266.6 772.8l1.5-1.5 1.5 1.5-1.5 1.5zM266.9 772.7l1.5-1.5 1.5 1.5-1.5 1.5zM267.1 773.0l1.5-1.5 1.5 1.5-1.5 1.5zM267.3 773.3l1.5-1.5 1.5 1.5-1.5 1.5zM267.6 772.9l1.5-1.5 1.5 1.5-1.5 1.5zM267.8 772.9l1.5-1.5 1.5 1.5-1.5 1.5zM268.0 773.2l1.5-1.5 1.5 1.5-1.5 1.5zM268.3 772.7l1.5-1.5 1.5 1.5-1.5 1.5zM268.5 772.7l1.5-1.5 1.5 1.5-1.5 1.5zM268.7 773.1l1.5-1.5 1.5 1.5-1.5 1.5z" fill="#ffaa00"/>
<line x1="67.4" y1="778.0" x2="270.2" y2="777.4" stroke="#ff9100" stroke-width="0.9" stroke-opacity="0.4"/>
<path d="M65.9 778.0l1.5-1.5 1.5 1.5-1.5 1.5zM131.9 777.8l1.5-1.5 1.5 1.5-1.5 1.5zM167.3 777.7l1.5-1.5 1.5 1.5-1.5 1.5zM182.6 777.7l1.5-1.5 1.5 1.5-1.5 1.5zM191.5 777.6l1.5-1.5 1.5 1.5-1.5 1.5zM197.8 777.6l1.5-1.5 1.5 1.5-1.5 1.5zM202.7 777.6l1.5-1.5 1.5 1.5-1.5 1.5zM206.8 777.6l1.5-1.5 1.5 1.5-1.5 1.5zM210.1 777.6l1.5-1.5 1.5 1.5-1.5 1.5zM213.1 777.6l1.5-1.5 1.5 1.5-1.5 1.5zM215.7 777.6l1.5-1.5 1.5 1.5-1.5 1.5zM218.0 777.5l1.5-1.5 1.5 1.5-1.5 1.5zM220.1 777.3l1.5-1.5 1.5 1.5-1.5 1.5zM222.0 777.6l1.5-1.5 1.5 1.5-1.5 1.5zM223.8 777.3l1.5-1.5 1.5 1.5-1.5 1.5zM225.4 777.6l1.5-1.5 1.5 1.5-1.5 1.5zM226.9 777.8l1.5-1.5 1.5 1.5-1.5 1.5zM228.3 777.5l1.5-1.5 1.5 1.5-1.5 1.5zM229.7 777.4l1.5-1.5 1.5 1.5-1.5 1.5zM230.9 777.6l1.5-1.5 1.5 1.5-1.5 1.5zM232.1 777.6l1.5-1.5 1.5 1.5-1.5 1.5zM233.3 777.2l1.5-1.5 1.5 1.5-1.5 1.5zM234.3 777.3l1.5-1.5 1.5 1.5-1.5 1.5zM235.4 777.4l1.5-1.5 1.5 1.5-1.5 1.5zM236.3 777.5l1.5-1.5 1.5 1.5-1.5 1.5zM237.3 777.3l1.5-1.5 1.5 1.5-1.5 1.5zM238.2 777.6l1.5-1.5 1.5 1.5-1.5 1.5zM239.0 777.3l1.5-1.5 1.5 1.5-1.5 1.5zM239.9 777.8l1.5-1.5 1.5 1.5-1.5 1.5zM240.7 777.4l1.5-1.5 1.5 1.5-1.5 1.5zM241.4 777.3l1.5-1.5 1.5 1.5-1.5 1.5zM242.2 777.2l1.5-1.5 1.5 1.5-1.5 1.5zM242.9 777.2l1.5-1.5 1.5 1.5-1.5 1.5zM243.6 777.3l1.5-1.5 1.5 1.5-1.5 1.5zM244.3 777.7l1.5-1.5 1.5 1.5-1.5 1.5zM244.9 777.4l1.5-1.5 1.5 1.5-1.5 1.5zM245.6 777.4l1.5-1.5 1.5 1.5-1.5 1.5zM246.2 777.8l1.5-1.5 1.5 1.5-1.5 1.5zM246.8 777.8l1.5-1.5 1.5 1.5-1.5 1.5zM247.4 777.6l1.5-1.5 1.5 1.5-1.5 1.5zM248.0 777.3l1.5-1.5 1.5 1.5-1.5 1.5zM248.5 777.3l1.5-1.5 1.5 1.5-1.5 1.5zM249.1 777.5l1.5-1.5 1.5 1.5-1.5 1.5zM249.6 777.3l1.5-1.5 1.5 1.5-1.5 1.5zM250.1 777.3l1.5-1.5 1.5 1.5-1.5 1.5zM250.6 777.3l1.5-1.5 1.5 1.5-1.5 1.5zM251.1 777.3l1.5-1.5 1.5 1.5-1.5 1.5zM251.6 777.6l1.5-1.5 1.5 1.5-1.5 1.5zM252.1 777.5l1.5-1.5 1.5 1.5-1.5 1.5zM252.5 777.4l1.5-1.5 1.5 1.5-1.5 1.5zM253.0 777.4l1.5-1.5 1.5 1.5-1.5 1.5zM253.4 777.5l1.5-1.5 1.5 1.5-1.5 1.5zM253.9 777.6l1.5-1.5 1.5 1.5-1.5 1.5zM254.3 777.1l1.5-1.5 1.5 1.5-1.5 1.5zM254.7 777.7l1.5-1.5 1.5 1.5-1.5 1.5zM255.1 777.4l1.5-1.5 1.5 1.5-1.5 1.5zM255.5 777.3l1.5-1.5 1.5 1.5-1.5 1.5zM255.9 777.8l1.5-1.5 1.5 1.5-1.5 1.5zM256.3 777.6l1.5-1.5 1.5 1.5-1.5 1.5zM256.7 777.3l1.5-1.5 1.5 1.5-1.5 1.5zM257.1 777.1l1.5-1.5 1.5 1.5-1.5 1.5zM257.5 777.4l1.5-1.5 1.5 1.5-1.5 1.5zM257.8 777.4l1.5-1.5 1.5 1.5-1.5 1.5zM258.2 777.3l1.5-1.5 1.5 1.5-1.5 1.5zM258.5 777.1l1.5-1.5 1.5 1.5-1.5 1.5zM258.9 777.5l1.5-1.5 1.5 1.5-1.5 1.5zM259.2 777.3l1.5-1.5 1.5 1.5-1.5 1.5zM259.6 777.6l1.5-1.5 1.5 1.5-1.5 1.5zM259.9 777.4l1.5-1.5 1.5 1.5-1.5 1.5zM260.2 777.3l1.5-1.5 1.5 1.5-1.5 1.5zM260.5 777.7l1.5-1.5 1.5 1.5-1.5 1.5zM260.8 777.4l1.5-1.5 1.5 1.5-1.5 1.5zM261.2 777.1l1.5-1.5 1.5 1.5-1.5 1.5zM261.5 777.3l1.5-1.5 1.5 1.5-1.5 1.5zM261.8 777.1l1.5-1.5 1.5 1.5-1.5 1.5zM262.1 777.4l1.5-1.5 1.5 1.5-1.5 1.5zM262.4 777.7l1.5-1.5 1.5 1.5-1.5 1.5zM262.7 777.7l1.5-1.5 1.5 1.5-1.5 1.5zM262.9 777.5l1.5-1.5 1.5 1.5-1.5 1.5zM263.2 777.2l1.5-1.5 1.5 1.5-1.5 1.5zM263.5 777.2l1.5-1.5 1.5 1.5-1.5 1.5zM263.8 777.2l1.5-1.5 1.5 1.5-1.5 1.5zM264.1 777.3l1.5-1.5 1.5 1.5-1.5 1.5zM264.3 777.5l1.5-1.5 1.5 1.5-1.5 1.5zM264.6 777.1l1.5-1.5 1.5 1.5-1.5 1.5zM264.9 777.4l1.5-1.5 1.5 1.5-1.5 1.5zM265.1 777.4l1.5-1.5 1.5 1.5-1.5 1.5zM265.4 777.5l1.5-1.5 1.5 1.5-1.5 1.5zM265.6 777.6l1.5-1.5 1.5 1.5-1.5 1.5zM265.9 777.3l1.5-1.5 1.5 1.5-1.5 1.5zM266.1 777.5l1.5-1.5 1.5 1.5-1.5 1.5zM266.4 777.2l1.5-1.5 1.5 1.5-1.5 1.5zM266.6 777.4l1.5-1.5 1.5 1.5-1.5 1.5zM266.9 777.5l1.5-1.5 1.5 1.5-1.5 1.5zM267.1 777.1l1.5-1.5 1.5 1.5-1.5 1.5zM267.3 777.4l1.5-1.5 1.5 1.5-1.5 1.5zM267.6 777.4l1.5-1.5 1.5 1.5-1.5 1.5zM267.8 777.2l1.5-1.5 1.5 1.5-1.5 1.5zM268.0 777.2l1.5-1.5 1.5 1.5-1.5 1.5zM268.3 777.6l1.5-1.5 1.5 1.5-1.5 1.5zM268.5 777.3l1.5-1.5 1.5 1.5-1.5 1.5zM268.7 777.2l1.5-1.5 1.5 1.5-1.5 1.5z" fill="#ff9100"/>
<line x1="67.4" y1="781.7" x2="270.2" y2="781.6" stroke="#ff7700" stroke-width="0.9" stroke-opacity="0.4"/>
<path d="M65.9 781.7l1.5-1.5 1.5 1.5-1.5 1.5zM131.9 781.7l1.5-1.5 1.5 1.5-1.5 1.5zM167.3 781.7l1.5-1.5 1.5 1.5-1.5 1.5zM182.6 781.6l1.5-1.5 1.5 1.5-1.5 1.5zM191.5 781.6l1.5-1.5 1.5 1.5-1.5 1.5zM197.8 781.6l1.5-1.5 1.5 1.5-1.5 1.5zM202.7 781.6l1.5-1.5 1.5 1.5-1.5 1.5zM206.8 781.6l1.5-1.5 1.5 1.5-1.5 1.5zM210.1 781.6l1.5-1.5 1.5 1.5-1.5 1.5zM213.1 781.6l1.5-1.5 1.5 1.5-1.5 1.5zM215.7 781.6l1.5-1.5 1.5 1.5-1.5 1.5zM218.0 781.6l1.5-1.5 1.5 1.5-1.5 1.5zM220.1 781.5l1.5-1.5 1.5 1.5-1.5 1.5zM222.0 781.6l1.5-1.5 1.5 1.5-1.5 1.5zM223.8 781.6l1.5-1.5 1.5 1.5-1.5 1.5zM225.4 781.5l1.5-1.5 1.5 1.5-1.5 1.5zM226.9 781.5l1.5-1.5 1.5 1.5-1.5 1.5zM228.3 781.4l1.5-1.5 1.5 1.5-1.5 1.5zM229.7 781.6l1.5-1.5 1.5 1.5-1.5 1.5zM230.9 781.7l1.5-1.5 1.5 1.5-1.5 1.5zM232.1 781.3l1.5-1.5 1.5 1.5-1.5 1.5zM233.3 781.7l1.5-1.5 1.5 1.5-1.5 1.5zM234.3 781.5l1.5-1.5 1.5 1.5-1.5 1.5zM235.4 782.0l1.5-1.5 1.5 1.5-1.5 1.5zM236.3 781.9l1.5-1.5 1.5 1.5-1.5 1.5zM237.3 781.4l1.5-1.5 1.5 1.5-1.5 1.5zM238.2 781.8l1.5-1.5 1.5 1.5-1.5 1.5zM239.0 781.5l1.5-1.5 1.5 1.5-1.5 1.5zM239.9 781.3l1.5-1.5 1.5 1.5-1.5 1.5zM240.7 781.9l1.5-1.5 1.5 1.5-1.5 1.5zM241.4 781.9l1.5-1.5 1.5 1.5-1.5 1.5zM242.2 781.8l1.5-1.5 1.5 1.5-1.5 1.5zM242.9 781.7l1.5-1.5 1.5 1.5-1.5 1.5zM243.6 781.9l1.5-1.5 1.5 1.5-1.5 1.5zM244.3 781.7l1.5-1.5 1.5 1.5-1.5 1.5zM244.9 781.7l1.5-1.5 1.5 1.5-1.5 1.5zM245.6 781.7l1.5-1.5 1.5 1.5-1.5 1.5zM246.2 781.9l1.5-1.5 1.5 1.5-1.5 1.5zM246.8 781.9l1.5-1.5 1.5 1.5-1.5 1.5zM247.4 781.5l1.5-1.5 1.5 1.5-1.5 1.5zM248.0 781.4l1.5-1.5 1.5 1.5-1.5 1.5zM248.5 781.6l1.5-1.5 1.5 1.5-1.5 1.5zM249.1 781.7l1.5-1.5 1.5 1.5-1.5 1.5zM249.6 781.5l1.5-1.5 1.5 1.5-1.5 1.5zM250.1 781.9l1.5-1.5 1.5 1.5-1.5 1.5zM250.6 781.9l1.5-1.5 1.5 1.5-1.5 1.5zM251.1 781.7l1.5-1.5 1.5 1.5-1.5 1.5zM251.6 781.6l1.5-1.5 1.5 1.5-1.5 1.5zM252.1 781.7l1.5-1.5 1.5 1.5-1.5 1.5zM252.5 781.4l1.5-1.5 1.5 1.5-1.5 1.5zM253.0 781.8l1.5-1.5 1.5 1.5-1.5 1.5zM253.4 781.3l1.5-1.5 1.5 1.5-1.5 1.5zM253.9 781.9l1.5-1.5 1.5 1.5-1.5 1.5zM254.3 781.7l1.5-1.5 1.5 1.5-1.5 1.5zM254.7 781.5l1.5-1.5 1.5 1.5-1.5 1.5zM255.1 781.4l1.5-1.5 1.5 1.5-1.5 1.5zM255.5 781.7l1.5-1.5 1.5 1.5-1.5 1.5zM255.9 781.6l1.5-1.5 1.5 1.5-1.5 1.5zM256.3 781.7l1.5-1.5 1.5 1.5-1.5 1.5zM256.7 781.3l1.5-1.5 1.5 1.5-1.5 1.5zM257.1 781.9l1.5-1.5 1.5 1.5-1.5 1.5zM257.5 781.6l1.5-1.5 1.5 1.5-1.5 1.5zM257.8 781.6l1.5-1.5 1.5 1.5-1.5 1.5zM258.2 781.8l1.5-1.5 1.5 1.5-1.5 1.5zM258.5 781.7l1.5-1.5 1.5 1.5-1.5 1.5zM258.9 781.6l1.5-1.5 1.5 1.5-1.5 1.5zM259.2 781.5l1.5-1.5 1.5 1.5-1.5 1.5zM259.6 781.6l1.5-1.5 1.5 1.5-1.5 1.5zM259.9 781.3l1.5-1.5 1.5 1.5-1.5 1.5zM260.2 781.4l1.5-1.5 1.5 1.5-1.5 1.5zM260.5 781.8l1.5-1.5 1.5 1.5-1.5 1.5zM260.8 781.3l1.5-1.5 1.5 1.5-1.5 1.5zM261.2 781.3l1.5-1.5 1.5 1.5-1.5 1.5zM261.5 781.8l1.5-1.5 1.5 1.5-1.5 1.5zM261.8 781.5l1.5-1.5 1.5 1.5-1.5 1.5zM262.1 781.6l1.5-1.5 1.5 1.5-1.5 1.5zM262.4 781.7l1.5-1.5 1.5 1.5-1.5 1.5zM262.7 781.8l1.5-1.5 1.5 1.5-1.5 1.5zM262.9 781.5l1.5-1.5 1.5 1.5-1.5 1.5zM263.2 781.8l1.5-1.5 1.5 1.5-1.5 1.5zM263.5 781.3l1.5-1.5 1.5 1.5-1.5 1.5zM263.8 781.8l1.5-1.5 1.5 1.5-1.5 1.5zM264.1 781.5l1.5-1.5 1.5 1.5-1.5 1.5zM264.3 781.7l1.5-1.5 1.5 1.5-1.5 1.5zM264.6 781.5l1.5-1.5 1.5 1.5-1.5 1.5zM264.9 781.8l1.5-1.5 1.5 1.5-1.5 1.5zM265.1 781.5l1.5-1.5 1.5 1.5-1.5 1.5zM265.4 781.7l1.5-1.5 1.5 1.5-1.5 1.5zM265.6 781.5l1.5-1.5 1.5 1.5-1.5 1.5zM265.9 781.8l1.5-1.5 1.5 1.5-1.5 1.5zM266.1 781.8l1.5-1.5 1.5 1.5-1.5 1.5zM266.4 781.4l1.5-1.5 1.5 1.5-1.5 1.5zM266.6 781.8l1.5-1.5 1.5 1.5-1.5 1.5zM266.9 781.9l1.5-1.5 1.5 1.5-1.5 1.5zM267.1 781.4l1.5-1.5 1.5 1.5-1.5 1.5zM267.3 781.4l1.5-1.5 1.5 1.5-1.5 1.5zM267.6 781.9l1.5-1.5 1.5 1.5-1.5 1.5zM267.8 781.9l1.5-1.5 1.5 1.5-1.5 1.5zM268.0 781.3l1.5-1.5 1.5 1.5-1.5 1.5zM268.3 781.8l1.5-1.5 1.5 1.5-1.5 1.5zM268.5 781.9l1.5-1.5 1.5 1.5-1.5 1.5zM268.7 781.4l1.5-1.5 1.5 1.5-1.5 1.5z" fill="#ff7700"/>
<line x1="67.4" y1="785.5" x2="270.2" y2="785.4" stroke="#ff5e00" stroke-width="0.9" stroke-opacity="0.4"/>
<path d="M65.9 785.5l1.5-1.5 1.5 1.5-1.5 1.5zM131.9 785.5l1.5-1.5 1.5 1.5-1.5 1.5zM167.3 785.5l1.5-1.5 1.5 1.5-1.5 1.5zM182.6 785.4l1.5-1.5 1.5 1.5-1.5 1.5zM191.5 785.4l1.5-1.5 1.5 1.5-1.5 1.5zM197.8 785.4l1.5-1.5 1.5 1.5-1.5 1.5zM202.7 785.4l1.5-1.5 1.5 1.5-1.5 1.5zM206.8 785.4l1.5-1.5 1.5 1.5-1.5 1.5zM210.1 785.4l1.5-1.5 1.5 1.5-1.5 1.5zM213.1 785.4l1.5-1.5 1.5 1.5-1.5 1.5zM215.7 785.4l1.5-1.5 1.5 1.5-1.5 1.5zM218.0 785.4l1.5-1.5 1.5 1.5-1.5 1.5zM220.1 785.6l1.5-1.5 1.5 1.5-1.5 1.5zM222.0 785.3l1.5-1.5 1.5 1.5-1.5 1.5zM223.8 785.6l1.5-1.5 1.5 1.5-1.5 1.5zM225.4 785.4l1.5-1.5 1.5 1.5-1.5 1.5zM226.9 785.4l1.5-1.5 1.5 1.5-1.5 1.5zM228.3 785.2l1.5-1.5 1.5 1.5-1.5 1.5zM229.7 785.5l1.5-1.5 1.5 1.5-1.5 1.5zM230.9 785.6l1.5-1.5 1.5 1.5-1.5 1.5zM232.1 785.3l1.5-1.5 1.5 1.5-1.5 1.5zM233.3 785.1l1.5-1.5 1.5 1.5-1.5 1.5zM234.3 785.1l1.5-1.5 1.5 1.5-1.5 1.5zM235.4 785.2l1.5-1.5 1.5 1.5-1.5 1.5zM236.3 785.8l1.5-1.5 1.5 1.5-1.5 1.5zM237.3 785.6l1.5-1.5 1.5 1.5-1.5 1.5zM238.2 785.7l1.5-1.5 1.5 1.5-1.5 1.5zM239.0 785.6l1.5-1.5 1.5 1.5-1.5 1.5zM239.9 785.2l1.5-1.5 1.5 1.5-1.5 1.5zM240.7 785.3l1.5-1.5 1.5 1.5-1.5 1.5zM241.4 785.7l1.5-1.5 1.5 1.5-1.5 1.5zM242.2 785.7l1.5-1.5 1.5 1.5-1.5 1.5zM242.9 785.8l1.5-1.5 1.5 1.5-1.5 1.5zM243.6 785.6l1.5-1.5 1.5 1.5-1.5 1.5zM244.3 785.6l1.5-1.5 1.5 1.5-1.5 1.5zM244.9 785.6l1.5-1.5 1.5 1.5-1.5 1.5zM245.6 785.7l1.5-1.5 1.5 1.5-1.5 1.5zM246.2 785.4l1.5-1.5 1.5 1.5-1.5 1.5zM246.8 785.1l1.5-1.5 1.5 1.5-1.5 1.5zM247.4 785.3l1.5-1.5 1.5 1.5-1.5 1.5zM248.0 785.1l1.5-1.5 1.5 1.5-1.5 1.5zM248.5 785.3l1.5-1.5 1.5 1.5-1.5 1.5zM249.1 785.5l1.5-1.5 1.5 1.5-1.5 1.5zM249.6 785.3l1.5-1.5 1.5 1.5-1.5 1.5zM250.1 785.2l1.5-1.5 1.5 1.5-1.5 1.5zM250.6 785.1l1.5-1.5 1.5 1.5-1.5 1.5zM251.1 785.3l1.5-1.5 1.5 1.5-1.5 1.5zM251.6 785.4l1.5-1.5 1.5 1.5-1.5 1.5zM252.1 785.5l1.5-1.5 1.5 1.5-1.5 1.5zM252.5 785.7l1.5-1.5 1.5 1.5-1.5 1.5zM253.0 785.1l1.5-1.5 1.5 1.5-1.5 1.5zM253.4 785.2l1.5-1.5 1.5 1.5-1.5 1.5zM253.9 785.1l1.5-1.5 1.5 1.5-1.5 1.5zM254.3 785.7l1.5-1.5 1.5 1.5-1.5 1.5zM254.7 785.5l1.5-1.5 1.5 1.5-1.5 1.5zM255.1 785.5l1.5-1.5 1.5 1.5-1.5 1.5zM255.5 785.6l1.5-1.5 1.5 1.5-1.5 1.5zM255.9 785.1l1.5-1.5 1.5 1.5-1.5 1.5zM256.3 785.7l1.5-1.5 1.5 1.5-1.5 1.5zM256.7 785.3l1.5-1.5 1.5 1.5-1.5 1.5zM257.1 785.5l1.5-1.5 1.5 1.5-1.5 1.5zM257.5 785.3l1.5-1.5 1.5 1.5-1.5 1.5zM257.8 785.6l1.5-1.5 1.5 1.5-1.5 1.5zM258.2 785.3l1.5-1.5 1.5 1.5-1.5 1.5zM258.5 785.2l1.5-1.5 1.5 1.5-1.5 1.5zM258.9 785.2l1.5-1.5 1.5 1.5-1.5 1.5zM259.2 785.6l1.5-1.5 1.5 1.5-1.5 1.5zM259.6 785.4l1.5-1.5 1.5 1.5-1.5 1.5zM259.9 785.2l1.5-1.5 1.5 1.5-1.5 1.5zM260.2 785.3l1.5-1.5 1.5 1.5-1.5 1.5zM260.5 785.5l1.5-1.5 1.5 1.5-1.5 1.5zM260.8 785.3l1.5-1.5 1.5 1.5-1.5 1.5zM261.2 785.5l1.5-1.5 1.5 1.5-1.5 1.5zM261.5 785.6l1.5-1.5 1.5 1.5-1.5 1.5zM261.8 785.5l1.5-1.5 1.5 1.5-1.5 1.5zM262.1 785.6l1.5-1.5 1.5 1.5-1.5 1.5zM262.4 785.3l1.5-1.5 1.5 1.5-1.5 1.5zM262.7 785.7l1.5-1.5 1.5 1.5-1.5 1.5zM262.9 785.7l1.5-1.5 1.5 1.5-1.5 1.5zM263.2 785.4l1.5-1.5 1.5 1.5-1.5 1.5zM263.5 785.1l1.5-1.5 1.5 1.5-1.5 1.5zM263.8 785.1l1.5-1.5 1.5 1.5-1.5 1.5zM264.1 785.6l1.5-1.5 1.5 1.5-1.5 1.5zM264.3 785.7l1.5-1.5 1.5 1.5-1.5 1.5zM264.6 785.6l1.5-1.5 1.5 1.5-1.5 1.5zM264.9 785.4l1.5-1.5 1.5 1.5-1.5 1.5zM265.1 785.4l1.5-1.5 1.5 1.5-1.5 1.5zM265.4 785.1l1.5-1.5 1.5 1.5-1.5 1.5zM265.6 785.5l1.5-1.5 1.5 1.5-1.5 1.5zM265.9 785.8l1.5-1.5 1.5 1.5-1.5 1.5zM266.1 785.2l1.5-1.5 1.5 1.5-1.5 1.5zM266.4 785.5l1.5-1.5 1.5 1.5-1.5 1.5zM266.6 785.6l1.5-1.5 1.5 1.5-1.5 1.5zM266.9 785.5l1.5-1.5 1.5 1.5-1.5 1.5zM267.1 785.3l1.5-1.5 1.5 1.5-1.5 1.5zM267.3 785.2l1.5-1.5 1.5 1.5-1.5 1.5zM267.6 785.6l1.5-1.5 1.5 1.5-1.5 1.5zM267.8 785.7l1.5-1.5 1.5 1.5-1.5 1.5zM268.0 785.7l1.5-1.5 1.5 1.5-1.5 1.5zM268.3 785.3l1.5-1.5 1.5 1.5-1.5 1.5zM268.5 785.6l1.5-1.5 1.5 1.5-1.5 1.5zM268.7 785.6l1.5-1.5 1.5 1.5-1.5 1.5z" fill="#ff5e00"/>
<line x1="67.4" y1="789.4" x2="270.2" y2="789.2" stroke="#ff4000" stroke-width="0.9" stroke-opacity="0.4"/>
<path d="M65.9 789.4l1.5-1.5 1.5 1.5-1.5 1.5zM131.9 789.3l1.5-1.5 1.5 1.5-1.5 1.5zM167.3 789.3l1.5-1.5 1.5 1.5-1.5 1.5zM182.6 789.3l1.5-1.5 1.5 1.5-1.5 1.5zM191.5 789.3l1.5-1.5 1.5 1.5-1.5 1.5zM197.8 789.3l1.5-1.5 1.5 1.5-1.5 1.5zM202.7 789.3l1.5-1.5 1.5 1.5-1.5 1.5zM206.8 789.3l1.5-1.5 1.5 1.5-1.5 1.5zM210.1 789.3l1.5-1.5 1.5 1.5-1.5 1.5zM213.1 789.3l1.5-1.5 1.5 1.5-1.5 1.5zM215.7 789.3l1.5-1.5 1.5 1.5-1.5 1.5zM218.0 789.2l1.5-1.5 1.5 1.5-1.5 1.5zM220.1 789.2l1.5-1.5 1.5 1.5-1.5 1.5zM222.0 789.4l1.5-1.5 1.5 1.5-1.5 1.5zM223.8 789.2l1.5-1.5 1.5 1.5-1.5 1.5zM225.4 789.0l1.5-1.5 1.5 1.5-1.5 1.5zM226.9 788.9l1.5-1.5 1.5 1.5-1.5 1.5zM228.3 789.4l1.5-1.5 1.5 1.5-1.5 1.5zM229.7 789.4l1.5-1.5 1.5 1.5-1.5 1.5zM230.9 788.9l1.5-1.5 1.5 1.5-1.5 1.5zM232.1 788.9l1.5-1.5 1.5 1.5-1.5 1.5zM233.3 789.1l1.5-1.5 1.5 1.5-1.5 1.5zM234.3 789.0l1.5-1.5 1.5 1.5-1.5 1.5zM235.4 789.4l1.5-1.5 1.5 1.5-1.5 1.5zM236.3 789.0l1.5-1.5 1.5 1.5-1.5 1.5zM237.3 789.3l1.5-1.5 1.5 1.5-1.5 1.5zM238.2 789.3l1.5-1.5 1.5 1.5-1.5 1.5zM239.0 789.1l1.5-1.5 1.5 1.5-1.5 1.5zM239.9 789.5l1.5-1.5 1.5 1.5-1.5 1.5zM240.7 789.2l1.5-1.5 1.5 1.5-1.5 1.5zM241.4 789.2l1.5-1.5 1.5 1.5-1.5 1.5zM242.2 789.3l1.5-1.5 1.5 1.5-1.5 1.5zM242.9 789.2l1.5-1.5 1.5 1.5-1.5 1.5zM243.6 789.0l1.5-1.5 1.5 1.5-1.5 1.5zM244.3 789.5l1.5-1.5 1.5 1.5-1.5 1.5zM244.9 789.4l1.5-1.5 1.5 1.5-1.5 1.5zM245.6 789.3l1.5-1.5 1.5 1.5-1.5 1.5zM246.2 789.2l1.5-1.5 1.5 1.5-1.5 1.5zM246.8 789.3l1.5-1.5 1.5 1.5-1.5 1.5zM247.4 789.1l1.5-1.5 1.5 1.5-1.5 1.5zM248.0 788.9l1.5-1.5 1.5 1.5-1.5 1.5zM248.5 789.3l1.5-1.5 1.5 1.5-1.5 1.5zM249.1 789.5l1.5-1.5 1.5 1.5-1.5 1.5zM249.6 788.9l1.5-1.5 1.5 1.5-1.5 1.5zM250.1 789.6l1.5-1.5 1.5 1.5-1.5 1.5zM250.6 789.1l1.5-1.5 1.5 1.5-1.5 1.5zM251.1 789.6l1.5-1.5 1.5 1.5-1.5 1.5zM251.6 789.4l1.5-1.5 1.5 1.5-1.5 1.5zM252.1 789.1l1.5-1.5 1.5 1.5-1.5 1.5zM252.5 789.0l1.5-1.5 1.5 1.5-1.5 1.5zM253.0 789.5l1.5-1.5 1.5 1.5-1.5 1.5zM253.4 789.6l1.5-1.5 1.5 1.5-1.5 1.5zM253.9 789.4l1.5-1.5 1.5 1.5-1.5 1.5zM254.3 789.3l1.5-1.5 1.5 1.5-1.5 1.5zM254.7 789.2l1.5-1.5 1.5 1.5-1.5 1.5zM255.1 789.4l1.5-1.5 1.5 1.5-1.5 1.5zM255.5 789.4l1.5-1.5 1.5 1.5-1.5 1.5zM255.9 789.4l1.5-1.5 1.5 1.5-1.5 1.5zM256.3 789.1l1.5-1.5 1.5 1.5-1.5 1.5zM256.7 789.4l1.5-1.5 1.5 1.5-1.5 1.5zM257.1 789.5l1.5-1.5 1.5 1.5-1.5 1.5zM257.5 789.3l1.5-1.5 1.5 1.5-1.5 1.5zM257.8 788.9l1.5-1.5 1.5 1.5-1.5 1.5zM258.2 789.0l1.5-1.5 1.5 1.5-1.5 1.5zM258.5 789.3l1.5-1.5 1.5 1.5-1.5 1.5zM258.9 789.2l1.5-1.5 1.5 1.5-1.5 1.5zM259.2 789.5l1.5-1.5 1.5 1.5-1.5 1.5zM259.6 789.3l1.5-1.5 1.5 1.5-1.5 1.5zM259.9 789.3l1.5-1.5 1.5 1.5-1.5 1.5zM260.2 789.0l1.5-1.5 1.5 1.5-1.5 1.5zM260.5 789.2l1.5-1.5 1.5 1.5-1.5 1.5zM260.8 789.4l1.5-1.5 1.5 1.5-1.5 1.5zM261.2 789.5l1.5-1.5 1.5 1.5-1.5 1.5zM261.5 789.5l1.5-1.5 1.5 1.5-1.5 1.5zM261.8 789.0l1.5-1.5 1.5 1.5-1.5 1.5zM262.1 789.2l1.5-1.5 1.5 1.5-1.5 1.5zM262.4 789.5l1.5-1.5 1.5 1.5-1.5 1.5zM262.7 788.9l1.5-1.5 1.5 1.5-1.5 1.5zM262.9 788.9l1.5-1.5 1.5 1.5-1.5 1.5zM263.2 789.0l1.5-1.5 1.5 1.5-1.5 1.5zM263.5 789.4l1.5-1.5 1.5 1.5-1.5 1.5zM263.8 789.1l1.5-1.5 1.5 1.5-1.5 1.5zM264.1 789.3l1.5-1.5 1.5 1.5-1.5 1.5zM264.3 789.4l1.5-1.5 1.5 1.5-1.5 1.5zM264.6 789.4l1.5-1.5 1.5 1.5-1.5 1.5zM264.9 788.9l1.5-1.5 1.5 1.5-1.5 1.5zM265.1 789.3l1.5-1.5 1.5 1.5-1.5 1.5zM265.4 789.4l1.5-1.5 1.5 1.5-1.5 1.5zM265.6 789.3l1.5-1.5 1.5 1.5-1.5 1.5zM265.9 789.5l1.5-1.5 1.5 1.5-1.5 1.5zM266.1 789.4l1.5-1.5 1.5 1.5-1.5 1.5zM266.4 789.3l1.5-1.5 1.5 1.5-1.5 1.5zM266.6 789.5l1.5-1.5 1.5 1.5-1.5 1.5zM266.9 789.2l1.5-1.5 1.5 1.5-1.5 1.5zM267.1 788.9l1.5-1.5 1.5 1.5-1.5 1.5zM267.3 789.1l1.5-1.5 1.5 1.5-1.5 1.5zM267.6 789.5l1.5-1.5 1.5 1.5-1.5 1.5zM267.8 789.1l1.5-1.5 1.5 1.5-1.5 1.5zM268.0 789.2l1.5-1.5 1.5 1.5-1.5 1.5zM268.3 789.5l1.5-1.5 1.5 1.5-1.5 1.5zM268.5 789.3l1.5-1.5 1.5 1.5-1.5 1.5zM268.7 789.4l1.5-1.5 1.5 1.5-1.5 1.5z" fill="#ff4000"/>
<line x1="67.4" y1="793.4" x2="270.2" y2="793.0" stroke="#ff2f00" stroke-width="0.9" stroke-opacity="0.4"/>
<path d="M65.9 793.4l1.5-1.5 1.5 1.5-1.5 1.5zM131.9 793.3l1.5-1.5 1.5 1.5-1.5 1.5zM167.3 793.2l1.5-1.5 1.5 1.5-1.5 1.5zM182.6 793.2l1.5-1.5 1.5 1.5-1.5 1.5zM191.5 793.2l1.5-1.5 1.5 1.5-1.5 1.5zM197.8 793.1l1.5-1.5 1.5 1.5-1.5 1.5zM202.7 793.1l1.5-1.5 1.5 1.5-1.5 1.5zM206.8 793.1l1.5-1.5 1.5 1.5-1.5 1.5zM210.1 793.1l1.5-1.5 1.5 1.5-1.5 1.5zM213.1 793.1l1.5-1.5 1.5 1.5-1.5 1.5zM215.7 793.1l1.5-1.5 1.5 1.5-1.5 1.5zM218.0 793.1l1.5-1.5 1.5 1.5-1.5 1.5zM220.1 793.1l1.5-1.5 1.5 1.5-1.5 1.5zM222.0 793.1l1.5-1.5 1.5 1.5-1.5 1.5zM223.8 792.8l1.5-1.5 1.5 1.5-1.5 1.5zM225.4 792.9l1.5-1.5 1.5 1.5-1.5 1.5zM226.9 792.8l1.5-1.5 1.5 1.5-1.5 1.5zM228.3 793.1l1.5-1.5 1.5 1.5-1.5 1.5zM229.7 793.1l1.5-1.5 1.5 1.5-1.5 1.5zM230.9 792.8l1.5-1.5 1.5 1.5-1.5 1.5zM232.1 793.2l1.5-1.5 1.5 1.5-1.5 1.5zM233.3 792.8l1.5-1.5 1.5 1.5-1.5 1.5zM234.3 793.0l1.5-1.5 1.5 1.5-1.5 1.5zM235.4 792.7l1.5-1.5 1.5 1.5-1.5 1.5zM236.3 793.0l1.5-1.5 1.5 1.5-1.5 1.5zM237.3 792.8l1.5-1.5 1.5 1.5-1.5 1.5zM238.2 793.4l1.5-1.5 1.5 1.5-1.5 1.5zM239.0 793.0l1.5-1.5 1.5 1.5-1.5 1.5zM239.9 793.3l1.5-1.5 1.5 1.5-1.5 1.5zM240.7 793.0l1.5-1.5 1.5 1.5-1.5 1.5zM241.4 792.9l1.5-1.5 1.5 1.5-1.5 1.5zM242.2 793.3l1.5-1.5 1.5 1.5-1.5 1.5zM242.9 792.9l1.5-1.5 1.5 1.5-1.5 1.5zM243.6 793.1l1.5-1.5 1.5 1.5-1.5 1.5zM244.3 793.1l1.5-1.5 1.5 1.5-1.5 1.5zM244.9 793.4l1.5-1.5 1.5 1.5-1.5 1.5zM245.6 793.2l1.5-1.5 1.5 1.5-1.5 1.5zM246.2 792.7l1.5-1.5 1.5 1.5-1.5 1.5zM246.8 793.0l1.5-1.5 1.5 1.5-1.5 1.5zM247.4 793.4l1.5-1.5 1.5 1.5-1.5 1.5zM248.0 793.3l1.5-1.5 1.5 1.5-1.5 1.5zM248.5 792.9l1.5-1.5 1.5 1.5-1.5 1.5zM249.1 792.8l1.5-1.5 1.5 1.5-1.5 1.5zM249.6 792.9l1.5-1.5 1.5 1.5-1.5 1.5zM250.1 793.2l1.5-1.5 1.5 1.5-1.5 1.5zM250.6 792.8l1.5-1.5 1.5 1.5-1.5 1.5zM251.1 793.3l1.5-1.5 1.5 1.5-1.5 1.5zM251.6 792.9l1.5-1.5 1.5 1.5-1.5 1.5zM252.1 793.2l1.5-1.5 1.5 1.5-1.5 1.5zM252.5 793.2l1.5-1.5 1.5 1.5-1.5 1.5zM253.0 792.9l1.5-1.5 1.5 1.5-1.5 1.5zM253.4 793.0l1.5-1.5 1.5 1.5-1.5 1.5zM253.9 793.1l1.5-1.5 1.5 1.5-1.5 1.5zM254.3 792.9l1.5-1.5 1.5 1.5-1.5 1.5zM254.7 793.1l1.5-1.5 1.5 1.5-1.5 1.5zM255.1 793.1l1.5-1.5 1.5 1.5-1.5 1.5zM255.5 793.3l1.5-1.5 1.5 1.5-1.5 1.5zM255.9 792.9l1.5-1.5 1.5 1.5-1.5 1.5zM256.3 792.8l1.5-1.5 1.5 1.5-1.5 1.5zM256.7 793.0l1.5-1.5 1.5 1.5-1.5 1.5zM257.1 793.1l1.5-1.5 1.5 1.5-1.5 1.5zM257.5 793.0l1.5-1.5 1.5 1.5-1.5 1.5zM257.8 793.3l1.5-1.5 1.5 1.5-1.5 1.5zM258.2 792.8l1.5-1.5 1.5 1.5-1.5 1.5zM258.5 793.0l1.5-1.5 1.5 1.5-1.5 1.5zM258.9 793.0l1.5-1.5 1.5 1.5-1.5 1.5zM259.2 792.8l1.5-1.5 1.5 1.5-1.5 1.5zM259.6 793.0l1.5-1.5 1.5 1.5-1.5 1.5zM259.9 793.0l1.5-1.5 1.5 1.5-1.5 1.5zM260.2 792.9l1.5-1.5 1.5 1.5-1.5 1.5zM260.5 793.2l1.5-1.5 1.5 1.5-1.5 1.5zM260.8 793.4l1.5-1.5 1.5 1.5-1.5 1.5zM261.2 793.3l1.5-1.5 1.5 1.5-1.5 1.5zM261.5 792.8l1.5-1.5 1.5 1.5-1.5 1.5zM261.8 792.9l1.5-1.5 1.5 1.5-1.5 1.5zM262.1 793.3l1.5-1.5 1.5 1.5-1.5 1.5zM262.4 792.7l1.5-1.5 1.5 1.5-1.5 1.5zM262.7 792.7l1.5-1.5 1.5 1.5-1.5 1.5zM262.9 792.7l1.5-1.5 1.5 1.5-1.5 1.5zM263.2 793.3l1.5-1.5 1.5 1.5-1.5 1.5zM263.5 793.0l1.5-1.5 1.5 1.5-1.5 1.5zM263.8 793.0l1.5-1.5 1.5 1.5-1.5 1.5zM264.1 792.7l1.5-1.5 1.5 1.5-1.5 1.5zM264.3 793.3l1.5-1.5 1.5 1.5-1.5 1.5zM264.6 793.4l1.5-1.5 1.5 1.5-1.5 1.5zM264.9 793.1l1.5-1.5 1.5 1.5-1.5 1.5zM265.1 793.3l1.5-1.5 1.5 1.5-1.5 1.5zM265.4 793.1l1.5-1.5 1.5 1.5-1.5 1.5zM265.6 792.9l1.5-1.5 1.5 1.5-1.5 1.5zM265.9 792.8l1.5-1.5 1.5 1.5-1.5 1.5zM266.1 792.9l1.5-1.5 1.5 1.5-1.5 1.5zM266.4 792.8l1.5-1.5 1.5 1.5-1.5 1.5zM266.6 792.9l1.5-1.5 1.5 1.5-1.5 1.5zM266.9 792.7l1.5-1.5 1.5 1.5-1.5 1.5zM267.1 792.7l1.5-1.5 1.5 1.5-1.5 1.5zM267.3 793.3l1.5-1.5 1.5 1.5-1.5 1.5zM267.6 793.2l1.5-1.5 1.5 1.5-1.5 1.5zM267.8 793.2l1.5-1.5 1.5 1.5-1.5 1.5zM268.0 792.9l1.5-1.5 1.5 1.5-1.5 1.5zM268.3 793.0l1.5-1.5 1.5 1.5-1.5 1.5zM268.5 793.0l1.5-1.5 1.5 1.5-1.5 1.5zM268.7 793.2l1.5-1.5 1.5 1.5-1.5 1.5z" fill="#ff2f00"/>
<line x1="67.4" y1="797.0" x2="270.2" y2="796.4" stroke="#ff1900" stroke-width="0.9" stroke-opacity="0.4"/>
<path d="M65.9 797.0l1.5-1.5 1.5 1.5-1.5 1.5zM131.9 796.8l1.5-1.5 1.5 1.5-1.5 1.5zM167.3 796.7l1.5-1.5 1.5 1.5-1.5 1.5zM182.6 796.7l1.5-1.5 1.5 1.5-1.5 1.5zM191.5 796.6l1.5-1.5 1.5 1.5-1.5 1.5zM197.8 796.6l1.5-1.5 1.5 1.5-1.5 1.5zM202.7 796.6l1.5-1.5 1.5 1.5-1.5 1.5zM206.8 796.6l1.5-1.5 1.5 1.5-1.5 1.5zM210.1 796.6l1.5-1.5 1.5 1.5-1.5 1.5zM213.1 796.6l1.5-1.5 1.5 1.5-1.5 1.5zM215.7 796.6l1.5-1.5 1.5 1.5-1.5 1.5zM218.0 796.5l1.5-1.5 1.5 1.5-1.5 1.5zM220.1 796.4l1.5-1.5 1.5 1.5-1.5 1.5zM222.0 796.5l1.5-1.5 1.5 1.5-1.5 1.5zM223.8 796.6l1.5-1.5 1.5 1.5-1.5 1.5zM225.4 796.8l1.5-1.5 1.5 1.5-1.5 1.5zM226.9 796.4l1.5-1.5 1.5 1.5-1.5 1.5zM228.3 796.2l1.5-1.5 1.5 1.5-1.5 1.5zM229.7 796.4l1.5-1.5 1.5 1.5-1.5 1.5zM230.9 796.8l1.5-1.5 1.5 1.5-1.5 1.5zM232.1 796.3l1.5-1.5 1.5 1.5-1.5 1.5zM233.3 796.6l1.5-1.5 1.5 1.5-1.5 1.5zM234.3 796.2l1.5-1.5 1.5 1.5-1.5 1.5zM235.4 796.3l1.5-1.5 1.5 1.5-1.5 1.5zM236.3 796.6l1.5-1.5 1.5 1.5-1.5 1.5zM237.3 796.2l1.5-1.5 1.5 1.5-1.5 1.5zM238.2 796.5l1.5-1.5 1.5 1.5-1.5 1.5zM239.0 796.5l1.5-1.5 1.5 1.5-1.5 1.5zM239.9 796.4l1.5-1.5 1.5 1.5-1.5 1.5zM240.7 796.7l1.5-1.5 1.5 1.5-1.5 1.5zM241.4 796.7l1.5-1.5 1.5 1.5-1.5 1.5zM242.2 796.3l1.5-1.5 1.5 1.5-1.5 1.5zM242.9 796.7l1.5-1.5 1.5 1.5-1.5 1.5zM243.6 796.7l1.5-1.5 1.5 1.5-1.5 1.5zM244.3 796.5l1.5-1.5 1.5 1.5-1.5 1.5zM244.9 796.5l1.5-1.5 1.5 1.5-1.5 1.5zM245.6 796.5l1.5-1.5 1.5 1.5-1.5 1.5zM246.2 796.6l1.5-1.5 1.5 1.5-1.5 1.5zM246.8 796.6l1.5-1.5 1.5 1.5-1.5 1.5zM247.4 796.3l1.5-1.5 1.5 1.5-1.5 1.5zM248.0 796.6l1.5-1.5 1.5 1.5-1.5 1.5zM248.5 796.6l1.5-1.5 1.5 1.5-1.5 1.5zM249.1 796.4l1.5-1.5 1.5 1.5-1.5 1.5zM249.6 796.7l1.5-1.5 1.5 1.5-1.5 1.5zM250.1 796.3l1.5-1.5 1.5 1.5-1.5 1.5zM250.6 796.5l1.5-1.5 1.5 1.5-1.5 1.5zM251.1 796.5l1.5-1.5 1.5 1.5-1.5 1.5zM251.6 796.5l1.5-1.5 1.5 1.5-1.5 1.5zM252.1 796.2l1.5-1.5 1.5 1.5-1.5 1.5zM252.5 796.6l1.5-1.5 1.5 1.5-1.5 1.5zM253.0 796.2l1.5-1.5 1.5 1.5-1.5 1.5zM253.4 796.5l1.5-1.5 1.5 1.5-1.5 1.5zM253.9 796.4l1.5-1.5 1.5 1.5-1.5 1.5zM254.3 796.6l1.5-1.5 1.5 1.5-1.5 1.5zM254.7 796.7l1.5-1.5 1.5 1.5-1.5 1.5zM255.1 796.8l1.5-1.5 1.5 1.5-1.5 1.5zM255.5 796.2l1.5-1.5 1.5 1.5-1.5 1.5zM255.9 796.7l1.5-1.5 1.5 1.5-1.5 1.5zM256.3 796.4l1.5-1.5 1.5 1.5-1.5 1.5zM256.7 796.4l1.5-1.5 1.5 1.5-1.5 1.5zM257.1 796.1l1.5-1.5 1.5 1.5-1.5 1.5zM257.5 796.7l1.5-1.5 1.5 1.5-1.5 1.5zM257.8 796.2l1.5-1.5 1.5 1.5-1.5 1.5zM258.2 796.3l1.5-1.5 1.5 1.5-1.5 1.5zM258.5 796.3l1.5-1.5 1.5 1.5-1.5 1.5zM258.9 796.2l1.5-1.5 1.5 1.5-1.5 1.5zM259.2 796.3l1.5-1.5 1.5 1.5-1.5 1.5zM259.6 796.3l1.5-1.5 1.5 1.5-1.5 1.5zM259.9 796.4l1.5-1.5 1.5 1.5-1.5 1.5zM260.2 796.3l1.5-1.5 1.5 1.5-1.5 1.5zM260.5 796.6l1.5-1.5 1.5 1.5-1.5 1.5zM260.8 796.7l1.5-1.5 1.5 1.5-1.5 1.5zM261.2 796.7l1.5-1.5 1.5 1.5-1.5 1.5zM261.5 796.3l1.5-1.5 1.5 1.5-1.5 1.5zM261.8 796.5l1.5-1.5 1.5 1.5-1.5 1.5zM262.1 796.6l1.5-1.5 1.5 1.5-1.5 1.5zM262.4 796.6l1.5-1.5 1.5 1.5-1.5 1.5zM262.7 796.3l1.5-1.5 1.5 1.5-1.5 1.5zM262.9 796.2l1.5-1.5 1.5 1.5-1.5 1.5zM263.2 796.6l1.5-1.5 1.5 1.5-1.5 1.5zM263.5 796.5l1.5-1.5 1.5 1.5-1.5 1.5zM263.8 796.3l1.5-1.5 1.5 1.5-1.5 1.5zM264.1 796.5l1.5-1.5 1.5 1.5-1.5 1.5zM264.3 796.1l1.5-1.5 1.5 1.5-1.5 1.5zM264.6 796.6l1.5-1.5 1.5 1.5-1.5 1.5zM264.9 796.7l1.5-1.5 1.5 1.5-1.5 1.5zM265.1 796.7l1.5-1.5 1.5 1.5-1.5 1.5zM265.4 796.1l1.5-1.5 1.5 1.5-1.5 1.5zM265.6 796.5l1.5-1.5 1.5 1.5-1.5 1.5zM265.9 796.6l1.5-1.5 1.5 1.5-1.5 1.5zM266.1 796.2l1.5-1.5 1.5 1.5-1.5 1.5zM266.4 796.5l1.5-1.5 1.5 1.5-1.5 1.5zM266.6 796.2l1.5-1.5 1.5 1.5-1.5 1.5zM266.9 796.2l1.5-1.5 1.5 1.5-1.5 1.5zM267.1 796.1l1.5-1.5 1.5 1.5-1.5 1.5zM267.3 796.3l1.5-1.5 1.5 1.5-1.5 1.5zM267.6 796.6l1.5-1.5 1.5 1.5-1.5 1.5zM267.8 796.5l1.5-1.5 1.5 1.5-1.5 1.5zM268.0 796.6l1.5-1.5 1.5 1.5-1.5 1.5zM268.3 796.7l1.5-1.5 1.5 1.5-1.5 1.5zM268.5 796.2l1.5-1.5 1.5 1.5-1.5 1.5zM268.7 796.6l1.5-1.5 1.5 1.5-1.5 1.5z" fill="#ff1900"/>
<line x1="67.4" y1="804.0" x2="270.2" y2="803.4" stroke="#ff0000" stroke-width="0.9" stroke-opacity="0.4"/>
<path d="M65.9 804.0l1.5-1.5 1.5 1.5-1.5 1.5zM131.9 803.8l1.5-1.5 1.5 1.5-1.5 1.5zM167.3 803.7l1.5-1.5 1.5 1.5-1.5 1.5zM182.6 803.7l1.5-1.5 1.5 1.5-1.5 1.5zM191.5 803.6l1.5-1.5 1.5 1.5-1.5 1.5zM197.8 803.6l1.5-1.5 1.5 1.5-1.5 1.5zM202.7 803.6l1.5-1.5 1.5 1.5-1.5 1.5zM206.8 803.6l1.5-1.5 1.5 1.5-1.5 1.5zM210.1 803.6l1.5-1.5 1.5 1.5-1.5 1.5zM213.1 803.6l1.5-1.5 1.5 1.5-1.5 1.5zM215.7 803.6l1.5-1.5 1.5 1.5-1.5 1.5zM218.0 803.5l1.5-1.5 1.5 1.5-1.5 1.5zM220.1 803.8l1.5-1.5 1.5 1.5-1.5 1.5zM222.0 803.6l1.5-1.5 1.5 1.5-1.5 1.5zM223.8 803.4l1.5-1.5 1.5 1.5-1.5 1.5zM225.4 803.3l1.5-1.5 1.5 1.5-1.5 1.5zM226.9 803.5l1.5-1.5 1.5 1.5-1.5 1.5zM228.3 803.4l1.5-1.5 1.5 1.5-1.5 1.5zM229.7 803.3l1.5-1.5 1.5 1.5-1.5 1.5zM230.9 803.6l1.5-1.5 1.5 1.5-1.5 1.5zM232.1 803.6l1.5-1.5 1.5 1.5-1.5 1.5zM233.3 803.3l1.5-1.5 1.5 1.5-1.5 1.5zM234.3 803.3l1.5-1.5 1.5 1.5-1.5 1.5zM235.4 803.5l1.5-1.5 1.5 1.5-1.5 1.5zM236.3 803.6l1.5-1.5 1.5 1.5-1.5 1.5zM237.3 803.6l1.5-1.5 1.5 1.5-1.5 1.5zM238.2 803.6l1.5-1.5 1.5 1.5-1.5 1.5zM239.0 803.8l1.5-1.5 1.5 1.5-1.5 1.5zM239.9 803.7l1.5-1.5 1.5 1.5-1.5 1.5zM240.7 803.4l1.5-1.5 1.5 1.5-1.5 1.5zM241.4 803.7l1.5-1.5 1.5 1.5-1.5 1.5zM242.2 803.6l1.5-1.5 1.5 1.5-1.5 1.5zM242.9 803.4l1.5-1.5 1.5 1.5-1.5 1.5zM243.6 803.2l1.5-1.5 1.5 1.5-1.5 1.5zM244.3 803.4l1.5-1.5 1.5 1.5-1.5 1.5zM244.9 803.6l1.5-1.5 1.5 1.5-1.5 1.5zM245.6 803.6l1.5-1.5 1.5 1.5-1.5 1.5zM246.2 803.3l1.5-1.5 1.5 1.5-1.5 1.5zM246.8 803.5l1.5-1.5 1.5 1.5-1.5 1.5zM247.4 803.2l1.5-1.5 1.5 1.5-1.5 1.5zM248.0 803.5l1.5-1.5 1.5 1.5-1.5 1.5zM248.5 803.4l1.5-1.5 1.5 1.5-1.5 1.5zM249.1 803.6l1.5-1.5 1.5 1.5-1.5 1.5zM249.6 803.7l1.5-1.5 1.5 1.5-1.5 1.5zM250.1 803.1l1.5-1.5 1.5 1.5-1.5 1.5zM250.6 803.8l1.5-1.5 1.5 1.5-1.5 1.5zM251.1 803.2l1.5-1.5 1.5 1.5-1.5 1.5zM251.6 803.8l1.5-1.5 1.5 1.5-1.5 1.5zM252.1 803.8l1.5-1.5 1.5 1.5-1.5 1.5zM252.5 803.3l1.5-1.5 1.5 1.5-1.5 1.5zM253.0 803.3l1.5-1.5 1.5 1.5-1.5 1.5zM253.4 803.2l1.5-1.5 1.5 1.5-1.5 1.5zM253.9 803.7l1.5-1.5 1.5 1.5-1.5 1.5zM254.3 803.6l1.5-1.5 1.5 1.5-1.5 1.5zM254.7 803.8l1.5-1.5 1.5 1.5-1.5 1.5zM255.1 803.7l1.5-1.5 1.5 1.5-1.5 1.5zM255.5 803.3l1.5-1.5 1.5 1.5-1.5 1.5zM255.9 803.6l1.5-1.5 1.5 1.5-1.5 1.5zM256.3 803.3l1.5-1.5 1.5 1.5-1.5 1.5zM256.7 803.3l1.5-1.5 1.5 1.5-1.5 1.5zM257.1 803.4l1.5-1.5 1.5 1.5-1.5 1.5zM257.5 803.6l1.5-1.5 1.5 1.5-1.5 1.5zM257.8 803.3l1.5-1.5 1.5 1.5-1.5 1.5zM258.2 803.5l1.5-1.5 1.5 1.5-1.5 1.5zM258.5 803.5l1.5-1.5 1.5 1.5-1.5 1.5zM258.9 803.6l1.5-1.5 1.5 1.5-1.5 1.5zM259.2 803.4l1.5-1.5 1.5 1.5-1.5 1.5zM259.6 803.4l1.5-1.5 1.5 1.5-1.5 1.5zM259.9 803.5l1.5-1.5 1.5 1.5-1.5 1.5zM260.2 803.4l1.5-1.5 1.5 1.5-1.5 1.5zM260.5 803.6l1.5-1.5 1.5 1.5-1.5 1.5zM260.8 803.1l1.5-1.5 1.5 1.5-1.5 1.5zM261.2 803.2l1.5-1.5 1.5 1.5-1.5 1.5zM261.5 803.1l1.5-1.5 1.5 1.5-1.5 1.5zM261.8 803.4l1.5-1.5 1.5 1.5-1.5 1.5zM262.1 803.7l1.5-1.5 1.5 1.5-1.5 1.5zM262.4 803.5l1.5-1.5 1.5 1.5-1.5 1.5zM262.7 803.5l1.5-1.5 1.5 1.5-1.5 1.5zM262.9 803.7l1.5-1.5 1.5 1.5-1.5 1.5zM263.2 803.6l1.5-1.5 1.5 1.5-1.5 1.5zM263.5 803.3l1.5-1.5 1.5 1.5-1.5 1.5zM263.8 803.2l1.5-1.5 1.5 1.5-1.5 1.5zM264.1 803.4l1.5-1.5 1.5 1.5-1.5 1.5zM264.3 803.2l1.5-1.5 1.5 1.5-1.5 1.5zM264.6 803.5l1.5-1.5 1.5 1.5-1.5 1.5zM264.9 803.1l1.5-1.5 1.5 1.5-1.5 1.5zM265.1 803.3l1.5-1.5 1.5 1.5-1.5 1.5zM265.4 803.6l1.5-1.5 1.5 1.5-1.5 1.5zM265.6 803.2l1.5-1.5 1.5 1.5-1.5 1.5zM265.9 803.2l1.5-1.5 1.5 1.5-1.5 1.5zM266.1 803.6l1.5-1.5 1.5 1.5-1.5 1.5zM266.4 803.2l1.5-1.5 1.5 1.5-1.5 1.5zM266.6 803.7l1.5-1.5 1.5 1.5-1.5 1.5zM266.9 803.5l1.5-1.5 1.5 1.5-1.5 1.5zM267.1 803.7l1.5-1.5 1.5 1.5-1.5 1.5zM267.3 803.4l1.5-1.5 1.5 1.5-1.5 1.5zM267.6 803.4l1.5-1.5 1.5 1.5-1.5 1.5zM267.8 803.2l1.5-1.5 1.5 1.5-1.5 1.5zM268.0 803.1l1.5-1.5 1.5 1.5-1.5 1.5zM268.3 803.7l1.5-1.5 1.5 1.5-1.5 1.5zM268.5 803.2l1.5-1.5 1.5 1.5-1.5 1.5zM268.7 803.1l1.5-1.5 1.5 1.5-1.5 1.5z" fill="#ff0000"/>
<text x="277.2" y="649.9" font-size="12.2" text-anchor="start" fill="#a020d0">S32</text>
<text x="276.3" y="810.4" font-size="12.2" text-anchor="start" fill="#f01010">S1</text>
<line x1="285.4" y1="652.8" x2="285.4" y2="798.7" stroke="#ff3399" stroke-width="1.0" stroke-dasharray="1.6,1.4"/>
<rect x="380.8" y="616.0" width="252.8" height="231.2" fill="none" stroke="#000" stroke-width="1.3"/>
<line x1="427.4" y1="847.2" x2="427.4" y2="842.8" stroke="#000" stroke-width="1.1"/>
<line x1="427.4" y1="616.0" x2="427.4" y2="620.4" stroke="#000" stroke-width="1.1"/>
<line x1="517.0" y1="847.2" x2="517.0" y2="842.8" stroke="#000" stroke-width="1.1"/>
<line x1="517.0" y1="616.0" x2="517.0" y2="620.4" stroke="#000" stroke-width="1.1"/>
<line x1="606.6" y1="847.2" x2="606.6" y2="842.8" stroke="#000" stroke-width="1.1"/>
<line x1="606.6" y1="616.0" x2="606.6" y2="620.4" stroke="#000" stroke-width="1.1"/>
<line x1="391.7" y1="847.2" x2="391.7" y2="844.9" stroke="#000" stroke-width="1.1"/>
<line x1="391.7" y1="616.0" x2="391.7" y2="618.3" stroke="#000" stroke-width="1.1"/>
<line x1="400.4" y1="847.2" x2="400.4" y2="844.9" stroke="#000" stroke-width="1.1"/>
<line x1="400.4" y1="616.0" x2="400.4" y2="618.3" stroke="#000" stroke-width="1.1"/>
<line x1="407.5" y1="847.2" x2="407.5" y2="844.9" stroke="#000" stroke-width="1.1"/>
<line x1="407.5" y1="616.0" x2="407.5" y2="618.3" stroke="#000" stroke-width="1.1"/>
<line x1="413.5" y1="847.2" x2="413.5" y2="844.9" stroke="#000" stroke-width="1.1"/>
<line x1="413.5" y1="616.0" x2="413.5" y2="618.3" stroke="#000" stroke-width="1.1"/>
<line x1="418.7" y1="847.2" x2="418.7" y2="844.9" stroke="#000" stroke-width="1.1"/>
<line x1="418.7" y1="616.0" x2="418.7" y2="618.3" stroke="#000" stroke-width="1.1"/>
<line x1="423.3" y1="847.2" x2="423.3" y2="844.9" stroke="#000" stroke-width="1.1"/>
<line x1="423.3" y1="616.0" x2="423.3" y2="618.3" stroke="#000" stroke-width="1.1"/>
<line x1="454.4" y1="847.2" x2="454.4" y2="844.9" stroke="#000" stroke-width="1.1"/>
<line x1="454.4" y1="616.0" x2="454.4" y2="618.3" stroke="#000" stroke-width="1.1"/>
<line x1="470.2" y1="847.2" x2="470.2" y2="844.9" stroke="#000" stroke-width="1.1"/>
<line x1="470.2" y1="616.0" x2="470.2" y2="618.3" stroke="#000" stroke-width="1.1"/>
<line x1="481.3" y1="847.2" x2="481.3" y2="844.9" stroke="#000" stroke-width="1.1"/>
<line x1="481.3" y1="616.0" x2="481.3" y2="618.3" stroke="#000" stroke-width="1.1"/>
<line x1="490.0" y1="847.2" x2="490.0" y2="844.9" stroke="#000" stroke-width="1.1"/>
<line x1="490.0" y1="616.0" x2="490.0" y2="618.3" stroke="#000" stroke-width="1.1"/>
<line x1="497.1" y1="847.2" x2="497.1" y2="844.9" stroke="#000" stroke-width="1.1"/>
<line x1="497.1" y1="616.0" x2="497.1" y2="618.3" stroke="#000" stroke-width="1.1"/>
<line x1="503.1" y1="847.2" x2="503.1" y2="844.9" stroke="#000" stroke-width="1.1"/>
<line x1="503.1" y1="616.0" x2="503.1" y2="618.3" stroke="#000" stroke-width="1.1"/>
<line x1="508.3" y1="847.2" x2="508.3" y2="844.9" stroke="#000" stroke-width="1.1"/>
<line x1="508.3" y1="616.0" x2="508.3" y2="618.3" stroke="#000" stroke-width="1.1"/>
<line x1="512.9" y1="847.2" x2="512.9" y2="844.9" stroke="#000" stroke-width="1.1"/>
<line x1="512.9" y1="616.0" x2="512.9" y2="618.3" stroke="#000" stroke-width="1.1"/>
<line x1="544.0" y1="847.2" x2="544.0" y2="844.9" stroke="#000" stroke-width="1.1"/>
<line x1="544.0" y1="616.0" x2="544.0" y2="618.3" stroke="#000" stroke-width="1.1"/>
<line x1="559.8" y1="847.2" x2="559.8" y2="844.9" stroke="#000" stroke-width="1.1"/>
<line x1="559.8" y1="616.0" x2="559.8" y2="618.3" stroke="#000" stroke-width="1.1"/>
<line x1="570.9" y1="847.2" x2="570.9" y2="844.9" stroke="#000" stroke-width="1.1"/>
<line x1="570.9" y1="616.0" x2="570.9" y2="618.3" stroke="#000" stroke-width="1.1"/>
<line x1="579.6" y1="847.2" x2="579.6" y2="844.9" stroke="#000" stroke-width="1.1"/>
<line x1="579.6" y1="616.0" x2="579.6" y2="618.3" stroke="#000" stroke-width="1.1"/>
<line x1="586.7" y1="847.2" x2="586.7" y2="844.9" stroke="#000" stroke-width="1.1"/>
<line x1="586.7" y1="616.0" x2="586.7" y2="618.3" stroke="#000" stroke-width="1.1"/>
<line x1="592.7" y1="847.2" x2="592.7" y2="844.9" stroke="#000" stroke-width="1.1"/>
<line x1="592.7" y1="616.0" x2="592.7" y2="618.3" stroke="#000" stroke-width="1.1"/>
<line x1="597.9" y1="847.2" x2="597.9" y2="844.9" stroke="#000" stroke-width="1.1"/>
<line x1="597.9" y1="616.0" x2="597.9" y2="618.3" stroke="#000" stroke-width="1.1"/>
<line x1="602.5" y1="847.2" x2="602.5" y2="844.9" stroke="#000" stroke-width="1.1"/>
<line x1="602.5" y1="616.0" x2="602.5" y2="618.3" stroke="#000" stroke-width="1.1"/>
<line x1="380.8" y1="824.3" x2="385.2" y2="824.3" stroke="#000" stroke-width="1.1"/>
<line x1="380.8" y1="778.0" x2="385.2" y2="778.0" stroke="#000" stroke-width="1.1"/>
<line x1="380.8" y1="731.7" x2="385.2" y2="731.7" stroke="#000" stroke-width="1.1"/>
<line x1="380.8" y1="685.4" x2="385.2" y2="685.4" stroke="#000" stroke-width="1.1"/>
<line x1="380.8" y1="639.1" x2="385.2" y2="639.1" stroke="#000" stroke-width="1.1"/>
<line x1="380.8" y1="847.4" x2="383.1" y2="847.4" stroke="#000" stroke-width="1.1"/>
<line x1="380.8" y1="801.1" x2="383.1" y2="801.1" stroke="#000" stroke-width="1.1"/>
<line x1="380.8" y1="754.8" x2="383.1" y2="754.8" stroke="#000" stroke-width="1.1"/>
<line x1="380.8" y1="708.5" x2="383.1" y2="708.5" stroke="#000" stroke-width="1.1"/>
<line x1="380.8" y1="662.2" x2="383.1" y2="662.2" stroke="#000" stroke-width="1.1"/>
<line x1="380.8" y1="615.9" x2="383.1" y2="615.9" stroke="#000" stroke-width="1.1"/>
<line x1="633.6" y1="824.5" x2="629.2" y2="824.5" stroke="#000" stroke-width="1.1"/>
<line x1="633.6" y1="779.9" x2="629.2" y2="779.9" stroke="#000" stroke-width="1.1"/>
<line x1="633.6" y1="735.3" x2="629.2" y2="735.3" stroke="#000" stroke-width="1.1"/>
<line x1="633.6" y1="690.7" x2="629.2" y2="690.7" stroke="#000" stroke-width="1.1"/>
<line x1="633.6" y1="646.1" x2="629.2" y2="646.1" stroke="#000" stroke-width="1.1"/>
<line x1="633.6" y1="802.2" x2="631.3" y2="802.2" stroke="#000" stroke-width="1.1"/>
<line x1="633.6" y1="757.6" x2="631.3" y2="757.6" stroke="#000" stroke-width="1.1"/>
<line x1="633.6" y1="713.0" x2="631.3" y2="713.0" stroke="#000" stroke-width="1.1"/>
<line x1="633.6" y1="668.4" x2="631.3" y2="668.4" stroke="#000" stroke-width="1.1"/>
<line x1="633.6" y1="623.8" x2="631.3" y2="623.8" stroke="#000" stroke-width="1.1"/>
<text x="374.3" y="829.6" font-size="15.2" text-anchor="end" fill="#000">0.0</text>
<text x="374.3" y="783.3" font-size="15.2" text-anchor="end" fill="#000">0.5</text>
<text x="374.3" y="737.0" font-size="15.2" text-anchor="end" fill="#000">1.0</text>
<text x="374.3" y="690.7" font-size="15.2" text-anchor="end" fill="#000">1.5</text>
<text x="374.3" y="644.4" font-size="15.2" text-anchor="end" fill="#000">2.0</text>
<text x="639.9" y="829.8" font-size="15.2" text-anchor="start" fill="#000">0.0</text>
<text x="639.9" y="785.2" font-size="15.2" text-anchor="start" fill="#000">0.2</text>
<text x="639.9" y="740.6" font-size="15.2" text-anchor="start" fill="#000">0.4</text>
<text x="639.9" y="696.0" font-size="15.2" text-anchor="start" fill="#000">0.6</text>
<text x="639.9" y="651.4" font-size="15.2" text-anchor="start" fill="#000">0.8</text>
<text x="427.4" y="864.5" font-size="15.2" text-anchor="middle" fill="#000">1</text>
<text x="517.0" y="864.5" font-size="15.2" text-anchor="middle" fill="#000">10</text>
<text x="606.6" y="864.5" font-size="15.2" text-anchor="middle" fill="#000">100</text>
<text x="507.2" y="884.3" font-size="14.5" text-anchor="middle" fill="#000">Pulse duration (ns)</text>
<text x="329.8" y="621.5" font-size="21.5" font-weight="bold">f</text>
<line x1="391.2" y1="811.5" x2="613.4" y2="647.6" stroke="#ff8800" stroke-width="1.3"/>
<line x1="391.2" y1="818.7" x2="613.4" y2="696.2" stroke="#0000ff" stroke-width="1.3"/>
<rect x="404.3" y="798.8" width="5.8" height="5.8" fill="#ff8800"/>
<rect x="423.7" y="784.1" width="5.8" height="5.8" fill="#ff8800"/>
<rect x="436.4" y="776.5" width="5.8" height="5.8" fill="#ff8800"/>
<rect x="467.0" y="757.5" width="5.8" height="5.8" fill="#ff8800"/>
<rect x="487.1" y="741.6" width="5.8" height="5.8" fill="#ff8800"/>
<rect x="514.1" y="697.8" width="5.8" height="5.8" fill="#ff8800"/>
<rect x="541.0" y="694.3" width="5.8" height="5.8" fill="#ff8800"/>
<rect x="584.0" y="672.9" width="5.8" height="5.8" fill="#ff8800"/>
<rect x="603.4" y="650.4" width="5.8" height="5.8" fill="#ff8800"/>
<circle cx="407.0" cy="808.9" r="3.4" fill="#0000ff"/>
<circle cx="426.2" cy="799.9" r="3.4" fill="#0000ff"/>
<circle cx="439.0" cy="795.6" r="3.4" fill="#0000ff"/>
<circle cx="469.4" cy="775.2" r="3.4" fill="#0000ff"/>
<circle cx="489.6" cy="768.0" r="3.4" fill="#0000ff"/>
<circle cx="516.3" cy="749.3" r="3.4" fill="#0000ff"/>
<circle cx="543.3" cy="730.3" r="3.4" fill="#0000ff"/>
<circle cx="586.2" cy="711.9" r="3.4" fill="#0000ff"/>
<circle cx="605.9" cy="699.9" r="3.4" fill="#0000ff"/>
<rect x="531.9" y="780.0" width="6" height="6" fill="#ff8800"/>
<circle cx="534.2" cy="807.7" r="3.5" fill="#0000ff"/>
<text x="543.6" y="787.6" font-size="13.0" text-anchor="start" fill="#000" style="font-style:italic;">E</text>
<text x="551.0" y="790.8" font-size="9.5" text-anchor="start" fill="#000">c</text>
<text x="552.0" y="782.0" font-size="9.5" text-anchor="start" fill="#000">+</text>
<text x="560.5" y="787.6" font-size="13.0" text-anchor="start" fill="#000">,</text>
<text x="568.4" y="787.6" font-size="13.0" text-anchor="start" fill="#000" style="font-style:italic;">V</text>
<text x="574.6" y="790.8" font-size="9.5" text-anchor="start" fill="#000">c</text>
<text x="577.6" y="782.0" font-size="9.5" text-anchor="start" fill="#000">+</text>
<text x="542.5" y="811.6" font-size="13.0" text-anchor="start" fill="#000">−</text>
<text x="550.6" y="811.6" font-size="13.0" text-anchor="start" fill="#000" style="font-style:italic;">E</text>
<text x="558.0" y="814.8" font-size="9.5" text-anchor="start" fill="#000">c</text>
<text x="558.3" y="806.0" font-size="9.5" text-anchor="start" fill="#000">−</text>
<text x="568.2" y="811.6" font-size="13.0" text-anchor="start" fill="#000">, −</text>
<text x="583.5" y="811.6" font-size="13.0" text-anchor="start" fill="#000" style="font-style:italic;">V</text>
<text x="589.7" y="814.8" font-size="9.5" text-anchor="start" fill="#000">c</text>
<text x="590.7" y="806.0" font-size="9.5" text-anchor="start" fill="#000">−</text>
<text x="342.4" y="731.6" font-size="14.5" text-anchor="middle" fill="#000" transform="rotate(-90 342.4 731.6)">1/<tspan font-style="italic">E</tspan><tspan font-size="10.5" dy="3">c</tspan><tspan dy="-3"> (nm/V)</tspan></text>
<text x="679.6" y="735.6" font-size="14.5" text-anchor="middle" fill="#000" transform="rotate(-90 679.6 735.6)">1/<tspan font-style="italic">V</tspan><tspan font-size="10.5" dy="3">c</tspan><tspan dy="-3"> (1/V)</tspan></text>
</svg></body></html>
